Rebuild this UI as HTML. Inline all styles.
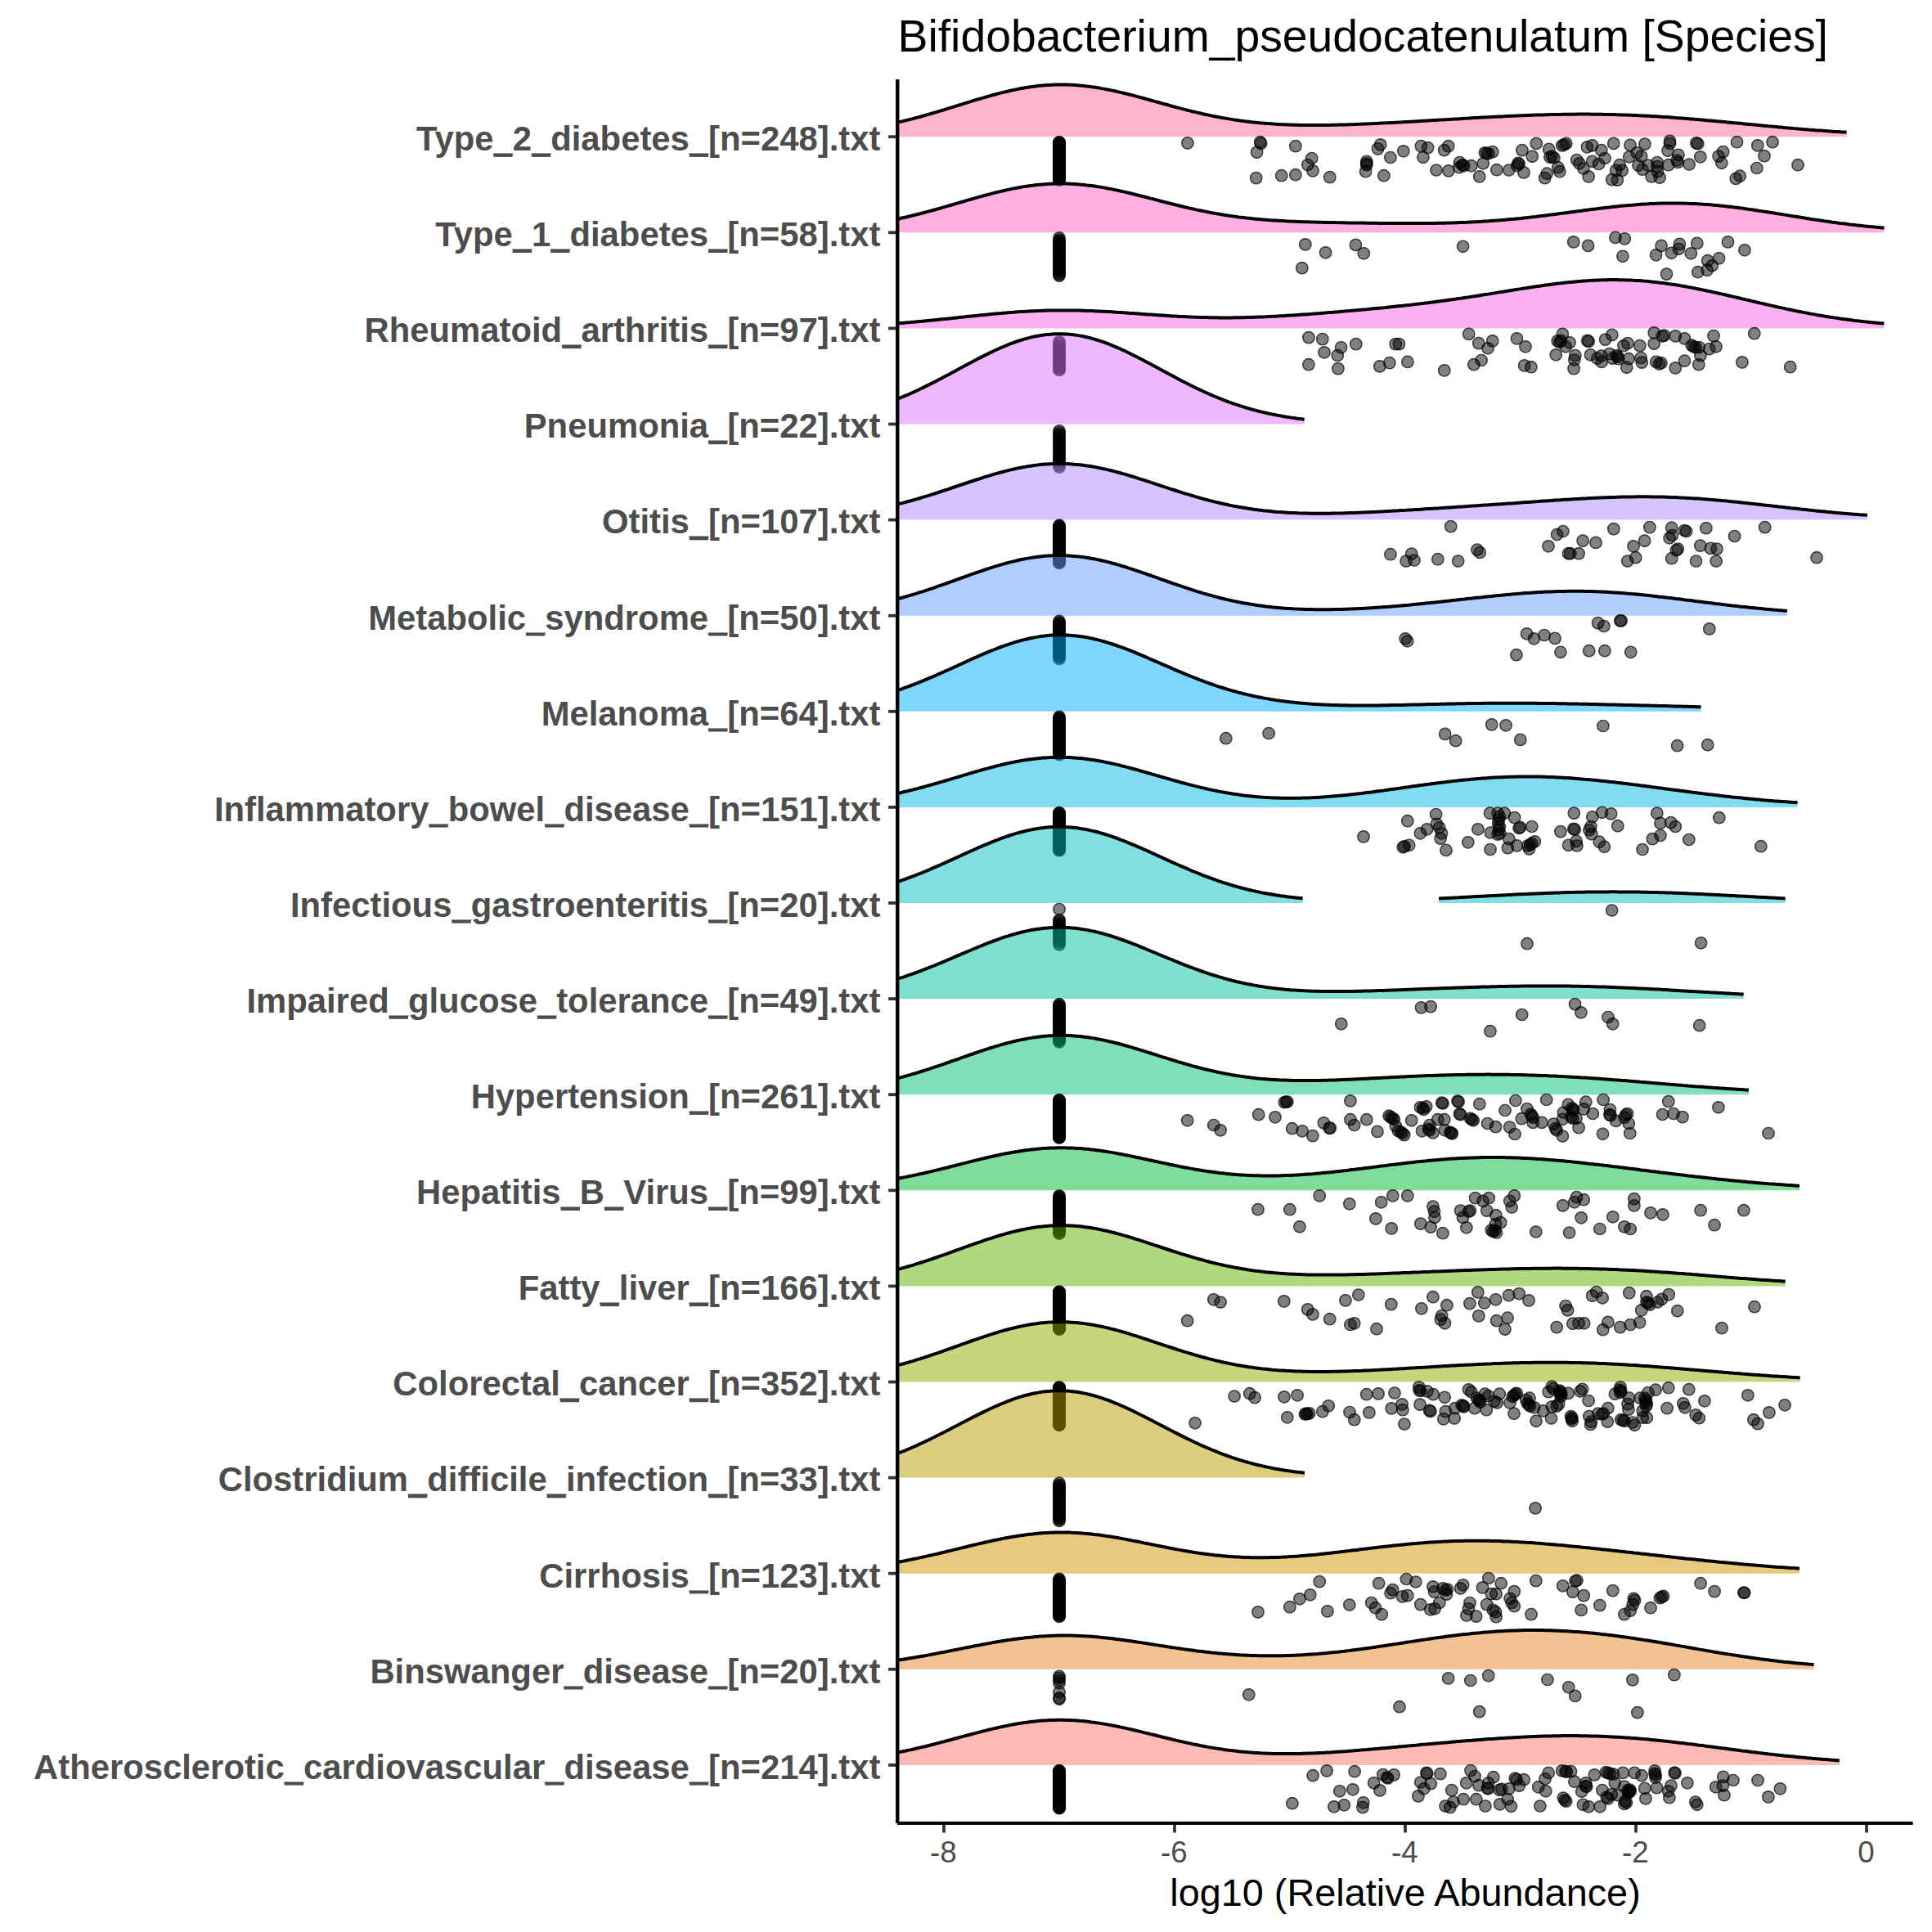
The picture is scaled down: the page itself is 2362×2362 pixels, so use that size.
<!DOCTYPE html>
<html><head><meta charset="utf-8"><title>Bifidobacterium_pseudocatenulatum [Species]</title>
<style>html,body{margin:0;padding:0;background:#fff;}body{width:2362px;height:2362px;overflow:hidden;font-family:"Liberation Sans",sans-serif;}</style>
</head><body>
<svg width="2362" height="2362" viewBox="0 0 2362 2362" style="display:block">
<rect width="2362" height="2362" fill="#fff"/>
<defs><radialGradient id="pg"><stop offset="0" stop-color="#000" stop-opacity=".5"/><stop offset=".77" stop-color="#000" stop-opacity=".5"/><stop offset=".81" stop-color="#000" stop-opacity=".76"/><stop offset="1" stop-color="#000" stop-opacity=".76"/></radialGradient></defs>
<defs><clipPath id="pc"><rect x="1097.6" y="97.2" width="1240.8" height="2131.8"/></clipPath></defs>
<g clip-path="url(#pc)">
<polygon points="1091.6,167.2 1091.6,150.9 1094.6,150.2 1097.6,149.6 1100.6,148.9 1103.6,148.2 1106.6,147.4 1109.6,146.7 1112.6,145.9 1115.6,145.2 1118.6,144.4 1121.6,143.6 1124.6,142.8 1127.6,142.0 1130.6,141.1 1133.6,140.3 1136.6,139.4 1139.6,138.5 1142.6,137.7 1145.6,136.8 1148.6,135.9 1151.6,135.0 1154.6,134.1 1157.6,133.1 1160.6,132.2 1163.6,131.3 1166.6,130.4 1169.6,129.4 1172.6,128.5 1175.6,127.6 1178.6,126.6 1181.6,125.7 1184.6,124.8 1187.6,123.9 1190.6,122.9 1193.6,122.0 1196.6,121.1 1199.6,120.3 1202.6,119.4 1205.6,118.5 1208.6,117.7 1211.6,116.8 1214.6,116.0 1217.6,115.2 1220.6,114.4 1223.6,113.6 1226.6,112.9 1229.6,112.2 1232.6,111.5 1235.6,110.8 1238.6,110.1 1241.6,109.5 1244.6,108.9 1247.6,108.3 1250.6,107.8 1253.6,107.3 1256.6,106.8 1259.6,106.3 1262.6,105.9 1265.6,105.5 1268.6,105.1 1271.6,104.8 1274.6,104.5 1277.6,104.3 1280.6,104.1 1283.6,103.9 1286.6,103.7 1289.6,103.6 1292.6,103.5 1295.6,103.5 1298.6,103.5 1301.6,103.5 1304.6,103.6 1307.6,103.7 1310.6,103.8 1313.6,104.0 1316.6,104.2 1319.6,104.5 1322.6,104.7 1325.6,105.0 1328.6,105.4 1331.6,105.7 1334.6,106.2 1337.6,106.6 1340.6,107.0 1343.6,107.5 1346.6,108.1 1349.6,108.6 1352.6,109.2 1355.6,109.8 1358.6,110.4 1361.6,111.0 1364.6,111.7 1367.6,112.4 1370.6,113.1 1373.6,113.8 1376.6,114.5 1379.6,115.3 1382.6,116.0 1385.6,116.8 1388.6,117.6 1391.6,118.4 1394.6,119.2 1397.6,120.0 1400.6,120.8 1403.6,121.7 1406.6,122.5 1409.6,123.3 1412.6,124.2 1415.6,125.0 1418.6,125.8 1421.6,126.7 1424.6,127.5 1427.6,128.3 1430.6,129.1 1433.6,130.0 1436.6,130.8 1439.6,131.6 1442.6,132.4 1445.6,133.1 1448.6,133.9 1451.6,134.7 1454.6,135.4 1457.6,136.2 1460.6,136.9 1463.6,137.6 1466.6,138.3 1469.6,139.0 1472.6,139.7 1475.6,140.3 1478.6,140.9 1481.6,141.6 1484.6,142.2 1487.6,142.8 1490.6,143.3 1493.6,143.9 1496.6,144.4 1499.6,144.9 1502.6,145.4 1505.6,145.9 1508.6,146.4 1511.6,146.8 1514.6,147.3 1517.6,147.7 1520.6,148.1 1523.6,148.5 1526.6,148.8 1529.6,149.2 1532.6,149.5 1535.6,149.8 1538.6,150.1 1541.6,150.4 1544.6,150.6 1547.6,150.9 1550.6,151.1 1553.6,151.3 1556.6,151.5 1559.6,151.7 1562.6,151.9 1565.6,152.1 1568.6,152.2 1571.6,152.3 1574.6,152.5 1577.6,152.6 1580.6,152.7 1583.6,152.7 1586.6,152.8 1589.6,152.9 1592.6,152.9 1595.6,153.0 1598.6,153.0 1601.6,153.0 1604.6,153.0 1607.6,153.0 1610.6,153.0 1613.6,153.0 1616.6,153.0 1619.6,152.9 1622.6,152.9 1625.6,152.9 1628.6,152.8 1631.6,152.7 1634.6,152.7 1637.6,152.6 1640.6,152.5 1643.6,152.4 1646.6,152.4 1649.6,152.3 1652.6,152.2 1655.6,152.1 1658.6,151.9 1661.6,151.8 1664.6,151.7 1667.6,151.6 1670.6,151.5 1673.6,151.3 1676.6,151.2 1679.6,151.1 1682.6,150.9 1685.6,150.8 1688.6,150.6 1691.6,150.5 1694.6,150.3 1697.6,150.2 1700.6,150.0 1703.6,149.9 1706.6,149.7 1709.6,149.5 1712.6,149.4 1715.6,149.2 1718.6,149.0 1721.6,148.9 1724.6,148.7 1727.6,148.5 1730.6,148.4 1733.6,148.2 1736.6,148.0 1739.6,147.8 1742.6,147.7 1745.6,147.5 1748.6,147.3 1751.6,147.1 1754.6,147.0 1757.6,146.8 1760.6,146.6 1763.6,146.4 1766.6,146.2 1769.6,146.1 1772.6,145.9 1775.6,145.7 1778.6,145.5 1781.6,145.4 1784.6,145.2 1787.6,145.0 1790.6,144.8 1793.6,144.7 1796.6,144.5 1799.6,144.3 1802.6,144.1 1805.6,144.0 1808.6,143.8 1811.6,143.6 1814.6,143.5 1817.6,143.3 1820.6,143.2 1823.6,143.0 1826.6,142.8 1829.6,142.7 1832.6,142.5 1835.6,142.4 1838.6,142.3 1841.6,142.1 1844.6,142.0 1847.6,141.8 1850.6,141.7 1853.6,141.6 1856.6,141.4 1859.6,141.3 1862.6,141.2 1865.6,141.1 1868.6,141.0 1871.6,140.8 1874.6,140.7 1877.6,140.6 1880.6,140.5 1883.6,140.5 1886.6,140.4 1889.6,140.3 1892.6,140.2 1895.6,140.1 1898.6,140.1 1901.6,140.0 1904.6,139.9 1907.6,139.9 1910.6,139.8 1913.6,139.8 1916.6,139.7 1919.6,139.7 1922.6,139.7 1925.6,139.7 1928.6,139.6 1931.6,139.6 1934.6,139.6 1937.6,139.6 1940.6,139.6 1943.6,139.6 1946.6,139.7 1949.6,139.7 1952.6,139.7 1955.6,139.8 1958.6,139.8 1961.6,139.9 1964.6,139.9 1967.6,140.0 1970.6,140.0 1973.6,140.1 1976.6,140.2 1979.6,140.3 1982.6,140.4 1985.6,140.5 1988.6,140.6 1991.6,140.7 1994.6,140.8 1997.6,140.9 2000.6,141.1 2003.6,141.2 2006.6,141.4 2009.6,141.5 2012.6,141.7 2015.6,141.8 2018.6,142.0 2021.6,142.2 2024.6,142.3 2027.6,142.5 2030.6,142.7 2033.6,142.9 2036.6,143.1 2039.6,143.3 2042.6,143.5 2045.6,143.7 2048.6,144.0 2051.6,144.2 2054.6,144.4 2057.6,144.6 2060.6,144.9 2063.6,145.1 2066.6,145.4 2069.6,145.6 2072.6,145.9 2075.6,146.1 2078.6,146.4 2081.6,146.6 2084.6,146.9 2087.6,147.2 2090.6,147.4 2093.6,147.7 2096.6,148.0 2099.6,148.3 2102.6,148.5 2105.6,148.8 2108.6,149.1 2111.6,149.4 2114.6,149.7 2117.6,150.0 2120.6,150.3 2123.6,150.5 2126.6,150.8 2129.6,151.1 2132.6,151.4 2135.6,151.7 2138.6,152.0 2141.6,152.3 2144.6,152.6 2147.6,152.8 2150.6,153.1 2153.6,153.4 2156.6,153.7 2159.6,154.0 2162.6,154.3 2165.6,154.5 2168.6,154.8 2171.6,155.1 2174.6,155.4 2177.6,155.6 2180.6,155.9 2183.6,156.2 2186.6,156.4 2189.6,156.7 2192.6,157.0 2195.6,157.2 2198.6,157.5 2201.6,157.7 2204.6,158.0 2207.6,158.2 2210.6,158.5 2213.6,158.7 2216.6,158.9 2219.6,159.2 2222.6,159.4 2225.6,159.6 2228.6,159.8 2231.6,160.0 2234.6,160.3 2237.6,160.5 2240.6,160.7 2243.6,160.9 2246.6,161.1 2249.6,161.3 2252.6,161.5 2255.6,161.6 2257.6,161.8 2257.6,167.2" fill="#FF699C" fill-opacity="0.5"/>
<polyline points="1091.6,150.9 1094.6,150.2 1097.6,149.6 1100.6,148.9 1103.6,148.2 1106.6,147.4 1109.6,146.7 1112.6,145.9 1115.6,145.2 1118.6,144.4 1121.6,143.6 1124.6,142.8 1127.6,142.0 1130.6,141.1 1133.6,140.3 1136.6,139.4 1139.6,138.5 1142.6,137.7 1145.6,136.8 1148.6,135.9 1151.6,135.0 1154.6,134.1 1157.6,133.1 1160.6,132.2 1163.6,131.3 1166.6,130.4 1169.6,129.4 1172.6,128.5 1175.6,127.6 1178.6,126.6 1181.6,125.7 1184.6,124.8 1187.6,123.9 1190.6,122.9 1193.6,122.0 1196.6,121.1 1199.6,120.3 1202.6,119.4 1205.6,118.5 1208.6,117.7 1211.6,116.8 1214.6,116.0 1217.6,115.2 1220.6,114.4 1223.6,113.6 1226.6,112.9 1229.6,112.2 1232.6,111.5 1235.6,110.8 1238.6,110.1 1241.6,109.5 1244.6,108.9 1247.6,108.3 1250.6,107.8 1253.6,107.3 1256.6,106.8 1259.6,106.3 1262.6,105.9 1265.6,105.5 1268.6,105.1 1271.6,104.8 1274.6,104.5 1277.6,104.3 1280.6,104.1 1283.6,103.9 1286.6,103.7 1289.6,103.6 1292.6,103.5 1295.6,103.5 1298.6,103.5 1301.6,103.5 1304.6,103.6 1307.6,103.7 1310.6,103.8 1313.6,104.0 1316.6,104.2 1319.6,104.5 1322.6,104.7 1325.6,105.0 1328.6,105.4 1331.6,105.7 1334.6,106.2 1337.6,106.6 1340.6,107.0 1343.6,107.5 1346.6,108.1 1349.6,108.6 1352.6,109.2 1355.6,109.8 1358.6,110.4 1361.6,111.0 1364.6,111.7 1367.6,112.4 1370.6,113.1 1373.6,113.8 1376.6,114.5 1379.6,115.3 1382.6,116.0 1385.6,116.8 1388.6,117.6 1391.6,118.4 1394.6,119.2 1397.6,120.0 1400.6,120.8 1403.6,121.7 1406.6,122.5 1409.6,123.3 1412.6,124.2 1415.6,125.0 1418.6,125.8 1421.6,126.7 1424.6,127.5 1427.6,128.3 1430.6,129.1 1433.6,130.0 1436.6,130.8 1439.6,131.6 1442.6,132.4 1445.6,133.1 1448.6,133.9 1451.6,134.7 1454.6,135.4 1457.6,136.2 1460.6,136.9 1463.6,137.6 1466.6,138.3 1469.6,139.0 1472.6,139.7 1475.6,140.3 1478.6,140.9 1481.6,141.6 1484.6,142.2 1487.6,142.8 1490.6,143.3 1493.6,143.9 1496.6,144.4 1499.6,144.9 1502.6,145.4 1505.6,145.9 1508.6,146.4 1511.6,146.8 1514.6,147.3 1517.6,147.7 1520.6,148.1 1523.6,148.5 1526.6,148.8 1529.6,149.2 1532.6,149.5 1535.6,149.8 1538.6,150.1 1541.6,150.4 1544.6,150.6 1547.6,150.9 1550.6,151.1 1553.6,151.3 1556.6,151.5 1559.6,151.7 1562.6,151.9 1565.6,152.1 1568.6,152.2 1571.6,152.3 1574.6,152.5 1577.6,152.6 1580.6,152.7 1583.6,152.7 1586.6,152.8 1589.6,152.9 1592.6,152.9 1595.6,153.0 1598.6,153.0 1601.6,153.0 1604.6,153.0 1607.6,153.0 1610.6,153.0 1613.6,153.0 1616.6,153.0 1619.6,152.9 1622.6,152.9 1625.6,152.9 1628.6,152.8 1631.6,152.7 1634.6,152.7 1637.6,152.6 1640.6,152.5 1643.6,152.4 1646.6,152.4 1649.6,152.3 1652.6,152.2 1655.6,152.1 1658.6,151.9 1661.6,151.8 1664.6,151.7 1667.6,151.6 1670.6,151.5 1673.6,151.3 1676.6,151.2 1679.6,151.1 1682.6,150.9 1685.6,150.8 1688.6,150.6 1691.6,150.5 1694.6,150.3 1697.6,150.2 1700.6,150.0 1703.6,149.9 1706.6,149.7 1709.6,149.5 1712.6,149.4 1715.6,149.2 1718.6,149.0 1721.6,148.9 1724.6,148.7 1727.6,148.5 1730.6,148.4 1733.6,148.2 1736.6,148.0 1739.6,147.8 1742.6,147.7 1745.6,147.5 1748.6,147.3 1751.6,147.1 1754.6,147.0 1757.6,146.8 1760.6,146.6 1763.6,146.4 1766.6,146.2 1769.6,146.1 1772.6,145.9 1775.6,145.7 1778.6,145.5 1781.6,145.4 1784.6,145.2 1787.6,145.0 1790.6,144.8 1793.6,144.7 1796.6,144.5 1799.6,144.3 1802.6,144.1 1805.6,144.0 1808.6,143.8 1811.6,143.6 1814.6,143.5 1817.6,143.3 1820.6,143.2 1823.6,143.0 1826.6,142.8 1829.6,142.7 1832.6,142.5 1835.6,142.4 1838.6,142.3 1841.6,142.1 1844.6,142.0 1847.6,141.8 1850.6,141.7 1853.6,141.6 1856.6,141.4 1859.6,141.3 1862.6,141.2 1865.6,141.1 1868.6,141.0 1871.6,140.8 1874.6,140.7 1877.6,140.6 1880.6,140.5 1883.6,140.5 1886.6,140.4 1889.6,140.3 1892.6,140.2 1895.6,140.1 1898.6,140.1 1901.6,140.0 1904.6,139.9 1907.6,139.9 1910.6,139.8 1913.6,139.8 1916.6,139.7 1919.6,139.7 1922.6,139.7 1925.6,139.7 1928.6,139.6 1931.6,139.6 1934.6,139.6 1937.6,139.6 1940.6,139.6 1943.6,139.6 1946.6,139.7 1949.6,139.7 1952.6,139.7 1955.6,139.8 1958.6,139.8 1961.6,139.9 1964.6,139.9 1967.6,140.0 1970.6,140.0 1973.6,140.1 1976.6,140.2 1979.6,140.3 1982.6,140.4 1985.6,140.5 1988.6,140.6 1991.6,140.7 1994.6,140.8 1997.6,140.9 2000.6,141.1 2003.6,141.2 2006.6,141.4 2009.6,141.5 2012.6,141.7 2015.6,141.8 2018.6,142.0 2021.6,142.2 2024.6,142.3 2027.6,142.5 2030.6,142.7 2033.6,142.9 2036.6,143.1 2039.6,143.3 2042.6,143.5 2045.6,143.7 2048.6,144.0 2051.6,144.2 2054.6,144.4 2057.6,144.6 2060.6,144.9 2063.6,145.1 2066.6,145.4 2069.6,145.6 2072.6,145.9 2075.6,146.1 2078.6,146.4 2081.6,146.6 2084.6,146.9 2087.6,147.2 2090.6,147.4 2093.6,147.7 2096.6,148.0 2099.6,148.3 2102.6,148.5 2105.6,148.8 2108.6,149.1 2111.6,149.4 2114.6,149.7 2117.6,150.0 2120.6,150.3 2123.6,150.5 2126.6,150.8 2129.6,151.1 2132.6,151.4 2135.6,151.7 2138.6,152.0 2141.6,152.3 2144.6,152.6 2147.6,152.8 2150.6,153.1 2153.6,153.4 2156.6,153.7 2159.6,154.0 2162.6,154.3 2165.6,154.5 2168.6,154.8 2171.6,155.1 2174.6,155.4 2177.6,155.6 2180.6,155.9 2183.6,156.2 2186.6,156.4 2189.6,156.7 2192.6,157.0 2195.6,157.2 2198.6,157.5 2201.6,157.7 2204.6,158.0 2207.6,158.2 2210.6,158.5 2213.6,158.7 2216.6,158.9 2219.6,159.2 2222.6,159.4 2225.6,159.6 2228.6,159.8 2231.6,160.0 2234.6,160.3 2237.6,160.5 2240.6,160.7 2243.6,160.9 2246.6,161.1 2249.6,161.3 2252.6,161.5 2255.6,161.6 2257.6,161.8" fill="none" stroke="#000" stroke-width="4.0" stroke-linejoin="round"/>
<g fill="url(#pg)"><circle cx="1295.0" cy="173.8" r="7.85"/><circle cx="1295.0" cy="174.2" r="7.85"/><circle cx="1295.0" cy="174.6" r="7.85"/><circle cx="1295.0" cy="174.8" r="7.85"/><circle cx="1295.0" cy="175.2" r="7.85"/><circle cx="1295.0" cy="175.5" r="7.85"/><circle cx="1295.0" cy="175.8" r="7.85"/><circle cx="1295.0" cy="176.2" r="7.85"/><circle cx="1295.0" cy="176.4" r="7.85"/><circle cx="1295.0" cy="176.8" r="7.85"/><circle cx="1295.0" cy="177.1" r="7.85"/><circle cx="1295.0" cy="177.4" r="7.85"/><circle cx="1295.0" cy="177.8" r="7.85"/><circle cx="1295.0" cy="178.2" r="7.85"/><circle cx="1295.0" cy="178.4" r="7.85"/><circle cx="1295.0" cy="178.7" r="7.85"/><circle cx="1295.0" cy="179.1" r="7.85"/><circle cx="1295.0" cy="179.5" r="7.85"/><circle cx="1295.0" cy="179.8" r="7.85"/><circle cx="1295.0" cy="180.1" r="7.85"/><circle cx="1295.0" cy="180.5" r="7.85"/><circle cx="1295.0" cy="180.7" r="7.85"/><circle cx="1295.0" cy="181.1" r="7.85"/><circle cx="1295.0" cy="181.4" r="7.85"/><circle cx="1295.0" cy="181.7" r="7.85"/><circle cx="1295.0" cy="182.0" r="7.85"/><circle cx="1295.0" cy="182.3" r="7.85"/><circle cx="1295.0" cy="182.7" r="7.85"/><circle cx="1295.0" cy="183.0" r="7.85"/><circle cx="1295.0" cy="183.4" r="7.85"/><circle cx="1295.0" cy="183.7" r="7.85"/><circle cx="1295.0" cy="184.0" r="7.85"/><circle cx="1295.0" cy="184.3" r="7.85"/><circle cx="1295.0" cy="184.6" r="7.85"/><circle cx="1295.0" cy="184.9" r="7.85"/><circle cx="1295.0" cy="185.3" r="7.85"/><circle cx="1295.0" cy="185.7" r="7.85"/><circle cx="1295.0" cy="186.0" r="7.85"/><circle cx="1295.0" cy="186.3" r="7.85"/><circle cx="1295.0" cy="186.6" r="7.85"/><circle cx="1295.0" cy="186.9" r="7.85"/><circle cx="1295.0" cy="187.2" r="7.85"/><circle cx="1295.0" cy="187.6" r="7.85"/><circle cx="1295.0" cy="188.0" r="7.85"/><circle cx="1295.0" cy="188.2" r="7.85"/><circle cx="1295.0" cy="188.6" r="7.85"/><circle cx="1295.0" cy="188.9" r="7.85"/><circle cx="1295.0" cy="189.3" r="7.85"/><circle cx="1295.0" cy="189.6" r="7.85"/><circle cx="1295.0" cy="189.8" r="7.85"/><circle cx="1295.0" cy="190.3" r="7.85"/><circle cx="1295.0" cy="190.5" r="7.85"/><circle cx="1295.0" cy="190.8" r="7.85"/><circle cx="1295.0" cy="191.2" r="7.85"/><circle cx="1295.0" cy="191.5" r="7.85"/><circle cx="1295.0" cy="191.8" r="7.85"/><circle cx="1295.0" cy="192.1" r="7.85"/><circle cx="1295.0" cy="192.5" r="7.85"/><circle cx="1295.0" cy="192.9" r="7.85"/><circle cx="1295.0" cy="193.2" r="7.85"/><circle cx="1295.0" cy="193.5" r="7.85"/><circle cx="1295.0" cy="193.8" r="7.85"/><circle cx="1295.0" cy="194.2" r="7.85"/><circle cx="1295.0" cy="194.5" r="7.85"/><circle cx="1295.0" cy="194.8" r="7.85"/><circle cx="1295.0" cy="195.1" r="7.85"/><circle cx="1295.0" cy="195.5" r="7.85"/><circle cx="1295.0" cy="195.8" r="7.85"/><circle cx="1295.0" cy="196.1" r="7.85"/><circle cx="1295.0" cy="196.4" r="7.85"/><circle cx="1295.0" cy="196.7" r="7.85"/><circle cx="1295.0" cy="197.1" r="7.85"/><circle cx="1295.0" cy="197.4" r="7.85"/><circle cx="1295.0" cy="197.8" r="7.85"/><circle cx="1295.0" cy="198.1" r="7.85"/><circle cx="1295.0" cy="198.3" r="7.85"/><circle cx="1295.0" cy="198.7" r="7.85"/><circle cx="1295.0" cy="199.0" r="7.85"/><circle cx="1295.0" cy="199.3" r="7.85"/><circle cx="1295.0" cy="199.7" r="7.85"/><circle cx="1295.0" cy="199.9" r="7.85"/><circle cx="1295.0" cy="200.3" r="7.85"/><circle cx="1295.0" cy="200.6" r="7.85"/><circle cx="1295.0" cy="201.0" r="7.85"/><circle cx="1295.0" cy="201.2" r="7.85"/><circle cx="1295.0" cy="201.6" r="7.85"/><circle cx="1295.0" cy="201.9" r="7.85"/><circle cx="1295.0" cy="202.3" r="7.85"/><circle cx="1295.0" cy="202.5" r="7.85"/><circle cx="1295.0" cy="202.9" r="7.85"/><circle cx="1295.0" cy="203.3" r="7.85"/><circle cx="1295.0" cy="203.7" r="7.85"/><circle cx="1295.0" cy="204.0" r="7.85"/><circle cx="1295.0" cy="204.3" r="7.85"/><circle cx="1295.0" cy="204.5" r="7.85"/><circle cx="1295.0" cy="204.9" r="7.85"/><circle cx="1295.0" cy="205.2" r="7.85"/><circle cx="1295.0" cy="205.6" r="7.85"/><circle cx="1295.0" cy="206.0" r="7.85"/><circle cx="1295.0" cy="206.1" r="7.85"/><circle cx="1295.0" cy="206.5" r="7.85"/><circle cx="1295.0" cy="206.8" r="7.85"/><circle cx="1295.0" cy="207.1" r="7.85"/><circle cx="1295.0" cy="207.5" r="7.85"/><circle cx="1295.0" cy="207.9" r="7.85"/><circle cx="1295.0" cy="208.1" r="7.85"/><circle cx="1295.0" cy="208.4" r="7.85"/><circle cx="1295.0" cy="208.8" r="7.85"/><circle cx="1295.0" cy="209.1" r="7.85"/><circle cx="1295.0" cy="209.5" r="7.85"/><circle cx="1295.0" cy="209.9" r="7.85"/><circle cx="1295.0" cy="210.2" r="7.85"/><circle cx="1295.0" cy="210.5" r="7.85"/><circle cx="1295.0" cy="210.8" r="7.85"/><circle cx="1295.0" cy="211.1" r="7.85"/><circle cx="1295.0" cy="211.4" r="7.85"/><circle cx="1295.0" cy="211.8" r="7.85"/><circle cx="1295.0" cy="212.1" r="7.85"/><circle cx="1295.0" cy="212.5" r="7.85"/><circle cx="1295.0" cy="212.8" r="7.85"/><circle cx="1295.0" cy="213.0" r="7.85"/><circle cx="1295.0" cy="213.4" r="7.85"/><circle cx="1295.0" cy="213.7" r="7.85"/><circle cx="1295.0" cy="214.1" r="7.85"/><circle cx="1295.0" cy="214.3" r="7.85"/><circle cx="1295.0" cy="214.6" r="7.85"/><circle cx="1295.0" cy="215.0" r="7.85"/><circle cx="1295.0" cy="215.3" r="7.85"/><circle cx="1295.0" cy="215.6" r="7.85"/><circle cx="1295.0" cy="215.9" r="7.85"/><circle cx="1295.0" cy="216.2" r="7.85"/><circle cx="1295.0" cy="216.6" r="7.85"/><circle cx="1295.0" cy="216.9" r="7.85"/><circle cx="1295.0" cy="217.3" r="7.85"/><circle cx="1295.0" cy="217.6" r="7.85"/><circle cx="1295.0" cy="218.0" r="7.85"/><circle cx="1295.0" cy="218.3" r="7.85"/><circle cx="1295.0" cy="218.6" r="7.85"/><circle cx="1295.0" cy="218.9" r="7.85"/><circle cx="1295.0" cy="219.2" r="7.85"/><circle cx="1295.0" cy="219.6" r="7.85"/><circle cx="1295.0" cy="220.0" r="7.85"/><circle cx="1451.9" cy="174.9" r="7.85"/><circle cx="1540.6" cy="173.7" r="7.85"/><circle cx="1541.6" cy="175.4" r="7.85"/><circle cx="1536.6" cy="186.1" r="7.85"/><circle cx="1535.7" cy="217.6" r="7.85"/><circle cx="1583.9" cy="178.6" r="7.85"/><circle cx="1566.7" cy="214.7" r="7.85"/><circle cx="1583.9" cy="213.7" r="7.85"/><circle cx="1603.7" cy="193.5" r="7.85"/><circle cx="1598.8" cy="201.5" r="7.85"/><circle cx="1605.0" cy="208.9" r="7.85"/><circle cx="1625.8" cy="216.6" r="7.85"/><circle cx="1687.7" cy="176.9" r="7.85"/><circle cx="1684.5" cy="181.9" r="7.85"/><circle cx="1670.8" cy="197.3" r="7.85"/><circle cx="1670.8" cy="199.8" r="7.85"/><circle cx="1670.8" cy="201.7" r="7.85"/><circle cx="1669.6" cy="209.7" r="7.85"/><circle cx="1699.9" cy="192.5" r="7.85"/><circle cx="1691.9" cy="214.7" r="7.85"/><circle cx="1715.8" cy="184.8" r="7.85"/><circle cx="1737.4" cy="178.6" r="7.85"/><circle cx="1745.6" cy="180.6" r="7.85"/><circle cx="1739.9" cy="192.3" r="7.85"/><circle cx="1770.7" cy="178.6" r="7.85"/><circle cx="1765.7" cy="183.6" r="7.85"/><circle cx="1756.0" cy="208.0" r="7.85"/><circle cx="1770.9" cy="208.9" r="7.85"/><circle cx="1784.6" cy="198.5" r="7.85"/><circle cx="1783.9" cy="204.7" r="7.85"/><circle cx="1788.1" cy="201.7" r="7.85"/><circle cx="1789.6" cy="202.7" r="7.85"/><circle cx="1798.8" cy="202.7" r="7.85"/><circle cx="1813.2" cy="199.8" r="7.85"/><circle cx="1808.7" cy="215.9" r="7.85"/><circle cx="1815.4" cy="186.8" r="7.85"/><circle cx="1817.4" cy="187.3" r="7.85"/><circle cx="1819.9" cy="187.8" r="7.85"/><circle cx="1824.8" cy="185.6" r="7.85"/><circle cx="1829.8" cy="207.7" r="7.85"/><circle cx="1844.7" cy="208.0" r="7.85"/><circle cx="1860.9" cy="183.6" r="7.85"/><circle cx="1856.1" cy="199.3" r="7.85"/><circle cx="1857.1" cy="200.5" r="7.85"/><circle cx="1854.7" cy="202.7" r="7.85"/><circle cx="1862.9" cy="210.9" r="7.85"/><circle cx="1878.3" cy="175.4" r="7.85"/><circle cx="1873.3" cy="191.1" r="7.85"/><circle cx="1893.7" cy="182.4" r="7.85"/><circle cx="1909.8" cy="177.9" r="7.85"/><circle cx="1912.3" cy="176.9" r="7.85"/><circle cx="1914.8" cy="175.4" r="7.85"/><circle cx="1894.9" cy="192.3" r="7.85"/><circle cx="1899.9" cy="193.0" r="7.85"/><circle cx="1897.4" cy="191.1" r="7.85"/><circle cx="1904.8" cy="204.7" r="7.85"/><circle cx="1906.8" cy="209.7" r="7.85"/><circle cx="1891.2" cy="212.2" r="7.85"/><circle cx="1888.7" cy="217.6" r="7.85"/><circle cx="1940.4" cy="179.9" r="7.85"/><circle cx="1946.6" cy="177.9" r="7.85"/><circle cx="1957.8" cy="183.6" r="7.85"/><circle cx="1927.7" cy="195.5" r="7.85"/><circle cx="1930.9" cy="199.8" r="7.85"/><circle cx="1935.9" cy="206.0" r="7.85"/><circle cx="1942.1" cy="215.9" r="7.85"/><circle cx="1946.6" cy="197.3" r="7.85"/><circle cx="1954.5" cy="200.5" r="7.85"/><circle cx="1962.0" cy="193.5" r="7.85"/><circle cx="1972.7" cy="175.4" r="7.85"/><circle cx="1993.0" cy="177.4" r="7.85"/><circle cx="2010.9" cy="176.1" r="7.85"/><circle cx="1991.8" cy="191.8" r="7.85"/><circle cx="2001.2" cy="186.8" r="7.85"/><circle cx="2006.7" cy="191.1" r="7.85"/><circle cx="1980.1" cy="201.7" r="7.85"/><circle cx="1975.7" cy="208.4" r="7.85"/><circle cx="1983.1" cy="208.4" r="7.85"/><circle cx="1970.7" cy="219.6" r="7.85"/><circle cx="1977.4" cy="220.1" r="7.85"/><circle cx="2003.0" cy="202.2" r="7.85"/><circle cx="2008.0" cy="207.2" r="7.85"/><circle cx="2015.4" cy="202.2" r="7.85"/><circle cx="2026.1" cy="198.5" r="7.85"/><circle cx="2026.1" cy="203.5" r="7.85"/><circle cx="2026.6" cy="209.7" r="7.85"/><circle cx="2019.1" cy="215.9" r="7.85"/><circle cx="2029.1" cy="217.1" r="7.85"/><circle cx="2041.5" cy="172.4" r="7.85"/><circle cx="2041.5" cy="175.4" r="7.85"/><circle cx="2039.0" cy="184.1" r="7.85"/><circle cx="2051.9" cy="189.3" r="7.85"/><circle cx="2050.2" cy="196.0" r="7.85"/><circle cx="2051.4" cy="198.5" r="7.85"/><circle cx="2039.8" cy="201.7" r="7.85"/><circle cx="2065.1" cy="201.0" r="7.85"/><circle cx="2073.8" cy="174.9" r="7.85"/><circle cx="2075.8" cy="175.7" r="7.85"/><circle cx="2078.8" cy="191.8" r="7.85"/><circle cx="2101.1" cy="191.1" r="7.85"/><circle cx="2106.6" cy="185.6" r="7.85"/><circle cx="2104.8" cy="199.3" r="7.85"/><circle cx="2123.5" cy="173.7" r="7.85"/><circle cx="2148.8" cy="177.9" r="7.85"/><circle cx="2167.0" cy="173.7" r="7.85"/><circle cx="2157.0" cy="190.6" r="7.85"/><circle cx="2147.8" cy="205.5" r="7.85"/><circle cx="2122.2" cy="218.4" r="7.85"/><circle cx="2127.2" cy="215.2" r="7.85"/><circle cx="2198.0" cy="201.7" r="7.85"/></g>
<polygon points="1091.6,284.3 1091.6,268.9 1094.6,268.3 1097.6,267.7 1100.6,267.0 1103.6,266.3 1106.6,265.7 1109.6,265.0 1112.6,264.3 1115.6,263.5 1118.6,262.8 1121.6,262.0 1124.6,261.3 1127.6,260.5 1130.6,259.7 1133.6,258.9 1136.6,258.1 1139.6,257.3 1142.6,256.5 1145.6,255.6 1148.6,254.8 1151.6,253.9 1154.6,253.1 1157.6,252.2 1160.6,251.3 1163.6,250.5 1166.6,249.6 1169.6,248.7 1172.6,247.8 1175.6,247.0 1178.6,246.1 1181.6,245.2 1184.6,244.3 1187.6,243.5 1190.6,242.6 1193.6,241.8 1196.6,240.9 1199.6,240.1 1202.6,239.3 1205.6,238.5 1208.6,237.7 1211.6,236.9 1214.6,236.1 1217.6,235.3 1220.6,234.6 1223.6,233.9 1226.6,233.2 1229.6,232.5 1232.6,231.9 1235.6,231.2 1238.6,230.6 1241.6,230.0 1244.6,229.5 1247.6,228.9 1250.6,228.4 1253.6,227.9 1256.6,227.5 1259.6,227.1 1262.6,226.7 1265.6,226.3 1268.6,226.0 1271.6,225.7 1274.6,225.4 1277.6,225.2 1280.6,225.0 1283.6,224.8 1286.6,224.7 1289.6,224.6 1292.6,224.5 1295.6,224.5 1298.6,224.5 1301.6,224.5 1304.6,224.6 1307.6,224.7 1310.6,224.9 1313.6,225.0 1316.6,225.2 1319.6,225.5 1322.6,225.7 1325.6,226.0 1328.6,226.4 1331.6,226.7 1334.6,227.1 1337.6,227.5 1340.6,228.0 1343.6,228.4 1346.6,228.9 1349.6,229.4 1352.6,230.0 1355.6,230.6 1358.6,231.1 1361.6,231.8 1364.6,232.4 1367.6,233.0 1370.6,233.7 1373.6,234.4 1376.6,235.1 1379.6,235.8 1382.6,236.5 1385.6,237.2 1388.6,238.0 1391.6,238.7 1394.6,239.5 1397.6,240.2 1400.6,241.0 1403.6,241.8 1406.6,242.6 1409.6,243.3 1412.6,244.1 1415.6,244.9 1418.6,245.7 1421.6,246.5 1424.6,247.2 1427.6,248.0 1430.6,248.8 1433.6,249.5 1436.6,250.3 1439.6,251.0 1442.6,251.7 1445.6,252.5 1448.6,253.2 1451.6,253.9 1454.6,254.6 1457.6,255.2 1460.6,255.9 1463.6,256.6 1466.6,257.2 1469.6,257.8 1472.6,258.4 1475.6,259.0 1478.6,259.6 1481.6,260.2 1484.6,260.7 1487.6,261.3 1490.6,261.8 1493.6,262.3 1496.6,262.8 1499.6,263.2 1502.6,263.7 1505.6,264.1 1508.6,264.6 1511.6,265.0 1514.6,265.4 1517.6,265.7 1520.6,266.1 1523.6,266.5 1526.6,266.8 1529.6,267.1 1532.6,267.4 1535.6,267.7 1538.6,268.0 1541.6,268.3 1544.6,268.5 1547.6,268.7 1550.6,269.0 1553.6,269.2 1556.6,269.4 1559.6,269.6 1562.6,269.8 1565.6,270.0 1568.6,270.1 1571.6,270.3 1574.6,270.4 1577.6,270.6 1580.6,270.7 1583.6,270.8 1586.6,270.9 1589.6,271.1 1592.6,271.2 1595.6,271.3 1598.6,271.3 1601.6,271.4 1604.6,271.5 1607.6,271.6 1610.6,271.7 1613.6,271.7 1616.6,271.8 1619.6,271.9 1622.6,271.9 1625.6,272.0 1628.6,272.1 1631.6,272.1 1634.6,272.2 1637.6,272.2 1640.6,272.3 1643.6,272.3 1646.6,272.4 1649.6,272.4 1652.6,272.4 1655.6,272.5 1658.6,272.5 1661.6,272.6 1664.6,272.6 1667.6,272.6 1670.6,272.7 1673.6,272.7 1676.6,272.8 1679.6,272.8 1682.6,272.8 1685.6,272.9 1688.6,272.9 1691.6,272.9 1694.6,272.9 1697.6,273.0 1700.6,273.0 1703.6,273.0 1706.6,273.0 1709.6,273.0 1712.6,273.1 1715.6,273.1 1718.6,273.1 1721.6,273.1 1724.6,273.1 1727.6,273.1 1730.6,273.1 1733.6,273.1 1736.6,273.1 1739.6,273.0 1742.6,273.0 1745.6,273.0 1748.6,273.0 1751.6,272.9 1754.6,272.9 1757.6,272.8 1760.6,272.8 1763.6,272.7 1766.6,272.7 1769.6,272.6 1772.6,272.5 1775.6,272.4 1778.6,272.3 1781.6,272.2 1784.6,272.1 1787.6,272.0 1790.6,271.9 1793.6,271.8 1796.6,271.6 1799.6,271.5 1802.6,271.3 1805.6,271.2 1808.6,271.0 1811.6,270.8 1814.6,270.6 1817.6,270.4 1820.6,270.2 1823.6,270.0 1826.6,269.8 1829.6,269.6 1832.6,269.4 1835.6,269.1 1838.6,268.9 1841.6,268.6 1844.6,268.3 1847.6,268.0 1850.6,267.8 1853.6,267.5 1856.6,267.2 1859.6,266.9 1862.6,266.5 1865.6,266.2 1868.6,265.9 1871.6,265.6 1874.6,265.2 1877.6,264.9 1880.6,264.5 1883.6,264.1 1886.6,263.8 1889.6,263.4 1892.6,263.0 1895.6,262.6 1898.6,262.3 1901.6,261.9 1904.6,261.5 1907.6,261.1 1910.6,260.7 1913.6,260.3 1916.6,259.9 1919.6,259.5 1922.6,259.1 1925.6,258.7 1928.6,258.3 1931.6,257.9 1934.6,257.5 1937.6,257.1 1940.6,256.7 1943.6,256.3 1946.6,255.9 1949.6,255.5 1952.6,255.2 1955.6,254.8 1958.6,254.4 1961.6,254.1 1964.6,253.7 1967.6,253.4 1970.6,253.0 1973.6,252.7 1976.6,252.4 1979.6,252.1 1982.6,251.8 1985.6,251.5 1988.6,251.2 1991.6,250.9 1994.6,250.7 1997.6,250.4 2000.6,250.2 2003.6,250.0 2006.6,249.8 2009.6,249.6 2012.6,249.4 2015.6,249.2 2018.6,249.1 2021.6,249.0 2024.6,248.8 2027.6,248.7 2030.6,248.6 2033.6,248.6 2036.6,248.5 2039.6,248.5 2042.6,248.5 2045.6,248.4 2048.6,248.5 2051.6,248.5 2054.6,248.5 2057.6,248.6 2060.6,248.7 2063.6,248.8 2066.6,248.9 2069.6,249.0 2072.6,249.1 2075.6,249.3 2078.6,249.5 2081.6,249.7 2084.6,249.9 2087.6,250.1 2090.6,250.3 2093.6,250.6 2096.6,250.9 2099.6,251.1 2102.6,251.4 2105.6,251.7 2108.6,252.1 2111.6,252.4 2114.6,252.7 2117.6,253.1 2120.6,253.5 2123.6,253.8 2126.6,254.2 2129.6,254.6 2132.6,255.0 2135.6,255.5 2138.6,255.9 2141.6,256.3 2144.6,256.8 2147.6,257.2 2150.6,257.7 2153.6,258.1 2156.6,258.6 2159.6,259.0 2162.6,259.5 2165.6,260.0 2168.6,260.5 2171.6,261.0 2174.6,261.4 2177.6,261.9 2180.6,262.4 2183.6,262.9 2186.6,263.4 2189.6,263.9 2192.6,264.4 2195.6,264.8 2198.6,265.3 2201.6,265.8 2204.6,266.3 2207.6,266.8 2210.6,267.2 2213.6,267.7 2216.6,268.2 2219.6,268.6 2222.6,269.1 2225.6,269.5 2228.6,269.9 2231.6,270.4 2234.6,270.8 2237.6,271.2 2240.6,271.7 2243.6,272.1 2246.6,272.5 2249.6,272.9 2252.6,273.2 2255.6,273.6 2258.6,274.0 2261.6,274.4 2264.6,274.7 2267.6,275.1 2270.6,275.4 2273.6,275.7 2276.6,276.1 2279.6,276.4 2282.6,276.7 2285.6,277.0 2288.6,277.3 2291.6,277.6 2294.6,277.8 2297.6,278.1 2300.6,278.4 2303.6,278.6 2303.6,284.3" fill="#FF61C3" fill-opacity="0.5"/>
<polyline points="1091.6,268.9 1094.6,268.3 1097.6,267.7 1100.6,267.0 1103.6,266.3 1106.6,265.7 1109.6,265.0 1112.6,264.3 1115.6,263.5 1118.6,262.8 1121.6,262.0 1124.6,261.3 1127.6,260.5 1130.6,259.7 1133.6,258.9 1136.6,258.1 1139.6,257.3 1142.6,256.5 1145.6,255.6 1148.6,254.8 1151.6,253.9 1154.6,253.1 1157.6,252.2 1160.6,251.3 1163.6,250.5 1166.6,249.6 1169.6,248.7 1172.6,247.8 1175.6,247.0 1178.6,246.1 1181.6,245.2 1184.6,244.3 1187.6,243.5 1190.6,242.6 1193.6,241.8 1196.6,240.9 1199.6,240.1 1202.6,239.3 1205.6,238.5 1208.6,237.7 1211.6,236.9 1214.6,236.1 1217.6,235.3 1220.6,234.6 1223.6,233.9 1226.6,233.2 1229.6,232.5 1232.6,231.9 1235.6,231.2 1238.6,230.6 1241.6,230.0 1244.6,229.5 1247.6,228.9 1250.6,228.4 1253.6,227.9 1256.6,227.5 1259.6,227.1 1262.6,226.7 1265.6,226.3 1268.6,226.0 1271.6,225.7 1274.6,225.4 1277.6,225.2 1280.6,225.0 1283.6,224.8 1286.6,224.7 1289.6,224.6 1292.6,224.5 1295.6,224.5 1298.6,224.5 1301.6,224.5 1304.6,224.6 1307.6,224.7 1310.6,224.9 1313.6,225.0 1316.6,225.2 1319.6,225.5 1322.6,225.7 1325.6,226.0 1328.6,226.4 1331.6,226.7 1334.6,227.1 1337.6,227.5 1340.6,228.0 1343.6,228.4 1346.6,228.9 1349.6,229.4 1352.6,230.0 1355.6,230.6 1358.6,231.1 1361.6,231.8 1364.6,232.4 1367.6,233.0 1370.6,233.7 1373.6,234.4 1376.6,235.1 1379.6,235.8 1382.6,236.5 1385.6,237.2 1388.6,238.0 1391.6,238.7 1394.6,239.5 1397.6,240.2 1400.6,241.0 1403.6,241.8 1406.6,242.6 1409.6,243.3 1412.6,244.1 1415.6,244.9 1418.6,245.7 1421.6,246.5 1424.6,247.2 1427.6,248.0 1430.6,248.8 1433.6,249.5 1436.6,250.3 1439.6,251.0 1442.6,251.7 1445.6,252.5 1448.6,253.2 1451.6,253.9 1454.6,254.6 1457.6,255.2 1460.6,255.9 1463.6,256.6 1466.6,257.2 1469.6,257.8 1472.6,258.4 1475.6,259.0 1478.6,259.6 1481.6,260.2 1484.6,260.7 1487.6,261.3 1490.6,261.8 1493.6,262.3 1496.6,262.8 1499.6,263.2 1502.6,263.7 1505.6,264.1 1508.6,264.6 1511.6,265.0 1514.6,265.4 1517.6,265.7 1520.6,266.1 1523.6,266.5 1526.6,266.8 1529.6,267.1 1532.6,267.4 1535.6,267.7 1538.6,268.0 1541.6,268.3 1544.6,268.5 1547.6,268.7 1550.6,269.0 1553.6,269.2 1556.6,269.4 1559.6,269.6 1562.6,269.8 1565.6,270.0 1568.6,270.1 1571.6,270.3 1574.6,270.4 1577.6,270.6 1580.6,270.7 1583.6,270.8 1586.6,270.9 1589.6,271.1 1592.6,271.2 1595.6,271.3 1598.6,271.3 1601.6,271.4 1604.6,271.5 1607.6,271.6 1610.6,271.7 1613.6,271.7 1616.6,271.8 1619.6,271.9 1622.6,271.9 1625.6,272.0 1628.6,272.1 1631.6,272.1 1634.6,272.2 1637.6,272.2 1640.6,272.3 1643.6,272.3 1646.6,272.4 1649.6,272.4 1652.6,272.4 1655.6,272.5 1658.6,272.5 1661.6,272.6 1664.6,272.6 1667.6,272.6 1670.6,272.7 1673.6,272.7 1676.6,272.8 1679.6,272.8 1682.6,272.8 1685.6,272.9 1688.6,272.9 1691.6,272.9 1694.6,272.9 1697.6,273.0 1700.6,273.0 1703.6,273.0 1706.6,273.0 1709.6,273.0 1712.6,273.1 1715.6,273.1 1718.6,273.1 1721.6,273.1 1724.6,273.1 1727.6,273.1 1730.6,273.1 1733.6,273.1 1736.6,273.1 1739.6,273.0 1742.6,273.0 1745.6,273.0 1748.6,273.0 1751.6,272.9 1754.6,272.9 1757.6,272.8 1760.6,272.8 1763.6,272.7 1766.6,272.7 1769.6,272.6 1772.6,272.5 1775.6,272.4 1778.6,272.3 1781.6,272.2 1784.6,272.1 1787.6,272.0 1790.6,271.9 1793.6,271.8 1796.6,271.6 1799.6,271.5 1802.6,271.3 1805.6,271.2 1808.6,271.0 1811.6,270.8 1814.6,270.6 1817.6,270.4 1820.6,270.2 1823.6,270.0 1826.6,269.8 1829.6,269.6 1832.6,269.4 1835.6,269.1 1838.6,268.9 1841.6,268.6 1844.6,268.3 1847.6,268.0 1850.6,267.8 1853.6,267.5 1856.6,267.2 1859.6,266.9 1862.6,266.5 1865.6,266.2 1868.6,265.9 1871.6,265.6 1874.6,265.2 1877.6,264.9 1880.6,264.5 1883.6,264.1 1886.6,263.8 1889.6,263.4 1892.6,263.0 1895.6,262.6 1898.6,262.3 1901.6,261.9 1904.6,261.5 1907.6,261.1 1910.6,260.7 1913.6,260.3 1916.6,259.9 1919.6,259.5 1922.6,259.1 1925.6,258.7 1928.6,258.3 1931.6,257.9 1934.6,257.5 1937.6,257.1 1940.6,256.7 1943.6,256.3 1946.6,255.9 1949.6,255.5 1952.6,255.2 1955.6,254.8 1958.6,254.4 1961.6,254.1 1964.6,253.7 1967.6,253.4 1970.6,253.0 1973.6,252.7 1976.6,252.4 1979.6,252.1 1982.6,251.8 1985.6,251.5 1988.6,251.2 1991.6,250.9 1994.6,250.7 1997.6,250.4 2000.6,250.2 2003.6,250.0 2006.6,249.8 2009.6,249.6 2012.6,249.4 2015.6,249.2 2018.6,249.1 2021.6,249.0 2024.6,248.8 2027.6,248.7 2030.6,248.6 2033.6,248.6 2036.6,248.5 2039.6,248.5 2042.6,248.5 2045.6,248.4 2048.6,248.5 2051.6,248.5 2054.6,248.5 2057.6,248.6 2060.6,248.7 2063.6,248.8 2066.6,248.9 2069.6,249.0 2072.6,249.1 2075.6,249.3 2078.6,249.5 2081.6,249.7 2084.6,249.9 2087.6,250.1 2090.6,250.3 2093.6,250.6 2096.6,250.9 2099.6,251.1 2102.6,251.4 2105.6,251.7 2108.6,252.1 2111.6,252.4 2114.6,252.7 2117.6,253.1 2120.6,253.5 2123.6,253.8 2126.6,254.2 2129.6,254.6 2132.6,255.0 2135.6,255.5 2138.6,255.9 2141.6,256.3 2144.6,256.8 2147.6,257.2 2150.6,257.7 2153.6,258.1 2156.6,258.6 2159.6,259.0 2162.6,259.5 2165.6,260.0 2168.6,260.5 2171.6,261.0 2174.6,261.4 2177.6,261.9 2180.6,262.4 2183.6,262.9 2186.6,263.4 2189.6,263.9 2192.6,264.4 2195.6,264.8 2198.6,265.3 2201.6,265.8 2204.6,266.3 2207.6,266.8 2210.6,267.2 2213.6,267.7 2216.6,268.2 2219.6,268.6 2222.6,269.1 2225.6,269.5 2228.6,269.9 2231.6,270.4 2234.6,270.8 2237.6,271.2 2240.6,271.7 2243.6,272.1 2246.6,272.5 2249.6,272.9 2252.6,273.2 2255.6,273.6 2258.6,274.0 2261.6,274.4 2264.6,274.7 2267.6,275.1 2270.6,275.4 2273.6,275.7 2276.6,276.1 2279.6,276.4 2282.6,276.7 2285.6,277.0 2288.6,277.3 2291.6,277.6 2294.6,277.8 2297.6,278.1 2300.6,278.4 2303.6,278.6" fill="none" stroke="#000" stroke-width="4.0" stroke-linejoin="round"/>
<g fill="url(#pg)"><circle cx="1295.0" cy="290.9" r="7.85"/><circle cx="1295.0" cy="293.2" r="7.85"/><circle cx="1295.0" cy="294.3" r="7.85"/><circle cx="1295.0" cy="295.8" r="7.85"/><circle cx="1295.0" cy="297.0" r="7.85"/><circle cx="1295.0" cy="298.6" r="7.85"/><circle cx="1295.0" cy="300.2" r="7.85"/><circle cx="1295.0" cy="301.7" r="7.85"/><circle cx="1295.0" cy="303.6" r="7.85"/><circle cx="1295.0" cy="304.7" r="7.85"/><circle cx="1295.0" cy="306.1" r="7.85"/><circle cx="1295.0" cy="308.3" r="7.85"/><circle cx="1295.0" cy="309.5" r="7.85"/><circle cx="1295.0" cy="310.7" r="7.85"/><circle cx="1295.0" cy="312.5" r="7.85"/><circle cx="1295.0" cy="313.6" r="7.85"/><circle cx="1295.0" cy="315.5" r="7.85"/><circle cx="1295.0" cy="317.4" r="7.85"/><circle cx="1295.0" cy="318.8" r="7.85"/><circle cx="1295.0" cy="320.2" r="7.85"/><circle cx="1295.0" cy="321.4" r="7.85"/><circle cx="1295.0" cy="323.0" r="7.85"/><circle cx="1295.0" cy="324.4" r="7.85"/><circle cx="1295.0" cy="326.3" r="7.85"/><circle cx="1295.0" cy="327.7" r="7.85"/><circle cx="1295.0" cy="329.4" r="7.85"/><circle cx="1295.0" cy="330.5" r="7.85"/><circle cx="1295.0" cy="332.0" r="7.85"/><circle cx="1295.0" cy="333.9" r="7.85"/><circle cx="1295.0" cy="335.6" r="7.85"/><circle cx="1295.0" cy="337.1" r="7.85"/><circle cx="1595.8" cy="298.9" r="7.85"/><circle cx="1620.6" cy="308.8" r="7.85"/><circle cx="1591.8" cy="327.7" r="7.85"/><circle cx="1657.4" cy="299.4" r="7.85"/><circle cx="1667.3" cy="309.8" r="7.85"/><circle cx="1788.6" cy="301.3" r="7.85"/><circle cx="1923.7" cy="295.9" r="7.85"/><circle cx="1941.6" cy="300.4" r="7.85"/><circle cx="1974.9" cy="290.4" r="7.85"/><circle cx="1986.3" cy="291.9" r="7.85"/><circle cx="1983.9" cy="313.3" r="7.85"/><circle cx="2031.1" cy="300.4" r="7.85"/><circle cx="2024.6" cy="311.8" r="7.85"/><circle cx="2053.4" cy="298.4" r="7.85"/><circle cx="2052.4" cy="304.3" r="7.85"/><circle cx="2043.5" cy="309.3" r="7.85"/><circle cx="2067.3" cy="309.8" r="7.85"/><circle cx="2074.8" cy="297.4" r="7.85"/><circle cx="2112.5" cy="295.9" r="7.85"/><circle cx="2132.9" cy="305.8" r="7.85"/><circle cx="2087.7" cy="318.7" r="7.85"/><circle cx="2101.6" cy="315.8" r="7.85"/><circle cx="2093.2" cy="324.7" r="7.85"/><circle cx="2087.2" cy="330.2" r="7.85"/><circle cx="2075.8" cy="332.7" r="7.85"/><circle cx="2037.5" cy="335.1" r="7.85"/></g>
<polygon points="1091.6,401.4 1091.6,395.8 1094.6,395.6 1097.6,395.3 1100.6,395.1 1103.6,394.9 1106.6,394.6 1109.6,394.3 1112.6,394.1 1115.6,393.8 1118.6,393.6 1121.6,393.3 1124.6,393.0 1127.6,392.7 1130.6,392.4 1133.6,392.1 1136.6,391.8 1139.6,391.5 1142.6,391.2 1145.6,390.9 1148.6,390.6 1151.6,390.3 1154.6,390.0 1157.6,389.7 1160.6,389.4 1163.6,389.1 1166.6,388.7 1169.6,388.4 1172.6,388.1 1175.6,387.8 1178.6,387.5 1181.6,387.1 1184.6,386.8 1187.6,386.5 1190.6,386.2 1193.6,385.9 1196.6,385.6 1199.6,385.3 1202.6,385.0 1205.6,384.7 1208.6,384.4 1211.6,384.1 1214.6,383.8 1217.6,383.5 1220.6,383.2 1223.6,383.0 1226.6,382.7 1229.6,382.5 1232.6,382.2 1235.6,382.0 1238.6,381.8 1241.6,381.5 1244.6,381.3 1247.6,381.1 1250.6,380.9 1253.6,380.8 1256.6,380.6 1259.6,380.4 1262.6,380.3 1265.6,380.2 1268.6,380.0 1271.6,379.9 1274.6,379.8 1277.6,379.7 1280.6,379.6 1283.6,379.6 1286.6,379.5 1289.6,379.5 1292.6,379.4 1295.6,379.4 1298.6,379.4 1301.6,379.4 1304.6,379.4 1307.6,379.4 1310.6,379.5 1313.6,379.5 1316.6,379.6 1319.6,379.6 1322.6,379.7 1325.6,379.8 1328.6,379.9 1331.6,380.0 1334.6,380.1 1337.6,380.2 1340.6,380.4 1343.6,380.5 1346.6,380.7 1349.6,380.8 1352.6,381.0 1355.6,381.1 1358.6,381.3 1361.6,381.5 1364.6,381.7 1367.6,381.9 1370.6,382.1 1373.6,382.3 1376.6,382.5 1379.6,382.7 1382.6,382.9 1385.6,383.1 1388.6,383.3 1391.6,383.5 1394.6,383.8 1397.6,384.0 1400.6,384.2 1403.6,384.4 1406.6,384.6 1409.6,384.8 1412.6,385.0 1415.6,385.2 1418.6,385.4 1421.6,385.6 1424.6,385.8 1427.6,386.0 1430.6,386.2 1433.6,386.4 1436.6,386.5 1439.6,386.7 1442.6,386.9 1445.6,387.0 1448.6,387.2 1451.6,387.3 1454.6,387.4 1457.6,387.6 1460.6,387.7 1463.6,387.8 1466.6,387.9 1469.6,388.0 1472.6,388.1 1475.6,388.1 1478.6,388.2 1481.6,388.2 1484.6,388.3 1487.6,388.3 1490.6,388.4 1493.6,388.4 1496.6,388.4 1499.6,388.4 1502.6,388.4 1505.6,388.4 1508.6,388.3 1511.6,388.3 1514.6,388.3 1517.6,388.2 1520.6,388.2 1523.6,388.1 1526.6,388.0 1529.6,387.9 1532.6,387.8 1535.6,387.7 1538.6,387.6 1541.6,387.5 1544.6,387.4 1547.6,387.3 1550.6,387.1 1553.6,387.0 1556.6,386.8 1559.6,386.7 1562.6,386.5 1565.6,386.3 1568.6,386.2 1571.6,386.0 1574.6,385.8 1577.6,385.6 1580.6,385.4 1583.6,385.2 1586.6,385.0 1589.6,384.8 1592.6,384.6 1595.6,384.4 1598.6,384.2 1601.6,384.0 1604.6,383.7 1607.6,383.5 1610.6,383.3 1613.6,383.1 1616.6,382.8 1619.6,382.6 1622.6,382.3 1625.6,382.1 1628.6,381.9 1631.6,381.6 1634.6,381.4 1637.6,381.1 1640.6,380.8 1643.6,380.6 1646.6,380.3 1649.6,380.1 1652.6,379.8 1655.6,379.5 1658.6,379.3 1661.6,379.0 1664.6,378.7 1667.6,378.4 1670.6,378.2 1673.6,377.9 1676.6,377.6 1679.6,377.3 1682.6,377.0 1685.6,376.7 1688.6,376.4 1691.6,376.2 1694.6,375.9 1697.6,375.5 1700.6,375.2 1703.6,374.9 1706.6,374.6 1709.6,374.3 1712.6,374.0 1715.6,373.7 1718.6,373.3 1721.6,373.0 1724.6,372.7 1727.6,372.3 1730.6,372.0 1733.6,371.6 1736.6,371.3 1739.6,370.9 1742.6,370.5 1745.6,370.2 1748.6,369.8 1751.6,369.4 1754.6,369.0 1757.6,368.6 1760.6,368.2 1763.6,367.8 1766.6,367.4 1769.6,367.0 1772.6,366.6 1775.6,366.2 1778.6,365.8 1781.6,365.3 1784.6,364.9 1787.6,364.5 1790.6,364.0 1793.6,363.6 1796.6,363.1 1799.6,362.6 1802.6,362.2 1805.6,361.7 1808.6,361.3 1811.6,360.8 1814.6,360.3 1817.6,359.8 1820.6,359.4 1823.6,358.9 1826.6,358.4 1829.6,357.9 1832.6,357.4 1835.6,356.9 1838.6,356.5 1841.6,356.0 1844.6,355.5 1847.6,355.0 1850.6,354.5 1853.6,354.0 1856.6,353.6 1859.6,353.1 1862.6,352.6 1865.6,352.2 1868.6,351.7 1871.6,351.2 1874.6,350.8 1877.6,350.3 1880.6,349.9 1883.6,349.5 1886.6,349.0 1889.6,348.6 1892.6,348.2 1895.6,347.8 1898.6,347.4 1901.6,347.0 1904.6,346.6 1907.6,346.3 1910.6,345.9 1913.6,345.6 1916.6,345.3 1919.6,345.0 1922.6,344.7 1925.6,344.4 1928.6,344.1 1931.6,343.9 1934.6,343.6 1937.6,343.4 1940.6,343.2 1943.6,343.0 1946.6,342.8 1949.6,342.7 1952.6,342.5 1955.6,342.4 1958.6,342.3 1961.6,342.2 1964.6,342.2 1967.6,342.1 1970.6,342.1 1973.6,342.1 1976.6,342.1 1979.6,342.2 1982.6,342.2 1985.6,342.3 1988.6,342.4 1991.6,342.5 1994.6,342.6 1997.6,342.8 2000.6,342.9 2003.6,343.1 2006.6,343.3 2009.6,343.6 2012.6,343.8 2015.6,344.1 2018.6,344.4 2021.6,344.7 2024.6,345.0 2027.6,345.4 2030.6,345.8 2033.6,346.1 2036.6,346.5 2039.6,347.0 2042.6,347.4 2045.6,347.8 2048.6,348.3 2051.6,348.8 2054.6,349.3 2057.6,349.8 2060.6,350.3 2063.6,350.9 2066.6,351.4 2069.6,352.0 2072.6,352.6 2075.6,353.2 2078.6,353.8 2081.6,354.4 2084.6,355.0 2087.6,355.7 2090.6,356.3 2093.6,357.0 2096.6,357.6 2099.6,358.3 2102.6,359.0 2105.6,359.6 2108.6,360.3 2111.6,361.0 2114.6,361.7 2117.6,362.4 2120.6,363.1 2123.6,363.8 2126.6,364.5 2129.6,365.2 2132.6,365.9 2135.6,366.6 2138.6,367.3 2141.6,368.1 2144.6,368.8 2147.6,369.5 2150.6,370.2 2153.6,370.9 2156.6,371.5 2159.6,372.2 2162.6,372.9 2165.6,373.6 2168.6,374.3 2171.6,375.0 2174.6,375.6 2177.6,376.3 2180.6,376.9 2183.6,377.6 2186.6,378.2 2189.6,378.8 2192.6,379.5 2195.6,380.1 2198.6,380.7 2201.6,381.3 2204.6,381.9 2207.6,382.4 2210.6,383.0 2213.6,383.6 2216.6,384.1 2219.6,384.6 2222.6,385.2 2225.6,385.7 2228.6,386.2 2231.6,386.7 2234.6,387.2 2237.6,387.7 2240.6,388.1 2243.6,388.6 2246.6,389.0 2249.6,389.5 2252.6,389.9 2255.6,390.3 2258.6,390.7 2261.6,391.1 2264.6,391.5 2267.6,391.9 2270.6,392.2 2273.6,392.6 2276.6,392.9 2279.6,393.3 2282.6,393.6 2285.6,393.9 2288.6,394.2 2291.6,394.5 2294.6,394.8 2297.6,395.1 2300.6,395.3 2303.4,395.6 2303.4,401.4" fill="#F564E3" fill-opacity="0.5"/>
<polyline points="1091.6,395.8 1094.6,395.6 1097.6,395.3 1100.6,395.1 1103.6,394.9 1106.6,394.6 1109.6,394.3 1112.6,394.1 1115.6,393.8 1118.6,393.6 1121.6,393.3 1124.6,393.0 1127.6,392.7 1130.6,392.4 1133.6,392.1 1136.6,391.8 1139.6,391.5 1142.6,391.2 1145.6,390.9 1148.6,390.6 1151.6,390.3 1154.6,390.0 1157.6,389.7 1160.6,389.4 1163.6,389.1 1166.6,388.7 1169.6,388.4 1172.6,388.1 1175.6,387.8 1178.6,387.5 1181.6,387.1 1184.6,386.8 1187.6,386.5 1190.6,386.2 1193.6,385.9 1196.6,385.6 1199.6,385.3 1202.6,385.0 1205.6,384.7 1208.6,384.4 1211.6,384.1 1214.6,383.8 1217.6,383.5 1220.6,383.2 1223.6,383.0 1226.6,382.7 1229.6,382.5 1232.6,382.2 1235.6,382.0 1238.6,381.8 1241.6,381.5 1244.6,381.3 1247.6,381.1 1250.6,380.9 1253.6,380.8 1256.6,380.6 1259.6,380.4 1262.6,380.3 1265.6,380.2 1268.6,380.0 1271.6,379.9 1274.6,379.8 1277.6,379.7 1280.6,379.6 1283.6,379.6 1286.6,379.5 1289.6,379.5 1292.6,379.4 1295.6,379.4 1298.6,379.4 1301.6,379.4 1304.6,379.4 1307.6,379.4 1310.6,379.5 1313.6,379.5 1316.6,379.6 1319.6,379.6 1322.6,379.7 1325.6,379.8 1328.6,379.9 1331.6,380.0 1334.6,380.1 1337.6,380.2 1340.6,380.4 1343.6,380.5 1346.6,380.7 1349.6,380.8 1352.6,381.0 1355.6,381.1 1358.6,381.3 1361.6,381.5 1364.6,381.7 1367.6,381.9 1370.6,382.1 1373.6,382.3 1376.6,382.5 1379.6,382.7 1382.6,382.9 1385.6,383.1 1388.6,383.3 1391.6,383.5 1394.6,383.8 1397.6,384.0 1400.6,384.2 1403.6,384.4 1406.6,384.6 1409.6,384.8 1412.6,385.0 1415.6,385.2 1418.6,385.4 1421.6,385.6 1424.6,385.8 1427.6,386.0 1430.6,386.2 1433.6,386.4 1436.6,386.5 1439.6,386.7 1442.6,386.9 1445.6,387.0 1448.6,387.2 1451.6,387.3 1454.6,387.4 1457.6,387.6 1460.6,387.7 1463.6,387.8 1466.6,387.9 1469.6,388.0 1472.6,388.1 1475.6,388.1 1478.6,388.2 1481.6,388.2 1484.6,388.3 1487.6,388.3 1490.6,388.4 1493.6,388.4 1496.6,388.4 1499.6,388.4 1502.6,388.4 1505.6,388.4 1508.6,388.3 1511.6,388.3 1514.6,388.3 1517.6,388.2 1520.6,388.2 1523.6,388.1 1526.6,388.0 1529.6,387.9 1532.6,387.8 1535.6,387.7 1538.6,387.6 1541.6,387.5 1544.6,387.4 1547.6,387.3 1550.6,387.1 1553.6,387.0 1556.6,386.8 1559.6,386.7 1562.6,386.5 1565.6,386.3 1568.6,386.2 1571.6,386.0 1574.6,385.8 1577.6,385.6 1580.6,385.4 1583.6,385.2 1586.6,385.0 1589.6,384.8 1592.6,384.6 1595.6,384.4 1598.6,384.2 1601.6,384.0 1604.6,383.7 1607.6,383.5 1610.6,383.3 1613.6,383.1 1616.6,382.8 1619.6,382.6 1622.6,382.3 1625.6,382.1 1628.6,381.9 1631.6,381.6 1634.6,381.4 1637.6,381.1 1640.6,380.8 1643.6,380.6 1646.6,380.3 1649.6,380.1 1652.6,379.8 1655.6,379.5 1658.6,379.3 1661.6,379.0 1664.6,378.7 1667.6,378.4 1670.6,378.2 1673.6,377.9 1676.6,377.6 1679.6,377.3 1682.6,377.0 1685.6,376.7 1688.6,376.4 1691.6,376.2 1694.6,375.9 1697.6,375.5 1700.6,375.2 1703.6,374.9 1706.6,374.6 1709.6,374.3 1712.6,374.0 1715.6,373.7 1718.6,373.3 1721.6,373.0 1724.6,372.7 1727.6,372.3 1730.6,372.0 1733.6,371.6 1736.6,371.3 1739.6,370.9 1742.6,370.5 1745.6,370.2 1748.6,369.8 1751.6,369.4 1754.6,369.0 1757.6,368.6 1760.6,368.2 1763.6,367.8 1766.6,367.4 1769.6,367.0 1772.6,366.6 1775.6,366.2 1778.6,365.8 1781.6,365.3 1784.6,364.9 1787.6,364.5 1790.6,364.0 1793.6,363.6 1796.6,363.1 1799.6,362.6 1802.6,362.2 1805.6,361.7 1808.6,361.3 1811.6,360.8 1814.6,360.3 1817.6,359.8 1820.6,359.4 1823.6,358.9 1826.6,358.4 1829.6,357.9 1832.6,357.4 1835.6,356.9 1838.6,356.5 1841.6,356.0 1844.6,355.5 1847.6,355.0 1850.6,354.5 1853.6,354.0 1856.6,353.6 1859.6,353.1 1862.6,352.6 1865.6,352.2 1868.6,351.7 1871.6,351.2 1874.6,350.8 1877.6,350.3 1880.6,349.9 1883.6,349.5 1886.6,349.0 1889.6,348.6 1892.6,348.2 1895.6,347.8 1898.6,347.4 1901.6,347.0 1904.6,346.6 1907.6,346.3 1910.6,345.9 1913.6,345.6 1916.6,345.3 1919.6,345.0 1922.6,344.7 1925.6,344.4 1928.6,344.1 1931.6,343.9 1934.6,343.6 1937.6,343.4 1940.6,343.2 1943.6,343.0 1946.6,342.8 1949.6,342.7 1952.6,342.5 1955.6,342.4 1958.6,342.3 1961.6,342.2 1964.6,342.2 1967.6,342.1 1970.6,342.1 1973.6,342.1 1976.6,342.1 1979.6,342.2 1982.6,342.2 1985.6,342.3 1988.6,342.4 1991.6,342.5 1994.6,342.6 1997.6,342.8 2000.6,342.9 2003.6,343.1 2006.6,343.3 2009.6,343.6 2012.6,343.8 2015.6,344.1 2018.6,344.4 2021.6,344.7 2024.6,345.0 2027.6,345.4 2030.6,345.8 2033.6,346.1 2036.6,346.5 2039.6,347.0 2042.6,347.4 2045.6,347.8 2048.6,348.3 2051.6,348.8 2054.6,349.3 2057.6,349.8 2060.6,350.3 2063.6,350.9 2066.6,351.4 2069.6,352.0 2072.6,352.6 2075.6,353.2 2078.6,353.8 2081.6,354.4 2084.6,355.0 2087.6,355.7 2090.6,356.3 2093.6,357.0 2096.6,357.6 2099.6,358.3 2102.6,359.0 2105.6,359.6 2108.6,360.3 2111.6,361.0 2114.6,361.7 2117.6,362.4 2120.6,363.1 2123.6,363.8 2126.6,364.5 2129.6,365.2 2132.6,365.9 2135.6,366.6 2138.6,367.3 2141.6,368.1 2144.6,368.8 2147.6,369.5 2150.6,370.2 2153.6,370.9 2156.6,371.5 2159.6,372.2 2162.6,372.9 2165.6,373.6 2168.6,374.3 2171.6,375.0 2174.6,375.6 2177.6,376.3 2180.6,376.9 2183.6,377.6 2186.6,378.2 2189.6,378.8 2192.6,379.5 2195.6,380.1 2198.6,380.7 2201.6,381.3 2204.6,381.9 2207.6,382.4 2210.6,383.0 2213.6,383.6 2216.6,384.1 2219.6,384.6 2222.6,385.2 2225.6,385.7 2228.6,386.2 2231.6,386.7 2234.6,387.2 2237.6,387.7 2240.6,388.1 2243.6,388.6 2246.6,389.0 2249.6,389.5 2252.6,389.9 2255.6,390.3 2258.6,390.7 2261.6,391.1 2264.6,391.5 2267.6,391.9 2270.6,392.2 2273.6,392.6 2276.6,392.9 2279.6,393.3 2282.6,393.6 2285.6,393.9 2288.6,394.2 2291.6,394.5 2294.6,394.8 2297.6,395.1 2300.6,395.3 2303.4,395.6" fill="none" stroke="#000" stroke-width="4.0" stroke-linejoin="round"/>
<g fill="url(#pg)"><circle cx="1295.0" cy="417.9" r="7.85"/><circle cx="1295.0" cy="419.4" r="7.85"/><circle cx="1295.0" cy="421.4" r="7.85"/><circle cx="1295.0" cy="423.9" r="7.85"/><circle cx="1295.0" cy="425.4" r="7.85"/><circle cx="1295.0" cy="427.4" r="7.85"/><circle cx="1295.0" cy="429.4" r="7.85"/><circle cx="1295.0" cy="431.4" r="7.85"/><circle cx="1295.0" cy="432.9" r="7.85"/><circle cx="1295.0" cy="434.4" r="7.85"/><circle cx="1295.0" cy="436.4" r="7.85"/><circle cx="1295.0" cy="438.4" r="7.85"/><circle cx="1295.0" cy="440.4" r="7.85"/><circle cx="1295.0" cy="442.4" r="7.85"/><circle cx="1295.0" cy="444.4" r="7.85"/><circle cx="1295.0" cy="446.4" r="7.85"/><circle cx="1295.0" cy="448.4" r="7.85"/><circle cx="1295.0" cy="449.9" r="7.85"/><circle cx="1295.0" cy="451.4" r="7.85"/><circle cx="1295.0" cy="452.4" r="7.85"/><circle cx="1599.9" cy="412.6" r="7.85"/><circle cx="1616.8" cy="414.6" r="7.85"/><circle cx="1657.8" cy="420.6" r="7.85"/><circle cx="1639.6" cy="424.8" r="7.85"/><circle cx="1619.0" cy="430.8" r="7.85"/><circle cx="1635.2" cy="434.5" r="7.85"/><circle cx="1599.9" cy="445.7" r="7.85"/><circle cx="1635.9" cy="450.6" r="7.85"/><circle cx="1706.2" cy="420.6" r="7.85"/><circle cx="1710.4" cy="420.6" r="7.85"/><circle cx="1698.8" cy="443.7" r="7.85"/><circle cx="1686.8" cy="447.9" r="7.85"/><circle cx="1720.9" cy="442.4" r="7.85"/><circle cx="1765.8" cy="452.9" r="7.85"/><circle cx="1795.7" cy="408.4" r="7.85"/><circle cx="1807.8" cy="419.6" r="7.85"/><circle cx="1824.7" cy="416.9" r="7.85"/><circle cx="1819.0" cy="425.8" r="7.85"/><circle cx="1811.1" cy="440.5" r="7.85"/><circle cx="1801.9" cy="445.7" r="7.85"/><circle cx="1854.5" cy="413.9" r="7.85"/><circle cx="1865.0" cy="423.8" r="7.85"/><circle cx="1863.7" cy="446.9" r="7.85"/><circle cx="1871.9" cy="448.7" r="7.85"/><circle cx="1910.4" cy="408.4" r="7.85"/><circle cx="1904.2" cy="416.9" r="7.85"/><circle cx="1906.7" cy="418.3" r="7.85"/><circle cx="1908.4" cy="416.4" r="7.85"/><circle cx="1919.1" cy="418.8" r="7.85"/><circle cx="1914.2" cy="423.8" r="7.85"/><circle cx="1902.2" cy="433.8" r="7.85"/><circle cx="1925.8" cy="434.5" r="7.85"/><circle cx="1924.8" cy="440.0" r="7.85"/><circle cx="1924.1" cy="450.6" r="7.85"/><circle cx="1940.7" cy="416.4" r="7.85"/><circle cx="1942.2" cy="417.4" r="7.85"/><circle cx="1944.5" cy="433.8" r="7.85"/><circle cx="1952.7" cy="438.2" r="7.85"/><circle cx="1957.6" cy="435.0" r="7.85"/><circle cx="1958.1" cy="442.4" r="7.85"/><circle cx="1962.6" cy="415.1" r="7.85"/><circle cx="1970.8" cy="409.4" r="7.85"/><circle cx="1967.6" cy="432.5" r="7.85"/><circle cx="1971.3" cy="438.2" r="7.85"/><circle cx="1976.3" cy="434.5" r="7.85"/><circle cx="1978.0" cy="436.2" r="7.85"/><circle cx="1978.8" cy="438.7" r="7.85"/><circle cx="1985.0" cy="422.6" r="7.85"/><circle cx="1989.9" cy="419.6" r="7.85"/><circle cx="1991.2" cy="438.7" r="7.85"/><circle cx="1988.7" cy="449.2" r="7.85"/><circle cx="2004.8" cy="422.6" r="7.85"/><circle cx="2006.1" cy="437.5" r="7.85"/><circle cx="2007.3" cy="443.2" r="7.85"/><circle cx="2022.2" cy="406.9" r="7.85"/><circle cx="2022.2" cy="420.1" r="7.85"/><circle cx="2032.2" cy="410.9" r="7.85"/><circle cx="2034.7" cy="410.1" r="7.85"/><circle cx="2024.7" cy="442.4" r="7.85"/><circle cx="2028.4" cy="444.9" r="7.85"/><circle cx="2030.9" cy="443.7" r="7.85"/><circle cx="2048.3" cy="410.9" r="7.85"/><circle cx="2048.3" cy="449.9" r="7.85"/><circle cx="2059.5" cy="413.9" r="7.85"/><circle cx="2059.5" cy="441.2" r="7.85"/><circle cx="2095.0" cy="410.6" r="7.85"/><circle cx="2098.0" cy="423.8" r="7.85"/><circle cx="2089.7" cy="426.6" r="7.85"/><circle cx="2068.2" cy="422.2" r="7.85"/><circle cx="2070.6" cy="423.8" r="7.85"/><circle cx="2073.1" cy="424.6" r="7.85"/><circle cx="2077.3" cy="424.6" r="7.85"/><circle cx="2078.9" cy="434.6" r="7.85"/><circle cx="2076.8" cy="445.7" r="7.85"/><circle cx="2144.8" cy="407.7" r="7.85"/><circle cx="2129.9" cy="442.9" r="7.85"/><circle cx="2188.7" cy="448.7" r="7.85"/></g>
<polygon points="1091.6,518.5 1091.6,490.0 1094.6,488.8 1097.6,487.7 1100.6,486.4 1103.6,485.2 1106.6,483.9 1109.6,482.7 1112.6,481.3 1115.6,480.0 1118.6,478.6 1121.6,477.2 1124.6,475.8 1127.6,474.4 1130.6,472.9 1133.6,471.4 1136.6,469.9 1139.6,468.4 1142.6,466.9 1145.6,465.3 1148.6,463.8 1151.6,462.2 1154.6,460.6 1157.6,459.0 1160.6,457.4 1163.6,455.8 1166.6,454.2 1169.6,452.5 1172.6,450.9 1175.6,449.3 1178.6,447.7 1181.6,446.1 1184.6,444.5 1187.6,442.9 1190.6,441.3 1193.6,439.7 1196.6,438.1 1199.6,436.6 1202.6,435.1 1205.6,433.6 1208.6,432.1 1211.6,430.6 1214.6,429.2 1217.6,427.8 1220.6,426.5 1223.6,425.1 1226.6,423.8 1229.6,422.6 1232.6,421.4 1235.6,420.2 1238.6,419.1 1241.6,418.0 1244.6,417.0 1247.6,416.0 1250.6,415.1 1253.6,414.2 1256.6,413.4 1259.6,412.6 1262.6,411.9 1265.6,411.3 1268.6,410.7 1271.6,410.2 1274.6,409.7 1277.6,409.3 1280.6,408.9 1283.6,408.7 1286.6,408.5 1289.6,408.3 1292.6,408.2 1295.6,408.2 1298.6,408.2 1301.6,408.4 1304.6,408.5 1307.6,408.8 1310.6,409.1 1313.6,409.4 1316.6,409.9 1319.6,410.4 1322.6,410.9 1325.6,411.5 1328.6,412.2 1331.6,412.9 1334.6,413.7 1337.6,414.6 1340.6,415.5 1343.6,416.4 1346.6,417.4 1349.6,418.4 1352.6,419.5 1355.6,420.7 1358.6,421.9 1361.6,423.1 1364.6,424.4 1367.6,425.7 1370.6,427.0 1373.6,428.4 1376.6,429.8 1379.6,431.2 1382.6,432.7 1385.6,434.2 1388.6,435.7 1391.6,437.2 1394.6,438.8 1397.6,440.3 1400.6,441.9 1403.6,443.5 1406.6,445.1 1409.6,446.7 1412.6,448.3 1415.6,449.9 1418.6,451.6 1421.6,453.2 1424.6,454.8 1427.6,456.4 1430.6,458.0 1433.6,459.6 1436.6,461.2 1439.6,462.8 1442.6,464.4 1445.6,466.0 1448.6,467.5 1451.6,469.0 1454.6,470.5 1457.6,472.0 1460.6,473.5 1463.6,475.0 1466.6,476.4 1469.6,477.8 1472.6,479.2 1475.6,480.5 1478.6,481.9 1481.6,483.2 1484.6,484.5 1487.6,485.7 1490.6,486.9 1493.6,488.1 1496.6,489.3 1499.6,490.4 1502.6,491.6 1505.6,492.6 1508.6,493.7 1511.6,494.7 1514.6,495.7 1517.6,496.7 1520.6,497.6 1523.6,498.5 1526.6,499.4 1529.6,500.3 1532.6,501.1 1535.6,501.9 1538.6,502.7 1541.6,503.4 1544.6,504.1 1547.6,504.8 1550.6,505.5 1553.6,506.1 1556.6,506.7 1559.6,507.3 1562.6,507.9 1565.6,508.4 1568.6,509.0 1571.6,509.5 1574.6,509.9 1577.6,510.4 1580.6,510.8 1583.6,511.3 1586.6,511.7 1589.6,512.0 1592.6,512.4 1594.7,512.7 1594.7,518.5" fill="#DB72FB" fill-opacity="0.5"/>
<polyline points="1091.6,490.0 1094.6,488.8 1097.6,487.7 1100.6,486.4 1103.6,485.2 1106.6,483.9 1109.6,482.7 1112.6,481.3 1115.6,480.0 1118.6,478.6 1121.6,477.2 1124.6,475.8 1127.6,474.4 1130.6,472.9 1133.6,471.4 1136.6,469.9 1139.6,468.4 1142.6,466.9 1145.6,465.3 1148.6,463.8 1151.6,462.2 1154.6,460.6 1157.6,459.0 1160.6,457.4 1163.6,455.8 1166.6,454.2 1169.6,452.5 1172.6,450.9 1175.6,449.3 1178.6,447.7 1181.6,446.1 1184.6,444.5 1187.6,442.9 1190.6,441.3 1193.6,439.7 1196.6,438.1 1199.6,436.6 1202.6,435.1 1205.6,433.6 1208.6,432.1 1211.6,430.6 1214.6,429.2 1217.6,427.8 1220.6,426.5 1223.6,425.1 1226.6,423.8 1229.6,422.6 1232.6,421.4 1235.6,420.2 1238.6,419.1 1241.6,418.0 1244.6,417.0 1247.6,416.0 1250.6,415.1 1253.6,414.2 1256.6,413.4 1259.6,412.6 1262.6,411.9 1265.6,411.3 1268.6,410.7 1271.6,410.2 1274.6,409.7 1277.6,409.3 1280.6,408.9 1283.6,408.7 1286.6,408.5 1289.6,408.3 1292.6,408.2 1295.6,408.2 1298.6,408.2 1301.6,408.4 1304.6,408.5 1307.6,408.8 1310.6,409.1 1313.6,409.4 1316.6,409.9 1319.6,410.4 1322.6,410.9 1325.6,411.5 1328.6,412.2 1331.6,412.9 1334.6,413.7 1337.6,414.6 1340.6,415.5 1343.6,416.4 1346.6,417.4 1349.6,418.4 1352.6,419.5 1355.6,420.7 1358.6,421.9 1361.6,423.1 1364.6,424.4 1367.6,425.7 1370.6,427.0 1373.6,428.4 1376.6,429.8 1379.6,431.2 1382.6,432.7 1385.6,434.2 1388.6,435.7 1391.6,437.2 1394.6,438.8 1397.6,440.3 1400.6,441.9 1403.6,443.5 1406.6,445.1 1409.6,446.7 1412.6,448.3 1415.6,449.9 1418.6,451.6 1421.6,453.2 1424.6,454.8 1427.6,456.4 1430.6,458.0 1433.6,459.6 1436.6,461.2 1439.6,462.8 1442.6,464.4 1445.6,466.0 1448.6,467.5 1451.6,469.0 1454.6,470.5 1457.6,472.0 1460.6,473.5 1463.6,475.0 1466.6,476.4 1469.6,477.8 1472.6,479.2 1475.6,480.5 1478.6,481.9 1481.6,483.2 1484.6,484.5 1487.6,485.7 1490.6,486.9 1493.6,488.1 1496.6,489.3 1499.6,490.4 1502.6,491.6 1505.6,492.6 1508.6,493.7 1511.6,494.7 1514.6,495.7 1517.6,496.7 1520.6,497.6 1523.6,498.5 1526.6,499.4 1529.6,500.3 1532.6,501.1 1535.6,501.9 1538.6,502.7 1541.6,503.4 1544.6,504.1 1547.6,504.8 1550.6,505.5 1553.6,506.1 1556.6,506.7 1559.6,507.3 1562.6,507.9 1565.6,508.4 1568.6,509.0 1571.6,509.5 1574.6,509.9 1577.6,510.4 1580.6,510.8 1583.6,511.3 1586.6,511.7 1589.6,512.0 1592.6,512.4 1594.7,512.7" fill="none" stroke="#000" stroke-width="4.0" stroke-linejoin="round"/>
<g fill="url(#pg)"><circle cx="1295.0" cy="526.9" r="7.85"/><circle cx="1295.0" cy="529.0" r="7.85"/><circle cx="1295.0" cy="531.1" r="7.85"/><circle cx="1295.0" cy="533.2" r="7.85"/><circle cx="1295.0" cy="535.3" r="7.85"/><circle cx="1295.0" cy="537.4" r="7.85"/><circle cx="1295.0" cy="539.6" r="7.85"/><circle cx="1295.0" cy="541.7" r="7.85"/><circle cx="1295.0" cy="543.8" r="7.85"/><circle cx="1295.0" cy="545.9" r="7.85"/><circle cx="1295.0" cy="548.0" r="7.85"/><circle cx="1295.0" cy="550.1" r="7.85"/><circle cx="1295.0" cy="552.2" r="7.85"/><circle cx="1295.0" cy="554.3" r="7.85"/><circle cx="1295.0" cy="556.4" r="7.85"/><circle cx="1295.0" cy="558.5" r="7.85"/><circle cx="1295.0" cy="560.7" r="7.85"/><circle cx="1295.0" cy="562.8" r="7.85"/><circle cx="1295.0" cy="564.9" r="7.85"/><circle cx="1295.0" cy="567.0" r="7.85"/><circle cx="1295.0" cy="569.1" r="7.85"/><circle cx="1295.0" cy="571.2" r="7.85"/></g>
<polygon points="1091.6,635.6 1091.6,617.8 1094.6,617.1 1097.6,616.4 1100.6,615.6 1103.6,614.9 1106.6,614.1 1109.6,613.3 1112.6,612.5 1115.6,611.6 1118.6,610.8 1121.6,609.9 1124.6,609.0 1127.6,608.1 1130.6,607.2 1133.6,606.3 1136.6,605.4 1139.6,604.4 1142.6,603.5 1145.6,602.5 1148.6,601.5 1151.6,600.5 1154.6,599.5 1157.6,598.6 1160.6,597.6 1163.6,596.5 1166.6,595.5 1169.6,594.5 1172.6,593.5 1175.6,592.5 1178.6,591.5 1181.6,590.5 1184.6,589.5 1187.6,588.5 1190.6,587.5 1193.6,586.5 1196.6,585.6 1199.6,584.6 1202.6,583.6 1205.6,582.7 1208.6,581.8 1211.6,580.9 1214.6,580.0 1217.6,579.1 1220.6,578.3 1223.6,577.5 1226.6,576.7 1229.6,575.9 1232.6,575.1 1235.6,574.4 1238.6,573.7 1241.6,573.0 1244.6,572.4 1247.6,571.8 1250.6,571.2 1253.6,570.7 1256.6,570.1 1259.6,569.7 1262.6,569.2 1265.6,568.8 1268.6,568.5 1271.6,568.1 1274.6,567.8 1277.6,567.6 1280.6,567.4 1283.6,567.2 1286.6,567.1 1289.6,567.0 1292.6,566.9 1295.6,566.9 1298.6,566.9 1301.6,567.0 1304.6,567.1 1307.6,567.2 1310.6,567.4 1313.6,567.7 1316.6,567.9 1319.6,568.2 1322.6,568.6 1325.6,569.0 1328.6,569.4 1331.6,569.8 1334.6,570.3 1337.6,570.8 1340.6,571.4 1343.6,572.0 1346.6,572.6 1349.6,573.2 1352.6,573.9 1355.6,574.6 1358.6,575.3 1361.6,576.1 1364.6,576.9 1367.6,577.7 1370.6,578.5 1373.6,579.4 1376.6,580.2 1379.6,581.1 1382.6,582.0 1385.6,582.9 1388.6,583.9 1391.6,584.8 1394.6,585.8 1397.6,586.7 1400.6,587.7 1403.6,588.7 1406.6,589.7 1409.6,590.6 1412.6,591.6 1415.6,592.6 1418.6,593.6 1421.6,594.6 1424.6,595.6 1427.6,596.6 1430.6,597.6 1433.6,598.5 1436.6,599.5 1439.6,600.5 1442.6,601.4 1445.6,602.4 1448.6,603.3 1451.6,604.2 1454.6,605.1 1457.6,606.0 1460.6,606.9 1463.6,607.8 1466.6,608.6 1469.6,609.5 1472.6,610.3 1475.6,611.1 1478.6,611.9 1481.6,612.6 1484.6,613.4 1487.6,614.1 1490.6,614.8 1493.6,615.5 1496.6,616.2 1499.6,616.8 1502.6,617.5 1505.6,618.1 1508.6,618.7 1511.6,619.2 1514.6,619.8 1517.6,620.3 1520.6,620.8 1523.6,621.3 1526.6,621.8 1529.6,622.2 1532.6,622.7 1535.6,623.1 1538.6,623.5 1541.6,623.8 1544.6,624.2 1547.6,624.5 1550.6,624.8 1553.6,625.1 1556.6,625.4 1559.6,625.7 1562.6,625.9 1565.6,626.1 1568.6,626.3 1571.6,626.5 1574.6,626.7 1577.6,626.9 1580.6,627.0 1583.6,627.1 1586.6,627.3 1589.6,627.4 1592.6,627.5 1595.6,627.5 1598.6,627.6 1601.6,627.7 1604.6,627.7 1607.6,627.7 1610.6,627.7 1613.6,627.7 1616.6,627.7 1619.6,627.7 1622.6,627.7 1625.6,627.7 1628.6,627.6 1631.6,627.6 1634.6,627.5 1637.6,627.4 1640.6,627.4 1643.6,627.3 1646.6,627.2 1649.6,627.1 1652.6,627.0 1655.6,626.9 1658.6,626.8 1661.6,626.7 1664.6,626.6 1667.6,626.4 1670.6,626.3 1673.6,626.2 1676.6,626.0 1679.6,625.9 1682.6,625.7 1685.6,625.6 1688.6,625.4 1691.6,625.3 1694.6,625.1 1697.6,624.9 1700.6,624.8 1703.6,624.6 1706.6,624.4 1709.6,624.3 1712.6,624.1 1715.6,623.9 1718.6,623.8 1721.6,623.6 1724.6,623.4 1727.6,623.2 1730.6,623.0 1733.6,622.9 1736.6,622.7 1739.6,622.5 1742.6,622.3 1745.6,622.1 1748.6,621.9 1751.6,621.7 1754.6,621.6 1757.6,621.4 1760.6,621.2 1763.6,621.0 1766.6,620.8 1769.6,620.6 1772.6,620.4 1775.6,620.2 1778.6,620.0 1781.6,619.8 1784.6,619.6 1787.6,619.4 1790.6,619.2 1793.6,619.0 1796.6,618.8 1799.6,618.6 1802.6,618.4 1805.6,618.2 1808.6,618.0 1811.6,617.8 1814.6,617.6 1817.6,617.4 1820.6,617.2 1823.6,617.0 1826.6,616.8 1829.6,616.6 1832.6,616.4 1835.6,616.2 1838.6,616.0 1841.6,615.8 1844.6,615.6 1847.6,615.4 1850.6,615.2 1853.6,614.9 1856.6,614.7 1859.6,614.5 1862.6,614.3 1865.6,614.1 1868.6,613.9 1871.6,613.7 1874.6,613.5 1877.6,613.3 1880.6,613.1 1883.6,612.8 1886.6,612.6 1889.6,612.4 1892.6,612.2 1895.6,612.0 1898.6,611.8 1901.6,611.6 1904.6,611.4 1907.6,611.2 1910.6,611.0 1913.6,610.8 1916.6,610.7 1919.6,610.5 1922.6,610.3 1925.6,610.1 1928.6,609.9 1931.6,609.8 1934.6,609.6 1937.6,609.4 1940.6,609.3 1943.6,609.1 1946.6,609.0 1949.6,608.8 1952.6,608.7 1955.6,608.5 1958.6,608.4 1961.6,608.3 1964.6,608.2 1967.6,608.1 1970.6,608.0 1973.6,607.9 1976.6,607.8 1979.6,607.7 1982.6,607.6 1985.6,607.5 1988.6,607.5 1991.6,607.4 1994.6,607.4 1997.6,607.4 2000.6,607.3 2003.6,607.3 2006.6,607.3 2009.6,607.3 2012.6,607.3 2015.6,607.3 2018.6,607.4 2021.6,607.4 2024.6,607.4 2027.6,607.5 2030.6,607.6 2033.6,607.6 2036.6,607.7 2039.6,607.8 2042.6,607.9 2045.6,608.0 2048.6,608.1 2051.6,608.3 2054.6,608.4 2057.6,608.6 2060.6,608.7 2063.6,608.9 2066.6,609.1 2069.6,609.2 2072.6,609.4 2075.6,609.6 2078.6,609.8 2081.6,610.1 2084.6,610.3 2087.6,610.5 2090.6,610.8 2093.6,611.0 2096.6,611.3 2099.6,611.5 2102.6,611.8 2105.6,612.1 2108.6,612.3 2111.6,612.6 2114.6,612.9 2117.6,613.2 2120.6,613.5 2123.6,613.8 2126.6,614.1 2129.6,614.4 2132.6,614.8 2135.6,615.1 2138.6,615.4 2141.6,615.7 2144.6,616.1 2147.6,616.4 2150.6,616.7 2153.6,617.1 2156.6,617.4 2159.6,617.8 2162.6,618.1 2165.6,618.4 2168.6,618.8 2171.6,619.1 2174.6,619.5 2177.6,619.8 2180.6,620.1 2183.6,620.5 2186.6,620.8 2189.6,621.2 2192.6,621.5 2195.6,621.8 2198.6,622.1 2201.6,622.5 2204.6,622.8 2207.6,623.1 2210.6,623.4 2213.6,623.8 2216.6,624.1 2219.6,624.4 2222.6,624.7 2225.6,625.0 2228.6,625.3 2231.6,625.6 2234.6,625.9 2237.6,626.1 2240.6,626.4 2243.6,626.7 2246.6,627.0 2249.6,627.2 2252.6,627.5 2255.6,627.7 2258.6,628.0 2261.6,628.2 2264.6,628.5 2267.6,628.7 2270.6,628.9 2273.6,629.2 2276.6,629.4 2279.6,629.6 2282.6,629.8 2283.0,629.8 2283.0,635.6" fill="#AE87FF" fill-opacity="0.5"/>
<polyline points="1091.6,617.8 1094.6,617.1 1097.6,616.4 1100.6,615.6 1103.6,614.9 1106.6,614.1 1109.6,613.3 1112.6,612.5 1115.6,611.6 1118.6,610.8 1121.6,609.9 1124.6,609.0 1127.6,608.1 1130.6,607.2 1133.6,606.3 1136.6,605.4 1139.6,604.4 1142.6,603.5 1145.6,602.5 1148.6,601.5 1151.6,600.5 1154.6,599.5 1157.6,598.6 1160.6,597.6 1163.6,596.5 1166.6,595.5 1169.6,594.5 1172.6,593.5 1175.6,592.5 1178.6,591.5 1181.6,590.5 1184.6,589.5 1187.6,588.5 1190.6,587.5 1193.6,586.5 1196.6,585.6 1199.6,584.6 1202.6,583.6 1205.6,582.7 1208.6,581.8 1211.6,580.9 1214.6,580.0 1217.6,579.1 1220.6,578.3 1223.6,577.5 1226.6,576.7 1229.6,575.9 1232.6,575.1 1235.6,574.4 1238.6,573.7 1241.6,573.0 1244.6,572.4 1247.6,571.8 1250.6,571.2 1253.6,570.7 1256.6,570.1 1259.6,569.7 1262.6,569.2 1265.6,568.8 1268.6,568.5 1271.6,568.1 1274.6,567.8 1277.6,567.6 1280.6,567.4 1283.6,567.2 1286.6,567.1 1289.6,567.0 1292.6,566.9 1295.6,566.9 1298.6,566.9 1301.6,567.0 1304.6,567.1 1307.6,567.2 1310.6,567.4 1313.6,567.7 1316.6,567.9 1319.6,568.2 1322.6,568.6 1325.6,569.0 1328.6,569.4 1331.6,569.8 1334.6,570.3 1337.6,570.8 1340.6,571.4 1343.6,572.0 1346.6,572.6 1349.6,573.2 1352.6,573.9 1355.6,574.6 1358.6,575.3 1361.6,576.1 1364.6,576.9 1367.6,577.7 1370.6,578.5 1373.6,579.4 1376.6,580.2 1379.6,581.1 1382.6,582.0 1385.6,582.9 1388.6,583.9 1391.6,584.8 1394.6,585.8 1397.6,586.7 1400.6,587.7 1403.6,588.7 1406.6,589.7 1409.6,590.6 1412.6,591.6 1415.6,592.6 1418.6,593.6 1421.6,594.6 1424.6,595.6 1427.6,596.6 1430.6,597.6 1433.6,598.5 1436.6,599.5 1439.6,600.5 1442.6,601.4 1445.6,602.4 1448.6,603.3 1451.6,604.2 1454.6,605.1 1457.6,606.0 1460.6,606.9 1463.6,607.8 1466.6,608.6 1469.6,609.5 1472.6,610.3 1475.6,611.1 1478.6,611.9 1481.6,612.6 1484.6,613.4 1487.6,614.1 1490.6,614.8 1493.6,615.5 1496.6,616.2 1499.6,616.8 1502.6,617.5 1505.6,618.1 1508.6,618.7 1511.6,619.2 1514.6,619.8 1517.6,620.3 1520.6,620.8 1523.6,621.3 1526.6,621.8 1529.6,622.2 1532.6,622.7 1535.6,623.1 1538.6,623.5 1541.6,623.8 1544.6,624.2 1547.6,624.5 1550.6,624.8 1553.6,625.1 1556.6,625.4 1559.6,625.7 1562.6,625.9 1565.6,626.1 1568.6,626.3 1571.6,626.5 1574.6,626.7 1577.6,626.9 1580.6,627.0 1583.6,627.1 1586.6,627.3 1589.6,627.4 1592.6,627.5 1595.6,627.5 1598.6,627.6 1601.6,627.7 1604.6,627.7 1607.6,627.7 1610.6,627.7 1613.6,627.7 1616.6,627.7 1619.6,627.7 1622.6,627.7 1625.6,627.7 1628.6,627.6 1631.6,627.6 1634.6,627.5 1637.6,627.4 1640.6,627.4 1643.6,627.3 1646.6,627.2 1649.6,627.1 1652.6,627.0 1655.6,626.9 1658.6,626.8 1661.6,626.7 1664.6,626.6 1667.6,626.4 1670.6,626.3 1673.6,626.2 1676.6,626.0 1679.6,625.9 1682.6,625.7 1685.6,625.6 1688.6,625.4 1691.6,625.3 1694.6,625.1 1697.6,624.9 1700.6,624.8 1703.6,624.6 1706.6,624.4 1709.6,624.3 1712.6,624.1 1715.6,623.9 1718.6,623.8 1721.6,623.6 1724.6,623.4 1727.6,623.2 1730.6,623.0 1733.6,622.9 1736.6,622.7 1739.6,622.5 1742.6,622.3 1745.6,622.1 1748.6,621.9 1751.6,621.7 1754.6,621.6 1757.6,621.4 1760.6,621.2 1763.6,621.0 1766.6,620.8 1769.6,620.6 1772.6,620.4 1775.6,620.2 1778.6,620.0 1781.6,619.8 1784.6,619.6 1787.6,619.4 1790.6,619.2 1793.6,619.0 1796.6,618.8 1799.6,618.6 1802.6,618.4 1805.6,618.2 1808.6,618.0 1811.6,617.8 1814.6,617.6 1817.6,617.4 1820.6,617.2 1823.6,617.0 1826.6,616.8 1829.6,616.6 1832.6,616.4 1835.6,616.2 1838.6,616.0 1841.6,615.8 1844.6,615.6 1847.6,615.4 1850.6,615.2 1853.6,614.9 1856.6,614.7 1859.6,614.5 1862.6,614.3 1865.6,614.1 1868.6,613.9 1871.6,613.7 1874.6,613.5 1877.6,613.3 1880.6,613.1 1883.6,612.8 1886.6,612.6 1889.6,612.4 1892.6,612.2 1895.6,612.0 1898.6,611.8 1901.6,611.6 1904.6,611.4 1907.6,611.2 1910.6,611.0 1913.6,610.8 1916.6,610.7 1919.6,610.5 1922.6,610.3 1925.6,610.1 1928.6,609.9 1931.6,609.8 1934.6,609.6 1937.6,609.4 1940.6,609.3 1943.6,609.1 1946.6,609.0 1949.6,608.8 1952.6,608.7 1955.6,608.5 1958.6,608.4 1961.6,608.3 1964.6,608.2 1967.6,608.1 1970.6,608.0 1973.6,607.9 1976.6,607.8 1979.6,607.7 1982.6,607.6 1985.6,607.5 1988.6,607.5 1991.6,607.4 1994.6,607.4 1997.6,607.4 2000.6,607.3 2003.6,607.3 2006.6,607.3 2009.6,607.3 2012.6,607.3 2015.6,607.3 2018.6,607.4 2021.6,607.4 2024.6,607.4 2027.6,607.5 2030.6,607.6 2033.6,607.6 2036.6,607.7 2039.6,607.8 2042.6,607.9 2045.6,608.0 2048.6,608.1 2051.6,608.3 2054.6,608.4 2057.6,608.6 2060.6,608.7 2063.6,608.9 2066.6,609.1 2069.6,609.2 2072.6,609.4 2075.6,609.6 2078.6,609.8 2081.6,610.1 2084.6,610.3 2087.6,610.5 2090.6,610.8 2093.6,611.0 2096.6,611.3 2099.6,611.5 2102.6,611.8 2105.6,612.1 2108.6,612.3 2111.6,612.6 2114.6,612.9 2117.6,613.2 2120.6,613.5 2123.6,613.8 2126.6,614.1 2129.6,614.4 2132.6,614.8 2135.6,615.1 2138.6,615.4 2141.6,615.7 2144.6,616.1 2147.6,616.4 2150.6,616.7 2153.6,617.1 2156.6,617.4 2159.6,617.8 2162.6,618.1 2165.6,618.4 2168.6,618.8 2171.6,619.1 2174.6,619.5 2177.6,619.8 2180.6,620.1 2183.6,620.5 2186.6,620.8 2189.6,621.2 2192.6,621.5 2195.6,621.8 2198.6,622.1 2201.6,622.5 2204.6,622.8 2207.6,623.1 2210.6,623.4 2213.6,623.8 2216.6,624.1 2219.6,624.4 2222.6,624.7 2225.6,625.0 2228.6,625.3 2231.6,625.6 2234.6,625.9 2237.6,626.1 2240.6,626.4 2243.6,626.7 2246.6,627.0 2249.6,627.2 2252.6,627.5 2255.6,627.7 2258.6,628.0 2261.6,628.2 2264.6,628.5 2267.6,628.7 2270.6,628.9 2273.6,629.2 2276.6,629.4 2279.6,629.6 2282.6,629.8 2283.0,629.8" fill="none" stroke="#000" stroke-width="4.0" stroke-linejoin="round"/>
<g fill="url(#pg)"><circle cx="1295.0" cy="642.2" r="7.85"/><circle cx="1295.0" cy="643.2" r="7.85"/><circle cx="1295.0" cy="643.8" r="7.85"/><circle cx="1295.0" cy="644.4" r="7.85"/><circle cx="1295.0" cy="645.2" r="7.85"/><circle cx="1295.0" cy="645.8" r="7.85"/><circle cx="1295.0" cy="646.4" r="7.85"/><circle cx="1295.0" cy="647.1" r="7.85"/><circle cx="1295.0" cy="647.9" r="7.85"/><circle cx="1295.0" cy="648.5" r="7.85"/><circle cx="1295.0" cy="649.4" r="7.85"/><circle cx="1295.0" cy="650.2" r="7.85"/><circle cx="1295.0" cy="650.7" r="7.85"/><circle cx="1295.0" cy="651.6" r="7.85"/><circle cx="1295.0" cy="652.3" r="7.85"/><circle cx="1295.0" cy="653.0" r="7.85"/><circle cx="1295.0" cy="653.4" r="7.85"/><circle cx="1295.0" cy="654.1" r="7.85"/><circle cx="1295.0" cy="654.8" r="7.85"/><circle cx="1295.0" cy="655.5" r="7.85"/><circle cx="1295.0" cy="656.2" r="7.85"/><circle cx="1295.0" cy="657.0" r="7.85"/><circle cx="1295.0" cy="657.8" r="7.85"/><circle cx="1295.0" cy="658.5" r="7.85"/><circle cx="1295.0" cy="659.0" r="7.85"/><circle cx="1295.0" cy="659.8" r="7.85"/><circle cx="1295.0" cy="660.5" r="7.85"/><circle cx="1295.0" cy="661.0" r="7.85"/><circle cx="1295.0" cy="661.9" r="7.85"/><circle cx="1295.0" cy="662.7" r="7.85"/><circle cx="1295.0" cy="663.3" r="7.85"/><circle cx="1295.0" cy="664.0" r="7.85"/><circle cx="1295.0" cy="664.6" r="7.85"/><circle cx="1295.0" cy="665.2" r="7.85"/><circle cx="1295.0" cy="666.1" r="7.85"/><circle cx="1295.0" cy="666.6" r="7.85"/><circle cx="1295.0" cy="667.5" r="7.85"/><circle cx="1295.0" cy="668.2" r="7.85"/><circle cx="1295.0" cy="668.7" r="7.85"/><circle cx="1295.0" cy="669.4" r="7.85"/><circle cx="1295.0" cy="670.3" r="7.85"/><circle cx="1295.0" cy="670.9" r="7.85"/><circle cx="1295.0" cy="671.4" r="7.85"/><circle cx="1295.0" cy="672.1" r="7.85"/><circle cx="1295.0" cy="672.8" r="7.85"/><circle cx="1295.0" cy="673.8" r="7.85"/><circle cx="1295.0" cy="674.4" r="7.85"/><circle cx="1295.0" cy="674.9" r="7.85"/><circle cx="1295.0" cy="675.8" r="7.85"/><circle cx="1295.0" cy="676.6" r="7.85"/><circle cx="1295.0" cy="677.2" r="7.85"/><circle cx="1295.0" cy="677.8" r="7.85"/><circle cx="1295.0" cy="678.5" r="7.85"/><circle cx="1295.0" cy="679.1" r="7.85"/><circle cx="1295.0" cy="679.7" r="7.85"/><circle cx="1295.0" cy="680.7" r="7.85"/><circle cx="1295.0" cy="681.3" r="7.85"/><circle cx="1295.0" cy="682.0" r="7.85"/><circle cx="1295.0" cy="682.8" r="7.85"/><circle cx="1295.0" cy="683.3" r="7.85"/><circle cx="1295.0" cy="684.2" r="7.85"/><circle cx="1295.0" cy="684.9" r="7.85"/><circle cx="1295.0" cy="685.3" r="7.85"/><circle cx="1295.0" cy="686.1" r="7.85"/><circle cx="1295.0" cy="686.8" r="7.85"/><circle cx="1295.0" cy="687.4" r="7.85"/><circle cx="1295.0" cy="688.4" r="7.85"/><circle cx="1773.7" cy="643.6" r="7.85"/><circle cx="1699.9" cy="677.7" r="7.85"/><circle cx="1725.7" cy="677.0" r="7.85"/><circle cx="1719.1" cy="686.0" r="7.85"/><circle cx="1729.0" cy="685.0" r="7.85"/><circle cx="1757.8" cy="683.7" r="7.85"/><circle cx="1782.7" cy="686.0" r="7.85"/><circle cx="1805.9" cy="672.1" r="7.85"/><circle cx="1809.2" cy="675.4" r="7.85"/><circle cx="1910.9" cy="649.5" r="7.85"/><circle cx="1903.6" cy="653.5" r="7.85"/><circle cx="1893.0" cy="667.8" r="7.85"/><circle cx="1935.1" cy="661.1" r="7.85"/><circle cx="1951.0" cy="663.4" r="7.85"/><circle cx="1917.5" cy="676.7" r="7.85"/><circle cx="1919.8" cy="676.7" r="7.85"/><circle cx="1930.1" cy="676.7" r="7.85"/><circle cx="1972.8" cy="646.6" r="7.85"/><circle cx="2016.9" cy="644.6" r="7.85"/><circle cx="2010.6" cy="661.1" r="7.85"/><circle cx="1997.0" cy="667.8" r="7.85"/><circle cx="1999.7" cy="681.7" r="7.85"/><circle cx="1989.7" cy="686.0" r="7.85"/><circle cx="2043.7" cy="645.2" r="7.85"/><circle cx="2059.3" cy="648.5" r="7.85"/><circle cx="2061.6" cy="649.5" r="7.85"/><circle cx="2044.4" cy="654.5" r="7.85"/><circle cx="2041.1" cy="657.8" r="7.85"/><circle cx="2049.4" cy="672.7" r="7.85"/><circle cx="2051.3" cy="671.1" r="7.85"/><circle cx="2043.7" cy="682.7" r="7.85"/><circle cx="2085.8" cy="645.6" r="7.85"/><circle cx="2078.8" cy="667.1" r="7.85"/><circle cx="2091.4" cy="670.4" r="7.85"/><circle cx="2099.0" cy="671.1" r="7.85"/><circle cx="2073.5" cy="686.0" r="7.85"/><circle cx="2098.1" cy="686.0" r="7.85"/><circle cx="2120.6" cy="655.5" r="7.85"/><circle cx="2157.7" cy="644.6" r="7.85"/><circle cx="2221.0" cy="681.7" r="7.85"/></g>
<polygon points="1091.6,752.7 1091.6,733.7 1094.6,732.9 1097.6,732.1 1100.6,731.3 1103.6,730.5 1106.6,729.6 1109.6,728.8 1112.6,727.9 1115.6,727.0 1118.6,726.1 1121.6,725.2 1124.6,724.2 1127.6,723.3 1130.6,722.3 1133.6,721.3 1136.6,720.3 1139.6,719.3 1142.6,718.3 1145.6,717.2 1148.6,716.2 1151.6,715.1 1154.6,714.1 1157.6,713.0 1160.6,711.9 1163.6,710.9 1166.6,709.8 1169.6,708.7 1172.6,707.6 1175.6,706.5 1178.6,705.5 1181.6,704.4 1184.6,703.3 1187.6,702.2 1190.6,701.2 1193.6,700.1 1196.6,699.1 1199.6,698.1 1202.6,697.0 1205.6,696.0 1208.6,695.1 1211.6,694.1 1214.6,693.1 1217.6,692.2 1220.6,691.3 1223.6,690.4 1226.6,689.6 1229.6,688.7 1232.6,687.9 1235.6,687.1 1238.6,686.4 1241.6,685.7 1244.6,685.0 1247.6,684.3 1250.6,683.7 1253.6,683.1 1256.6,682.6 1259.6,682.1 1262.6,681.6 1265.6,681.2 1268.6,680.8 1271.6,680.4 1274.6,680.1 1277.6,679.8 1280.6,679.6 1283.6,679.4 1286.6,679.3 1289.6,679.2 1292.6,679.1 1295.6,679.1 1298.6,679.1 1301.6,679.2 1304.6,679.3 1307.6,679.5 1310.6,679.7 1313.6,679.9 1316.6,680.2 1319.6,680.5 1322.6,680.9 1325.6,681.3 1328.6,681.7 1331.6,682.2 1334.6,682.8 1337.6,683.3 1340.6,683.9 1343.6,684.5 1346.6,685.2 1349.6,685.9 1352.6,686.6 1355.6,687.4 1358.6,688.2 1361.6,689.0 1364.6,689.8 1367.6,690.7 1370.6,691.6 1373.6,692.5 1376.6,693.4 1379.6,694.4 1382.6,695.3 1385.6,696.3 1388.6,697.3 1391.6,698.3 1394.6,699.3 1397.6,700.4 1400.6,701.4 1403.6,702.5 1406.6,703.5 1409.6,704.6 1412.6,705.7 1415.6,706.7 1418.6,707.8 1421.6,708.9 1424.6,709.9 1427.6,711.0 1430.6,712.0 1433.6,713.1 1436.6,714.1 1439.6,715.2 1442.6,716.2 1445.6,717.2 1448.6,718.2 1451.6,719.2 1454.6,720.2 1457.6,721.2 1460.6,722.1 1463.6,723.1 1466.6,724.0 1469.6,724.9 1472.6,725.8 1475.6,726.6 1478.6,727.5 1481.6,728.3 1484.6,729.1 1487.6,729.9 1490.6,730.7 1493.6,731.5 1496.6,732.2 1499.6,732.9 1502.6,733.6 1505.6,734.3 1508.6,734.9 1511.6,735.5 1514.6,736.1 1517.6,736.7 1520.6,737.3 1523.6,737.8 1526.6,738.3 1529.6,738.8 1532.6,739.3 1535.6,739.8 1538.6,740.2 1541.6,740.6 1544.6,741.0 1547.6,741.4 1550.6,741.7 1553.6,742.1 1556.6,742.4 1559.6,742.7 1562.6,743.0 1565.6,743.2 1568.6,743.5 1571.6,743.7 1574.6,743.9 1577.6,744.1 1580.6,744.3 1583.6,744.4 1586.6,744.6 1589.6,744.7 1592.6,744.8 1595.6,744.9 1598.6,745.0 1601.6,745.1 1604.6,745.1 1607.6,745.2 1610.6,745.2 1613.6,745.2 1616.6,745.2 1619.6,745.2 1622.6,745.2 1625.6,745.2 1628.6,745.1 1631.6,745.1 1634.6,745.0 1637.6,744.9 1640.6,744.9 1643.6,744.8 1646.6,744.7 1649.6,744.5 1652.6,744.4 1655.6,744.3 1658.6,744.2 1661.6,744.0 1664.6,743.9 1667.6,743.7 1670.6,743.5 1673.6,743.4 1676.6,743.2 1679.6,743.0 1682.6,742.8 1685.6,742.6 1688.6,742.4 1691.6,742.1 1694.6,741.9 1697.6,741.7 1700.6,741.5 1703.6,741.2 1706.6,741.0 1709.6,740.7 1712.6,740.5 1715.6,740.2 1718.6,739.9 1721.6,739.7 1724.6,739.4 1727.6,739.1 1730.6,738.8 1733.6,738.5 1736.6,738.2 1739.6,737.9 1742.6,737.6 1745.6,737.3 1748.6,737.0 1751.6,736.7 1754.6,736.4 1757.6,736.1 1760.6,735.7 1763.6,735.4 1766.6,735.1 1769.6,734.8 1772.6,734.4 1775.6,734.1 1778.6,733.8 1781.6,733.4 1784.6,733.1 1787.6,732.8 1790.6,732.5 1793.6,732.1 1796.6,731.8 1799.6,731.5 1802.6,731.1 1805.6,730.8 1808.6,730.5 1811.6,730.2 1814.6,729.8 1817.6,729.5 1820.6,729.2 1823.6,728.9 1826.6,728.6 1829.6,728.3 1832.6,728.0 1835.6,727.7 1838.6,727.4 1841.6,727.1 1844.6,726.9 1847.6,726.6 1850.6,726.3 1853.6,726.1 1856.6,725.8 1859.6,725.6 1862.6,725.3 1865.6,725.1 1868.6,724.9 1871.6,724.7 1874.6,724.5 1877.6,724.3 1880.6,724.1 1883.6,724.0 1886.6,723.8 1889.6,723.6 1892.6,723.5 1895.6,723.4 1898.6,723.3 1901.6,723.2 1904.6,723.1 1907.6,723.0 1910.6,722.9 1913.6,722.9 1916.6,722.8 1919.6,722.8 1922.6,722.8 1925.6,722.8 1928.6,722.8 1931.6,722.8 1934.6,722.8 1937.6,722.9 1940.6,722.9 1943.6,723.0 1946.6,723.1 1949.6,723.2 1952.6,723.3 1955.6,723.4 1958.6,723.5 1961.6,723.7 1964.6,723.8 1967.6,724.0 1970.6,724.2 1973.6,724.4 1976.6,724.6 1979.6,724.8 1982.6,725.0 1985.6,725.2 1988.6,725.5 1991.6,725.7 1994.6,726.0 1997.6,726.2 2000.6,726.5 2003.6,726.8 2006.6,727.1 2009.6,727.4 2012.6,727.7 2015.6,728.0 2018.6,728.3 2021.6,728.7 2024.6,729.0 2027.6,729.4 2030.6,729.7 2033.6,730.0 2036.6,730.4 2039.6,730.8 2042.6,731.1 2045.6,731.5 2048.6,731.9 2051.6,732.2 2054.6,732.6 2057.6,733.0 2060.6,733.4 2063.6,733.7 2066.6,734.1 2069.6,734.5 2072.6,734.9 2075.6,735.3 2078.6,735.6 2081.6,736.0 2084.6,736.4 2087.6,736.8 2090.6,737.1 2093.6,737.5 2096.6,737.9 2099.6,738.2 2102.6,738.6 2105.6,739.0 2108.6,739.3 2111.6,739.7 2114.6,740.0 2117.6,740.4 2120.6,740.7 2123.6,741.0 2126.6,741.4 2129.6,741.7 2132.6,742.0 2135.6,742.3 2138.6,742.7 2141.6,743.0 2144.6,743.3 2147.6,743.6 2150.6,743.8 2153.6,744.1 2156.6,744.4 2159.6,744.7 2162.6,744.9 2165.6,745.2 2168.6,745.5 2171.6,745.7 2174.6,746.0 2177.6,746.2 2180.6,746.4 2183.6,746.7 2185.0,746.8 2185.0,752.7" fill="#619CFF" fill-opacity="0.5"/>
<polyline points="1091.6,733.7 1094.6,732.9 1097.6,732.1 1100.6,731.3 1103.6,730.5 1106.6,729.6 1109.6,728.8 1112.6,727.9 1115.6,727.0 1118.6,726.1 1121.6,725.2 1124.6,724.2 1127.6,723.3 1130.6,722.3 1133.6,721.3 1136.6,720.3 1139.6,719.3 1142.6,718.3 1145.6,717.2 1148.6,716.2 1151.6,715.1 1154.6,714.1 1157.6,713.0 1160.6,711.9 1163.6,710.9 1166.6,709.8 1169.6,708.7 1172.6,707.6 1175.6,706.5 1178.6,705.5 1181.6,704.4 1184.6,703.3 1187.6,702.2 1190.6,701.2 1193.6,700.1 1196.6,699.1 1199.6,698.1 1202.6,697.0 1205.6,696.0 1208.6,695.1 1211.6,694.1 1214.6,693.1 1217.6,692.2 1220.6,691.3 1223.6,690.4 1226.6,689.6 1229.6,688.7 1232.6,687.9 1235.6,687.1 1238.6,686.4 1241.6,685.7 1244.6,685.0 1247.6,684.3 1250.6,683.7 1253.6,683.1 1256.6,682.6 1259.6,682.1 1262.6,681.6 1265.6,681.2 1268.6,680.8 1271.6,680.4 1274.6,680.1 1277.6,679.8 1280.6,679.6 1283.6,679.4 1286.6,679.3 1289.6,679.2 1292.6,679.1 1295.6,679.1 1298.6,679.1 1301.6,679.2 1304.6,679.3 1307.6,679.5 1310.6,679.7 1313.6,679.9 1316.6,680.2 1319.6,680.5 1322.6,680.9 1325.6,681.3 1328.6,681.7 1331.6,682.2 1334.6,682.8 1337.6,683.3 1340.6,683.9 1343.6,684.5 1346.6,685.2 1349.6,685.9 1352.6,686.6 1355.6,687.4 1358.6,688.2 1361.6,689.0 1364.6,689.8 1367.6,690.7 1370.6,691.6 1373.6,692.5 1376.6,693.4 1379.6,694.4 1382.6,695.3 1385.6,696.3 1388.6,697.3 1391.6,698.3 1394.6,699.3 1397.6,700.4 1400.6,701.4 1403.6,702.5 1406.6,703.5 1409.6,704.6 1412.6,705.7 1415.6,706.7 1418.6,707.8 1421.6,708.9 1424.6,709.9 1427.6,711.0 1430.6,712.0 1433.6,713.1 1436.6,714.1 1439.6,715.2 1442.6,716.2 1445.6,717.2 1448.6,718.2 1451.6,719.2 1454.6,720.2 1457.6,721.2 1460.6,722.1 1463.6,723.1 1466.6,724.0 1469.6,724.9 1472.6,725.8 1475.6,726.6 1478.6,727.5 1481.6,728.3 1484.6,729.1 1487.6,729.9 1490.6,730.7 1493.6,731.5 1496.6,732.2 1499.6,732.9 1502.6,733.6 1505.6,734.3 1508.6,734.9 1511.6,735.5 1514.6,736.1 1517.6,736.7 1520.6,737.3 1523.6,737.8 1526.6,738.3 1529.6,738.8 1532.6,739.3 1535.6,739.8 1538.6,740.2 1541.6,740.6 1544.6,741.0 1547.6,741.4 1550.6,741.7 1553.6,742.1 1556.6,742.4 1559.6,742.7 1562.6,743.0 1565.6,743.2 1568.6,743.5 1571.6,743.7 1574.6,743.9 1577.6,744.1 1580.6,744.3 1583.6,744.4 1586.6,744.6 1589.6,744.7 1592.6,744.8 1595.6,744.9 1598.6,745.0 1601.6,745.1 1604.6,745.1 1607.6,745.2 1610.6,745.2 1613.6,745.2 1616.6,745.2 1619.6,745.2 1622.6,745.2 1625.6,745.2 1628.6,745.1 1631.6,745.1 1634.6,745.0 1637.6,744.9 1640.6,744.9 1643.6,744.8 1646.6,744.7 1649.6,744.5 1652.6,744.4 1655.6,744.3 1658.6,744.2 1661.6,744.0 1664.6,743.9 1667.6,743.7 1670.6,743.5 1673.6,743.4 1676.6,743.2 1679.6,743.0 1682.6,742.8 1685.6,742.6 1688.6,742.4 1691.6,742.1 1694.6,741.9 1697.6,741.7 1700.6,741.5 1703.6,741.2 1706.6,741.0 1709.6,740.7 1712.6,740.5 1715.6,740.2 1718.6,739.9 1721.6,739.7 1724.6,739.4 1727.6,739.1 1730.6,738.8 1733.6,738.5 1736.6,738.2 1739.6,737.9 1742.6,737.6 1745.6,737.3 1748.6,737.0 1751.6,736.7 1754.6,736.4 1757.6,736.1 1760.6,735.7 1763.6,735.4 1766.6,735.1 1769.6,734.8 1772.6,734.4 1775.6,734.1 1778.6,733.8 1781.6,733.4 1784.6,733.1 1787.6,732.8 1790.6,732.5 1793.6,732.1 1796.6,731.8 1799.6,731.5 1802.6,731.1 1805.6,730.8 1808.6,730.5 1811.6,730.2 1814.6,729.8 1817.6,729.5 1820.6,729.2 1823.6,728.9 1826.6,728.6 1829.6,728.3 1832.6,728.0 1835.6,727.7 1838.6,727.4 1841.6,727.1 1844.6,726.9 1847.6,726.6 1850.6,726.3 1853.6,726.1 1856.6,725.8 1859.6,725.6 1862.6,725.3 1865.6,725.1 1868.6,724.9 1871.6,724.7 1874.6,724.5 1877.6,724.3 1880.6,724.1 1883.6,724.0 1886.6,723.8 1889.6,723.6 1892.6,723.5 1895.6,723.4 1898.6,723.3 1901.6,723.2 1904.6,723.1 1907.6,723.0 1910.6,722.9 1913.6,722.9 1916.6,722.8 1919.6,722.8 1922.6,722.8 1925.6,722.8 1928.6,722.8 1931.6,722.8 1934.6,722.8 1937.6,722.9 1940.6,722.9 1943.6,723.0 1946.6,723.1 1949.6,723.2 1952.6,723.3 1955.6,723.4 1958.6,723.5 1961.6,723.7 1964.6,723.8 1967.6,724.0 1970.6,724.2 1973.6,724.4 1976.6,724.6 1979.6,724.8 1982.6,725.0 1985.6,725.2 1988.6,725.5 1991.6,725.7 1994.6,726.0 1997.6,726.2 2000.6,726.5 2003.6,726.8 2006.6,727.1 2009.6,727.4 2012.6,727.7 2015.6,728.0 2018.6,728.3 2021.6,728.7 2024.6,729.0 2027.6,729.4 2030.6,729.7 2033.6,730.0 2036.6,730.4 2039.6,730.8 2042.6,731.1 2045.6,731.5 2048.6,731.9 2051.6,732.2 2054.6,732.6 2057.6,733.0 2060.6,733.4 2063.6,733.7 2066.6,734.1 2069.6,734.5 2072.6,734.9 2075.6,735.3 2078.6,735.6 2081.6,736.0 2084.6,736.4 2087.6,736.8 2090.6,737.1 2093.6,737.5 2096.6,737.9 2099.6,738.2 2102.6,738.6 2105.6,739.0 2108.6,739.3 2111.6,739.7 2114.6,740.0 2117.6,740.4 2120.6,740.7 2123.6,741.0 2126.6,741.4 2129.6,741.7 2132.6,742.0 2135.6,742.3 2138.6,742.7 2141.6,743.0 2144.6,743.3 2147.6,743.6 2150.6,743.8 2153.6,744.1 2156.6,744.4 2159.6,744.7 2162.6,744.9 2165.6,745.2 2168.6,745.5 2171.6,745.7 2174.6,746.0 2177.6,746.2 2180.6,746.4 2183.6,746.7 2185.0,746.8" fill="none" stroke="#000" stroke-width="4.0" stroke-linejoin="round"/>
<g fill="url(#pg)"><circle cx="1295.0" cy="759.3" r="7.85"/><circle cx="1295.0" cy="761.0" r="7.85"/><circle cx="1295.0" cy="762.2" r="7.85"/><circle cx="1295.0" cy="764.2" r="7.85"/><circle cx="1295.0" cy="765.2" r="7.85"/><circle cx="1295.0" cy="766.7" r="7.85"/><circle cx="1295.0" cy="768.2" r="7.85"/><circle cx="1295.0" cy="769.9" r="7.85"/><circle cx="1295.0" cy="771.0" r="7.85"/><circle cx="1295.0" cy="772.7" r="7.85"/><circle cx="1295.0" cy="773.9" r="7.85"/><circle cx="1295.0" cy="775.3" r="7.85"/><circle cx="1295.0" cy="776.7" r="7.85"/><circle cx="1295.0" cy="777.8" r="7.85"/><circle cx="1295.0" cy="779.5" r="7.85"/><circle cx="1295.0" cy="780.8" r="7.85"/><circle cx="1295.0" cy="782.0" r="7.85"/><circle cx="1295.0" cy="784.0" r="7.85"/><circle cx="1295.0" cy="785.0" r="7.85"/><circle cx="1295.0" cy="786.6" r="7.85"/><circle cx="1295.0" cy="788.2" r="7.85"/><circle cx="1295.0" cy="789.5" r="7.85"/><circle cx="1295.0" cy="790.8" r="7.85"/><circle cx="1295.0" cy="792.4" r="7.85"/><circle cx="1295.0" cy="793.8" r="7.85"/><circle cx="1295.0" cy="795.4" r="7.85"/><circle cx="1295.0" cy="796.3" r="7.85"/><circle cx="1295.0" cy="798.1" r="7.85"/><circle cx="1295.0" cy="799.3" r="7.85"/><circle cx="1295.0" cy="800.7" r="7.85"/><circle cx="1295.0" cy="802.5" r="7.85"/><circle cx="1295.0" cy="803.7" r="7.85"/><circle cx="1295.0" cy="805.5" r="7.85"/><circle cx="1718.1" cy="780.8" r="7.85"/><circle cx="1720.7" cy="783.8" r="7.85"/><circle cx="1866.5" cy="774.8" r="7.85"/><circle cx="1875.4" cy="780.8" r="7.85"/><circle cx="1888.0" cy="776.5" r="7.85"/><circle cx="1901.0" cy="780.4" r="7.85"/><circle cx="1853.9" cy="800.7" r="7.85"/><circle cx="1907.9" cy="797.3" r="7.85"/><circle cx="1942.7" cy="795.7" r="7.85"/><circle cx="1961.9" cy="795.7" r="7.85"/><circle cx="1993.7" cy="797.3" r="7.85"/><circle cx="1953.6" cy="761.6" r="7.85"/><circle cx="1960.9" cy="765.5" r="7.85"/><circle cx="1980.8" cy="758.9" r="7.85"/><circle cx="1982.1" cy="758.9" r="7.85"/><circle cx="2089.8" cy="768.9" r="7.85"/></g>
<polygon points="1091.6,869.8 1091.6,845.8 1094.6,844.8 1097.6,843.8 1100.6,842.8 1103.6,841.8 1106.6,840.7 1109.6,839.6 1112.6,838.5 1115.6,837.4 1118.6,836.2 1121.6,835.0 1124.6,833.9 1127.6,832.6 1130.6,831.4 1133.6,830.2 1136.6,828.9 1139.6,827.6 1142.6,826.3 1145.6,825.0 1148.6,823.7 1151.6,822.4 1154.6,821.0 1157.6,819.7 1160.6,818.3 1163.6,817.0 1166.6,815.6 1169.6,814.2 1172.6,812.8 1175.6,811.5 1178.6,810.1 1181.6,808.7 1184.6,807.4 1187.6,806.0 1190.6,804.7 1193.6,803.4 1196.6,802.0 1199.6,800.7 1202.6,799.4 1205.6,798.2 1208.6,796.9 1211.6,795.7 1214.6,794.5 1217.6,793.3 1220.6,792.1 1223.6,791.0 1226.6,789.9 1229.6,788.9 1232.6,787.8 1235.6,786.8 1238.6,785.9 1241.6,784.9 1244.6,784.1 1247.6,783.2 1250.6,782.4 1253.6,781.7 1256.6,781.0 1259.6,780.3 1262.6,779.7 1265.6,779.1 1268.6,778.6 1271.6,778.1 1274.6,777.7 1277.6,777.4 1280.6,777.1 1283.6,776.8 1286.6,776.6 1289.6,776.4 1292.6,776.3 1295.6,776.3 1298.6,776.3 1301.6,776.4 1304.6,776.5 1307.6,776.7 1310.6,776.9 1313.6,777.2 1316.6,777.5 1319.6,777.9 1322.6,778.3 1325.6,778.8 1328.6,779.3 1331.6,779.9 1334.6,780.5 1337.6,781.2 1340.6,781.9 1343.6,782.6 1346.6,783.4 1349.6,784.3 1352.6,785.1 1355.6,786.1 1358.6,787.0 1361.6,788.0 1364.6,789.0 1367.6,790.1 1370.6,791.1 1373.6,792.2 1376.6,793.4 1379.6,794.5 1382.6,795.7 1385.6,796.9 1388.6,798.1 1391.6,799.4 1394.6,800.6 1397.6,801.9 1400.6,803.2 1403.6,804.5 1406.6,805.8 1409.6,807.1 1412.6,808.4 1415.6,809.7 1418.6,811.0 1421.6,812.3 1424.6,813.6 1427.6,814.9 1430.6,816.2 1433.6,817.5 1436.6,818.8 1439.6,820.1 1442.6,821.4 1445.6,822.6 1448.6,823.9 1451.6,825.1 1454.6,826.3 1457.6,827.5 1460.6,828.7 1463.6,829.9 1466.6,831.1 1469.6,832.2 1472.6,833.3 1475.6,834.4 1478.6,835.5 1481.6,836.5 1484.6,837.6 1487.6,838.6 1490.6,839.6 1493.6,840.5 1496.6,841.5 1499.6,842.4 1502.6,843.3 1505.6,844.2 1508.6,845.0 1511.6,845.8 1514.6,846.7 1517.6,847.4 1520.6,848.2 1523.6,848.9 1526.6,849.6 1529.6,850.3 1532.6,851.0 1535.6,851.6 1538.6,852.2 1541.6,852.8 1544.6,853.4 1547.6,853.9 1550.6,854.4 1553.6,855.0 1556.6,855.4 1559.6,855.9 1562.6,856.3 1565.6,856.8 1568.6,857.2 1571.6,857.6 1574.6,857.9 1577.6,858.3 1580.6,858.6 1583.6,858.9 1586.6,859.2 1589.6,859.5 1592.6,859.8 1595.6,860.0 1598.6,860.3 1601.6,860.5 1604.6,860.7 1607.6,860.9 1610.6,861.1 1613.6,861.2 1616.6,861.4 1619.6,861.5 1622.6,861.7 1625.6,861.8 1628.6,861.9 1631.6,862.0 1634.6,862.1 1637.6,862.2 1640.6,862.2 1643.6,862.3 1646.6,862.3 1649.6,862.4 1652.6,862.4 1655.6,862.4 1658.6,862.5 1661.6,862.5 1664.6,862.5 1667.6,862.5 1670.6,862.5 1673.6,862.5 1676.6,862.4 1679.6,862.4 1682.6,862.4 1685.6,862.4 1688.6,862.3 1691.6,862.3 1694.6,862.2 1697.6,862.2 1700.6,862.1 1703.6,862.1 1706.6,862.0 1709.6,862.0 1712.6,861.9 1715.6,861.9 1718.6,861.8 1721.6,861.7 1724.6,861.6 1727.6,861.6 1730.6,861.5 1733.6,861.4 1736.6,861.4 1739.6,861.3 1742.6,861.2 1745.6,861.1 1748.6,861.1 1751.6,861.0 1754.6,860.9 1757.6,860.9 1760.6,860.8 1763.6,860.7 1766.6,860.7 1769.6,860.6 1772.6,860.5 1775.6,860.5 1778.6,860.4 1781.6,860.3 1784.6,860.3 1787.6,860.2 1790.6,860.2 1793.6,860.1 1796.6,860.1 1799.6,860.0 1802.6,860.0 1805.6,860.0 1808.6,859.9 1811.6,859.9 1814.6,859.8 1817.6,859.8 1820.6,859.8 1823.6,859.8 1826.6,859.7 1829.6,859.7 1832.6,859.7 1835.6,859.7 1838.6,859.7 1841.6,859.7 1844.6,859.7 1847.6,859.7 1850.6,859.7 1853.6,859.7 1856.6,859.7 1859.6,859.7 1862.6,859.7 1865.6,859.7 1868.6,859.8 1871.6,859.8 1874.6,859.8 1877.6,859.8 1880.6,859.9 1883.6,859.9 1886.6,859.9 1889.6,860.0 1892.6,860.0 1895.6,860.0 1898.6,860.1 1901.6,860.1 1904.6,860.2 1907.6,860.2 1910.6,860.3 1913.6,860.3 1916.6,860.4 1919.6,860.4 1922.6,860.5 1925.6,860.5 1928.6,860.6 1931.6,860.7 1934.6,860.7 1937.6,860.8 1940.6,860.8 1943.6,860.9 1946.6,861.0 1949.6,861.0 1952.6,861.1 1955.6,861.2 1958.6,861.2 1961.6,861.3 1964.6,861.4 1967.6,861.4 1970.6,861.5 1973.6,861.6 1976.6,861.7 1979.6,861.7 1982.6,861.8 1985.6,861.9 1988.6,861.9 1991.6,862.0 1994.6,862.1 1997.6,862.2 2000.6,862.2 2003.6,862.3 2006.6,862.4 2009.6,862.5 2012.6,862.5 2015.6,862.6 2018.6,862.7 2021.6,862.8 2024.6,862.8 2027.6,862.9 2030.6,863.0 2033.6,863.1 2036.6,863.1 2039.6,863.2 2042.6,863.3 2045.6,863.4 2048.6,863.5 2051.6,863.5 2054.6,863.6 2057.6,863.7 2060.6,863.8 2063.6,863.8 2066.6,863.9 2069.6,864.0 2072.6,864.1 2075.6,864.2 2078.6,864.2 2079.5,864.3 2079.5,869.8" fill="#00ADFA" fill-opacity="0.5"/>
<polyline points="1091.6,845.8 1094.6,844.8 1097.6,843.8 1100.6,842.8 1103.6,841.8 1106.6,840.7 1109.6,839.6 1112.6,838.5 1115.6,837.4 1118.6,836.2 1121.6,835.0 1124.6,833.9 1127.6,832.6 1130.6,831.4 1133.6,830.2 1136.6,828.9 1139.6,827.6 1142.6,826.3 1145.6,825.0 1148.6,823.7 1151.6,822.4 1154.6,821.0 1157.6,819.7 1160.6,818.3 1163.6,817.0 1166.6,815.6 1169.6,814.2 1172.6,812.8 1175.6,811.5 1178.6,810.1 1181.6,808.7 1184.6,807.4 1187.6,806.0 1190.6,804.7 1193.6,803.4 1196.6,802.0 1199.6,800.7 1202.6,799.4 1205.6,798.2 1208.6,796.9 1211.6,795.7 1214.6,794.5 1217.6,793.3 1220.6,792.1 1223.6,791.0 1226.6,789.9 1229.6,788.9 1232.6,787.8 1235.6,786.8 1238.6,785.9 1241.6,784.9 1244.6,784.1 1247.6,783.2 1250.6,782.4 1253.6,781.7 1256.6,781.0 1259.6,780.3 1262.6,779.7 1265.6,779.1 1268.6,778.6 1271.6,778.1 1274.6,777.7 1277.6,777.4 1280.6,777.1 1283.6,776.8 1286.6,776.6 1289.6,776.4 1292.6,776.3 1295.6,776.3 1298.6,776.3 1301.6,776.4 1304.6,776.5 1307.6,776.7 1310.6,776.9 1313.6,777.2 1316.6,777.5 1319.6,777.9 1322.6,778.3 1325.6,778.8 1328.6,779.3 1331.6,779.9 1334.6,780.5 1337.6,781.2 1340.6,781.9 1343.6,782.6 1346.6,783.4 1349.6,784.3 1352.6,785.1 1355.6,786.1 1358.6,787.0 1361.6,788.0 1364.6,789.0 1367.6,790.1 1370.6,791.1 1373.6,792.2 1376.6,793.4 1379.6,794.5 1382.6,795.7 1385.6,796.9 1388.6,798.1 1391.6,799.4 1394.6,800.6 1397.6,801.9 1400.6,803.2 1403.6,804.5 1406.6,805.8 1409.6,807.1 1412.6,808.4 1415.6,809.7 1418.6,811.0 1421.6,812.3 1424.6,813.6 1427.6,814.9 1430.6,816.2 1433.6,817.5 1436.6,818.8 1439.6,820.1 1442.6,821.4 1445.6,822.6 1448.6,823.9 1451.6,825.1 1454.6,826.3 1457.6,827.5 1460.6,828.7 1463.6,829.9 1466.6,831.1 1469.6,832.2 1472.6,833.3 1475.6,834.4 1478.6,835.5 1481.6,836.5 1484.6,837.6 1487.6,838.6 1490.6,839.6 1493.6,840.5 1496.6,841.5 1499.6,842.4 1502.6,843.3 1505.6,844.2 1508.6,845.0 1511.6,845.8 1514.6,846.7 1517.6,847.4 1520.6,848.2 1523.6,848.9 1526.6,849.6 1529.6,850.3 1532.6,851.0 1535.6,851.6 1538.6,852.2 1541.6,852.8 1544.6,853.4 1547.6,853.9 1550.6,854.4 1553.6,855.0 1556.6,855.4 1559.6,855.9 1562.6,856.3 1565.6,856.8 1568.6,857.2 1571.6,857.6 1574.6,857.9 1577.6,858.3 1580.6,858.6 1583.6,858.9 1586.6,859.2 1589.6,859.5 1592.6,859.8 1595.6,860.0 1598.6,860.3 1601.6,860.5 1604.6,860.7 1607.6,860.9 1610.6,861.1 1613.6,861.2 1616.6,861.4 1619.6,861.5 1622.6,861.7 1625.6,861.8 1628.6,861.9 1631.6,862.0 1634.6,862.1 1637.6,862.2 1640.6,862.2 1643.6,862.3 1646.6,862.3 1649.6,862.4 1652.6,862.4 1655.6,862.4 1658.6,862.5 1661.6,862.5 1664.6,862.5 1667.6,862.5 1670.6,862.5 1673.6,862.5 1676.6,862.4 1679.6,862.4 1682.6,862.4 1685.6,862.4 1688.6,862.3 1691.6,862.3 1694.6,862.2 1697.6,862.2 1700.6,862.1 1703.6,862.1 1706.6,862.0 1709.6,862.0 1712.6,861.9 1715.6,861.9 1718.6,861.8 1721.6,861.7 1724.6,861.6 1727.6,861.6 1730.6,861.5 1733.6,861.4 1736.6,861.4 1739.6,861.3 1742.6,861.2 1745.6,861.1 1748.6,861.1 1751.6,861.0 1754.6,860.9 1757.6,860.9 1760.6,860.8 1763.6,860.7 1766.6,860.7 1769.6,860.6 1772.6,860.5 1775.6,860.5 1778.6,860.4 1781.6,860.3 1784.6,860.3 1787.6,860.2 1790.6,860.2 1793.6,860.1 1796.6,860.1 1799.6,860.0 1802.6,860.0 1805.6,860.0 1808.6,859.9 1811.6,859.9 1814.6,859.8 1817.6,859.8 1820.6,859.8 1823.6,859.8 1826.6,859.7 1829.6,859.7 1832.6,859.7 1835.6,859.7 1838.6,859.7 1841.6,859.7 1844.6,859.7 1847.6,859.7 1850.6,859.7 1853.6,859.7 1856.6,859.7 1859.6,859.7 1862.6,859.7 1865.6,859.7 1868.6,859.8 1871.6,859.8 1874.6,859.8 1877.6,859.8 1880.6,859.9 1883.6,859.9 1886.6,859.9 1889.6,860.0 1892.6,860.0 1895.6,860.0 1898.6,860.1 1901.6,860.1 1904.6,860.2 1907.6,860.2 1910.6,860.3 1913.6,860.3 1916.6,860.4 1919.6,860.4 1922.6,860.5 1925.6,860.5 1928.6,860.6 1931.6,860.7 1934.6,860.7 1937.6,860.8 1940.6,860.8 1943.6,860.9 1946.6,861.0 1949.6,861.0 1952.6,861.1 1955.6,861.2 1958.6,861.2 1961.6,861.3 1964.6,861.4 1967.6,861.4 1970.6,861.5 1973.6,861.6 1976.6,861.7 1979.6,861.7 1982.6,861.8 1985.6,861.9 1988.6,861.9 1991.6,862.0 1994.6,862.1 1997.6,862.2 2000.6,862.2 2003.6,862.3 2006.6,862.4 2009.6,862.5 2012.6,862.5 2015.6,862.6 2018.6,862.7 2021.6,862.8 2024.6,862.8 2027.6,862.9 2030.6,863.0 2033.6,863.1 2036.6,863.1 2039.6,863.2 2042.6,863.3 2045.6,863.4 2048.6,863.5 2051.6,863.5 2054.6,863.6 2057.6,863.7 2060.6,863.8 2063.6,863.8 2066.6,863.9 2069.6,864.0 2072.6,864.1 2075.6,864.2 2078.6,864.2 2079.5,864.3" fill="none" stroke="#000" stroke-width="4.0" stroke-linejoin="round"/>
<g fill="url(#pg)"><circle cx="1295.0" cy="876.4" r="7.85"/><circle cx="1295.0" cy="877.7" r="7.85"/><circle cx="1295.0" cy="878.3" r="7.85"/><circle cx="1295.0" cy="879.3" r="7.85"/><circle cx="1295.0" cy="880.1" r="7.85"/><circle cx="1295.0" cy="880.9" r="7.85"/><circle cx="1295.0" cy="881.9" r="7.85"/><circle cx="1295.0" cy="882.6" r="7.85"/><circle cx="1295.0" cy="883.5" r="7.85"/><circle cx="1295.0" cy="884.4" r="7.85"/><circle cx="1295.0" cy="885.4" r="7.85"/><circle cx="1295.0" cy="886.2" r="7.85"/><circle cx="1295.0" cy="887.1" r="7.85"/><circle cx="1295.0" cy="888.0" r="7.85"/><circle cx="1295.0" cy="888.6" r="7.85"/><circle cx="1295.0" cy="889.6" r="7.85"/><circle cx="1295.0" cy="890.6" r="7.85"/><circle cx="1295.0" cy="891.4" r="7.85"/><circle cx="1295.0" cy="892.0" r="7.85"/><circle cx="1295.0" cy="892.9" r="7.85"/><circle cx="1295.0" cy="893.9" r="7.85"/><circle cx="1295.0" cy="894.6" r="7.85"/><circle cx="1295.0" cy="895.5" r="7.85"/><circle cx="1295.0" cy="896.3" r="7.85"/><circle cx="1295.0" cy="897.4" r="7.85"/><circle cx="1295.0" cy="898.3" r="7.85"/><circle cx="1295.0" cy="899.2" r="7.85"/><circle cx="1295.0" cy="899.8" r="7.85"/><circle cx="1295.0" cy="900.9" r="7.85"/><circle cx="1295.0" cy="901.7" r="7.85"/><circle cx="1295.0" cy="902.4" r="7.85"/><circle cx="1295.0" cy="903.6" r="7.85"/><circle cx="1295.0" cy="904.5" r="7.85"/><circle cx="1295.0" cy="905.0" r="7.85"/><circle cx="1295.0" cy="906.2" r="7.85"/><circle cx="1295.0" cy="906.8" r="7.85"/><circle cx="1295.0" cy="907.7" r="7.85"/><circle cx="1295.0" cy="908.8" r="7.85"/><circle cx="1295.0" cy="909.6" r="7.85"/><circle cx="1295.0" cy="910.1" r="7.85"/><circle cx="1295.0" cy="911.1" r="7.85"/><circle cx="1295.0" cy="912.0" r="7.85"/><circle cx="1295.0" cy="912.8" r="7.85"/><circle cx="1295.0" cy="913.6" r="7.85"/><circle cx="1295.0" cy="914.5" r="7.85"/><circle cx="1295.0" cy="915.6" r="7.85"/><circle cx="1295.0" cy="916.1" r="7.85"/><circle cx="1295.0" cy="917.2" r="7.85"/><circle cx="1295.0" cy="918.0" r="7.85"/><circle cx="1295.0" cy="918.7" r="7.85"/><circle cx="1295.0" cy="919.7" r="7.85"/><circle cx="1295.0" cy="920.7" r="7.85"/><circle cx="1295.0" cy="921.5" r="7.85"/><circle cx="1295.0" cy="922.6" r="7.85"/><circle cx="1498.8" cy="902.7" r="7.85"/><circle cx="1551.1" cy="896.5" r="7.85"/><circle cx="1766.7" cy="897.4" r="7.85"/><circle cx="1779.7" cy="905.7" r="7.85"/><circle cx="1823.7" cy="885.9" r="7.85"/><circle cx="1841.0" cy="886.8" r="7.85"/><circle cx="1858.8" cy="904.4" r="7.85"/><circle cx="1959.9" cy="887.5" r="7.85"/><circle cx="2050.6" cy="911.7" r="7.85"/><circle cx="2087.7" cy="910.7" r="7.85"/></g>
<polygon points="1091.6,986.9 1091.6,971.1 1094.6,970.5 1097.6,969.8 1100.6,969.2 1103.6,968.5 1106.6,967.8 1109.6,967.1 1112.6,966.3 1115.6,965.6 1118.6,964.8 1121.6,964.1 1124.6,963.3 1127.6,962.5 1130.6,961.7 1133.6,960.8 1136.6,960.0 1139.6,959.2 1142.6,958.3 1145.6,957.5 1148.6,956.6 1151.6,955.7 1154.6,954.8 1157.6,954.0 1160.6,953.1 1163.6,952.2 1166.6,951.3 1169.6,950.4 1172.6,949.5 1175.6,948.6 1178.6,947.7 1181.6,946.8 1184.6,945.9 1187.6,945.0 1190.6,944.1 1193.6,943.3 1196.6,942.4 1199.6,941.5 1202.6,940.7 1205.6,939.9 1208.6,939.1 1211.6,938.2 1214.6,937.5 1217.6,936.7 1220.6,935.9 1223.6,935.2 1226.6,934.5 1229.6,933.8 1232.6,933.1 1235.6,932.5 1238.6,931.9 1241.6,931.3 1244.6,930.7 1247.6,930.1 1250.6,929.6 1253.6,929.1 1256.6,928.7 1259.6,928.3 1262.6,927.9 1265.6,927.5 1268.6,927.2 1271.6,926.9 1274.6,926.6 1277.6,926.4 1280.6,926.2 1283.6,926.1 1286.6,925.9 1289.6,925.9 1292.6,925.8 1295.6,925.8 1298.6,925.8 1301.6,925.9 1304.6,926.0 1307.6,926.1 1310.6,926.3 1313.6,926.5 1316.6,926.7 1319.6,927.0 1322.6,927.3 1325.6,927.6 1328.6,928.0 1331.6,928.4 1334.6,928.8 1337.6,929.3 1340.6,929.8 1343.6,930.3 1346.6,930.8 1349.6,931.4 1352.6,932.0 1355.6,932.6 1358.6,933.3 1361.6,933.9 1364.6,934.6 1367.6,935.3 1370.6,936.1 1373.6,936.8 1376.6,937.6 1379.6,938.4 1382.6,939.2 1385.6,940.0 1388.6,940.8 1391.6,941.6 1394.6,942.5 1397.6,943.3 1400.6,944.2 1403.6,945.0 1406.6,945.9 1409.6,946.8 1412.6,947.6 1415.6,948.5 1418.6,949.4 1421.6,950.2 1424.6,951.1 1427.6,952.0 1430.6,952.8 1433.6,953.7 1436.6,954.5 1439.6,955.3 1442.6,956.2 1445.6,957.0 1448.6,957.8 1451.6,958.6 1454.6,959.4 1457.6,960.1 1460.6,960.9 1463.6,961.6 1466.6,962.4 1469.6,963.1 1472.6,963.8 1475.6,964.5 1478.6,965.1 1481.6,965.8 1484.6,966.4 1487.6,967.0 1490.6,967.6 1493.6,968.1 1496.6,968.7 1499.6,969.2 1502.6,969.7 1505.6,970.2 1508.6,970.7 1511.6,971.1 1514.6,971.6 1517.6,972.0 1520.6,972.4 1523.6,972.7 1526.6,973.1 1529.6,973.4 1532.6,973.7 1535.6,974.0 1538.6,974.2 1541.6,974.5 1544.6,974.7 1547.6,974.9 1550.6,975.1 1553.6,975.2 1556.6,975.4 1559.6,975.5 1562.6,975.6 1565.6,975.7 1568.6,975.7 1571.6,975.8 1574.6,975.8 1577.6,975.8 1580.6,975.8 1583.6,975.8 1586.6,975.8 1589.6,975.7 1592.6,975.6 1595.6,975.5 1598.6,975.4 1601.6,975.3 1604.6,975.2 1607.6,975.0 1610.6,974.9 1613.6,974.7 1616.6,974.5 1619.6,974.3 1622.6,974.1 1625.6,973.8 1628.6,973.6 1631.6,973.3 1634.6,973.1 1637.6,972.8 1640.6,972.5 1643.6,972.2 1646.6,971.9 1649.6,971.6 1652.6,971.2 1655.6,970.9 1658.6,970.6 1661.6,970.2 1664.6,969.9 1667.6,969.5 1670.6,969.1 1673.6,968.7 1676.6,968.4 1679.6,968.0 1682.6,967.6 1685.6,967.2 1688.6,966.8 1691.6,966.4 1694.6,965.9 1697.6,965.5 1700.6,965.1 1703.6,964.7 1706.6,964.3 1709.6,963.9 1712.6,963.4 1715.6,963.0 1718.6,962.6 1721.6,962.2 1724.6,961.7 1727.6,961.3 1730.6,960.9 1733.6,960.5 1736.6,960.1 1739.6,959.7 1742.6,959.3 1745.6,958.9 1748.6,958.5 1751.6,958.1 1754.6,957.7 1757.6,957.3 1760.6,956.9 1763.6,956.5 1766.6,956.2 1769.6,955.8 1772.6,955.4 1775.6,955.1 1778.6,954.8 1781.6,954.4 1784.6,954.1 1787.6,953.8 1790.6,953.5 1793.6,953.2 1796.6,952.9 1799.6,952.6 1802.6,952.4 1805.6,952.1 1808.6,951.9 1811.6,951.6 1814.6,951.4 1817.6,951.2 1820.6,951.0 1823.6,950.8 1826.6,950.6 1829.6,950.5 1832.6,950.3 1835.6,950.2 1838.6,950.0 1841.6,949.9 1844.6,949.8 1847.6,949.7 1850.6,949.7 1853.6,949.6 1856.6,949.5 1859.6,949.5 1862.6,949.5 1865.6,949.5 1868.6,949.4 1871.6,949.5 1874.6,949.5 1877.6,949.5 1880.6,949.6 1883.6,949.6 1886.6,949.7 1889.6,949.8 1892.6,949.9 1895.6,950.0 1898.6,950.1 1901.6,950.2 1904.6,950.4 1907.6,950.5 1910.6,950.7 1913.6,950.9 1916.6,951.1 1919.6,951.3 1922.6,951.5 1925.6,951.7 1928.6,951.9 1931.6,952.2 1934.6,952.4 1937.6,952.7 1940.6,952.9 1943.6,953.2 1946.6,953.5 1949.6,953.8 1952.6,954.1 1955.6,954.4 1958.6,954.7 1961.6,955.0 1964.6,955.3 1967.6,955.7 1970.6,956.0 1973.6,956.3 1976.6,956.7 1979.6,957.0 1982.6,957.4 1985.6,957.8 1988.6,958.1 1991.6,958.5 1994.6,958.9 1997.6,959.3 2000.6,959.6 2003.6,960.0 2006.6,960.4 2009.6,960.8 2012.6,961.2 2015.6,961.6 2018.6,962.0 2021.6,962.4 2024.6,962.8 2027.6,963.2 2030.6,963.6 2033.6,964.0 2036.6,964.4 2039.6,964.8 2042.6,965.2 2045.6,965.5 2048.6,965.9 2051.6,966.3 2054.6,966.7 2057.6,967.1 2060.6,967.5 2063.6,967.9 2066.6,968.3 2069.6,968.7 2072.6,969.0 2075.6,969.4 2078.6,969.8 2081.6,970.2 2084.6,970.5 2087.6,970.9 2090.6,971.3 2093.6,971.6 2096.6,972.0 2099.6,972.3 2102.6,972.7 2105.6,973.0 2108.6,973.4 2111.6,973.7 2114.6,974.0 2117.6,974.4 2120.6,974.7 2123.6,975.0 2126.6,975.3 2129.6,975.6 2132.6,975.9 2135.6,976.2 2138.6,976.5 2141.6,976.8 2144.6,977.1 2147.6,977.4 2150.6,977.6 2153.6,977.9 2156.6,978.2 2159.6,978.4 2162.6,978.7 2165.6,978.9 2168.6,979.2 2171.6,979.4 2174.6,979.6 2177.6,979.9 2180.6,980.1 2183.6,980.3 2186.6,980.5 2189.6,980.7 2192.6,980.9 2195.6,981.1 2197.6,981.3 2197.6,986.9" fill="#00B9E3" fill-opacity="0.5"/>
<polyline points="1091.6,971.1 1094.6,970.5 1097.6,969.8 1100.6,969.2 1103.6,968.5 1106.6,967.8 1109.6,967.1 1112.6,966.3 1115.6,965.6 1118.6,964.8 1121.6,964.1 1124.6,963.3 1127.6,962.5 1130.6,961.7 1133.6,960.8 1136.6,960.0 1139.6,959.2 1142.6,958.3 1145.6,957.5 1148.6,956.6 1151.6,955.7 1154.6,954.8 1157.6,954.0 1160.6,953.1 1163.6,952.2 1166.6,951.3 1169.6,950.4 1172.6,949.5 1175.6,948.6 1178.6,947.7 1181.6,946.8 1184.6,945.9 1187.6,945.0 1190.6,944.1 1193.6,943.3 1196.6,942.4 1199.6,941.5 1202.6,940.7 1205.6,939.9 1208.6,939.1 1211.6,938.2 1214.6,937.5 1217.6,936.7 1220.6,935.9 1223.6,935.2 1226.6,934.5 1229.6,933.8 1232.6,933.1 1235.6,932.5 1238.6,931.9 1241.6,931.3 1244.6,930.7 1247.6,930.1 1250.6,929.6 1253.6,929.1 1256.6,928.7 1259.6,928.3 1262.6,927.9 1265.6,927.5 1268.6,927.2 1271.6,926.9 1274.6,926.6 1277.6,926.4 1280.6,926.2 1283.6,926.1 1286.6,925.9 1289.6,925.9 1292.6,925.8 1295.6,925.8 1298.6,925.8 1301.6,925.9 1304.6,926.0 1307.6,926.1 1310.6,926.3 1313.6,926.5 1316.6,926.7 1319.6,927.0 1322.6,927.3 1325.6,927.6 1328.6,928.0 1331.6,928.4 1334.6,928.8 1337.6,929.3 1340.6,929.8 1343.6,930.3 1346.6,930.8 1349.6,931.4 1352.6,932.0 1355.6,932.6 1358.6,933.3 1361.6,933.9 1364.6,934.6 1367.6,935.3 1370.6,936.1 1373.6,936.8 1376.6,937.6 1379.6,938.4 1382.6,939.2 1385.6,940.0 1388.6,940.8 1391.6,941.6 1394.6,942.5 1397.6,943.3 1400.6,944.2 1403.6,945.0 1406.6,945.9 1409.6,946.8 1412.6,947.6 1415.6,948.5 1418.6,949.4 1421.6,950.2 1424.6,951.1 1427.6,952.0 1430.6,952.8 1433.6,953.7 1436.6,954.5 1439.6,955.3 1442.6,956.2 1445.6,957.0 1448.6,957.8 1451.6,958.6 1454.6,959.4 1457.6,960.1 1460.6,960.9 1463.6,961.6 1466.6,962.4 1469.6,963.1 1472.6,963.8 1475.6,964.5 1478.6,965.1 1481.6,965.8 1484.6,966.4 1487.6,967.0 1490.6,967.6 1493.6,968.1 1496.6,968.7 1499.6,969.2 1502.6,969.7 1505.6,970.2 1508.6,970.7 1511.6,971.1 1514.6,971.6 1517.6,972.0 1520.6,972.4 1523.6,972.7 1526.6,973.1 1529.6,973.4 1532.6,973.7 1535.6,974.0 1538.6,974.2 1541.6,974.5 1544.6,974.7 1547.6,974.9 1550.6,975.1 1553.6,975.2 1556.6,975.4 1559.6,975.5 1562.6,975.6 1565.6,975.7 1568.6,975.7 1571.6,975.8 1574.6,975.8 1577.6,975.8 1580.6,975.8 1583.6,975.8 1586.6,975.8 1589.6,975.7 1592.6,975.6 1595.6,975.5 1598.6,975.4 1601.6,975.3 1604.6,975.2 1607.6,975.0 1610.6,974.9 1613.6,974.7 1616.6,974.5 1619.6,974.3 1622.6,974.1 1625.6,973.8 1628.6,973.6 1631.6,973.3 1634.6,973.1 1637.6,972.8 1640.6,972.5 1643.6,972.2 1646.6,971.9 1649.6,971.6 1652.6,971.2 1655.6,970.9 1658.6,970.6 1661.6,970.2 1664.6,969.9 1667.6,969.5 1670.6,969.1 1673.6,968.7 1676.6,968.4 1679.6,968.0 1682.6,967.6 1685.6,967.2 1688.6,966.8 1691.6,966.4 1694.6,965.9 1697.6,965.5 1700.6,965.1 1703.6,964.7 1706.6,964.3 1709.6,963.9 1712.6,963.4 1715.6,963.0 1718.6,962.6 1721.6,962.2 1724.6,961.7 1727.6,961.3 1730.6,960.9 1733.6,960.5 1736.6,960.1 1739.6,959.7 1742.6,959.3 1745.6,958.9 1748.6,958.5 1751.6,958.1 1754.6,957.7 1757.6,957.3 1760.6,956.9 1763.6,956.5 1766.6,956.2 1769.6,955.8 1772.6,955.4 1775.6,955.1 1778.6,954.8 1781.6,954.4 1784.6,954.1 1787.6,953.8 1790.6,953.5 1793.6,953.2 1796.6,952.9 1799.6,952.6 1802.6,952.4 1805.6,952.1 1808.6,951.9 1811.6,951.6 1814.6,951.4 1817.6,951.2 1820.6,951.0 1823.6,950.8 1826.6,950.6 1829.6,950.5 1832.6,950.3 1835.6,950.2 1838.6,950.0 1841.6,949.9 1844.6,949.8 1847.6,949.7 1850.6,949.7 1853.6,949.6 1856.6,949.5 1859.6,949.5 1862.6,949.5 1865.6,949.5 1868.6,949.4 1871.6,949.5 1874.6,949.5 1877.6,949.5 1880.6,949.6 1883.6,949.6 1886.6,949.7 1889.6,949.8 1892.6,949.9 1895.6,950.0 1898.6,950.1 1901.6,950.2 1904.6,950.4 1907.6,950.5 1910.6,950.7 1913.6,950.9 1916.6,951.1 1919.6,951.3 1922.6,951.5 1925.6,951.7 1928.6,951.9 1931.6,952.2 1934.6,952.4 1937.6,952.7 1940.6,952.9 1943.6,953.2 1946.6,953.5 1949.6,953.8 1952.6,954.1 1955.6,954.4 1958.6,954.7 1961.6,955.0 1964.6,955.3 1967.6,955.7 1970.6,956.0 1973.6,956.3 1976.6,956.7 1979.6,957.0 1982.6,957.4 1985.6,957.8 1988.6,958.1 1991.6,958.5 1994.6,958.9 1997.6,959.3 2000.6,959.6 2003.6,960.0 2006.6,960.4 2009.6,960.8 2012.6,961.2 2015.6,961.6 2018.6,962.0 2021.6,962.4 2024.6,962.8 2027.6,963.2 2030.6,963.6 2033.6,964.0 2036.6,964.4 2039.6,964.8 2042.6,965.2 2045.6,965.5 2048.6,965.9 2051.6,966.3 2054.6,966.7 2057.6,967.1 2060.6,967.5 2063.6,967.9 2066.6,968.3 2069.6,968.7 2072.6,969.0 2075.6,969.4 2078.6,969.8 2081.6,970.2 2084.6,970.5 2087.6,970.9 2090.6,971.3 2093.6,971.6 2096.6,972.0 2099.6,972.3 2102.6,972.7 2105.6,973.0 2108.6,973.4 2111.6,973.7 2114.6,974.0 2117.6,974.4 2120.6,974.7 2123.6,975.0 2126.6,975.3 2129.6,975.6 2132.6,975.9 2135.6,976.2 2138.6,976.5 2141.6,976.8 2144.6,977.1 2147.6,977.4 2150.6,977.6 2153.6,977.9 2156.6,978.2 2159.6,978.4 2162.6,978.7 2165.6,978.9 2168.6,979.2 2171.6,979.4 2174.6,979.6 2177.6,979.9 2180.6,980.1 2183.6,980.3 2186.6,980.5 2189.6,980.7 2192.6,980.9 2195.6,981.1 2197.6,981.3" fill="none" stroke="#000" stroke-width="4.0" stroke-linejoin="round"/>
<g fill="url(#pg)"><circle cx="1295.0" cy="993.5" r="7.85"/><circle cx="1295.0" cy="994.3" r="7.85"/><circle cx="1295.0" cy="994.9" r="7.85"/><circle cx="1295.0" cy="995.2" r="7.85"/><circle cx="1295.0" cy="995.8" r="7.85"/><circle cx="1295.0" cy="996.3" r="7.85"/><circle cx="1295.0" cy="997.0" r="7.85"/><circle cx="1295.0" cy="997.4" r="7.85"/><circle cx="1295.0" cy="998.0" r="7.85"/><circle cx="1295.0" cy="998.6" r="7.85"/><circle cx="1295.0" cy="999.3" r="7.85"/><circle cx="1295.0" cy="999.8" r="7.85"/><circle cx="1295.0" cy="1000.2" r="7.85"/><circle cx="1295.0" cy="1000.7" r="7.85"/><circle cx="1295.0" cy="1001.5" r="7.85"/><circle cx="1295.0" cy="1002.0" r="7.85"/><circle cx="1295.0" cy="1002.5" r="7.85"/><circle cx="1295.0" cy="1002.9" r="7.85"/><circle cx="1295.0" cy="1003.5" r="7.85"/><circle cx="1295.0" cy="1004.2" r="7.85"/><circle cx="1295.0" cy="1004.7" r="7.85"/><circle cx="1295.0" cy="1005.1" r="7.85"/><circle cx="1295.0" cy="1005.9" r="7.85"/><circle cx="1295.0" cy="1006.4" r="7.85"/><circle cx="1295.0" cy="1007.0" r="7.85"/><circle cx="1295.0" cy="1007.4" r="7.85"/><circle cx="1295.0" cy="1008.1" r="7.85"/><circle cx="1295.0" cy="1008.5" r="7.85"/><circle cx="1295.0" cy="1009.2" r="7.85"/><circle cx="1295.0" cy="1009.7" r="7.85"/><circle cx="1295.0" cy="1010.2" r="7.85"/><circle cx="1295.0" cy="1010.8" r="7.85"/><circle cx="1295.0" cy="1011.5" r="7.85"/><circle cx="1295.0" cy="1011.8" r="7.85"/><circle cx="1295.0" cy="1012.3" r="7.85"/><circle cx="1295.0" cy="1013.0" r="7.85"/><circle cx="1295.0" cy="1013.5" r="7.85"/><circle cx="1295.0" cy="1014.0" r="7.85"/><circle cx="1295.0" cy="1014.6" r="7.85"/><circle cx="1295.0" cy="1015.1" r="7.85"/><circle cx="1295.0" cy="1015.7" r="7.85"/><circle cx="1295.0" cy="1016.3" r="7.85"/><circle cx="1295.0" cy="1016.8" r="7.85"/><circle cx="1295.0" cy="1017.5" r="7.85"/><circle cx="1295.0" cy="1017.9" r="7.85"/><circle cx="1295.0" cy="1018.5" r="7.85"/><circle cx="1295.0" cy="1019.0" r="7.85"/><circle cx="1295.0" cy="1019.6" r="7.85"/><circle cx="1295.0" cy="1020.1" r="7.85"/><circle cx="1295.0" cy="1020.7" r="7.85"/><circle cx="1295.0" cy="1021.2" r="7.85"/><circle cx="1295.0" cy="1021.9" r="7.85"/><circle cx="1295.0" cy="1022.4" r="7.85"/><circle cx="1295.0" cy="1022.9" r="7.85"/><circle cx="1295.0" cy="1023.5" r="7.85"/><circle cx="1295.0" cy="1024.2" r="7.85"/><circle cx="1295.0" cy="1024.5" r="7.85"/><circle cx="1295.0" cy="1025.3" r="7.85"/><circle cx="1295.0" cy="1025.7" r="7.85"/><circle cx="1295.0" cy="1026.3" r="7.85"/><circle cx="1295.0" cy="1026.9" r="7.85"/><circle cx="1295.0" cy="1027.4" r="7.85"/><circle cx="1295.0" cy="1027.9" r="7.85"/><circle cx="1295.0" cy="1028.5" r="7.85"/><circle cx="1295.0" cy="1029.2" r="7.85"/><circle cx="1295.0" cy="1029.6" r="7.85"/><circle cx="1295.0" cy="1030.2" r="7.85"/><circle cx="1295.0" cy="1030.8" r="7.85"/><circle cx="1295.0" cy="1031.3" r="7.85"/><circle cx="1295.0" cy="1031.8" r="7.85"/><circle cx="1295.0" cy="1032.3" r="7.85"/><circle cx="1295.0" cy="1032.8" r="7.85"/><circle cx="1295.0" cy="1033.4" r="7.85"/><circle cx="1295.0" cy="1033.9" r="7.85"/><circle cx="1295.0" cy="1034.6" r="7.85"/><circle cx="1295.0" cy="1035.1" r="7.85"/><circle cx="1295.0" cy="1035.6" r="7.85"/><circle cx="1295.0" cy="1036.1" r="7.85"/><circle cx="1295.0" cy="1036.9" r="7.85"/><circle cx="1295.0" cy="1037.5" r="7.85"/><circle cx="1295.0" cy="1037.9" r="7.85"/><circle cx="1295.0" cy="1038.4" r="7.85"/><circle cx="1295.0" cy="1038.9" r="7.85"/><circle cx="1295.0" cy="1039.7" r="7.85"/><circle cx="1667.0" cy="1022.9" r="7.85"/><circle cx="1720.8" cy="1003.7" r="7.85"/><circle cx="1755.6" cy="995.5" r="7.85"/><circle cx="1744.6" cy="1013.8" r="7.85"/><circle cx="1736.4" cy="1018.8" r="7.85"/><circle cx="1756.4" cy="1007.3" r="7.85"/><circle cx="1759.7" cy="1011.9" r="7.85"/><circle cx="1762.5" cy="1018.8" r="7.85"/><circle cx="1761.1" cy="1025.1" r="7.85"/><circle cx="1768.0" cy="1039.4" r="7.85"/><circle cx="1715.3" cy="1035.8" r="7.85"/><circle cx="1717.2" cy="1034.7" r="7.85"/><circle cx="1722.7" cy="1033.3" r="7.85"/><circle cx="1794.8" cy="1029.8" r="7.85"/><circle cx="1806.9" cy="1013.8" r="7.85"/><circle cx="1821.5" cy="994.1" r="7.85"/><circle cx="1822.3" cy="1018.0" r="7.85"/><circle cx="1822.0" cy="1038.5" r="7.85"/><circle cx="1831.1" cy="994.1" r="7.85"/><circle cx="1833.3" cy="998.2" r="7.85"/><circle cx="1832.4" cy="1002.3" r="7.85"/><circle cx="1831.6" cy="1006.4" r="7.85"/><circle cx="1833.3" cy="1010.5" r="7.85"/><circle cx="1832.4" cy="1014.7" r="7.85"/><circle cx="1833.8" cy="1018.8" r="7.85"/><circle cx="1831.1" cy="1020.1" r="7.85"/><circle cx="1839.3" cy="994.1" r="7.85"/><circle cx="1851.6" cy="999.6" r="7.85"/><circle cx="1844.8" cy="1025.6" r="7.85"/><circle cx="1843.4" cy="1036.6" r="7.85"/><circle cx="1854.4" cy="1033.9" r="7.85"/><circle cx="1857.1" cy="1012.5" r="7.85"/><circle cx="1858.5" cy="1011.4" r="7.85"/><circle cx="1872.8" cy="1010.5" r="7.85"/><circle cx="1868.1" cy="1033.9" r="7.85"/><circle cx="1870.8" cy="1032.5" r="7.85"/><circle cx="1872.8" cy="1031.1" r="7.85"/><circle cx="1876.3" cy="1028.9" r="7.85"/><circle cx="1869.5" cy="1038.0" r="7.85"/><circle cx="1907.9" cy="1016.6" r="7.85"/><circle cx="1924.3" cy="994.1" r="7.85"/><circle cx="1923.8" cy="1013.3" r="7.85"/><circle cx="1925.2" cy="1014.1" r="7.85"/><circle cx="1927.1" cy="1028.4" r="7.85"/><circle cx="1917.5" cy="1033.3" r="7.85"/><circle cx="1927.9" cy="1033.9" r="7.85"/><circle cx="1946.8" cy="998.8" r="7.85"/><circle cx="1944.9" cy="1010.5" r="7.85"/><circle cx="1943.0" cy="1014.7" r="7.85"/><circle cx="1945.7" cy="1019.6" r="7.85"/><circle cx="1958.6" cy="993.3" r="7.85"/><circle cx="1969.6" cy="994.9" r="7.85"/><circle cx="1977.8" cy="1009.7" r="7.85"/><circle cx="1955.3" cy="1029.2" r="7.85"/><circle cx="1961.4" cy="1035.2" r="7.85"/><circle cx="2025.8" cy="994.1" r="7.85"/><circle cx="2029.9" cy="1006.4" r="7.85"/><circle cx="2042.8" cy="1005.6" r="7.85"/><circle cx="2048.3" cy="1010.5" r="7.85"/><circle cx="2029.9" cy="1021.5" r="7.85"/><circle cx="2020.3" cy="1025.6" r="7.85"/><circle cx="2008.0" cy="1038.5" r="7.85"/><circle cx="2064.8" cy="1026.5" r="7.85"/><circle cx="2101.8" cy="999.6" r="7.85"/><circle cx="2152.8" cy="1034.7" r="7.85"/></g>
<polygon points="1091.6,1104.0 1091.6,1079.9 1094.6,1079.0 1097.6,1078.0 1100.6,1076.9 1103.6,1075.9 1106.6,1074.8 1109.6,1073.7 1112.6,1072.6 1115.6,1071.5 1118.6,1070.3 1121.6,1069.2 1124.6,1068.0 1127.6,1066.8 1130.6,1065.5 1133.6,1064.3 1136.6,1063.0 1139.6,1061.7 1142.6,1060.4 1145.6,1059.1 1148.6,1057.8 1151.6,1056.5 1154.6,1055.1 1157.6,1053.8 1160.6,1052.4 1163.6,1051.1 1166.6,1049.7 1169.6,1048.3 1172.6,1047.0 1175.6,1045.6 1178.6,1044.2 1181.6,1042.9 1184.6,1041.5 1187.6,1040.2 1190.6,1038.8 1193.6,1037.5 1196.6,1036.2 1199.6,1034.9 1202.6,1033.6 1205.6,1032.3 1208.6,1031.1 1211.6,1029.8 1214.6,1028.6 1217.6,1027.5 1220.6,1026.3 1223.6,1025.2 1226.6,1024.1 1229.6,1023.1 1232.6,1022.0 1235.6,1021.0 1238.6,1020.1 1241.6,1019.2 1244.6,1018.3 1247.6,1017.5 1250.6,1016.7 1253.6,1016.0 1256.6,1015.3 1259.6,1014.6 1262.6,1014.0 1265.6,1013.5 1268.6,1013.0 1271.6,1012.6 1274.6,1012.2 1277.6,1011.8 1280.6,1011.5 1283.6,1011.3 1286.6,1011.1 1289.6,1011.0 1292.6,1010.9 1295.6,1010.9 1298.6,1010.9 1301.6,1011.0 1304.6,1011.2 1307.6,1011.4 1310.6,1011.6 1313.6,1011.9 1316.6,1012.3 1319.6,1012.7 1322.6,1013.2 1325.6,1013.7 1328.6,1014.3 1331.6,1014.9 1334.6,1015.6 1337.6,1016.3 1340.6,1017.0 1343.6,1017.8 1346.6,1018.7 1349.6,1019.5 1352.6,1020.5 1355.6,1021.4 1358.6,1022.4 1361.6,1023.5 1364.6,1024.5 1367.6,1025.6 1370.6,1026.8 1373.6,1027.9 1376.6,1029.1 1379.6,1030.3 1382.6,1031.6 1385.6,1032.8 1388.6,1034.1 1391.6,1035.4 1394.6,1036.7 1397.6,1038.0 1400.6,1039.3 1403.6,1040.7 1406.6,1042.0 1409.6,1043.4 1412.6,1044.8 1415.6,1046.1 1418.6,1047.5 1421.6,1048.9 1424.6,1050.2 1427.6,1051.6 1430.6,1053.0 1433.6,1054.3 1436.6,1055.7 1439.6,1057.0 1442.6,1058.3 1445.6,1059.6 1448.6,1060.9 1451.6,1062.2 1454.6,1063.5 1457.6,1064.8 1460.6,1066.0 1463.6,1067.2 1466.6,1068.4 1469.6,1069.6 1472.6,1070.8 1475.6,1071.9 1478.6,1073.0 1481.6,1074.1 1484.6,1075.2 1487.6,1076.3 1490.6,1077.3 1493.6,1078.3 1496.6,1079.3 1499.6,1080.2 1502.6,1081.2 1505.6,1082.1 1508.6,1083.0 1511.6,1083.8 1514.6,1084.7 1517.6,1085.5 1520.6,1086.3 1523.6,1087.0 1526.6,1087.7 1529.6,1088.5 1532.6,1089.1 1535.6,1089.8 1538.6,1090.4 1541.6,1091.1 1544.6,1091.7 1547.6,1092.2 1550.6,1092.8 1553.6,1093.3 1556.6,1093.8 1559.6,1094.3 1562.6,1094.7 1565.6,1095.2 1568.6,1095.6 1571.6,1096.0 1574.6,1096.4 1577.6,1096.8 1580.6,1097.1 1583.6,1097.4 1586.6,1097.7 1589.6,1098.0 1592.6,1098.3 1592.6,1104.0" fill="#00BFC4" fill-opacity="0.5"/>
<polyline points="1091.6,1079.9 1094.6,1079.0 1097.6,1078.0 1100.6,1076.9 1103.6,1075.9 1106.6,1074.8 1109.6,1073.7 1112.6,1072.6 1115.6,1071.5 1118.6,1070.3 1121.6,1069.2 1124.6,1068.0 1127.6,1066.8 1130.6,1065.5 1133.6,1064.3 1136.6,1063.0 1139.6,1061.7 1142.6,1060.4 1145.6,1059.1 1148.6,1057.8 1151.6,1056.5 1154.6,1055.1 1157.6,1053.8 1160.6,1052.4 1163.6,1051.1 1166.6,1049.7 1169.6,1048.3 1172.6,1047.0 1175.6,1045.6 1178.6,1044.2 1181.6,1042.9 1184.6,1041.5 1187.6,1040.2 1190.6,1038.8 1193.6,1037.5 1196.6,1036.2 1199.6,1034.9 1202.6,1033.6 1205.6,1032.3 1208.6,1031.1 1211.6,1029.8 1214.6,1028.6 1217.6,1027.5 1220.6,1026.3 1223.6,1025.2 1226.6,1024.1 1229.6,1023.1 1232.6,1022.0 1235.6,1021.0 1238.6,1020.1 1241.6,1019.2 1244.6,1018.3 1247.6,1017.5 1250.6,1016.7 1253.6,1016.0 1256.6,1015.3 1259.6,1014.6 1262.6,1014.0 1265.6,1013.5 1268.6,1013.0 1271.6,1012.6 1274.6,1012.2 1277.6,1011.8 1280.6,1011.5 1283.6,1011.3 1286.6,1011.1 1289.6,1011.0 1292.6,1010.9 1295.6,1010.9 1298.6,1010.9 1301.6,1011.0 1304.6,1011.2 1307.6,1011.4 1310.6,1011.6 1313.6,1011.9 1316.6,1012.3 1319.6,1012.7 1322.6,1013.2 1325.6,1013.7 1328.6,1014.3 1331.6,1014.9 1334.6,1015.6 1337.6,1016.3 1340.6,1017.0 1343.6,1017.8 1346.6,1018.7 1349.6,1019.5 1352.6,1020.5 1355.6,1021.4 1358.6,1022.4 1361.6,1023.5 1364.6,1024.5 1367.6,1025.6 1370.6,1026.8 1373.6,1027.9 1376.6,1029.1 1379.6,1030.3 1382.6,1031.6 1385.6,1032.8 1388.6,1034.1 1391.6,1035.4 1394.6,1036.7 1397.6,1038.0 1400.6,1039.3 1403.6,1040.7 1406.6,1042.0 1409.6,1043.4 1412.6,1044.8 1415.6,1046.1 1418.6,1047.5 1421.6,1048.9 1424.6,1050.2 1427.6,1051.6 1430.6,1053.0 1433.6,1054.3 1436.6,1055.7 1439.6,1057.0 1442.6,1058.3 1445.6,1059.6 1448.6,1060.9 1451.6,1062.2 1454.6,1063.5 1457.6,1064.8 1460.6,1066.0 1463.6,1067.2 1466.6,1068.4 1469.6,1069.6 1472.6,1070.8 1475.6,1071.9 1478.6,1073.0 1481.6,1074.1 1484.6,1075.2 1487.6,1076.3 1490.6,1077.3 1493.6,1078.3 1496.6,1079.3 1499.6,1080.2 1502.6,1081.2 1505.6,1082.1 1508.6,1083.0 1511.6,1083.8 1514.6,1084.7 1517.6,1085.5 1520.6,1086.3 1523.6,1087.0 1526.6,1087.7 1529.6,1088.5 1532.6,1089.1 1535.6,1089.8 1538.6,1090.4 1541.6,1091.1 1544.6,1091.7 1547.6,1092.2 1550.6,1092.8 1553.6,1093.3 1556.6,1093.8 1559.6,1094.3 1562.6,1094.7 1565.6,1095.2 1568.6,1095.6 1571.6,1096.0 1574.6,1096.4 1577.6,1096.8 1580.6,1097.1 1583.6,1097.4 1586.6,1097.7 1589.6,1098.0 1592.6,1098.3" fill="none" stroke="#000" stroke-width="4.0" stroke-linejoin="round"/>
<polygon points="1759.1,1104.0 1759.1,1098.5 1762.1,1098.3 1765.1,1098.2 1768.1,1098.0 1771.1,1097.9 1774.1,1097.7 1777.1,1097.6 1780.1,1097.4 1783.1,1097.3 1786.1,1097.1 1789.1,1097.0 1792.1,1096.8 1795.1,1096.6 1798.1,1096.5 1801.1,1096.3 1804.1,1096.1 1807.1,1096.0 1810.1,1095.8 1813.1,1095.7 1816.1,1095.5 1819.1,1095.3 1822.1,1095.2 1825.1,1095.0 1828.1,1094.9 1831.1,1094.7 1834.1,1094.5 1837.1,1094.4 1840.1,1094.2 1843.1,1094.1 1846.1,1093.9 1849.1,1093.8 1852.1,1093.6 1855.1,1093.5 1858.1,1093.3 1861.1,1093.2 1864.1,1093.1 1867.1,1092.9 1870.1,1092.8 1873.1,1092.7 1876.1,1092.5 1879.1,1092.4 1882.1,1092.3 1885.1,1092.2 1888.1,1092.0 1891.1,1091.9 1894.1,1091.8 1897.1,1091.7 1900.1,1091.6 1903.1,1091.5 1906.1,1091.4 1909.1,1091.3 1912.1,1091.2 1915.1,1091.1 1918.1,1091.1 1921.1,1091.0 1924.1,1090.9 1927.1,1090.8 1930.1,1090.8 1933.1,1090.7 1936.1,1090.7 1939.1,1090.6 1942.1,1090.6 1945.1,1090.5 1948.1,1090.5 1951.1,1090.4 1954.1,1090.4 1957.1,1090.4 1960.1,1090.4 1963.1,1090.4 1966.1,1090.4 1969.1,1090.3 1972.1,1090.3 1975.1,1090.3 1978.1,1090.4 1981.1,1090.4 1984.1,1090.4 1987.1,1090.4 1990.1,1090.4 1993.1,1090.5 1996.1,1090.5 1999.1,1090.5 2002.1,1090.6 2005.1,1090.6 2008.1,1090.7 2011.1,1090.7 2014.1,1090.8 2017.1,1090.9 2020.1,1090.9 2023.1,1091.0 2026.1,1091.1 2029.1,1091.2 2032.1,1091.3 2035.1,1091.3 2038.1,1091.4 2041.1,1091.5 2044.1,1091.6 2047.1,1091.7 2050.1,1091.8 2053.1,1092.0 2056.1,1092.1 2059.1,1092.2 2062.1,1092.3 2065.1,1092.4 2068.1,1092.6 2071.1,1092.7 2074.1,1092.8 2077.1,1093.0 2080.1,1093.1 2083.1,1093.2 2086.1,1093.4 2089.1,1093.5 2092.1,1093.7 2095.1,1093.8 2098.1,1094.0 2101.1,1094.1 2104.1,1094.3 2107.1,1094.4 2110.1,1094.6 2113.1,1094.7 2116.1,1094.9 2119.1,1095.0 2122.1,1095.2 2125.1,1095.4 2128.1,1095.5 2131.1,1095.7 2134.1,1095.8 2137.1,1096.0 2140.1,1096.2 2143.1,1096.3 2146.1,1096.5 2149.1,1096.7 2152.1,1096.8 2155.1,1097.0 2158.1,1097.1 2161.1,1097.3 2164.1,1097.5 2167.1,1097.6 2170.1,1097.8 2173.1,1097.9 2176.1,1098.1 2179.1,1098.2 2182.1,1098.4 2182.6,1098.4 2182.6,1104.0" fill="#00BFC4" fill-opacity="0.5"/>
<polyline points="1759.1,1098.5 1762.1,1098.3 1765.1,1098.2 1768.1,1098.0 1771.1,1097.9 1774.1,1097.7 1777.1,1097.6 1780.1,1097.4 1783.1,1097.3 1786.1,1097.1 1789.1,1097.0 1792.1,1096.8 1795.1,1096.6 1798.1,1096.5 1801.1,1096.3 1804.1,1096.1 1807.1,1096.0 1810.1,1095.8 1813.1,1095.7 1816.1,1095.5 1819.1,1095.3 1822.1,1095.2 1825.1,1095.0 1828.1,1094.9 1831.1,1094.7 1834.1,1094.5 1837.1,1094.4 1840.1,1094.2 1843.1,1094.1 1846.1,1093.9 1849.1,1093.8 1852.1,1093.6 1855.1,1093.5 1858.1,1093.3 1861.1,1093.2 1864.1,1093.1 1867.1,1092.9 1870.1,1092.8 1873.1,1092.7 1876.1,1092.5 1879.1,1092.4 1882.1,1092.3 1885.1,1092.2 1888.1,1092.0 1891.1,1091.9 1894.1,1091.8 1897.1,1091.7 1900.1,1091.6 1903.1,1091.5 1906.1,1091.4 1909.1,1091.3 1912.1,1091.2 1915.1,1091.1 1918.1,1091.1 1921.1,1091.0 1924.1,1090.9 1927.1,1090.8 1930.1,1090.8 1933.1,1090.7 1936.1,1090.7 1939.1,1090.6 1942.1,1090.6 1945.1,1090.5 1948.1,1090.5 1951.1,1090.4 1954.1,1090.4 1957.1,1090.4 1960.1,1090.4 1963.1,1090.4 1966.1,1090.4 1969.1,1090.3 1972.1,1090.3 1975.1,1090.3 1978.1,1090.4 1981.1,1090.4 1984.1,1090.4 1987.1,1090.4 1990.1,1090.4 1993.1,1090.5 1996.1,1090.5 1999.1,1090.5 2002.1,1090.6 2005.1,1090.6 2008.1,1090.7 2011.1,1090.7 2014.1,1090.8 2017.1,1090.9 2020.1,1090.9 2023.1,1091.0 2026.1,1091.1 2029.1,1091.2 2032.1,1091.3 2035.1,1091.3 2038.1,1091.4 2041.1,1091.5 2044.1,1091.6 2047.1,1091.7 2050.1,1091.8 2053.1,1092.0 2056.1,1092.1 2059.1,1092.2 2062.1,1092.3 2065.1,1092.4 2068.1,1092.6 2071.1,1092.7 2074.1,1092.8 2077.1,1093.0 2080.1,1093.1 2083.1,1093.2 2086.1,1093.4 2089.1,1093.5 2092.1,1093.7 2095.1,1093.8 2098.1,1094.0 2101.1,1094.1 2104.1,1094.3 2107.1,1094.4 2110.1,1094.6 2113.1,1094.7 2116.1,1094.9 2119.1,1095.0 2122.1,1095.2 2125.1,1095.4 2128.1,1095.5 2131.1,1095.7 2134.1,1095.8 2137.1,1096.0 2140.1,1096.2 2143.1,1096.3 2146.1,1096.5 2149.1,1096.7 2152.1,1096.8 2155.1,1097.0 2158.1,1097.1 2161.1,1097.3 2164.1,1097.5 2167.1,1097.6 2170.1,1097.8 2173.1,1097.9 2176.1,1098.1 2179.1,1098.2 2182.1,1098.4 2182.6,1098.4" fill="none" stroke="#000" stroke-width="4.0" stroke-linejoin="round"/>
<g fill="url(#pg)"><circle cx="1295.0" cy="1111.5" r="7.85"/><circle cx="1295.0" cy="1124.5" r="7.85"/><circle cx="1295.0" cy="1126.0" r="7.85"/><circle cx="1295.0" cy="1128.0" r="7.85"/><circle cx="1295.0" cy="1130.5" r="7.85"/><circle cx="1295.0" cy="1132.0" r="7.85"/><circle cx="1295.0" cy="1134.0" r="7.85"/><circle cx="1295.0" cy="1136.0" r="7.85"/><circle cx="1295.0" cy="1138.5" r="7.85"/><circle cx="1295.0" cy="1140.0" r="7.85"/><circle cx="1295.0" cy="1142.0" r="7.85"/><circle cx="1295.0" cy="1144.5" r="7.85"/><circle cx="1295.0" cy="1147.0" r="7.85"/><circle cx="1295.0" cy="1149.0" r="7.85"/><circle cx="1295.0" cy="1151.0" r="7.85"/><circle cx="1295.0" cy="1153.0" r="7.85"/><circle cx="1295.0" cy="1154.9" r="7.85"/><circle cx="1970.6" cy="1113.0" r="7.85"/><circle cx="1867.0" cy="1153.7" r="7.85"/><circle cx="2079.6" cy="1152.8" r="7.85"/></g>
<polygon points="1091.6,1221.1 1091.6,1198.5 1094.6,1197.6 1097.6,1196.7 1100.6,1195.7 1103.6,1194.8 1106.6,1193.8 1109.6,1192.7 1112.6,1191.7 1115.6,1190.6 1118.6,1189.6 1121.6,1188.5 1124.6,1187.3 1127.6,1186.2 1130.6,1185.0 1133.6,1183.9 1136.6,1182.7 1139.6,1181.5 1142.6,1180.3 1145.6,1179.0 1148.6,1177.8 1151.6,1176.6 1154.6,1175.3 1157.6,1174.0 1160.6,1172.8 1163.6,1171.5 1166.6,1170.2 1169.6,1168.9 1172.6,1167.6 1175.6,1166.4 1178.6,1165.1 1181.6,1163.8 1184.6,1162.5 1187.6,1161.3 1190.6,1160.0 1193.6,1158.8 1196.6,1157.5 1199.6,1156.3 1202.6,1155.1 1205.6,1153.9 1208.6,1152.7 1211.6,1151.6 1214.6,1150.5 1217.6,1149.4 1220.6,1148.3 1223.6,1147.2 1226.6,1146.2 1229.6,1145.2 1232.6,1144.3 1235.6,1143.3 1238.6,1142.5 1241.6,1141.6 1244.6,1140.8 1247.6,1140.0 1250.6,1139.3 1253.6,1138.6 1256.6,1137.9 1259.6,1137.3 1262.6,1136.8 1265.6,1136.3 1268.6,1135.8 1271.6,1135.4 1274.6,1135.0 1277.6,1134.7 1280.6,1134.4 1283.6,1134.2 1286.6,1134.0 1289.6,1133.9 1292.6,1133.8 1295.6,1133.8 1298.6,1133.8 1301.6,1133.9 1304.6,1134.0 1307.6,1134.2 1310.6,1134.5 1313.6,1134.8 1316.6,1135.1 1319.6,1135.5 1322.6,1135.9 1325.6,1136.4 1328.6,1136.9 1331.6,1137.5 1334.6,1138.1 1337.6,1138.7 1340.6,1139.4 1343.6,1140.2 1346.6,1141.0 1349.6,1141.8 1352.6,1142.6 1355.6,1143.5 1358.6,1144.4 1361.6,1145.4 1364.6,1146.4 1367.6,1147.4 1370.6,1148.5 1373.6,1149.5 1376.6,1150.6 1379.6,1151.7 1382.6,1152.9 1385.6,1154.0 1388.6,1155.2 1391.6,1156.4 1394.6,1157.6 1397.6,1158.8 1400.6,1160.0 1403.6,1161.3 1406.6,1162.5 1409.6,1163.8 1412.6,1165.0 1415.6,1166.3 1418.6,1167.5 1421.6,1168.8 1424.6,1170.0 1427.6,1171.3 1430.6,1172.5 1433.6,1173.7 1436.6,1175.0 1439.6,1176.2 1442.6,1177.4 1445.6,1178.6 1448.6,1179.8 1451.6,1180.9 1454.6,1182.1 1457.6,1183.2 1460.6,1184.3 1463.6,1185.4 1466.6,1186.5 1469.6,1187.5 1472.6,1188.6 1475.6,1189.6 1478.6,1190.6 1481.6,1191.6 1484.6,1192.5 1487.6,1193.4 1490.6,1194.3 1493.6,1195.2 1496.6,1196.1 1499.6,1196.9 1502.6,1197.7 1505.6,1198.5 1508.6,1199.2 1511.6,1200.0 1514.6,1200.7 1517.6,1201.4 1520.6,1202.0 1523.6,1202.7 1526.6,1203.3 1529.6,1203.8 1532.6,1204.4 1535.6,1204.9 1538.6,1205.5 1541.6,1205.9 1544.6,1206.4 1547.6,1206.9 1550.6,1207.3 1553.6,1207.7 1556.6,1208.1 1559.6,1208.4 1562.6,1208.8 1565.6,1209.1 1568.6,1209.4 1571.6,1209.7 1574.6,1209.9 1577.6,1210.2 1580.6,1210.4 1583.6,1210.6 1586.6,1210.8 1589.6,1211.0 1592.6,1211.1 1595.6,1211.3 1598.6,1211.4 1601.6,1211.6 1604.6,1211.7 1607.6,1211.8 1610.6,1211.8 1613.6,1211.9 1616.6,1212.0 1619.6,1212.0 1622.6,1212.0 1625.6,1212.1 1628.6,1212.1 1631.6,1212.1 1634.6,1212.1 1637.6,1212.1 1640.6,1212.1 1643.6,1212.0 1646.6,1212.0 1649.6,1212.0 1652.6,1211.9 1655.6,1211.9 1658.6,1211.8 1661.6,1211.8 1664.6,1211.7 1667.6,1211.6 1670.6,1211.5 1673.6,1211.5 1676.6,1211.4 1679.6,1211.3 1682.6,1211.2 1685.6,1211.1 1688.6,1211.0 1691.6,1210.9 1694.6,1210.8 1697.6,1210.7 1700.6,1210.6 1703.6,1210.5 1706.6,1210.4 1709.6,1210.3 1712.6,1210.2 1715.6,1210.0 1718.6,1209.9 1721.6,1209.8 1724.6,1209.7 1727.6,1209.6 1730.6,1209.5 1733.6,1209.3 1736.6,1209.2 1739.6,1209.1 1742.6,1209.0 1745.6,1208.9 1748.6,1208.8 1751.6,1208.7 1754.6,1208.5 1757.6,1208.4 1760.6,1208.3 1763.6,1208.2 1766.6,1208.1 1769.6,1208.0 1772.6,1207.9 1775.6,1207.8 1778.6,1207.7 1781.6,1207.6 1784.6,1207.5 1787.6,1207.4 1790.6,1207.3 1793.6,1207.2 1796.6,1207.1 1799.6,1207.0 1802.6,1206.9 1805.6,1206.8 1808.6,1206.7 1811.6,1206.6 1814.6,1206.5 1817.6,1206.4 1820.6,1206.4 1823.6,1206.3 1826.6,1206.2 1829.6,1206.2 1832.6,1206.1 1835.6,1206.0 1838.6,1206.0 1841.6,1205.9 1844.6,1205.8 1847.6,1205.8 1850.6,1205.7 1853.6,1205.7 1856.6,1205.7 1859.6,1205.6 1862.6,1205.6 1865.6,1205.5 1868.6,1205.5 1871.6,1205.5 1874.6,1205.5 1877.6,1205.5 1880.6,1205.4 1883.6,1205.4 1886.6,1205.4 1889.6,1205.4 1892.6,1205.4 1895.6,1205.4 1898.6,1205.4 1901.6,1205.5 1904.6,1205.5 1907.6,1205.5 1910.6,1205.5 1913.6,1205.6 1916.6,1205.6 1919.6,1205.6 1922.6,1205.7 1925.6,1205.7 1928.6,1205.8 1931.6,1205.8 1934.6,1205.9 1937.6,1206.0 1940.6,1206.0 1943.6,1206.1 1946.6,1206.2 1949.6,1206.3 1952.6,1206.4 1955.6,1206.4 1958.6,1206.5 1961.6,1206.6 1964.6,1206.7 1967.6,1206.8 1970.6,1207.0 1973.6,1207.1 1976.6,1207.2 1979.6,1207.3 1982.6,1207.4 1985.6,1207.6 1988.6,1207.7 1991.6,1207.8 1994.6,1208.0 1997.6,1208.1 2000.6,1208.2 2003.6,1208.4 2006.6,1208.5 2009.6,1208.7 2012.6,1208.8 2015.6,1209.0 2018.6,1209.2 2021.6,1209.3 2024.6,1209.5 2027.6,1209.6 2030.6,1209.8 2033.6,1210.0 2036.6,1210.1 2039.6,1210.3 2042.6,1210.5 2045.6,1210.7 2048.6,1210.8 2051.6,1211.0 2054.6,1211.2 2057.6,1211.4 2060.6,1211.5 2063.6,1211.7 2066.6,1211.9 2069.6,1212.1 2072.6,1212.2 2075.6,1212.4 2078.6,1212.6 2081.6,1212.8 2084.6,1212.9 2087.6,1213.1 2090.6,1213.3 2093.6,1213.4 2096.6,1213.6 2099.6,1213.8 2102.6,1214.0 2105.6,1214.1 2108.6,1214.3 2111.6,1214.5 2114.6,1214.6 2117.6,1214.8 2120.6,1214.9 2123.6,1215.1 2126.6,1215.3 2129.6,1215.4 2131.7,1215.5 2131.7,1221.1" fill="#00C19F" fill-opacity="0.5"/>
<polyline points="1091.6,1198.5 1094.6,1197.6 1097.6,1196.7 1100.6,1195.7 1103.6,1194.8 1106.6,1193.8 1109.6,1192.7 1112.6,1191.7 1115.6,1190.6 1118.6,1189.6 1121.6,1188.5 1124.6,1187.3 1127.6,1186.2 1130.6,1185.0 1133.6,1183.9 1136.6,1182.7 1139.6,1181.5 1142.6,1180.3 1145.6,1179.0 1148.6,1177.8 1151.6,1176.6 1154.6,1175.3 1157.6,1174.0 1160.6,1172.8 1163.6,1171.5 1166.6,1170.2 1169.6,1168.9 1172.6,1167.6 1175.6,1166.4 1178.6,1165.1 1181.6,1163.8 1184.6,1162.5 1187.6,1161.3 1190.6,1160.0 1193.6,1158.8 1196.6,1157.5 1199.6,1156.3 1202.6,1155.1 1205.6,1153.9 1208.6,1152.7 1211.6,1151.6 1214.6,1150.5 1217.6,1149.4 1220.6,1148.3 1223.6,1147.2 1226.6,1146.2 1229.6,1145.2 1232.6,1144.3 1235.6,1143.3 1238.6,1142.5 1241.6,1141.6 1244.6,1140.8 1247.6,1140.0 1250.6,1139.3 1253.6,1138.6 1256.6,1137.9 1259.6,1137.3 1262.6,1136.8 1265.6,1136.3 1268.6,1135.8 1271.6,1135.4 1274.6,1135.0 1277.6,1134.7 1280.6,1134.4 1283.6,1134.2 1286.6,1134.0 1289.6,1133.9 1292.6,1133.8 1295.6,1133.8 1298.6,1133.8 1301.6,1133.9 1304.6,1134.0 1307.6,1134.2 1310.6,1134.5 1313.6,1134.8 1316.6,1135.1 1319.6,1135.5 1322.6,1135.9 1325.6,1136.4 1328.6,1136.9 1331.6,1137.5 1334.6,1138.1 1337.6,1138.7 1340.6,1139.4 1343.6,1140.2 1346.6,1141.0 1349.6,1141.8 1352.6,1142.6 1355.6,1143.5 1358.6,1144.4 1361.6,1145.4 1364.6,1146.4 1367.6,1147.4 1370.6,1148.5 1373.6,1149.5 1376.6,1150.6 1379.6,1151.7 1382.6,1152.9 1385.6,1154.0 1388.6,1155.2 1391.6,1156.4 1394.6,1157.6 1397.6,1158.8 1400.6,1160.0 1403.6,1161.3 1406.6,1162.5 1409.6,1163.8 1412.6,1165.0 1415.6,1166.3 1418.6,1167.5 1421.6,1168.8 1424.6,1170.0 1427.6,1171.3 1430.6,1172.5 1433.6,1173.7 1436.6,1175.0 1439.6,1176.2 1442.6,1177.4 1445.6,1178.6 1448.6,1179.8 1451.6,1180.9 1454.6,1182.1 1457.6,1183.2 1460.6,1184.3 1463.6,1185.4 1466.6,1186.5 1469.6,1187.5 1472.6,1188.6 1475.6,1189.6 1478.6,1190.6 1481.6,1191.6 1484.6,1192.5 1487.6,1193.4 1490.6,1194.3 1493.6,1195.2 1496.6,1196.1 1499.6,1196.9 1502.6,1197.7 1505.6,1198.5 1508.6,1199.2 1511.6,1200.0 1514.6,1200.7 1517.6,1201.4 1520.6,1202.0 1523.6,1202.7 1526.6,1203.3 1529.6,1203.8 1532.6,1204.4 1535.6,1204.9 1538.6,1205.5 1541.6,1205.9 1544.6,1206.4 1547.6,1206.9 1550.6,1207.3 1553.6,1207.7 1556.6,1208.1 1559.6,1208.4 1562.6,1208.8 1565.6,1209.1 1568.6,1209.4 1571.6,1209.7 1574.6,1209.9 1577.6,1210.2 1580.6,1210.4 1583.6,1210.6 1586.6,1210.8 1589.6,1211.0 1592.6,1211.1 1595.6,1211.3 1598.6,1211.4 1601.6,1211.6 1604.6,1211.7 1607.6,1211.8 1610.6,1211.8 1613.6,1211.9 1616.6,1212.0 1619.6,1212.0 1622.6,1212.0 1625.6,1212.1 1628.6,1212.1 1631.6,1212.1 1634.6,1212.1 1637.6,1212.1 1640.6,1212.1 1643.6,1212.0 1646.6,1212.0 1649.6,1212.0 1652.6,1211.9 1655.6,1211.9 1658.6,1211.8 1661.6,1211.8 1664.6,1211.7 1667.6,1211.6 1670.6,1211.5 1673.6,1211.5 1676.6,1211.4 1679.6,1211.3 1682.6,1211.2 1685.6,1211.1 1688.6,1211.0 1691.6,1210.9 1694.6,1210.8 1697.6,1210.7 1700.6,1210.6 1703.6,1210.5 1706.6,1210.4 1709.6,1210.3 1712.6,1210.2 1715.6,1210.0 1718.6,1209.9 1721.6,1209.8 1724.6,1209.7 1727.6,1209.6 1730.6,1209.5 1733.6,1209.3 1736.6,1209.2 1739.6,1209.1 1742.6,1209.0 1745.6,1208.9 1748.6,1208.8 1751.6,1208.7 1754.6,1208.5 1757.6,1208.4 1760.6,1208.3 1763.6,1208.2 1766.6,1208.1 1769.6,1208.0 1772.6,1207.9 1775.6,1207.8 1778.6,1207.7 1781.6,1207.6 1784.6,1207.5 1787.6,1207.4 1790.6,1207.3 1793.6,1207.2 1796.6,1207.1 1799.6,1207.0 1802.6,1206.9 1805.6,1206.8 1808.6,1206.7 1811.6,1206.6 1814.6,1206.5 1817.6,1206.4 1820.6,1206.4 1823.6,1206.3 1826.6,1206.2 1829.6,1206.2 1832.6,1206.1 1835.6,1206.0 1838.6,1206.0 1841.6,1205.9 1844.6,1205.8 1847.6,1205.8 1850.6,1205.7 1853.6,1205.7 1856.6,1205.7 1859.6,1205.6 1862.6,1205.6 1865.6,1205.5 1868.6,1205.5 1871.6,1205.5 1874.6,1205.5 1877.6,1205.5 1880.6,1205.4 1883.6,1205.4 1886.6,1205.4 1889.6,1205.4 1892.6,1205.4 1895.6,1205.4 1898.6,1205.4 1901.6,1205.5 1904.6,1205.5 1907.6,1205.5 1910.6,1205.5 1913.6,1205.6 1916.6,1205.6 1919.6,1205.6 1922.6,1205.7 1925.6,1205.7 1928.6,1205.8 1931.6,1205.8 1934.6,1205.9 1937.6,1206.0 1940.6,1206.0 1943.6,1206.1 1946.6,1206.2 1949.6,1206.3 1952.6,1206.4 1955.6,1206.4 1958.6,1206.5 1961.6,1206.6 1964.6,1206.7 1967.6,1206.8 1970.6,1207.0 1973.6,1207.1 1976.6,1207.2 1979.6,1207.3 1982.6,1207.4 1985.6,1207.6 1988.6,1207.7 1991.6,1207.8 1994.6,1208.0 1997.6,1208.1 2000.6,1208.2 2003.6,1208.4 2006.6,1208.5 2009.6,1208.7 2012.6,1208.8 2015.6,1209.0 2018.6,1209.2 2021.6,1209.3 2024.6,1209.5 2027.6,1209.6 2030.6,1209.8 2033.6,1210.0 2036.6,1210.1 2039.6,1210.3 2042.6,1210.5 2045.6,1210.7 2048.6,1210.8 2051.6,1211.0 2054.6,1211.2 2057.6,1211.4 2060.6,1211.5 2063.6,1211.7 2066.6,1211.9 2069.6,1212.1 2072.6,1212.2 2075.6,1212.4 2078.6,1212.6 2081.6,1212.8 2084.6,1212.9 2087.6,1213.1 2090.6,1213.3 2093.6,1213.4 2096.6,1213.6 2099.6,1213.8 2102.6,1214.0 2105.6,1214.1 2108.6,1214.3 2111.6,1214.5 2114.6,1214.6 2117.6,1214.8 2120.6,1214.9 2123.6,1215.1 2126.6,1215.3 2129.6,1215.4 2131.7,1215.5" fill="none" stroke="#000" stroke-width="4.0" stroke-linejoin="round"/>
<g fill="url(#pg)"><circle cx="1295.0" cy="1227.7" r="7.85"/><circle cx="1295.0" cy="1229.0" r="7.85"/><circle cx="1295.0" cy="1230.4" r="7.85"/><circle cx="1295.0" cy="1231.5" r="7.85"/><circle cx="1295.0" cy="1233.1" r="7.85"/><circle cx="1295.0" cy="1234.3" r="7.85"/><circle cx="1295.0" cy="1235.2" r="7.85"/><circle cx="1295.0" cy="1236.2" r="7.85"/><circle cx="1295.0" cy="1237.9" r="7.85"/><circle cx="1295.0" cy="1238.7" r="7.85"/><circle cx="1295.0" cy="1239.9" r="7.85"/><circle cx="1295.0" cy="1240.9" r="7.85"/><circle cx="1295.0" cy="1242.3" r="7.85"/><circle cx="1295.0" cy="1243.6" r="7.85"/><circle cx="1295.0" cy="1244.8" r="7.85"/><circle cx="1295.0" cy="1245.8" r="7.85"/><circle cx="1295.0" cy="1247.2" r="7.85"/><circle cx="1295.0" cy="1248.1" r="7.85"/><circle cx="1295.0" cy="1249.5" r="7.85"/><circle cx="1295.0" cy="1250.6" r="7.85"/><circle cx="1295.0" cy="1251.9" r="7.85"/><circle cx="1295.0" cy="1252.9" r="7.85"/><circle cx="1295.0" cy="1254.1" r="7.85"/><circle cx="1295.0" cy="1255.5" r="7.85"/><circle cx="1295.0" cy="1256.6" r="7.85"/><circle cx="1295.0" cy="1258.1" r="7.85"/><circle cx="1295.0" cy="1259.2" r="7.85"/><circle cx="1295.0" cy="1260.6" r="7.85"/><circle cx="1295.0" cy="1261.7" r="7.85"/><circle cx="1295.0" cy="1262.9" r="7.85"/><circle cx="1295.0" cy="1264.2" r="7.85"/><circle cx="1295.0" cy="1265.1" r="7.85"/><circle cx="1295.0" cy="1266.3" r="7.85"/><circle cx="1295.0" cy="1267.9" r="7.85"/><circle cx="1295.0" cy="1268.6" r="7.85"/><circle cx="1295.0" cy="1270.1" r="7.85"/><circle cx="1295.0" cy="1271.3" r="7.85"/><circle cx="1295.0" cy="1272.1" r="7.85"/><circle cx="1295.0" cy="1273.9" r="7.85"/><circle cx="1639.8" cy="1251.8" r="7.85"/><circle cx="1737.5" cy="1231.9" r="7.85"/><circle cx="1749.1" cy="1230.6" r="7.85"/><circle cx="1821.9" cy="1260.7" r="7.85"/><circle cx="1860.7" cy="1240.5" r="7.85"/><circle cx="1925.6" cy="1227.6" r="7.85"/><circle cx="1932.9" cy="1237.8" r="7.85"/><circle cx="1966.0" cy="1243.5" r="7.85"/><circle cx="1971.7" cy="1251.8" r="7.85"/><circle cx="2077.7" cy="1253.7" r="7.85"/></g>
<polygon points="1091.6,1338.2 1091.6,1319.7 1094.6,1318.9 1097.6,1318.2 1100.6,1317.4 1103.6,1316.6 1106.6,1315.8 1109.6,1314.9 1112.6,1314.1 1115.6,1313.2 1118.6,1312.3 1121.6,1311.4 1124.6,1310.5 1127.6,1309.5 1130.6,1308.6 1133.6,1307.6 1136.6,1306.7 1139.6,1305.7 1142.6,1304.7 1145.6,1303.7 1148.6,1302.6 1151.6,1301.6 1154.6,1300.6 1157.6,1299.5 1160.6,1298.5 1163.6,1297.4 1166.6,1296.4 1169.6,1295.3 1172.6,1294.3 1175.6,1293.2 1178.6,1292.2 1181.6,1291.1 1184.6,1290.0 1187.6,1289.0 1190.6,1288.0 1193.6,1286.9 1196.6,1285.9 1199.6,1284.9 1202.6,1283.9 1205.6,1282.9 1208.6,1282.0 1211.6,1281.0 1214.6,1280.1 1217.6,1279.2 1220.6,1278.3 1223.6,1277.4 1226.6,1276.5 1229.6,1275.7 1232.6,1274.9 1235.6,1274.2 1238.6,1273.4 1241.6,1272.7 1244.6,1272.0 1247.6,1271.4 1250.6,1270.7 1253.6,1270.2 1256.6,1269.6 1259.6,1269.1 1262.6,1268.6 1265.6,1268.2 1268.6,1267.8 1271.6,1267.4 1274.6,1267.1 1277.6,1266.8 1280.6,1266.5 1283.6,1266.3 1286.6,1266.2 1289.6,1266.0 1292.6,1265.9 1295.6,1265.9 1298.6,1265.9 1301.6,1265.9 1304.6,1266.0 1307.6,1266.1 1310.6,1266.3 1313.6,1266.5 1316.6,1266.7 1319.6,1267.0 1322.6,1267.3 1325.6,1267.7 1328.6,1268.0 1331.6,1268.5 1334.6,1268.9 1337.6,1269.4 1340.6,1270.0 1343.6,1270.5 1346.6,1271.1 1349.6,1271.7 1352.6,1272.4 1355.6,1273.1 1358.6,1273.8 1361.6,1274.5 1364.6,1275.2 1367.6,1276.0 1370.6,1276.8 1373.6,1277.6 1376.6,1278.5 1379.6,1279.3 1382.6,1280.2 1385.6,1281.1 1388.6,1282.0 1391.6,1282.9 1394.6,1283.8 1397.6,1284.7 1400.6,1285.7 1403.6,1286.6 1406.6,1287.5 1409.6,1288.5 1412.6,1289.4 1415.6,1290.4 1418.6,1291.3 1421.6,1292.3 1424.6,1293.2 1427.6,1294.2 1430.6,1295.1 1433.6,1296.0 1436.6,1296.9 1439.6,1297.9 1442.6,1298.8 1445.6,1299.6 1448.6,1300.5 1451.6,1301.4 1454.6,1302.2 1457.6,1303.1 1460.6,1303.9 1463.6,1304.7 1466.6,1305.5 1469.6,1306.2 1472.6,1307.0 1475.6,1307.7 1478.6,1308.4 1481.6,1309.1 1484.6,1309.8 1487.6,1310.5 1490.6,1311.1 1493.6,1311.7 1496.6,1312.3 1499.6,1312.9 1502.6,1313.4 1505.6,1314.0 1508.6,1314.5 1511.6,1315.0 1514.6,1315.4 1517.6,1315.9 1520.6,1316.3 1523.6,1316.7 1526.6,1317.1 1529.6,1317.5 1532.6,1317.8 1535.6,1318.2 1538.6,1318.5 1541.6,1318.8 1544.6,1319.0 1547.6,1319.3 1550.6,1319.5 1553.6,1319.7 1556.6,1319.9 1559.6,1320.1 1562.6,1320.3 1565.6,1320.4 1568.6,1320.5 1571.6,1320.6 1574.6,1320.7 1577.6,1320.8 1580.6,1320.9 1583.6,1321.0 1586.6,1321.0 1589.6,1321.0 1592.6,1321.1 1595.6,1321.1 1598.6,1321.1 1601.6,1321.0 1604.6,1321.0 1607.6,1321.0 1610.6,1320.9 1613.6,1320.9 1616.6,1320.8 1619.6,1320.7 1622.6,1320.7 1625.6,1320.6 1628.6,1320.5 1631.6,1320.4 1634.6,1320.3 1637.6,1320.2 1640.6,1320.0 1643.6,1319.9 1646.6,1319.8 1649.6,1319.7 1652.6,1319.5 1655.6,1319.4 1658.6,1319.2 1661.6,1319.1 1664.6,1319.0 1667.6,1318.8 1670.6,1318.7 1673.6,1318.5 1676.6,1318.3 1679.6,1318.2 1682.6,1318.0 1685.6,1317.9 1688.6,1317.7 1691.6,1317.6 1694.6,1317.4 1697.6,1317.3 1700.6,1317.1 1703.6,1317.0 1706.6,1316.8 1709.6,1316.7 1712.6,1316.5 1715.6,1316.4 1718.6,1316.2 1721.6,1316.1 1724.6,1316.0 1727.6,1315.8 1730.6,1315.7 1733.6,1315.6 1736.6,1315.4 1739.6,1315.3 1742.6,1315.2 1745.6,1315.1 1748.6,1315.0 1751.6,1314.9 1754.6,1314.8 1757.6,1314.7 1760.6,1314.6 1763.6,1314.5 1766.6,1314.4 1769.6,1314.3 1772.6,1314.2 1775.6,1314.2 1778.6,1314.1 1781.6,1314.0 1784.6,1314.0 1787.6,1313.9 1790.6,1313.9 1793.6,1313.8 1796.6,1313.8 1799.6,1313.7 1802.6,1313.7 1805.6,1313.7 1808.6,1313.7 1811.6,1313.7 1814.6,1313.7 1817.6,1313.6 1820.6,1313.6 1823.6,1313.7 1826.6,1313.7 1829.6,1313.7 1832.6,1313.7 1835.6,1313.7 1838.6,1313.8 1841.6,1313.8 1844.6,1313.8 1847.6,1313.9 1850.6,1313.9 1853.6,1314.0 1856.6,1314.1 1859.6,1314.1 1862.6,1314.2 1865.6,1314.3 1868.6,1314.4 1871.6,1314.5 1874.6,1314.6 1877.6,1314.7 1880.6,1314.8 1883.6,1314.9 1886.6,1315.0 1889.6,1315.1 1892.6,1315.2 1895.6,1315.4 1898.6,1315.5 1901.6,1315.6 1904.6,1315.8 1907.6,1315.9 1910.6,1316.1 1913.6,1316.2 1916.6,1316.4 1919.6,1316.6 1922.6,1316.7 1925.6,1316.9 1928.6,1317.1 1931.6,1317.3 1934.6,1317.4 1937.6,1317.6 1940.6,1317.8 1943.6,1318.0 1946.6,1318.2 1949.6,1318.4 1952.6,1318.6 1955.6,1318.8 1958.6,1319.1 1961.6,1319.3 1964.6,1319.5 1967.6,1319.7 1970.6,1319.9 1973.6,1320.2 1976.6,1320.4 1979.6,1320.6 1982.6,1320.9 1985.6,1321.1 1988.6,1321.3 1991.6,1321.6 1994.6,1321.8 1997.6,1322.1 2000.6,1322.3 2003.6,1322.5 2006.6,1322.8 2009.6,1323.0 2012.6,1323.3 2015.6,1323.5 2018.6,1323.8 2021.6,1324.0 2024.6,1324.3 2027.6,1324.5 2030.6,1324.8 2033.6,1325.0 2036.6,1325.3 2039.6,1325.5 2042.6,1325.8 2045.6,1326.0 2048.6,1326.3 2051.6,1326.5 2054.6,1326.7 2057.6,1327.0 2060.6,1327.2 2063.6,1327.5 2066.6,1327.7 2069.6,1327.9 2072.6,1328.2 2075.6,1328.4 2078.6,1328.6 2081.6,1328.8 2084.6,1329.1 2087.6,1329.3 2090.6,1329.5 2093.6,1329.7 2096.6,1329.9 2099.6,1330.1 2102.6,1330.4 2105.6,1330.6 2108.6,1330.8 2111.6,1331.0 2114.6,1331.2 2117.6,1331.3 2120.6,1331.5 2123.6,1331.7 2126.6,1331.9 2129.6,1332.1 2132.6,1332.3 2135.6,1332.4 2138.0,1332.6 2138.0,1338.2" fill="#00BF74" fill-opacity="0.5"/>
<polyline points="1091.6,1319.7 1094.6,1318.9 1097.6,1318.2 1100.6,1317.4 1103.6,1316.6 1106.6,1315.8 1109.6,1314.9 1112.6,1314.1 1115.6,1313.2 1118.6,1312.3 1121.6,1311.4 1124.6,1310.5 1127.6,1309.5 1130.6,1308.6 1133.6,1307.6 1136.6,1306.7 1139.6,1305.7 1142.6,1304.7 1145.6,1303.7 1148.6,1302.6 1151.6,1301.6 1154.6,1300.6 1157.6,1299.5 1160.6,1298.5 1163.6,1297.4 1166.6,1296.4 1169.6,1295.3 1172.6,1294.3 1175.6,1293.2 1178.6,1292.2 1181.6,1291.1 1184.6,1290.0 1187.6,1289.0 1190.6,1288.0 1193.6,1286.9 1196.6,1285.9 1199.6,1284.9 1202.6,1283.9 1205.6,1282.9 1208.6,1282.0 1211.6,1281.0 1214.6,1280.1 1217.6,1279.2 1220.6,1278.3 1223.6,1277.4 1226.6,1276.5 1229.6,1275.7 1232.6,1274.9 1235.6,1274.2 1238.6,1273.4 1241.6,1272.7 1244.6,1272.0 1247.6,1271.4 1250.6,1270.7 1253.6,1270.2 1256.6,1269.6 1259.6,1269.1 1262.6,1268.6 1265.6,1268.2 1268.6,1267.8 1271.6,1267.4 1274.6,1267.1 1277.6,1266.8 1280.6,1266.5 1283.6,1266.3 1286.6,1266.2 1289.6,1266.0 1292.6,1265.9 1295.6,1265.9 1298.6,1265.9 1301.6,1265.9 1304.6,1266.0 1307.6,1266.1 1310.6,1266.3 1313.6,1266.5 1316.6,1266.7 1319.6,1267.0 1322.6,1267.3 1325.6,1267.7 1328.6,1268.0 1331.6,1268.5 1334.6,1268.9 1337.6,1269.4 1340.6,1270.0 1343.6,1270.5 1346.6,1271.1 1349.6,1271.7 1352.6,1272.4 1355.6,1273.1 1358.6,1273.8 1361.6,1274.5 1364.6,1275.2 1367.6,1276.0 1370.6,1276.8 1373.6,1277.6 1376.6,1278.5 1379.6,1279.3 1382.6,1280.2 1385.6,1281.1 1388.6,1282.0 1391.6,1282.9 1394.6,1283.8 1397.6,1284.7 1400.6,1285.7 1403.6,1286.6 1406.6,1287.5 1409.6,1288.5 1412.6,1289.4 1415.6,1290.4 1418.6,1291.3 1421.6,1292.3 1424.6,1293.2 1427.6,1294.2 1430.6,1295.1 1433.6,1296.0 1436.6,1296.9 1439.6,1297.9 1442.6,1298.8 1445.6,1299.6 1448.6,1300.5 1451.6,1301.4 1454.6,1302.2 1457.6,1303.1 1460.6,1303.9 1463.6,1304.7 1466.6,1305.5 1469.6,1306.2 1472.6,1307.0 1475.6,1307.7 1478.6,1308.4 1481.6,1309.1 1484.6,1309.8 1487.6,1310.5 1490.6,1311.1 1493.6,1311.7 1496.6,1312.3 1499.6,1312.9 1502.6,1313.4 1505.6,1314.0 1508.6,1314.5 1511.6,1315.0 1514.6,1315.4 1517.6,1315.9 1520.6,1316.3 1523.6,1316.7 1526.6,1317.1 1529.6,1317.5 1532.6,1317.8 1535.6,1318.2 1538.6,1318.5 1541.6,1318.8 1544.6,1319.0 1547.6,1319.3 1550.6,1319.5 1553.6,1319.7 1556.6,1319.9 1559.6,1320.1 1562.6,1320.3 1565.6,1320.4 1568.6,1320.5 1571.6,1320.6 1574.6,1320.7 1577.6,1320.8 1580.6,1320.9 1583.6,1321.0 1586.6,1321.0 1589.6,1321.0 1592.6,1321.1 1595.6,1321.1 1598.6,1321.1 1601.6,1321.0 1604.6,1321.0 1607.6,1321.0 1610.6,1320.9 1613.6,1320.9 1616.6,1320.8 1619.6,1320.7 1622.6,1320.7 1625.6,1320.6 1628.6,1320.5 1631.6,1320.4 1634.6,1320.3 1637.6,1320.2 1640.6,1320.0 1643.6,1319.9 1646.6,1319.8 1649.6,1319.7 1652.6,1319.5 1655.6,1319.4 1658.6,1319.2 1661.6,1319.1 1664.6,1319.0 1667.6,1318.8 1670.6,1318.7 1673.6,1318.5 1676.6,1318.3 1679.6,1318.2 1682.6,1318.0 1685.6,1317.9 1688.6,1317.7 1691.6,1317.6 1694.6,1317.4 1697.6,1317.3 1700.6,1317.1 1703.6,1317.0 1706.6,1316.8 1709.6,1316.7 1712.6,1316.5 1715.6,1316.4 1718.6,1316.2 1721.6,1316.1 1724.6,1316.0 1727.6,1315.8 1730.6,1315.7 1733.6,1315.6 1736.6,1315.4 1739.6,1315.3 1742.6,1315.2 1745.6,1315.1 1748.6,1315.0 1751.6,1314.9 1754.6,1314.8 1757.6,1314.7 1760.6,1314.6 1763.6,1314.5 1766.6,1314.4 1769.6,1314.3 1772.6,1314.2 1775.6,1314.2 1778.6,1314.1 1781.6,1314.0 1784.6,1314.0 1787.6,1313.9 1790.6,1313.9 1793.6,1313.8 1796.6,1313.8 1799.6,1313.7 1802.6,1313.7 1805.6,1313.7 1808.6,1313.7 1811.6,1313.7 1814.6,1313.7 1817.6,1313.6 1820.6,1313.6 1823.6,1313.7 1826.6,1313.7 1829.6,1313.7 1832.6,1313.7 1835.6,1313.7 1838.6,1313.8 1841.6,1313.8 1844.6,1313.8 1847.6,1313.9 1850.6,1313.9 1853.6,1314.0 1856.6,1314.1 1859.6,1314.1 1862.6,1314.2 1865.6,1314.3 1868.6,1314.4 1871.6,1314.5 1874.6,1314.6 1877.6,1314.7 1880.6,1314.8 1883.6,1314.9 1886.6,1315.0 1889.6,1315.1 1892.6,1315.2 1895.6,1315.4 1898.6,1315.5 1901.6,1315.6 1904.6,1315.8 1907.6,1315.9 1910.6,1316.1 1913.6,1316.2 1916.6,1316.4 1919.6,1316.6 1922.6,1316.7 1925.6,1316.9 1928.6,1317.1 1931.6,1317.3 1934.6,1317.4 1937.6,1317.6 1940.6,1317.8 1943.6,1318.0 1946.6,1318.2 1949.6,1318.4 1952.6,1318.6 1955.6,1318.8 1958.6,1319.1 1961.6,1319.3 1964.6,1319.5 1967.6,1319.7 1970.6,1319.9 1973.6,1320.2 1976.6,1320.4 1979.6,1320.6 1982.6,1320.9 1985.6,1321.1 1988.6,1321.3 1991.6,1321.6 1994.6,1321.8 1997.6,1322.1 2000.6,1322.3 2003.6,1322.5 2006.6,1322.8 2009.6,1323.0 2012.6,1323.3 2015.6,1323.5 2018.6,1323.8 2021.6,1324.0 2024.6,1324.3 2027.6,1324.5 2030.6,1324.8 2033.6,1325.0 2036.6,1325.3 2039.6,1325.5 2042.6,1325.8 2045.6,1326.0 2048.6,1326.3 2051.6,1326.5 2054.6,1326.7 2057.6,1327.0 2060.6,1327.2 2063.6,1327.5 2066.6,1327.7 2069.6,1327.9 2072.6,1328.2 2075.6,1328.4 2078.6,1328.6 2081.6,1328.8 2084.6,1329.1 2087.6,1329.3 2090.6,1329.5 2093.6,1329.7 2096.6,1329.9 2099.6,1330.1 2102.6,1330.4 2105.6,1330.6 2108.6,1330.8 2111.6,1331.0 2114.6,1331.2 2117.6,1331.3 2120.6,1331.5 2123.6,1331.7 2126.6,1331.9 2129.6,1332.1 2132.6,1332.3 2135.6,1332.4 2138.0,1332.6" fill="none" stroke="#000" stroke-width="4.0" stroke-linejoin="round"/>
<g fill="url(#pg)"><circle cx="1295.0" cy="1344.8" r="7.85"/><circle cx="1295.0" cy="1345.2" r="7.85"/><circle cx="1295.0" cy="1345.4" r="7.85"/><circle cx="1295.0" cy="1345.7" r="7.85"/><circle cx="1295.0" cy="1345.9" r="7.85"/><circle cx="1295.0" cy="1346.2" r="7.85"/><circle cx="1295.0" cy="1346.5" r="7.85"/><circle cx="1295.0" cy="1346.8" r="7.85"/><circle cx="1295.0" cy="1347.1" r="7.85"/><circle cx="1295.0" cy="1347.4" r="7.85"/><circle cx="1295.0" cy="1347.6" r="7.85"/><circle cx="1295.0" cy="1347.9" r="7.85"/><circle cx="1295.0" cy="1348.2" r="7.85"/><circle cx="1295.0" cy="1348.5" r="7.85"/><circle cx="1295.0" cy="1348.7" r="7.85"/><circle cx="1295.0" cy="1348.9" r="7.85"/><circle cx="1295.0" cy="1349.2" r="7.85"/><circle cx="1295.0" cy="1349.5" r="7.85"/><circle cx="1295.0" cy="1349.7" r="7.85"/><circle cx="1295.0" cy="1350.1" r="7.85"/><circle cx="1295.0" cy="1350.4" r="7.85"/><circle cx="1295.0" cy="1350.6" r="7.85"/><circle cx="1295.0" cy="1350.9" r="7.85"/><circle cx="1295.0" cy="1351.2" r="7.85"/><circle cx="1295.0" cy="1351.4" r="7.85"/><circle cx="1295.0" cy="1351.7" r="7.85"/><circle cx="1295.0" cy="1352.0" r="7.85"/><circle cx="1295.0" cy="1352.3" r="7.85"/><circle cx="1295.0" cy="1352.5" r="7.85"/><circle cx="1295.0" cy="1352.8" r="7.85"/><circle cx="1295.0" cy="1353.1" r="7.85"/><circle cx="1295.0" cy="1353.3" r="7.85"/><circle cx="1295.0" cy="1353.7" r="7.85"/><circle cx="1295.0" cy="1353.9" r="7.85"/><circle cx="1295.0" cy="1354.1" r="7.85"/><circle cx="1295.0" cy="1354.4" r="7.85"/><circle cx="1295.0" cy="1354.8" r="7.85"/><circle cx="1295.0" cy="1355.0" r="7.85"/><circle cx="1295.0" cy="1355.3" r="7.85"/><circle cx="1295.0" cy="1355.6" r="7.85"/><circle cx="1295.0" cy="1355.8" r="7.85"/><circle cx="1295.0" cy="1356.1" r="7.85"/><circle cx="1295.0" cy="1356.4" r="7.85"/><circle cx="1295.0" cy="1356.7" r="7.85"/><circle cx="1295.0" cy="1357.0" r="7.85"/><circle cx="1295.0" cy="1357.2" r="7.85"/><circle cx="1295.0" cy="1357.5" r="7.85"/><circle cx="1295.0" cy="1357.7" r="7.85"/><circle cx="1295.0" cy="1358.0" r="7.85"/><circle cx="1295.0" cy="1358.3" r="7.85"/><circle cx="1295.0" cy="1358.6" r="7.85"/><circle cx="1295.0" cy="1358.8" r="7.85"/><circle cx="1295.0" cy="1359.1" r="7.85"/><circle cx="1295.0" cy="1359.3" r="7.85"/><circle cx="1295.0" cy="1359.6" r="7.85"/><circle cx="1295.0" cy="1359.9" r="7.85"/><circle cx="1295.0" cy="1360.2" r="7.85"/><circle cx="1295.0" cy="1360.5" r="7.85"/><circle cx="1295.0" cy="1360.8" r="7.85"/><circle cx="1295.0" cy="1361.0" r="7.85"/><circle cx="1295.0" cy="1361.3" r="7.85"/><circle cx="1295.0" cy="1361.6" r="7.85"/><circle cx="1295.0" cy="1361.9" r="7.85"/><circle cx="1295.0" cy="1362.1" r="7.85"/><circle cx="1295.0" cy="1362.5" r="7.85"/><circle cx="1295.0" cy="1362.6" r="7.85"/><circle cx="1295.0" cy="1363.0" r="7.85"/><circle cx="1295.0" cy="1363.3" r="7.85"/><circle cx="1295.0" cy="1363.4" r="7.85"/><circle cx="1295.0" cy="1363.8" r="7.85"/><circle cx="1295.0" cy="1364.1" r="7.85"/><circle cx="1295.0" cy="1364.4" r="7.85"/><circle cx="1295.0" cy="1364.6" r="7.85"/><circle cx="1295.0" cy="1364.9" r="7.85"/><circle cx="1295.0" cy="1365.1" r="7.85"/><circle cx="1295.0" cy="1365.5" r="7.85"/><circle cx="1295.0" cy="1365.7" r="7.85"/><circle cx="1295.0" cy="1366.0" r="7.85"/><circle cx="1295.0" cy="1366.2" r="7.85"/><circle cx="1295.0" cy="1366.5" r="7.85"/><circle cx="1295.0" cy="1366.9" r="7.85"/><circle cx="1295.0" cy="1367.0" r="7.85"/><circle cx="1295.0" cy="1367.4" r="7.85"/><circle cx="1295.0" cy="1367.6" r="7.85"/><circle cx="1295.0" cy="1368.0" r="7.85"/><circle cx="1295.0" cy="1368.2" r="7.85"/><circle cx="1295.0" cy="1368.4" r="7.85"/><circle cx="1295.0" cy="1368.8" r="7.85"/><circle cx="1295.0" cy="1369.0" r="7.85"/><circle cx="1295.0" cy="1369.2" r="7.85"/><circle cx="1295.0" cy="1369.5" r="7.85"/><circle cx="1295.0" cy="1369.8" r="7.85"/><circle cx="1295.0" cy="1370.1" r="7.85"/><circle cx="1295.0" cy="1370.3" r="7.85"/><circle cx="1295.0" cy="1370.6" r="7.85"/><circle cx="1295.0" cy="1370.9" r="7.85"/><circle cx="1295.0" cy="1371.2" r="7.85"/><circle cx="1295.0" cy="1371.5" r="7.85"/><circle cx="1295.0" cy="1371.7" r="7.85"/><circle cx="1295.0" cy="1372.0" r="7.85"/><circle cx="1295.0" cy="1372.3" r="7.85"/><circle cx="1295.0" cy="1372.5" r="7.85"/><circle cx="1295.0" cy="1372.9" r="7.85"/><circle cx="1295.0" cy="1373.1" r="7.85"/><circle cx="1295.0" cy="1373.4" r="7.85"/><circle cx="1295.0" cy="1373.6" r="7.85"/><circle cx="1295.0" cy="1373.9" r="7.85"/><circle cx="1295.0" cy="1374.2" r="7.85"/><circle cx="1295.0" cy="1374.5" r="7.85"/><circle cx="1295.0" cy="1374.8" r="7.85"/><circle cx="1295.0" cy="1375.0" r="7.85"/><circle cx="1295.0" cy="1375.3" r="7.85"/><circle cx="1295.0" cy="1375.5" r="7.85"/><circle cx="1295.0" cy="1375.8" r="7.85"/><circle cx="1295.0" cy="1376.1" r="7.85"/><circle cx="1295.0" cy="1376.4" r="7.85"/><circle cx="1295.0" cy="1376.6" r="7.85"/><circle cx="1295.0" cy="1377.0" r="7.85"/><circle cx="1295.0" cy="1377.2" r="7.85"/><circle cx="1295.0" cy="1377.5" r="7.85"/><circle cx="1295.0" cy="1377.8" r="7.85"/><circle cx="1295.0" cy="1378.0" r="7.85"/><circle cx="1295.0" cy="1378.3" r="7.85"/><circle cx="1295.0" cy="1378.7" r="7.85"/><circle cx="1295.0" cy="1378.9" r="7.85"/><circle cx="1295.0" cy="1379.2" r="7.85"/><circle cx="1295.0" cy="1379.4" r="7.85"/><circle cx="1295.0" cy="1379.7" r="7.85"/><circle cx="1295.0" cy="1380.0" r="7.85"/><circle cx="1295.0" cy="1380.2" r="7.85"/><circle cx="1295.0" cy="1380.5" r="7.85"/><circle cx="1295.0" cy="1380.7" r="7.85"/><circle cx="1295.0" cy="1381.1" r="7.85"/><circle cx="1295.0" cy="1381.3" r="7.85"/><circle cx="1295.0" cy="1381.6" r="7.85"/><circle cx="1295.0" cy="1381.9" r="7.85"/><circle cx="1295.0" cy="1382.1" r="7.85"/><circle cx="1295.0" cy="1382.4" r="7.85"/><circle cx="1295.0" cy="1382.8" r="7.85"/><circle cx="1295.0" cy="1382.9" r="7.85"/><circle cx="1295.0" cy="1383.3" r="7.85"/><circle cx="1295.0" cy="1383.5" r="7.85"/><circle cx="1295.0" cy="1383.8" r="7.85"/><circle cx="1295.0" cy="1384.1" r="7.85"/><circle cx="1295.0" cy="1384.4" r="7.85"/><circle cx="1295.0" cy="1384.6" r="7.85"/><circle cx="1295.0" cy="1384.9" r="7.85"/><circle cx="1295.0" cy="1385.1" r="7.85"/><circle cx="1295.0" cy="1385.5" r="7.85"/><circle cx="1295.0" cy="1385.7" r="7.85"/><circle cx="1295.0" cy="1386.0" r="7.85"/><circle cx="1295.0" cy="1386.2" r="7.85"/><circle cx="1295.0" cy="1386.5" r="7.85"/><circle cx="1295.0" cy="1386.9" r="7.85"/><circle cx="1295.0" cy="1387.1" r="7.85"/><circle cx="1295.0" cy="1387.3" r="7.85"/><circle cx="1295.0" cy="1387.7" r="7.85"/><circle cx="1295.0" cy="1388.0" r="7.85"/><circle cx="1295.0" cy="1388.2" r="7.85"/><circle cx="1295.0" cy="1388.4" r="7.85"/><circle cx="1295.0" cy="1388.7" r="7.85"/><circle cx="1295.0" cy="1389.0" r="7.85"/><circle cx="1295.0" cy="1389.3" r="7.85"/><circle cx="1295.0" cy="1389.5" r="7.85"/><circle cx="1295.0" cy="1389.8" r="7.85"/><circle cx="1295.0" cy="1390.1" r="7.85"/><circle cx="1295.0" cy="1390.4" r="7.85"/><circle cx="1295.0" cy="1390.7" r="7.85"/><circle cx="1295.0" cy="1391.0" r="7.85"/><circle cx="1451.7" cy="1369.8" r="7.85"/><circle cx="1483.8" cy="1375.5" r="7.85"/><circle cx="1492.1" cy="1381.8" r="7.85"/><circle cx="1538.7" cy="1362.7" r="7.85"/><circle cx="1559.0" cy="1365.8" r="7.85"/><circle cx="1570.4" cy="1347.6" r="7.85"/><circle cx="1572.4" cy="1347.0" r="7.85"/><circle cx="1573.9" cy="1347.0" r="7.85"/><circle cx="1579.7" cy="1379.7" r="7.85"/><circle cx="1592.1" cy="1382.8" r="7.85"/><circle cx="1604.9" cy="1388.6" r="7.85"/><circle cx="1618.4" cy="1372.9" r="7.85"/><circle cx="1625.0" cy="1379.1" r="7.85"/><circle cx="1626.3" cy="1379.1" r="7.85"/><circle cx="1650.9" cy="1345.9" r="7.85"/><circle cx="1650.9" cy="1368.7" r="7.85"/><circle cx="1655.7" cy="1375.5" r="7.85"/><circle cx="1670.8" cy="1368.7" r="7.85"/><circle cx="1684.0" cy="1383.4" r="7.85"/><circle cx="1698.1" cy="1364.2" r="7.85"/><circle cx="1700.2" cy="1365.6" r="7.85"/><circle cx="1702.3" cy="1367.3" r="7.85"/><circle cx="1704.3" cy="1368.3" r="7.85"/><circle cx="1706.4" cy="1376.6" r="7.85"/><circle cx="1709.5" cy="1382.8" r="7.85"/><circle cx="1712.6" cy="1384.2" r="7.85"/><circle cx="1714.7" cy="1385.5" r="7.85"/><circle cx="1716.7" cy="1387.6" r="7.85"/><circle cx="1725.7" cy="1369.8" r="7.85"/><circle cx="1736.4" cy="1353.8" r="7.85"/><circle cx="1739.5" cy="1354.8" r="7.85"/><circle cx="1740.6" cy="1356.5" r="7.85"/><circle cx="1743.7" cy="1352.8" r="7.85"/><circle cx="1738.5" cy="1382.8" r="7.85"/><circle cx="1747.8" cy="1375.5" r="7.85"/><circle cx="1746.4" cy="1380.3" r="7.85"/><circle cx="1747.8" cy="1381.8" r="7.85"/><circle cx="1751.9" cy="1384.9" r="7.85"/><circle cx="1757.7" cy="1368.7" r="7.85"/><circle cx="1765.8" cy="1368.7" r="7.85"/><circle cx="1762.7" cy="1348.2" r="7.85"/><circle cx="1764.0" cy="1349.0" r="7.85"/><circle cx="1766.4" cy="1381.8" r="7.85"/><circle cx="1772.7" cy="1384.2" r="7.85"/><circle cx="1774.3" cy="1385.3" r="7.85"/><circle cx="1775.3" cy="1385.9" r="7.85"/><circle cx="1782.0" cy="1346.1" r="7.85"/><circle cx="1783.2" cy="1347.0" r="7.85"/><circle cx="1784.5" cy="1361.7" r="7.85"/><circle cx="1785.7" cy="1362.7" r="7.85"/><circle cx="1797.5" cy="1367.3" r="7.85"/><circle cx="1799.6" cy="1368.7" r="7.85"/><circle cx="1801.2" cy="1369.8" r="7.85"/><circle cx="1808.9" cy="1349.7" r="7.85"/><circle cx="1818.6" cy="1373.5" r="7.85"/><circle cx="1828.6" cy="1377.6" r="7.85"/><circle cx="1852.9" cy="1345.5" r="7.85"/><circle cx="1840.0" cy="1357.5" r="7.85"/><circle cx="1866.9" cy="1355.5" r="7.85"/><circle cx="1860.3" cy="1367.7" r="7.85"/><circle cx="1871.5" cy="1362.1" r="7.85"/><circle cx="1872.7" cy="1364.2" r="7.85"/><circle cx="1874.2" cy="1366.2" r="7.85"/><circle cx="1874.2" cy="1372.4" r="7.85"/><circle cx="1884.9" cy="1372.4" r="7.85"/><circle cx="1845.6" cy="1378.0" r="7.85"/><circle cx="1852.0" cy="1386.5" r="7.85"/><circle cx="1890.7" cy="1344.5" r="7.85"/><circle cx="1917.2" cy="1350.3" r="7.85"/><circle cx="1921.8" cy="1354.8" r="7.85"/><circle cx="1923.5" cy="1356.5" r="7.85"/><circle cx="1922.4" cy="1358.0" r="7.85"/><circle cx="1911.4" cy="1360.0" r="7.85"/><circle cx="1910.4" cy="1368.3" r="7.85"/><circle cx="1920.8" cy="1365.6" r="7.85"/><circle cx="1922.8" cy="1367.3" r="7.85"/><circle cx="1927.0" cy="1367.3" r="7.85"/><circle cx="1899.4" cy="1374.1" r="7.85"/><circle cx="1901.7" cy="1379.7" r="7.85"/><circle cx="1903.2" cy="1381.8" r="7.85"/><circle cx="1910.4" cy="1389.0" r="7.85"/><circle cx="1930.1" cy="1378.7" r="7.85"/><circle cx="1938.8" cy="1347.2" r="7.85"/><circle cx="1936.3" cy="1355.9" r="7.85"/><circle cx="1947.3" cy="1361.5" r="7.85"/><circle cx="1960.1" cy="1344.5" r="7.85"/><circle cx="1968.4" cy="1356.5" r="7.85"/><circle cx="1967.8" cy="1362.7" r="7.85"/><circle cx="1969.0" cy="1363.7" r="7.85"/><circle cx="1975.6" cy="1370.4" r="7.85"/><circle cx="1959.5" cy="1386.3" r="7.85"/><circle cx="1987.6" cy="1363.1" r="7.85"/><circle cx="1989.5" cy="1361.5" r="7.85"/><circle cx="1986.0" cy="1366.2" r="7.85"/><circle cx="1991.2" cy="1373.5" r="7.85"/><circle cx="1992.8" cy="1385.5" r="7.85"/><circle cx="2039.8" cy="1346.6" r="7.85"/><circle cx="2032.6" cy="1362.5" r="7.85"/><circle cx="2046.0" cy="1361.5" r="7.85"/><circle cx="2057.0" cy="1365.6" r="7.85"/><circle cx="2100.9" cy="1353.8" r="7.85"/><circle cx="2162.0" cy="1385.5" r="7.85"/></g>
<polygon points="1091.6,1455.3 1091.6,1442.0 1094.6,1441.4 1097.6,1440.9 1100.6,1440.3 1103.6,1439.7 1106.6,1439.1 1109.6,1438.5 1112.6,1437.9 1115.6,1437.3 1118.6,1436.6 1121.6,1436.0 1124.6,1435.3 1127.6,1434.7 1130.6,1434.0 1133.6,1433.3 1136.6,1432.6 1139.6,1431.9 1142.6,1431.1 1145.6,1430.4 1148.6,1429.7 1151.6,1428.9 1154.6,1428.2 1157.6,1427.5 1160.6,1426.7 1163.6,1425.9 1166.6,1425.2 1169.6,1424.4 1172.6,1423.7 1175.6,1422.9 1178.6,1422.1 1181.6,1421.4 1184.6,1420.6 1187.6,1419.9 1190.6,1419.1 1193.6,1418.4 1196.6,1417.7 1199.6,1416.9 1202.6,1416.2 1205.6,1415.5 1208.6,1414.8 1211.6,1414.1 1214.6,1413.5 1217.6,1412.8 1220.6,1412.2 1223.6,1411.5 1226.6,1410.9 1229.6,1410.3 1232.6,1409.8 1235.6,1409.2 1238.6,1408.7 1241.6,1408.2 1244.6,1407.7 1247.6,1407.2 1250.6,1406.8 1253.6,1406.3 1256.6,1405.9 1259.6,1405.6 1262.6,1405.2 1265.6,1404.9 1268.6,1404.6 1271.6,1404.4 1274.6,1404.1 1277.6,1403.9 1280.6,1403.7 1283.6,1403.6 1286.6,1403.5 1289.6,1403.4 1292.6,1403.3 1295.6,1403.3 1298.6,1403.3 1301.6,1403.3 1304.6,1403.4 1307.6,1403.5 1310.6,1403.6 1313.6,1403.7 1316.6,1403.9 1319.6,1404.1 1322.6,1404.3 1325.6,1404.6 1328.6,1404.8 1331.6,1405.1 1334.6,1405.5 1337.6,1405.8 1340.6,1406.2 1343.6,1406.6 1346.6,1407.0 1349.6,1407.4 1352.6,1407.9 1355.6,1408.4 1358.6,1408.9 1361.6,1409.4 1364.6,1409.9 1367.6,1410.5 1370.6,1411.0 1373.6,1411.6 1376.6,1412.2 1379.6,1412.8 1382.6,1413.4 1385.6,1414.0 1388.6,1414.7 1391.6,1415.3 1394.6,1415.9 1397.6,1416.6 1400.6,1417.2 1403.6,1417.9 1406.6,1418.5 1409.6,1419.2 1412.6,1419.8 1415.6,1420.5 1418.6,1421.1 1421.6,1421.8 1424.6,1422.4 1427.6,1423.0 1430.6,1423.7 1433.6,1424.3 1436.6,1424.9 1439.6,1425.5 1442.6,1426.1 1445.6,1426.7 1448.6,1427.3 1451.6,1427.8 1454.6,1428.4 1457.6,1428.9 1460.6,1429.5 1463.6,1430.0 1466.6,1430.5 1469.6,1431.0 1472.6,1431.4 1475.6,1431.9 1478.6,1432.3 1481.6,1432.7 1484.6,1433.1 1487.6,1433.5 1490.6,1433.9 1493.6,1434.2 1496.6,1434.6 1499.6,1434.9 1502.6,1435.2 1505.6,1435.5 1508.6,1435.7 1511.6,1436.0 1514.6,1436.2 1517.6,1436.4 1520.6,1436.6 1523.6,1436.8 1526.6,1436.9 1529.6,1437.1 1532.6,1437.2 1535.6,1437.3 1538.6,1437.3 1541.6,1437.4 1544.6,1437.5 1547.6,1437.5 1550.6,1437.5 1553.6,1437.5 1556.6,1437.5 1559.6,1437.4 1562.6,1437.4 1565.6,1437.3 1568.6,1437.2 1571.6,1437.1 1574.6,1437.0 1577.6,1436.9 1580.6,1436.7 1583.6,1436.6 1586.6,1436.4 1589.6,1436.2 1592.6,1436.0 1595.6,1435.8 1598.6,1435.6 1601.6,1435.4 1604.6,1435.2 1607.6,1434.9 1610.6,1434.6 1613.6,1434.4 1616.6,1434.1 1619.6,1433.8 1622.6,1433.5 1625.6,1433.2 1628.6,1432.9 1631.6,1432.6 1634.6,1432.2 1637.6,1431.9 1640.6,1431.6 1643.6,1431.2 1646.6,1430.9 1649.6,1430.5 1652.6,1430.1 1655.6,1429.8 1658.6,1429.4 1661.6,1429.0 1664.6,1428.7 1667.6,1428.3 1670.6,1427.9 1673.6,1427.5 1676.6,1427.2 1679.6,1426.8 1682.6,1426.4 1685.6,1426.0 1688.6,1425.6 1691.6,1425.3 1694.6,1424.9 1697.6,1424.5 1700.6,1424.1 1703.6,1423.8 1706.6,1423.4 1709.6,1423.0 1712.6,1422.7 1715.6,1422.3 1718.6,1422.0 1721.6,1421.6 1724.6,1421.3 1727.6,1420.9 1730.6,1420.6 1733.6,1420.3 1736.6,1420.0 1739.6,1419.7 1742.6,1419.4 1745.6,1419.1 1748.6,1418.8 1751.6,1418.5 1754.6,1418.2 1757.6,1418.0 1760.6,1417.7 1763.6,1417.5 1766.6,1417.3 1769.6,1417.0 1772.6,1416.8 1775.6,1416.6 1778.6,1416.5 1781.6,1416.3 1784.6,1416.1 1787.6,1416.0 1790.6,1415.8 1793.6,1415.7 1796.6,1415.6 1799.6,1415.5 1802.6,1415.4 1805.6,1415.3 1808.6,1415.2 1811.6,1415.1 1814.6,1415.1 1817.6,1415.0 1820.6,1415.0 1823.6,1415.0 1826.6,1415.0 1829.6,1415.0 1832.6,1415.0 1835.6,1415.1 1838.6,1415.1 1841.6,1415.2 1844.6,1415.2 1847.6,1415.3 1850.6,1415.4 1853.6,1415.5 1856.6,1415.6 1859.6,1415.7 1862.6,1415.9 1865.6,1416.0 1868.6,1416.2 1871.6,1416.3 1874.6,1416.5 1877.6,1416.7 1880.6,1416.9 1883.6,1417.1 1886.6,1417.3 1889.6,1417.5 1892.6,1417.7 1895.6,1418.0 1898.6,1418.2 1901.6,1418.5 1904.6,1418.7 1907.6,1419.0 1910.6,1419.3 1913.6,1419.6 1916.6,1419.9 1919.6,1420.1 1922.6,1420.4 1925.6,1420.8 1928.6,1421.1 1931.6,1421.4 1934.6,1421.7 1937.6,1422.0 1940.6,1422.4 1943.6,1422.7 1946.6,1423.0 1949.6,1423.4 1952.6,1423.7 1955.6,1424.1 1958.6,1424.4 1961.6,1424.8 1964.6,1425.1 1967.6,1425.5 1970.6,1425.9 1973.6,1426.2 1976.6,1426.6 1979.6,1427.0 1982.6,1427.3 1985.6,1427.7 1988.6,1428.1 1991.6,1428.5 1994.6,1428.8 1997.6,1429.2 2000.6,1429.6 2003.6,1430.0 2006.6,1430.4 2009.6,1430.7 2012.6,1431.1 2015.6,1431.5 2018.6,1431.9 2021.6,1432.2 2024.6,1432.6 2027.6,1433.0 2030.6,1433.4 2033.6,1433.7 2036.6,1434.1 2039.6,1434.5 2042.6,1434.8 2045.6,1435.2 2048.6,1435.6 2051.6,1435.9 2054.6,1436.3 2057.6,1436.6 2060.6,1437.0 2063.6,1437.4 2066.6,1437.7 2069.6,1438.0 2072.6,1438.4 2075.6,1438.7 2078.6,1439.1 2081.6,1439.4 2084.6,1439.7 2087.6,1440.1 2090.6,1440.4 2093.6,1440.7 2096.6,1441.1 2099.6,1441.4 2102.6,1441.7 2105.6,1442.0 2108.6,1442.3 2111.6,1442.6 2114.6,1442.9 2117.6,1443.2 2120.6,1443.5 2123.6,1443.8 2126.6,1444.1 2129.6,1444.4 2132.6,1444.6 2135.6,1444.9 2138.6,1445.2 2141.6,1445.4 2144.6,1445.7 2147.6,1446.0 2150.6,1446.2 2153.6,1446.5 2156.6,1446.7 2159.6,1446.9 2162.6,1447.2 2165.6,1447.4 2168.6,1447.6 2171.6,1447.9 2174.6,1448.1 2177.6,1448.3 2180.6,1448.5 2183.6,1448.7 2186.6,1448.9 2189.6,1449.1 2192.6,1449.3 2195.6,1449.5 2198.6,1449.7 2200.0,1449.8 2200.0,1455.3" fill="#00BA38" fill-opacity="0.5"/>
<polyline points="1091.6,1442.0 1094.6,1441.4 1097.6,1440.9 1100.6,1440.3 1103.6,1439.7 1106.6,1439.1 1109.6,1438.5 1112.6,1437.9 1115.6,1437.3 1118.6,1436.6 1121.6,1436.0 1124.6,1435.3 1127.6,1434.7 1130.6,1434.0 1133.6,1433.3 1136.6,1432.6 1139.6,1431.9 1142.6,1431.1 1145.6,1430.4 1148.6,1429.7 1151.6,1428.9 1154.6,1428.2 1157.6,1427.5 1160.6,1426.7 1163.6,1425.9 1166.6,1425.2 1169.6,1424.4 1172.6,1423.7 1175.6,1422.9 1178.6,1422.1 1181.6,1421.4 1184.6,1420.6 1187.6,1419.9 1190.6,1419.1 1193.6,1418.4 1196.6,1417.7 1199.6,1416.9 1202.6,1416.2 1205.6,1415.5 1208.6,1414.8 1211.6,1414.1 1214.6,1413.5 1217.6,1412.8 1220.6,1412.2 1223.6,1411.5 1226.6,1410.9 1229.6,1410.3 1232.6,1409.8 1235.6,1409.2 1238.6,1408.7 1241.6,1408.2 1244.6,1407.7 1247.6,1407.2 1250.6,1406.8 1253.6,1406.3 1256.6,1405.9 1259.6,1405.6 1262.6,1405.2 1265.6,1404.9 1268.6,1404.6 1271.6,1404.4 1274.6,1404.1 1277.6,1403.9 1280.6,1403.7 1283.6,1403.6 1286.6,1403.5 1289.6,1403.4 1292.6,1403.3 1295.6,1403.3 1298.6,1403.3 1301.6,1403.3 1304.6,1403.4 1307.6,1403.5 1310.6,1403.6 1313.6,1403.7 1316.6,1403.9 1319.6,1404.1 1322.6,1404.3 1325.6,1404.6 1328.6,1404.8 1331.6,1405.1 1334.6,1405.5 1337.6,1405.8 1340.6,1406.2 1343.6,1406.6 1346.6,1407.0 1349.6,1407.4 1352.6,1407.9 1355.6,1408.4 1358.6,1408.9 1361.6,1409.4 1364.6,1409.9 1367.6,1410.5 1370.6,1411.0 1373.6,1411.6 1376.6,1412.2 1379.6,1412.8 1382.6,1413.4 1385.6,1414.0 1388.6,1414.7 1391.6,1415.3 1394.6,1415.9 1397.6,1416.6 1400.6,1417.2 1403.6,1417.9 1406.6,1418.5 1409.6,1419.2 1412.6,1419.8 1415.6,1420.5 1418.6,1421.1 1421.6,1421.8 1424.6,1422.4 1427.6,1423.0 1430.6,1423.7 1433.6,1424.3 1436.6,1424.9 1439.6,1425.5 1442.6,1426.1 1445.6,1426.7 1448.6,1427.3 1451.6,1427.8 1454.6,1428.4 1457.6,1428.9 1460.6,1429.5 1463.6,1430.0 1466.6,1430.5 1469.6,1431.0 1472.6,1431.4 1475.6,1431.9 1478.6,1432.3 1481.6,1432.7 1484.6,1433.1 1487.6,1433.5 1490.6,1433.9 1493.6,1434.2 1496.6,1434.6 1499.6,1434.9 1502.6,1435.2 1505.6,1435.5 1508.6,1435.7 1511.6,1436.0 1514.6,1436.2 1517.6,1436.4 1520.6,1436.6 1523.6,1436.8 1526.6,1436.9 1529.6,1437.1 1532.6,1437.2 1535.6,1437.3 1538.6,1437.3 1541.6,1437.4 1544.6,1437.5 1547.6,1437.5 1550.6,1437.5 1553.6,1437.5 1556.6,1437.5 1559.6,1437.4 1562.6,1437.4 1565.6,1437.3 1568.6,1437.2 1571.6,1437.1 1574.6,1437.0 1577.6,1436.9 1580.6,1436.7 1583.6,1436.6 1586.6,1436.4 1589.6,1436.2 1592.6,1436.0 1595.6,1435.8 1598.6,1435.6 1601.6,1435.4 1604.6,1435.2 1607.6,1434.9 1610.6,1434.6 1613.6,1434.4 1616.6,1434.1 1619.6,1433.8 1622.6,1433.5 1625.6,1433.2 1628.6,1432.9 1631.6,1432.6 1634.6,1432.2 1637.6,1431.9 1640.6,1431.6 1643.6,1431.2 1646.6,1430.9 1649.6,1430.5 1652.6,1430.1 1655.6,1429.8 1658.6,1429.4 1661.6,1429.0 1664.6,1428.7 1667.6,1428.3 1670.6,1427.9 1673.6,1427.5 1676.6,1427.2 1679.6,1426.8 1682.6,1426.4 1685.6,1426.0 1688.6,1425.6 1691.6,1425.3 1694.6,1424.9 1697.6,1424.5 1700.6,1424.1 1703.6,1423.8 1706.6,1423.4 1709.6,1423.0 1712.6,1422.7 1715.6,1422.3 1718.6,1422.0 1721.6,1421.6 1724.6,1421.3 1727.6,1420.9 1730.6,1420.6 1733.6,1420.3 1736.6,1420.0 1739.6,1419.7 1742.6,1419.4 1745.6,1419.1 1748.6,1418.8 1751.6,1418.5 1754.6,1418.2 1757.6,1418.0 1760.6,1417.7 1763.6,1417.5 1766.6,1417.3 1769.6,1417.0 1772.6,1416.8 1775.6,1416.6 1778.6,1416.5 1781.6,1416.3 1784.6,1416.1 1787.6,1416.0 1790.6,1415.8 1793.6,1415.7 1796.6,1415.6 1799.6,1415.5 1802.6,1415.4 1805.6,1415.3 1808.6,1415.2 1811.6,1415.1 1814.6,1415.1 1817.6,1415.0 1820.6,1415.0 1823.6,1415.0 1826.6,1415.0 1829.6,1415.0 1832.6,1415.0 1835.6,1415.1 1838.6,1415.1 1841.6,1415.2 1844.6,1415.2 1847.6,1415.3 1850.6,1415.4 1853.6,1415.5 1856.6,1415.6 1859.6,1415.7 1862.6,1415.9 1865.6,1416.0 1868.6,1416.2 1871.6,1416.3 1874.6,1416.5 1877.6,1416.7 1880.6,1416.9 1883.6,1417.1 1886.6,1417.3 1889.6,1417.5 1892.6,1417.7 1895.6,1418.0 1898.6,1418.2 1901.6,1418.5 1904.6,1418.7 1907.6,1419.0 1910.6,1419.3 1913.6,1419.6 1916.6,1419.9 1919.6,1420.1 1922.6,1420.4 1925.6,1420.8 1928.6,1421.1 1931.6,1421.4 1934.6,1421.7 1937.6,1422.0 1940.6,1422.4 1943.6,1422.7 1946.6,1423.0 1949.6,1423.4 1952.6,1423.7 1955.6,1424.1 1958.6,1424.4 1961.6,1424.8 1964.6,1425.1 1967.6,1425.5 1970.6,1425.9 1973.6,1426.2 1976.6,1426.6 1979.6,1427.0 1982.6,1427.3 1985.6,1427.7 1988.6,1428.1 1991.6,1428.5 1994.6,1428.8 1997.6,1429.2 2000.6,1429.6 2003.6,1430.0 2006.6,1430.4 2009.6,1430.7 2012.6,1431.1 2015.6,1431.5 2018.6,1431.9 2021.6,1432.2 2024.6,1432.6 2027.6,1433.0 2030.6,1433.4 2033.6,1433.7 2036.6,1434.1 2039.6,1434.5 2042.6,1434.8 2045.6,1435.2 2048.6,1435.6 2051.6,1435.9 2054.6,1436.3 2057.6,1436.6 2060.6,1437.0 2063.6,1437.4 2066.6,1437.7 2069.6,1438.0 2072.6,1438.4 2075.6,1438.7 2078.6,1439.1 2081.6,1439.4 2084.6,1439.7 2087.6,1440.1 2090.6,1440.4 2093.6,1440.7 2096.6,1441.1 2099.6,1441.4 2102.6,1441.7 2105.6,1442.0 2108.6,1442.3 2111.6,1442.6 2114.6,1442.9 2117.6,1443.2 2120.6,1443.5 2123.6,1443.8 2126.6,1444.1 2129.6,1444.4 2132.6,1444.6 2135.6,1444.9 2138.6,1445.2 2141.6,1445.4 2144.6,1445.7 2147.6,1446.0 2150.6,1446.2 2153.6,1446.5 2156.6,1446.7 2159.6,1446.9 2162.6,1447.2 2165.6,1447.4 2168.6,1447.6 2171.6,1447.9 2174.6,1448.1 2177.6,1448.3 2180.6,1448.5 2183.6,1448.7 2186.6,1448.9 2189.6,1449.1 2192.6,1449.3 2195.6,1449.5 2198.6,1449.7 2200.0,1449.8" fill="none" stroke="#000" stroke-width="4.0" stroke-linejoin="round"/>
<g fill="url(#pg)"><circle cx="1295.0" cy="1461.9" r="7.85"/><circle cx="1295.0" cy="1463.1" r="7.85"/><circle cx="1295.0" cy="1464.2" r="7.85"/><circle cx="1295.0" cy="1465.1" r="7.85"/><circle cx="1295.0" cy="1466.1" r="7.85"/><circle cx="1295.0" cy="1467.0" r="7.85"/><circle cx="1295.0" cy="1468.1" r="7.85"/><circle cx="1295.0" cy="1469.5" r="7.85"/><circle cx="1295.0" cy="1470.1" r="7.85"/><circle cx="1295.0" cy="1471.3" r="7.85"/><circle cx="1295.0" cy="1472.4" r="7.85"/><circle cx="1295.0" cy="1473.5" r="7.85"/><circle cx="1295.0" cy="1474.2" r="7.85"/><circle cx="1295.0" cy="1475.2" r="7.85"/><circle cx="1295.0" cy="1476.2" r="7.85"/><circle cx="1295.0" cy="1477.3" r="7.85"/><circle cx="1295.0" cy="1478.4" r="7.85"/><circle cx="1295.0" cy="1479.6" r="7.85"/><circle cx="1295.0" cy="1480.6" r="7.85"/><circle cx="1295.0" cy="1481.6" r="7.85"/><circle cx="1295.0" cy="1482.2" r="7.85"/><circle cx="1295.0" cy="1483.2" r="7.85"/><circle cx="1295.0" cy="1484.6" r="7.85"/><circle cx="1295.0" cy="1485.7" r="7.85"/><circle cx="1295.0" cy="1486.5" r="7.85"/><circle cx="1295.0" cy="1487.6" r="7.85"/><circle cx="1295.0" cy="1488.3" r="7.85"/><circle cx="1295.0" cy="1489.5" r="7.85"/><circle cx="1295.0" cy="1490.8" r="7.85"/><circle cx="1295.0" cy="1491.8" r="7.85"/><circle cx="1295.0" cy="1492.8" r="7.85"/><circle cx="1295.0" cy="1493.9" r="7.85"/><circle cx="1295.0" cy="1494.5" r="7.85"/><circle cx="1295.0" cy="1495.5" r="7.85"/><circle cx="1295.0" cy="1496.5" r="7.85"/><circle cx="1295.0" cy="1497.7" r="7.85"/><circle cx="1295.0" cy="1498.8" r="7.85"/><circle cx="1295.0" cy="1499.9" r="7.85"/><circle cx="1295.0" cy="1500.9" r="7.85"/><circle cx="1295.0" cy="1501.8" r="7.85"/><circle cx="1295.0" cy="1502.9" r="7.85"/><circle cx="1295.0" cy="1503.8" r="7.85"/><circle cx="1295.0" cy="1504.8" r="7.85"/><circle cx="1295.0" cy="1505.6" r="7.85"/><circle cx="1295.0" cy="1507.0" r="7.85"/><circle cx="1295.0" cy="1508.1" r="7.85"/><circle cx="1538.0" cy="1478.7" r="7.85"/><circle cx="1576.9" cy="1478.7" r="7.85"/><circle cx="1588.9" cy="1499.8" r="7.85"/><circle cx="1613.2" cy="1461.9" r="7.85"/><circle cx="1649.8" cy="1471.8" r="7.85"/><circle cx="1688.7" cy="1469.8" r="7.85"/><circle cx="1702.8" cy="1461.9" r="7.85"/><circle cx="1720.8" cy="1461.9" r="7.85"/><circle cx="1681.9" cy="1489.9" r="7.85"/><circle cx="1701.2" cy="1501.9" r="7.85"/><circle cx="1751.9" cy="1475.0" r="7.85"/><circle cx="1753.5" cy="1481.2" r="7.85"/><circle cx="1754.0" cy="1488.4" r="7.85"/><circle cx="1736.8" cy="1496.1" r="7.85"/><circle cx="1749.2" cy="1500.2" r="7.85"/><circle cx="1763.9" cy="1507.7" r="7.85"/><circle cx="1785.6" cy="1480.1" r="7.85"/><circle cx="1795.4" cy="1481.2" r="7.85"/><circle cx="1797.4" cy="1480.1" r="7.85"/><circle cx="1788.5" cy="1488.4" r="7.85"/><circle cx="1792.9" cy="1500.8" r="7.85"/><circle cx="1803.6" cy="1464.6" r="7.85"/><circle cx="1813.0" cy="1468.3" r="7.85"/><circle cx="1820.2" cy="1464.6" r="7.85"/><circle cx="1817.7" cy="1480.1" r="7.85"/><circle cx="1828.9" cy="1485.7" r="7.85"/><circle cx="1834.7" cy="1494.6" r="7.85"/><circle cx="1828.5" cy="1496.7" r="7.85"/><circle cx="1823.3" cy="1503.9" r="7.85"/><circle cx="1825.4" cy="1505.4" r="7.85"/><circle cx="1827.5" cy="1504.6" r="7.85"/><circle cx="1829.5" cy="1507.0" r="7.85"/><circle cx="1851.3" cy="1461.9" r="7.85"/><circle cx="1845.7" cy="1468.3" r="7.85"/><circle cx="1848.2" cy="1476.0" r="7.85"/><circle cx="1877.8" cy="1506.0" r="7.85"/><circle cx="1910.7" cy="1473.9" r="7.85"/><circle cx="1918.6" cy="1507.0" r="7.85"/><circle cx="1927.5" cy="1463.6" r="7.85"/><circle cx="1924.8" cy="1469.8" r="7.85"/><circle cx="1936.2" cy="1466.7" r="7.85"/><circle cx="1933.1" cy="1488.8" r="7.85"/><circle cx="1955.9" cy="1502.5" r="7.85"/><circle cx="1971.8" cy="1487.8" r="7.85"/><circle cx="1985.9" cy="1499.8" r="7.85"/><circle cx="1993.2" cy="1502.5" r="7.85"/><circle cx="1997.9" cy="1465.6" r="7.85"/><circle cx="1997.9" cy="1473.9" r="7.85"/><circle cx="2018.0" cy="1482.8" r="7.85"/><circle cx="2032.9" cy="1484.9" r="7.85"/><circle cx="2079.1" cy="1479.7" r="7.85"/><circle cx="2096.1" cy="1497.7" r="7.85"/><circle cx="2131.9" cy="1479.7" r="7.85"/></g>
<polygon points="1091.6,1572.4 1091.6,1553.4 1094.6,1552.7 1097.6,1551.9 1100.6,1551.1 1103.6,1550.2 1106.6,1549.4 1109.6,1548.5 1112.6,1547.7 1115.6,1546.8 1118.6,1545.9 1121.6,1544.9 1124.6,1544.0 1127.6,1543.0 1130.6,1542.1 1133.6,1541.1 1136.6,1540.1 1139.6,1539.1 1142.6,1538.0 1145.6,1537.0 1148.6,1535.9 1151.6,1534.9 1154.6,1533.8 1157.6,1532.8 1160.6,1531.7 1163.6,1530.6 1166.6,1529.5 1169.6,1528.4 1172.6,1527.4 1175.6,1526.3 1178.6,1525.2 1181.6,1524.1 1184.6,1523.0 1187.6,1522.0 1190.6,1520.9 1193.6,1519.8 1196.6,1518.8 1199.6,1517.8 1202.6,1516.7 1205.6,1515.7 1208.6,1514.7 1211.6,1513.8 1214.6,1512.8 1217.6,1511.9 1220.6,1510.9 1223.6,1510.0 1226.6,1509.2 1229.6,1508.3 1232.6,1507.5 1235.6,1506.7 1238.6,1505.9 1241.6,1505.2 1244.6,1504.5 1247.6,1503.8 1250.6,1503.2 1253.6,1502.6 1256.6,1502.0 1259.6,1501.5 1262.6,1501.0 1265.6,1500.5 1268.6,1500.1 1271.6,1499.7 1274.6,1499.4 1277.6,1499.1 1280.6,1498.9 1283.6,1498.6 1286.6,1498.5 1289.6,1498.3 1292.6,1498.2 1295.6,1498.2 1298.6,1498.2 1301.6,1498.2 1304.6,1498.3 1307.6,1498.4 1310.6,1498.6 1313.6,1498.8 1316.6,1499.0 1319.6,1499.3 1322.6,1499.6 1325.6,1500.0 1328.6,1500.4 1331.6,1500.8 1334.6,1501.3 1337.6,1501.8 1340.6,1502.3 1343.6,1502.9 1346.6,1503.5 1349.6,1504.2 1352.6,1504.8 1355.6,1505.5 1358.6,1506.3 1361.6,1507.0 1364.6,1507.8 1367.6,1508.6 1370.6,1509.4 1373.6,1510.3 1376.6,1511.1 1379.6,1512.0 1382.6,1512.9 1385.6,1513.8 1388.6,1514.8 1391.6,1515.7 1394.6,1516.7 1397.6,1517.6 1400.6,1518.6 1403.6,1519.6 1406.6,1520.6 1409.6,1521.6 1412.6,1522.6 1415.6,1523.5 1418.6,1524.5 1421.6,1525.5 1424.6,1526.5 1427.6,1527.5 1430.6,1528.5 1433.6,1529.5 1436.6,1530.4 1439.6,1531.4 1442.6,1532.3 1445.6,1533.3 1448.6,1534.2 1451.6,1535.1 1454.6,1536.0 1457.6,1536.9 1460.6,1537.8 1463.6,1538.7 1466.6,1539.5 1469.6,1540.3 1472.6,1541.1 1475.6,1541.9 1478.6,1542.7 1481.6,1543.5 1484.6,1544.2 1487.6,1544.9 1490.6,1545.6 1493.6,1546.3 1496.6,1547.0 1499.6,1547.6 1502.6,1548.2 1505.6,1548.8 1508.6,1549.4 1511.6,1550.0 1514.6,1550.5 1517.6,1551.0 1520.6,1551.5 1523.6,1552.0 1526.6,1552.5 1529.6,1552.9 1532.6,1553.4 1535.6,1553.8 1538.6,1554.1 1541.6,1554.5 1544.6,1554.8 1547.6,1555.2 1550.6,1555.5 1553.6,1555.8 1556.6,1556.1 1559.6,1556.3 1562.6,1556.6 1565.6,1556.8 1568.6,1557.0 1571.6,1557.2 1574.6,1557.4 1577.6,1557.5 1580.6,1557.7 1583.6,1557.8 1586.6,1558.0 1589.6,1558.1 1592.6,1558.2 1595.6,1558.3 1598.6,1558.4 1601.6,1558.4 1604.6,1558.5 1607.6,1558.5 1610.6,1558.6 1613.6,1558.6 1616.6,1558.6 1619.6,1558.6 1622.6,1558.6 1625.6,1558.6 1628.6,1558.6 1631.6,1558.6 1634.6,1558.5 1637.6,1558.5 1640.6,1558.5 1643.6,1558.4 1646.6,1558.4 1649.6,1558.3 1652.6,1558.2 1655.6,1558.2 1658.6,1558.1 1661.6,1558.0 1664.6,1557.9 1667.6,1557.9 1670.6,1557.8 1673.6,1557.7 1676.6,1557.6 1679.6,1557.5 1682.6,1557.4 1685.6,1557.3 1688.6,1557.2 1691.6,1557.1 1694.6,1556.9 1697.6,1556.8 1700.6,1556.7 1703.6,1556.6 1706.6,1556.5 1709.6,1556.4 1712.6,1556.2 1715.6,1556.1 1718.6,1556.0 1721.6,1555.9 1724.6,1555.8 1727.6,1555.6 1730.6,1555.5 1733.6,1555.4 1736.6,1555.3 1739.6,1555.1 1742.6,1555.0 1745.6,1554.9 1748.6,1554.8 1751.6,1554.6 1754.6,1554.5 1757.6,1554.4 1760.6,1554.3 1763.6,1554.2 1766.6,1554.0 1769.6,1553.9 1772.6,1553.8 1775.6,1553.7 1778.6,1553.6 1781.6,1553.4 1784.6,1553.3 1787.6,1553.2 1790.6,1553.1 1793.6,1553.0 1796.6,1552.9 1799.6,1552.8 1802.6,1552.7 1805.6,1552.6 1808.6,1552.5 1811.6,1552.4 1814.6,1552.3 1817.6,1552.2 1820.6,1552.1 1823.6,1552.0 1826.6,1551.9 1829.6,1551.8 1832.6,1551.7 1835.6,1551.6 1838.6,1551.6 1841.6,1551.5 1844.6,1551.4 1847.6,1551.3 1850.6,1551.3 1853.6,1551.2 1856.6,1551.1 1859.6,1551.1 1862.6,1551.0 1865.6,1551.0 1868.6,1550.9 1871.6,1550.9 1874.6,1550.8 1877.6,1550.8 1880.6,1550.8 1883.6,1550.7 1886.6,1550.7 1889.6,1550.7 1892.6,1550.7 1895.6,1550.7 1898.6,1550.6 1901.6,1550.6 1904.6,1550.6 1907.6,1550.6 1910.6,1550.7 1913.6,1550.7 1916.6,1550.7 1919.6,1550.7 1922.6,1550.7 1925.6,1550.8 1928.6,1550.8 1931.6,1550.9 1934.6,1550.9 1937.6,1551.0 1940.6,1551.0 1943.6,1551.1 1946.6,1551.2 1949.6,1551.2 1952.6,1551.3 1955.6,1551.4 1958.6,1551.5 1961.6,1551.6 1964.6,1551.7 1967.6,1551.8 1970.6,1551.9 1973.6,1552.0 1976.6,1552.1 1979.6,1552.3 1982.6,1552.4 1985.6,1552.5 1988.6,1552.7 1991.6,1552.8 1994.6,1553.0 1997.6,1553.1 2000.6,1553.3 2003.6,1553.5 2006.6,1553.6 2009.6,1553.8 2012.6,1554.0 2015.6,1554.2 2018.6,1554.4 2021.6,1554.6 2024.6,1554.7 2027.6,1554.9 2030.6,1555.2 2033.6,1555.4 2036.6,1555.6 2039.6,1555.8 2042.6,1556.0 2045.6,1556.2 2048.6,1556.4 2051.6,1556.7 2054.6,1556.9 2057.6,1557.1 2060.6,1557.4 2063.6,1557.6 2066.6,1557.8 2069.6,1558.1 2072.6,1558.3 2075.6,1558.5 2078.6,1558.8 2081.6,1559.0 2084.6,1559.3 2087.6,1559.5 2090.6,1559.8 2093.6,1560.0 2096.6,1560.3 2099.6,1560.5 2102.6,1560.7 2105.6,1561.0 2108.6,1561.2 2111.6,1561.5 2114.6,1561.7 2117.6,1561.9 2120.6,1562.2 2123.6,1562.4 2126.6,1562.7 2129.6,1562.9 2132.6,1563.1 2135.6,1563.3 2138.6,1563.6 2141.6,1563.8 2144.6,1564.0 2147.6,1564.2 2150.6,1564.5 2153.6,1564.7 2156.6,1564.9 2159.6,1565.1 2162.6,1565.3 2165.6,1565.5 2168.6,1565.7 2171.6,1565.9 2174.6,1566.1 2177.6,1566.3 2180.6,1566.5 2182.7,1566.6 2182.7,1572.4" fill="#5EB300" fill-opacity="0.5"/>
<polyline points="1091.6,1553.4 1094.6,1552.7 1097.6,1551.9 1100.6,1551.1 1103.6,1550.2 1106.6,1549.4 1109.6,1548.5 1112.6,1547.7 1115.6,1546.8 1118.6,1545.9 1121.6,1544.9 1124.6,1544.0 1127.6,1543.0 1130.6,1542.1 1133.6,1541.1 1136.6,1540.1 1139.6,1539.1 1142.6,1538.0 1145.6,1537.0 1148.6,1535.9 1151.6,1534.9 1154.6,1533.8 1157.6,1532.8 1160.6,1531.7 1163.6,1530.6 1166.6,1529.5 1169.6,1528.4 1172.6,1527.4 1175.6,1526.3 1178.6,1525.2 1181.6,1524.1 1184.6,1523.0 1187.6,1522.0 1190.6,1520.9 1193.6,1519.8 1196.6,1518.8 1199.6,1517.8 1202.6,1516.7 1205.6,1515.7 1208.6,1514.7 1211.6,1513.8 1214.6,1512.8 1217.6,1511.9 1220.6,1510.9 1223.6,1510.0 1226.6,1509.2 1229.6,1508.3 1232.6,1507.5 1235.6,1506.7 1238.6,1505.9 1241.6,1505.2 1244.6,1504.5 1247.6,1503.8 1250.6,1503.2 1253.6,1502.6 1256.6,1502.0 1259.6,1501.5 1262.6,1501.0 1265.6,1500.5 1268.6,1500.1 1271.6,1499.7 1274.6,1499.4 1277.6,1499.1 1280.6,1498.9 1283.6,1498.6 1286.6,1498.5 1289.6,1498.3 1292.6,1498.2 1295.6,1498.2 1298.6,1498.2 1301.6,1498.2 1304.6,1498.3 1307.6,1498.4 1310.6,1498.6 1313.6,1498.8 1316.6,1499.0 1319.6,1499.3 1322.6,1499.6 1325.6,1500.0 1328.6,1500.4 1331.6,1500.8 1334.6,1501.3 1337.6,1501.8 1340.6,1502.3 1343.6,1502.9 1346.6,1503.5 1349.6,1504.2 1352.6,1504.8 1355.6,1505.5 1358.6,1506.3 1361.6,1507.0 1364.6,1507.8 1367.6,1508.6 1370.6,1509.4 1373.6,1510.3 1376.6,1511.1 1379.6,1512.0 1382.6,1512.9 1385.6,1513.8 1388.6,1514.8 1391.6,1515.7 1394.6,1516.7 1397.6,1517.6 1400.6,1518.6 1403.6,1519.6 1406.6,1520.6 1409.6,1521.6 1412.6,1522.6 1415.6,1523.5 1418.6,1524.5 1421.6,1525.5 1424.6,1526.5 1427.6,1527.5 1430.6,1528.5 1433.6,1529.5 1436.6,1530.4 1439.6,1531.4 1442.6,1532.3 1445.6,1533.3 1448.6,1534.2 1451.6,1535.1 1454.6,1536.0 1457.6,1536.9 1460.6,1537.8 1463.6,1538.7 1466.6,1539.5 1469.6,1540.3 1472.6,1541.1 1475.6,1541.9 1478.6,1542.7 1481.6,1543.5 1484.6,1544.2 1487.6,1544.9 1490.6,1545.6 1493.6,1546.3 1496.6,1547.0 1499.6,1547.6 1502.6,1548.2 1505.6,1548.8 1508.6,1549.4 1511.6,1550.0 1514.6,1550.5 1517.6,1551.0 1520.6,1551.5 1523.6,1552.0 1526.6,1552.5 1529.6,1552.9 1532.6,1553.4 1535.6,1553.8 1538.6,1554.1 1541.6,1554.5 1544.6,1554.8 1547.6,1555.2 1550.6,1555.5 1553.6,1555.8 1556.6,1556.1 1559.6,1556.3 1562.6,1556.6 1565.6,1556.8 1568.6,1557.0 1571.6,1557.2 1574.6,1557.4 1577.6,1557.5 1580.6,1557.7 1583.6,1557.8 1586.6,1558.0 1589.6,1558.1 1592.6,1558.2 1595.6,1558.3 1598.6,1558.4 1601.6,1558.4 1604.6,1558.5 1607.6,1558.5 1610.6,1558.6 1613.6,1558.6 1616.6,1558.6 1619.6,1558.6 1622.6,1558.6 1625.6,1558.6 1628.6,1558.6 1631.6,1558.6 1634.6,1558.5 1637.6,1558.5 1640.6,1558.5 1643.6,1558.4 1646.6,1558.4 1649.6,1558.3 1652.6,1558.2 1655.6,1558.2 1658.6,1558.1 1661.6,1558.0 1664.6,1557.9 1667.6,1557.9 1670.6,1557.8 1673.6,1557.7 1676.6,1557.6 1679.6,1557.5 1682.6,1557.4 1685.6,1557.3 1688.6,1557.2 1691.6,1557.1 1694.6,1556.9 1697.6,1556.8 1700.6,1556.7 1703.6,1556.6 1706.6,1556.5 1709.6,1556.4 1712.6,1556.2 1715.6,1556.1 1718.6,1556.0 1721.6,1555.9 1724.6,1555.8 1727.6,1555.6 1730.6,1555.5 1733.6,1555.4 1736.6,1555.3 1739.6,1555.1 1742.6,1555.0 1745.6,1554.9 1748.6,1554.8 1751.6,1554.6 1754.6,1554.5 1757.6,1554.4 1760.6,1554.3 1763.6,1554.2 1766.6,1554.0 1769.6,1553.9 1772.6,1553.8 1775.6,1553.7 1778.6,1553.6 1781.6,1553.4 1784.6,1553.3 1787.6,1553.2 1790.6,1553.1 1793.6,1553.0 1796.6,1552.9 1799.6,1552.8 1802.6,1552.7 1805.6,1552.6 1808.6,1552.5 1811.6,1552.4 1814.6,1552.3 1817.6,1552.2 1820.6,1552.1 1823.6,1552.0 1826.6,1551.9 1829.6,1551.8 1832.6,1551.7 1835.6,1551.6 1838.6,1551.6 1841.6,1551.5 1844.6,1551.4 1847.6,1551.3 1850.6,1551.3 1853.6,1551.2 1856.6,1551.1 1859.6,1551.1 1862.6,1551.0 1865.6,1551.0 1868.6,1550.9 1871.6,1550.9 1874.6,1550.8 1877.6,1550.8 1880.6,1550.8 1883.6,1550.7 1886.6,1550.7 1889.6,1550.7 1892.6,1550.7 1895.6,1550.7 1898.6,1550.6 1901.6,1550.6 1904.6,1550.6 1907.6,1550.6 1910.6,1550.7 1913.6,1550.7 1916.6,1550.7 1919.6,1550.7 1922.6,1550.7 1925.6,1550.8 1928.6,1550.8 1931.6,1550.9 1934.6,1550.9 1937.6,1551.0 1940.6,1551.0 1943.6,1551.1 1946.6,1551.2 1949.6,1551.2 1952.6,1551.3 1955.6,1551.4 1958.6,1551.5 1961.6,1551.6 1964.6,1551.7 1967.6,1551.8 1970.6,1551.9 1973.6,1552.0 1976.6,1552.1 1979.6,1552.3 1982.6,1552.4 1985.6,1552.5 1988.6,1552.7 1991.6,1552.8 1994.6,1553.0 1997.6,1553.1 2000.6,1553.3 2003.6,1553.5 2006.6,1553.6 2009.6,1553.8 2012.6,1554.0 2015.6,1554.2 2018.6,1554.4 2021.6,1554.6 2024.6,1554.7 2027.6,1554.9 2030.6,1555.2 2033.6,1555.4 2036.6,1555.6 2039.6,1555.8 2042.6,1556.0 2045.6,1556.2 2048.6,1556.4 2051.6,1556.7 2054.6,1556.9 2057.6,1557.1 2060.6,1557.4 2063.6,1557.6 2066.6,1557.8 2069.6,1558.1 2072.6,1558.3 2075.6,1558.5 2078.6,1558.8 2081.6,1559.0 2084.6,1559.3 2087.6,1559.5 2090.6,1559.8 2093.6,1560.0 2096.6,1560.3 2099.6,1560.5 2102.6,1560.7 2105.6,1561.0 2108.6,1561.2 2111.6,1561.5 2114.6,1561.7 2117.6,1561.9 2120.6,1562.2 2123.6,1562.4 2126.6,1562.7 2129.6,1562.9 2132.6,1563.1 2135.6,1563.3 2138.6,1563.6 2141.6,1563.8 2144.6,1564.0 2147.6,1564.2 2150.6,1564.5 2153.6,1564.7 2156.6,1564.9 2159.6,1565.1 2162.6,1565.3 2165.6,1565.5 2168.6,1565.7 2171.6,1565.9 2174.6,1566.1 2177.6,1566.3 2180.6,1566.5 2182.7,1566.6" fill="none" stroke="#000" stroke-width="4.0" stroke-linejoin="round"/>
<g fill="url(#pg)"><circle cx="1295.0" cy="1579.0" r="7.85"/><circle cx="1295.0" cy="1579.6" r="7.85"/><circle cx="1295.0" cy="1579.9" r="7.85"/><circle cx="1295.0" cy="1580.3" r="7.85"/><circle cx="1295.0" cy="1580.7" r="7.85"/><circle cx="1295.0" cy="1581.2" r="7.85"/><circle cx="1295.0" cy="1581.7" r="7.85"/><circle cx="1295.0" cy="1582.0" r="7.85"/><circle cx="1295.0" cy="1582.4" r="7.85"/><circle cx="1295.0" cy="1582.9" r="7.85"/><circle cx="1295.0" cy="1583.3" r="7.85"/><circle cx="1295.0" cy="1583.7" r="7.85"/><circle cx="1295.0" cy="1584.1" r="7.85"/><circle cx="1295.0" cy="1584.6" r="7.85"/><circle cx="1295.0" cy="1584.9" r="7.85"/><circle cx="1295.0" cy="1585.4" r="7.85"/><circle cx="1295.0" cy="1585.8" r="7.85"/><circle cx="1295.0" cy="1586.4" r="7.85"/><circle cx="1295.0" cy="1586.7" r="7.85"/><circle cx="1295.0" cy="1587.2" r="7.85"/><circle cx="1295.0" cy="1587.5" r="7.85"/><circle cx="1295.0" cy="1587.9" r="7.85"/><circle cx="1295.0" cy="1588.3" r="7.85"/><circle cx="1295.0" cy="1588.9" r="7.85"/><circle cx="1295.0" cy="1589.3" r="7.85"/><circle cx="1295.0" cy="1589.6" r="7.85"/><circle cx="1295.0" cy="1590.0" r="7.85"/><circle cx="1295.0" cy="1590.5" r="7.85"/><circle cx="1295.0" cy="1591.0" r="7.85"/><circle cx="1295.0" cy="1591.3" r="7.85"/><circle cx="1295.0" cy="1591.7" r="7.85"/><circle cx="1295.0" cy="1592.2" r="7.85"/><circle cx="1295.0" cy="1592.7" r="7.85"/><circle cx="1295.0" cy="1593.0" r="7.85"/><circle cx="1295.0" cy="1593.4" r="7.85"/><circle cx="1295.0" cy="1593.8" r="7.85"/><circle cx="1295.0" cy="1594.3" r="7.85"/><circle cx="1295.0" cy="1594.8" r="7.85"/><circle cx="1295.0" cy="1595.1" r="7.85"/><circle cx="1295.0" cy="1595.6" r="7.85"/><circle cx="1295.0" cy="1596.0" r="7.85"/><circle cx="1295.0" cy="1596.4" r="7.85"/><circle cx="1295.0" cy="1596.8" r="7.85"/><circle cx="1295.0" cy="1597.3" r="7.85"/><circle cx="1295.0" cy="1597.6" r="7.85"/><circle cx="1295.0" cy="1598.2" r="7.85"/><circle cx="1295.0" cy="1598.5" r="7.85"/><circle cx="1295.0" cy="1598.9" r="7.85"/><circle cx="1295.0" cy="1599.4" r="7.85"/><circle cx="1295.0" cy="1599.7" r="7.85"/><circle cx="1295.0" cy="1600.3" r="7.85"/><circle cx="1295.0" cy="1600.6" r="7.85"/><circle cx="1295.0" cy="1601.0" r="7.85"/><circle cx="1295.0" cy="1601.4" r="7.85"/><circle cx="1295.0" cy="1601.9" r="7.85"/><circle cx="1295.0" cy="1602.3" r="7.85"/><circle cx="1295.0" cy="1602.8" r="7.85"/><circle cx="1295.0" cy="1603.1" r="7.85"/><circle cx="1295.0" cy="1603.6" r="7.85"/><circle cx="1295.0" cy="1603.9" r="7.85"/><circle cx="1295.0" cy="1604.5" r="7.85"/><circle cx="1295.0" cy="1604.8" r="7.85"/><circle cx="1295.0" cy="1605.2" r="7.85"/><circle cx="1295.0" cy="1605.6" r="7.85"/><circle cx="1295.0" cy="1606.1" r="7.85"/><circle cx="1295.0" cy="1606.6" r="7.85"/><circle cx="1295.0" cy="1607.0" r="7.85"/><circle cx="1295.0" cy="1607.4" r="7.85"/><circle cx="1295.0" cy="1607.9" r="7.85"/><circle cx="1295.0" cy="1608.3" r="7.85"/><circle cx="1295.0" cy="1608.6" r="7.85"/><circle cx="1295.0" cy="1609.0" r="7.85"/><circle cx="1295.0" cy="1609.6" r="7.85"/><circle cx="1295.0" cy="1610.0" r="7.85"/><circle cx="1295.0" cy="1610.2" r="7.85"/><circle cx="1295.0" cy="1610.8" r="7.85"/><circle cx="1295.0" cy="1611.1" r="7.85"/><circle cx="1295.0" cy="1611.6" r="7.85"/><circle cx="1295.0" cy="1612.0" r="7.85"/><circle cx="1295.0" cy="1612.4" r="7.85"/><circle cx="1295.0" cy="1612.8" r="7.85"/><circle cx="1295.0" cy="1613.2" r="7.85"/><circle cx="1295.0" cy="1613.7" r="7.85"/><circle cx="1295.0" cy="1614.2" r="7.85"/><circle cx="1295.0" cy="1614.5" r="7.85"/><circle cx="1295.0" cy="1615.1" r="7.85"/><circle cx="1295.0" cy="1615.3" r="7.85"/><circle cx="1295.0" cy="1615.8" r="7.85"/><circle cx="1295.0" cy="1616.3" r="7.85"/><circle cx="1295.0" cy="1616.7" r="7.85"/><circle cx="1295.0" cy="1617.1" r="7.85"/><circle cx="1295.0" cy="1617.4" r="7.85"/><circle cx="1295.0" cy="1617.9" r="7.85"/><circle cx="1295.0" cy="1618.3" r="7.85"/><circle cx="1295.0" cy="1618.9" r="7.85"/><circle cx="1295.0" cy="1619.1" r="7.85"/><circle cx="1295.0" cy="1619.6" r="7.85"/><circle cx="1295.0" cy="1620.1" r="7.85"/><circle cx="1295.0" cy="1620.4" r="7.85"/><circle cx="1295.0" cy="1620.9" r="7.85"/><circle cx="1295.0" cy="1621.4" r="7.85"/><circle cx="1295.0" cy="1621.8" r="7.85"/><circle cx="1295.0" cy="1622.0" r="7.85"/><circle cx="1295.0" cy="1622.5" r="7.85"/><circle cx="1295.0" cy="1622.9" r="7.85"/><circle cx="1295.0" cy="1623.5" r="7.85"/><circle cx="1295.0" cy="1623.8" r="7.85"/><circle cx="1295.0" cy="1624.3" r="7.85"/><circle cx="1295.0" cy="1624.8" r="7.85"/><circle cx="1295.0" cy="1625.2" r="7.85"/><circle cx="1451.7" cy="1614.7" r="7.85"/><circle cx="1483.8" cy="1588.8" r="7.85"/><circle cx="1492.1" cy="1592.0" r="7.85"/><circle cx="1569.8" cy="1590.9" r="7.85"/><circle cx="1598.7" cy="1600.9" r="7.85"/><circle cx="1604.9" cy="1606.9" r="7.85"/><circle cx="1625.7" cy="1612.7" r="7.85"/><circle cx="1644.9" cy="1589.9" r="7.85"/><circle cx="1660.8" cy="1583.0" r="7.85"/><circle cx="1650.9" cy="1619.5" r="7.85"/><circle cx="1655.7" cy="1617.8" r="7.85"/><circle cx="1683.0" cy="1624.7" r="7.85"/><circle cx="1700.8" cy="1594.6" r="7.85"/><circle cx="1737.9" cy="1599.8" r="7.85"/><circle cx="1751.9" cy="1585.7" r="7.85"/><circle cx="1768.9" cy="1595.7" r="7.85"/><circle cx="1762.7" cy="1608.5" r="7.85"/><circle cx="1761.3" cy="1613.1" r="7.85"/><circle cx="1766.4" cy="1617.8" r="7.85"/><circle cx="1796.9" cy="1593.6" r="7.85"/><circle cx="1806.8" cy="1579.9" r="7.85"/><circle cx="1814.7" cy="1593.0" r="7.85"/><circle cx="1807.8" cy="1608.9" r="7.85"/><circle cx="1828.6" cy="1588.8" r="7.85"/><circle cx="1829.6" cy="1614.7" r="7.85"/><circle cx="1844.6" cy="1583.7" r="7.85"/><circle cx="1857.2" cy="1581.6" r="7.85"/><circle cx="1869.0" cy="1589.9" r="7.85"/><circle cx="1843.1" cy="1611.2" r="7.85"/><circle cx="1840.0" cy="1625.1" r="7.85"/><circle cx="1903.2" cy="1622.6" r="7.85"/><circle cx="1914.1" cy="1596.5" r="7.85"/><circle cx="1916.6" cy="1601.9" r="7.85"/><circle cx="1922.8" cy="1618.2" r="7.85"/><circle cx="1930.1" cy="1617.8" r="7.85"/><circle cx="1936.7" cy="1617.8" r="7.85"/><circle cx="1951.8" cy="1579.5" r="7.85"/><circle cx="1946.6" cy="1584.1" r="7.85"/><circle cx="1959.1" cy="1586.8" r="7.85"/><circle cx="1965.9" cy="1616.4" r="7.85"/><circle cx="1959.7" cy="1625.7" r="7.85"/><circle cx="1980.8" cy="1622.6" r="7.85"/><circle cx="1993.2" cy="1619.5" r="7.85"/><circle cx="2004.6" cy="1616.8" r="7.85"/><circle cx="1991.8" cy="1580.6" r="7.85"/><circle cx="2012.9" cy="1584.7" r="7.85"/><circle cx="2012.9" cy="1592.0" r="7.85"/><circle cx="2015.0" cy="1593.0" r="7.85"/><circle cx="2006.7" cy="1601.9" r="7.85"/><circle cx="2017.0" cy="1595.1" r="7.85"/><circle cx="2026.4" cy="1592.0" r="7.85"/><circle cx="2031.5" cy="1588.4" r="7.85"/><circle cx="2040.2" cy="1582.6" r="7.85"/><circle cx="2050.8" cy="1602.7" r="7.85"/><circle cx="2105.0" cy="1623.6" r="7.85"/><circle cx="2145.0" cy="1597.7" r="7.85"/></g>
<polygon points="1091.6,1689.5 1091.6,1670.7 1094.6,1669.9 1097.6,1669.1 1100.6,1668.3 1103.6,1667.5 1106.6,1666.7 1109.6,1665.8 1112.6,1664.9 1115.6,1664.1 1118.6,1663.1 1121.6,1662.2 1124.6,1661.3 1127.6,1660.3 1130.6,1659.4 1133.6,1658.4 1136.6,1657.4 1139.6,1656.4 1142.6,1655.4 1145.6,1654.4 1148.6,1653.3 1151.6,1652.3 1154.6,1651.2 1157.6,1650.2 1160.6,1649.1 1163.6,1648.0 1166.6,1647.0 1169.6,1645.9 1172.6,1644.8 1175.6,1643.7 1178.6,1642.7 1181.6,1641.6 1184.6,1640.5 1187.6,1639.5 1190.6,1638.4 1193.6,1637.4 1196.6,1636.3 1199.6,1635.3 1202.6,1634.3 1205.6,1633.3 1208.6,1632.3 1211.6,1631.4 1214.6,1630.4 1217.6,1629.5 1220.6,1628.6 1223.6,1627.7 1226.6,1626.8 1229.6,1626.0 1232.6,1625.2 1235.6,1624.4 1238.6,1623.7 1241.6,1623.0 1244.6,1622.3 1247.6,1621.6 1250.6,1621.0 1253.6,1620.4 1256.6,1619.8 1259.6,1619.3 1262.6,1618.8 1265.6,1618.4 1268.6,1618.0 1271.6,1617.6 1274.6,1617.3 1277.6,1617.0 1280.6,1616.8 1283.6,1616.6 1286.6,1616.4 1289.6,1616.3 1292.6,1616.2 1295.6,1616.2 1298.6,1616.2 1301.6,1616.3 1304.6,1616.3 1307.6,1616.5 1310.6,1616.7 1313.6,1616.9 1316.6,1617.1 1319.6,1617.4 1322.6,1617.8 1325.6,1618.1 1328.6,1618.6 1331.6,1619.0 1334.6,1619.5 1337.6,1620.0 1340.6,1620.6 1343.6,1621.2 1346.6,1621.8 1349.6,1622.4 1352.6,1623.1 1355.6,1623.8 1358.6,1624.6 1361.6,1625.3 1364.6,1626.1 1367.6,1626.9 1370.6,1627.8 1373.6,1628.6 1376.6,1629.5 1379.6,1630.4 1382.6,1631.3 1385.6,1632.3 1388.6,1633.2 1391.6,1634.2 1394.6,1635.1 1397.6,1636.1 1400.6,1637.1 1403.6,1638.1 1406.6,1639.1 1409.6,1640.1 1412.6,1641.1 1415.6,1642.1 1418.6,1643.1 1421.6,1644.1 1424.6,1645.1 1427.6,1646.1 1430.6,1647.0 1433.6,1648.0 1436.6,1649.0 1439.6,1650.0 1442.6,1650.9 1445.6,1651.9 1448.6,1652.8 1451.6,1653.7 1454.6,1654.6 1457.6,1655.5 1460.6,1656.4 1463.6,1657.3 1466.6,1658.1 1469.6,1659.0 1472.6,1659.8 1475.6,1660.6 1478.6,1661.4 1481.6,1662.1 1484.6,1662.9 1487.6,1663.6 1490.6,1664.3 1493.6,1665.0 1496.6,1665.7 1499.6,1666.3 1502.6,1666.9 1505.6,1667.5 1508.6,1668.1 1511.6,1668.7 1514.6,1669.2 1517.6,1669.7 1520.6,1670.2 1523.6,1670.7 1526.6,1671.2 1529.6,1671.6 1532.6,1672.0 1535.6,1672.4 1538.6,1672.8 1541.6,1673.2 1544.6,1673.5 1547.6,1673.8 1550.6,1674.1 1553.6,1674.4 1556.6,1674.7 1559.6,1674.9 1562.6,1675.2 1565.6,1675.4 1568.6,1675.6 1571.6,1675.8 1574.6,1676.0 1577.6,1676.1 1580.6,1676.2 1583.6,1676.4 1586.6,1676.5 1589.6,1676.6 1592.6,1676.7 1595.6,1676.7 1598.6,1676.8 1601.6,1676.9 1604.6,1676.9 1607.6,1676.9 1610.6,1676.9 1613.6,1676.9 1616.6,1676.9 1619.6,1676.9 1622.6,1676.9 1625.6,1676.9 1628.6,1676.8 1631.6,1676.8 1634.6,1676.7 1637.6,1676.7 1640.6,1676.6 1643.6,1676.5 1646.6,1676.4 1649.6,1676.3 1652.6,1676.2 1655.6,1676.1 1658.6,1676.0 1661.6,1675.9 1664.6,1675.8 1667.6,1675.6 1670.6,1675.5 1673.6,1675.4 1676.6,1675.2 1679.6,1675.1 1682.6,1674.9 1685.6,1674.8 1688.6,1674.6 1691.6,1674.5 1694.6,1674.3 1697.6,1674.2 1700.6,1674.0 1703.6,1673.8 1706.6,1673.7 1709.6,1673.5 1712.6,1673.3 1715.6,1673.2 1718.6,1673.0 1721.6,1672.8 1724.6,1672.6 1727.6,1672.5 1730.6,1672.3 1733.6,1672.1 1736.6,1671.9 1739.6,1671.7 1742.6,1671.6 1745.6,1671.4 1748.6,1671.2 1751.6,1671.0 1754.6,1670.8 1757.6,1670.7 1760.6,1670.5 1763.6,1670.3 1766.6,1670.1 1769.6,1670.0 1772.6,1669.8 1775.6,1669.6 1778.6,1669.5 1781.6,1669.3 1784.6,1669.1 1787.6,1669.0 1790.6,1668.8 1793.6,1668.7 1796.6,1668.5 1799.6,1668.4 1802.6,1668.2 1805.6,1668.1 1808.6,1667.9 1811.6,1667.8 1814.6,1667.7 1817.6,1667.5 1820.6,1667.4 1823.6,1667.3 1826.6,1667.1 1829.6,1667.0 1832.6,1666.9 1835.6,1666.8 1838.6,1666.7 1841.6,1666.6 1844.6,1666.5 1847.6,1666.4 1850.6,1666.3 1853.6,1666.2 1856.6,1666.2 1859.6,1666.1 1862.6,1666.0 1865.6,1666.0 1868.6,1665.9 1871.6,1665.9 1874.6,1665.8 1877.6,1665.8 1880.6,1665.8 1883.6,1665.7 1886.6,1665.7 1889.6,1665.7 1892.6,1665.7 1895.6,1665.7 1898.6,1665.7 1901.6,1665.7 1904.6,1665.7 1907.6,1665.7 1910.6,1665.7 1913.6,1665.8 1916.6,1665.8 1919.6,1665.9 1922.6,1665.9 1925.6,1666.0 1928.6,1666.0 1931.6,1666.1 1934.6,1666.2 1937.6,1666.2 1940.6,1666.3 1943.6,1666.4 1946.6,1666.5 1949.6,1666.6 1952.6,1666.7 1955.6,1666.9 1958.6,1667.0 1961.6,1667.1 1964.6,1667.2 1967.6,1667.4 1970.6,1667.5 1973.6,1667.7 1976.6,1667.8 1979.6,1668.0 1982.6,1668.2 1985.6,1668.3 1988.6,1668.5 1991.6,1668.7 1994.6,1668.9 1997.6,1669.1 2000.6,1669.3 2003.6,1669.5 2006.6,1669.7 2009.6,1669.9 2012.6,1670.1 2015.6,1670.3 2018.6,1670.5 2021.6,1670.8 2024.6,1671.0 2027.6,1671.2 2030.6,1671.4 2033.6,1671.7 2036.6,1671.9 2039.6,1672.1 2042.6,1672.4 2045.6,1672.6 2048.6,1672.9 2051.6,1673.1 2054.6,1673.4 2057.6,1673.6 2060.6,1673.9 2063.6,1674.1 2066.6,1674.4 2069.6,1674.6 2072.6,1674.9 2075.6,1675.1 2078.6,1675.4 2081.6,1675.6 2084.6,1675.9 2087.6,1676.1 2090.6,1676.4 2093.6,1676.6 2096.6,1676.9 2099.6,1677.1 2102.6,1677.4 2105.6,1677.6 2108.6,1677.9 2111.6,1678.1 2114.6,1678.4 2117.6,1678.6 2120.6,1678.9 2123.6,1679.1 2126.6,1679.3 2129.6,1679.6 2132.6,1679.8 2135.6,1680.0 2138.6,1680.3 2141.6,1680.5 2144.6,1680.7 2147.6,1680.9 2150.6,1681.1 2153.6,1681.4 2156.6,1681.6 2159.6,1681.8 2162.6,1682.0 2165.6,1682.2 2168.6,1682.4 2171.6,1682.6 2174.6,1682.8 2177.6,1683.0 2180.6,1683.1 2183.6,1683.3 2186.6,1683.5 2189.6,1683.7 2192.6,1683.9 2195.6,1684.0 2198.6,1684.2 2200.7,1684.3 2200.7,1689.5" fill="#93AA00" fill-opacity="0.5"/>
<polyline points="1091.6,1670.7 1094.6,1669.9 1097.6,1669.1 1100.6,1668.3 1103.6,1667.5 1106.6,1666.7 1109.6,1665.8 1112.6,1664.9 1115.6,1664.1 1118.6,1663.1 1121.6,1662.2 1124.6,1661.3 1127.6,1660.3 1130.6,1659.4 1133.6,1658.4 1136.6,1657.4 1139.6,1656.4 1142.6,1655.4 1145.6,1654.4 1148.6,1653.3 1151.6,1652.3 1154.6,1651.2 1157.6,1650.2 1160.6,1649.1 1163.6,1648.0 1166.6,1647.0 1169.6,1645.9 1172.6,1644.8 1175.6,1643.7 1178.6,1642.7 1181.6,1641.6 1184.6,1640.5 1187.6,1639.5 1190.6,1638.4 1193.6,1637.4 1196.6,1636.3 1199.6,1635.3 1202.6,1634.3 1205.6,1633.3 1208.6,1632.3 1211.6,1631.4 1214.6,1630.4 1217.6,1629.5 1220.6,1628.6 1223.6,1627.7 1226.6,1626.8 1229.6,1626.0 1232.6,1625.2 1235.6,1624.4 1238.6,1623.7 1241.6,1623.0 1244.6,1622.3 1247.6,1621.6 1250.6,1621.0 1253.6,1620.4 1256.6,1619.8 1259.6,1619.3 1262.6,1618.8 1265.6,1618.4 1268.6,1618.0 1271.6,1617.6 1274.6,1617.3 1277.6,1617.0 1280.6,1616.8 1283.6,1616.6 1286.6,1616.4 1289.6,1616.3 1292.6,1616.2 1295.6,1616.2 1298.6,1616.2 1301.6,1616.3 1304.6,1616.3 1307.6,1616.5 1310.6,1616.7 1313.6,1616.9 1316.6,1617.1 1319.6,1617.4 1322.6,1617.8 1325.6,1618.1 1328.6,1618.6 1331.6,1619.0 1334.6,1619.5 1337.6,1620.0 1340.6,1620.6 1343.6,1621.2 1346.6,1621.8 1349.6,1622.4 1352.6,1623.1 1355.6,1623.8 1358.6,1624.6 1361.6,1625.3 1364.6,1626.1 1367.6,1626.9 1370.6,1627.8 1373.6,1628.6 1376.6,1629.5 1379.6,1630.4 1382.6,1631.3 1385.6,1632.3 1388.6,1633.2 1391.6,1634.2 1394.6,1635.1 1397.6,1636.1 1400.6,1637.1 1403.6,1638.1 1406.6,1639.1 1409.6,1640.1 1412.6,1641.1 1415.6,1642.1 1418.6,1643.1 1421.6,1644.1 1424.6,1645.1 1427.6,1646.1 1430.6,1647.0 1433.6,1648.0 1436.6,1649.0 1439.6,1650.0 1442.6,1650.9 1445.6,1651.9 1448.6,1652.8 1451.6,1653.7 1454.6,1654.6 1457.6,1655.5 1460.6,1656.4 1463.6,1657.3 1466.6,1658.1 1469.6,1659.0 1472.6,1659.8 1475.6,1660.6 1478.6,1661.4 1481.6,1662.1 1484.6,1662.9 1487.6,1663.6 1490.6,1664.3 1493.6,1665.0 1496.6,1665.7 1499.6,1666.3 1502.6,1666.9 1505.6,1667.5 1508.6,1668.1 1511.6,1668.7 1514.6,1669.2 1517.6,1669.7 1520.6,1670.2 1523.6,1670.7 1526.6,1671.2 1529.6,1671.6 1532.6,1672.0 1535.6,1672.4 1538.6,1672.8 1541.6,1673.2 1544.6,1673.5 1547.6,1673.8 1550.6,1674.1 1553.6,1674.4 1556.6,1674.7 1559.6,1674.9 1562.6,1675.2 1565.6,1675.4 1568.6,1675.6 1571.6,1675.8 1574.6,1676.0 1577.6,1676.1 1580.6,1676.2 1583.6,1676.4 1586.6,1676.5 1589.6,1676.6 1592.6,1676.7 1595.6,1676.7 1598.6,1676.8 1601.6,1676.9 1604.6,1676.9 1607.6,1676.9 1610.6,1676.9 1613.6,1676.9 1616.6,1676.9 1619.6,1676.9 1622.6,1676.9 1625.6,1676.9 1628.6,1676.8 1631.6,1676.8 1634.6,1676.7 1637.6,1676.7 1640.6,1676.6 1643.6,1676.5 1646.6,1676.4 1649.6,1676.3 1652.6,1676.2 1655.6,1676.1 1658.6,1676.0 1661.6,1675.9 1664.6,1675.8 1667.6,1675.6 1670.6,1675.5 1673.6,1675.4 1676.6,1675.2 1679.6,1675.1 1682.6,1674.9 1685.6,1674.8 1688.6,1674.6 1691.6,1674.5 1694.6,1674.3 1697.6,1674.2 1700.6,1674.0 1703.6,1673.8 1706.6,1673.7 1709.6,1673.5 1712.6,1673.3 1715.6,1673.2 1718.6,1673.0 1721.6,1672.8 1724.6,1672.6 1727.6,1672.5 1730.6,1672.3 1733.6,1672.1 1736.6,1671.9 1739.6,1671.7 1742.6,1671.6 1745.6,1671.4 1748.6,1671.2 1751.6,1671.0 1754.6,1670.8 1757.6,1670.7 1760.6,1670.5 1763.6,1670.3 1766.6,1670.1 1769.6,1670.0 1772.6,1669.8 1775.6,1669.6 1778.6,1669.5 1781.6,1669.3 1784.6,1669.1 1787.6,1669.0 1790.6,1668.8 1793.6,1668.7 1796.6,1668.5 1799.6,1668.4 1802.6,1668.2 1805.6,1668.1 1808.6,1667.9 1811.6,1667.8 1814.6,1667.7 1817.6,1667.5 1820.6,1667.4 1823.6,1667.3 1826.6,1667.1 1829.6,1667.0 1832.6,1666.9 1835.6,1666.8 1838.6,1666.7 1841.6,1666.6 1844.6,1666.5 1847.6,1666.4 1850.6,1666.3 1853.6,1666.2 1856.6,1666.2 1859.6,1666.1 1862.6,1666.0 1865.6,1666.0 1868.6,1665.9 1871.6,1665.9 1874.6,1665.8 1877.6,1665.8 1880.6,1665.8 1883.6,1665.7 1886.6,1665.7 1889.6,1665.7 1892.6,1665.7 1895.6,1665.7 1898.6,1665.7 1901.6,1665.7 1904.6,1665.7 1907.6,1665.7 1910.6,1665.7 1913.6,1665.8 1916.6,1665.8 1919.6,1665.9 1922.6,1665.9 1925.6,1666.0 1928.6,1666.0 1931.6,1666.1 1934.6,1666.2 1937.6,1666.2 1940.6,1666.3 1943.6,1666.4 1946.6,1666.5 1949.6,1666.6 1952.6,1666.7 1955.6,1666.9 1958.6,1667.0 1961.6,1667.1 1964.6,1667.2 1967.6,1667.4 1970.6,1667.5 1973.6,1667.7 1976.6,1667.8 1979.6,1668.0 1982.6,1668.2 1985.6,1668.3 1988.6,1668.5 1991.6,1668.7 1994.6,1668.9 1997.6,1669.1 2000.6,1669.3 2003.6,1669.5 2006.6,1669.7 2009.6,1669.9 2012.6,1670.1 2015.6,1670.3 2018.6,1670.5 2021.6,1670.8 2024.6,1671.0 2027.6,1671.2 2030.6,1671.4 2033.6,1671.7 2036.6,1671.9 2039.6,1672.1 2042.6,1672.4 2045.6,1672.6 2048.6,1672.9 2051.6,1673.1 2054.6,1673.4 2057.6,1673.6 2060.6,1673.9 2063.6,1674.1 2066.6,1674.4 2069.6,1674.6 2072.6,1674.9 2075.6,1675.1 2078.6,1675.4 2081.6,1675.6 2084.6,1675.9 2087.6,1676.1 2090.6,1676.4 2093.6,1676.6 2096.6,1676.9 2099.6,1677.1 2102.6,1677.4 2105.6,1677.6 2108.6,1677.9 2111.6,1678.1 2114.6,1678.4 2117.6,1678.6 2120.6,1678.9 2123.6,1679.1 2126.6,1679.3 2129.6,1679.6 2132.6,1679.8 2135.6,1680.0 2138.6,1680.3 2141.6,1680.5 2144.6,1680.7 2147.6,1680.9 2150.6,1681.1 2153.6,1681.4 2156.6,1681.6 2159.6,1681.8 2162.6,1682.0 2165.6,1682.2 2168.6,1682.4 2171.6,1682.6 2174.6,1682.8 2177.6,1683.0 2180.6,1683.1 2183.6,1683.3 2186.6,1683.5 2189.6,1683.7 2192.6,1683.9 2195.6,1684.0 2198.6,1684.2 2200.7,1684.3" fill="none" stroke="#000" stroke-width="4.0" stroke-linejoin="round"/>
<g fill="url(#pg)"><circle cx="1295.0" cy="1696.1" r="7.85"/><circle cx="1295.0" cy="1696.4" r="7.85"/><circle cx="1295.0" cy="1696.6" r="7.85"/><circle cx="1295.0" cy="1696.7" r="7.85"/><circle cx="1295.0" cy="1697.0" r="7.85"/><circle cx="1295.0" cy="1697.1" r="7.85"/><circle cx="1295.0" cy="1697.3" r="7.85"/><circle cx="1295.0" cy="1697.5" r="7.85"/><circle cx="1295.0" cy="1697.8" r="7.85"/><circle cx="1295.0" cy="1698.0" r="7.85"/><circle cx="1295.0" cy="1698.2" r="7.85"/><circle cx="1295.0" cy="1698.4" r="7.85"/><circle cx="1295.0" cy="1698.5" r="7.85"/><circle cx="1295.0" cy="1698.7" r="7.85"/><circle cx="1295.0" cy="1698.9" r="7.85"/><circle cx="1295.0" cy="1699.2" r="7.85"/><circle cx="1295.0" cy="1699.4" r="7.85"/><circle cx="1295.0" cy="1699.5" r="7.85"/><circle cx="1295.0" cy="1699.7" r="7.85"/><circle cx="1295.0" cy="1699.9" r="7.85"/><circle cx="1295.0" cy="1700.1" r="7.85"/><circle cx="1295.0" cy="1700.4" r="7.85"/><circle cx="1295.0" cy="1700.5" r="7.85"/><circle cx="1295.0" cy="1700.8" r="7.85"/><circle cx="1295.0" cy="1700.9" r="7.85"/><circle cx="1295.0" cy="1701.1" r="7.85"/><circle cx="1295.0" cy="1701.3" r="7.85"/><circle cx="1295.0" cy="1701.5" r="7.85"/><circle cx="1295.0" cy="1701.7" r="7.85"/><circle cx="1295.0" cy="1701.9" r="7.85"/><circle cx="1295.0" cy="1702.1" r="7.85"/><circle cx="1295.0" cy="1702.3" r="7.85"/><circle cx="1295.0" cy="1702.5" r="7.85"/><circle cx="1295.0" cy="1702.7" r="7.85"/><circle cx="1295.0" cy="1702.9" r="7.85"/><circle cx="1295.0" cy="1703.1" r="7.85"/><circle cx="1295.0" cy="1703.3" r="7.85"/><circle cx="1295.0" cy="1703.5" r="7.85"/><circle cx="1295.0" cy="1703.7" r="7.85"/><circle cx="1295.0" cy="1703.9" r="7.85"/><circle cx="1295.0" cy="1704.1" r="7.85"/><circle cx="1295.0" cy="1704.3" r="7.85"/><circle cx="1295.0" cy="1704.5" r="7.85"/><circle cx="1295.0" cy="1704.7" r="7.85"/><circle cx="1295.0" cy="1704.9" r="7.85"/><circle cx="1295.0" cy="1705.1" r="7.85"/><circle cx="1295.0" cy="1705.3" r="7.85"/><circle cx="1295.0" cy="1705.5" r="7.85"/><circle cx="1295.0" cy="1705.7" r="7.85"/><circle cx="1295.0" cy="1705.9" r="7.85"/><circle cx="1295.0" cy="1706.1" r="7.85"/><circle cx="1295.0" cy="1706.3" r="7.85"/><circle cx="1295.0" cy="1706.5" r="7.85"/><circle cx="1295.0" cy="1706.7" r="7.85"/><circle cx="1295.0" cy="1706.9" r="7.85"/><circle cx="1295.0" cy="1707.1" r="7.85"/><circle cx="1295.0" cy="1707.2" r="7.85"/><circle cx="1295.0" cy="1707.5" r="7.85"/><circle cx="1295.0" cy="1707.7" r="7.85"/><circle cx="1295.0" cy="1707.9" r="7.85"/><circle cx="1295.0" cy="1708.1" r="7.85"/><circle cx="1295.0" cy="1708.3" r="7.85"/><circle cx="1295.0" cy="1708.4" r="7.85"/><circle cx="1295.0" cy="1708.6" r="7.85"/><circle cx="1295.0" cy="1708.8" r="7.85"/><circle cx="1295.0" cy="1709.0" r="7.85"/><circle cx="1295.0" cy="1709.3" r="7.85"/><circle cx="1295.0" cy="1709.5" r="7.85"/><circle cx="1295.0" cy="1709.6" r="7.85"/><circle cx="1295.0" cy="1709.9" r="7.85"/><circle cx="1295.0" cy="1710.1" r="7.85"/><circle cx="1295.0" cy="1710.3" r="7.85"/><circle cx="1295.0" cy="1710.4" r="7.85"/><circle cx="1295.0" cy="1710.7" r="7.85"/><circle cx="1295.0" cy="1710.9" r="7.85"/><circle cx="1295.0" cy="1711.1" r="7.85"/><circle cx="1295.0" cy="1711.2" r="7.85"/><circle cx="1295.0" cy="1711.4" r="7.85"/><circle cx="1295.0" cy="1711.7" r="7.85"/><circle cx="1295.0" cy="1711.9" r="7.85"/><circle cx="1295.0" cy="1712.1" r="7.85"/><circle cx="1295.0" cy="1712.2" r="7.85"/><circle cx="1295.0" cy="1712.4" r="7.85"/><circle cx="1295.0" cy="1712.6" r="7.85"/><circle cx="1295.0" cy="1712.8" r="7.85"/><circle cx="1295.0" cy="1713.1" r="7.85"/><circle cx="1295.0" cy="1713.2" r="7.85"/><circle cx="1295.0" cy="1713.5" r="7.85"/><circle cx="1295.0" cy="1713.6" r="7.85"/><circle cx="1295.0" cy="1713.9" r="7.85"/><circle cx="1295.0" cy="1714.0" r="7.85"/><circle cx="1295.0" cy="1714.2" r="7.85"/><circle cx="1295.0" cy="1714.5" r="7.85"/><circle cx="1295.0" cy="1714.7" r="7.85"/><circle cx="1295.0" cy="1714.8" r="7.85"/><circle cx="1295.0" cy="1715.0" r="7.85"/><circle cx="1295.0" cy="1715.2" r="7.85"/><circle cx="1295.0" cy="1715.4" r="7.85"/><circle cx="1295.0" cy="1715.6" r="7.85"/><circle cx="1295.0" cy="1715.8" r="7.85"/><circle cx="1295.0" cy="1716.0" r="7.85"/><circle cx="1295.0" cy="1716.2" r="7.85"/><circle cx="1295.0" cy="1716.4" r="7.85"/><circle cx="1295.0" cy="1716.6" r="7.85"/><circle cx="1295.0" cy="1716.8" r="7.85"/><circle cx="1295.0" cy="1717.0" r="7.85"/><circle cx="1295.0" cy="1717.2" r="7.85"/><circle cx="1295.0" cy="1717.4" r="7.85"/><circle cx="1295.0" cy="1717.6" r="7.85"/><circle cx="1295.0" cy="1717.8" r="7.85"/><circle cx="1295.0" cy="1718.0" r="7.85"/><circle cx="1295.0" cy="1718.2" r="7.85"/><circle cx="1295.0" cy="1718.4" r="7.85"/><circle cx="1295.0" cy="1718.6" r="7.85"/><circle cx="1295.0" cy="1718.8" r="7.85"/><circle cx="1295.0" cy="1719.0" r="7.85"/><circle cx="1295.0" cy="1719.2" r="7.85"/><circle cx="1295.0" cy="1719.4" r="7.85"/><circle cx="1295.0" cy="1719.6" r="7.85"/><circle cx="1295.0" cy="1719.8" r="7.85"/><circle cx="1295.0" cy="1720.0" r="7.85"/><circle cx="1295.0" cy="1720.2" r="7.85"/><circle cx="1295.0" cy="1720.4" r="7.85"/><circle cx="1295.0" cy="1720.6" r="7.85"/><circle cx="1295.0" cy="1720.8" r="7.85"/><circle cx="1295.0" cy="1721.0" r="7.85"/><circle cx="1295.0" cy="1721.2" r="7.85"/><circle cx="1295.0" cy="1721.4" r="7.85"/><circle cx="1295.0" cy="1721.6" r="7.85"/><circle cx="1295.0" cy="1721.8" r="7.85"/><circle cx="1295.0" cy="1722.0" r="7.85"/><circle cx="1295.0" cy="1722.2" r="7.85"/><circle cx="1295.0" cy="1722.3" r="7.85"/><circle cx="1295.0" cy="1722.6" r="7.85"/><circle cx="1295.0" cy="1722.7" r="7.85"/><circle cx="1295.0" cy="1722.9" r="7.85"/><circle cx="1295.0" cy="1723.2" r="7.85"/><circle cx="1295.0" cy="1723.4" r="7.85"/><circle cx="1295.0" cy="1723.6" r="7.85"/><circle cx="1295.0" cy="1723.8" r="7.85"/><circle cx="1295.0" cy="1724.0" r="7.85"/><circle cx="1295.0" cy="1724.2" r="7.85"/><circle cx="1295.0" cy="1724.3" r="7.85"/><circle cx="1295.0" cy="1724.5" r="7.85"/><circle cx="1295.0" cy="1724.8" r="7.85"/><circle cx="1295.0" cy="1725.0" r="7.85"/><circle cx="1295.0" cy="1725.2" r="7.85"/><circle cx="1295.0" cy="1725.3" r="7.85"/><circle cx="1295.0" cy="1725.6" r="7.85"/><circle cx="1295.0" cy="1725.7" r="7.85"/><circle cx="1295.0" cy="1726.0" r="7.85"/><circle cx="1295.0" cy="1726.1" r="7.85"/><circle cx="1295.0" cy="1726.3" r="7.85"/><circle cx="1295.0" cy="1726.6" r="7.85"/><circle cx="1295.0" cy="1726.8" r="7.85"/><circle cx="1295.0" cy="1726.9" r="7.85"/><circle cx="1295.0" cy="1727.1" r="7.85"/><circle cx="1295.0" cy="1727.4" r="7.85"/><circle cx="1295.0" cy="1727.6" r="7.85"/><circle cx="1295.0" cy="1727.7" r="7.85"/><circle cx="1295.0" cy="1727.9" r="7.85"/><circle cx="1295.0" cy="1728.2" r="7.85"/><circle cx="1295.0" cy="1728.4" r="7.85"/><circle cx="1295.0" cy="1728.5" r="7.85"/><circle cx="1295.0" cy="1728.7" r="7.85"/><circle cx="1295.0" cy="1729.0" r="7.85"/><circle cx="1295.0" cy="1729.1" r="7.85"/><circle cx="1295.0" cy="1729.4" r="7.85"/><circle cx="1295.0" cy="1729.5" r="7.85"/><circle cx="1295.0" cy="1729.8" r="7.85"/><circle cx="1295.0" cy="1729.9" r="7.85"/><circle cx="1295.0" cy="1730.2" r="7.85"/><circle cx="1295.0" cy="1730.3" r="7.85"/><circle cx="1295.0" cy="1730.5" r="7.85"/><circle cx="1295.0" cy="1730.8" r="7.85"/><circle cx="1295.0" cy="1731.0" r="7.85"/><circle cx="1295.0" cy="1731.1" r="7.85"/><circle cx="1295.0" cy="1731.3" r="7.85"/><circle cx="1295.0" cy="1731.5" r="7.85"/><circle cx="1295.0" cy="1731.7" r="7.85"/><circle cx="1295.0" cy="1731.9" r="7.85"/><circle cx="1295.0" cy="1732.1" r="7.85"/><circle cx="1295.0" cy="1732.3" r="7.85"/><circle cx="1295.0" cy="1732.5" r="7.85"/><circle cx="1295.0" cy="1732.8" r="7.85"/><circle cx="1295.0" cy="1732.9" r="7.85"/><circle cx="1295.0" cy="1733.1" r="7.85"/><circle cx="1295.0" cy="1733.3" r="7.85"/><circle cx="1295.0" cy="1733.5" r="7.85"/><circle cx="1295.0" cy="1733.7" r="7.85"/><circle cx="1295.0" cy="1733.9" r="7.85"/><circle cx="1295.0" cy="1734.1" r="7.85"/><circle cx="1295.0" cy="1734.3" r="7.85"/><circle cx="1295.0" cy="1734.5" r="7.85"/><circle cx="1295.0" cy="1734.7" r="7.85"/><circle cx="1295.0" cy="1734.9" r="7.85"/><circle cx="1295.0" cy="1735.1" r="7.85"/><circle cx="1295.0" cy="1735.3" r="7.85"/><circle cx="1295.0" cy="1735.5" r="7.85"/><circle cx="1295.0" cy="1735.7" r="7.85"/><circle cx="1295.0" cy="1735.9" r="7.85"/><circle cx="1295.0" cy="1736.0" r="7.85"/><circle cx="1295.0" cy="1736.3" r="7.85"/><circle cx="1295.0" cy="1736.5" r="7.85"/><circle cx="1295.0" cy="1736.7" r="7.85"/><circle cx="1295.0" cy="1736.9" r="7.85"/><circle cx="1295.0" cy="1737.1" r="7.85"/><circle cx="1295.0" cy="1737.3" r="7.85"/><circle cx="1295.0" cy="1737.4" r="7.85"/><circle cx="1295.0" cy="1737.7" r="7.85"/><circle cx="1295.0" cy="1737.8" r="7.85"/><circle cx="1295.0" cy="1738.0" r="7.85"/><circle cx="1295.0" cy="1738.3" r="7.85"/><circle cx="1295.0" cy="1738.4" r="7.85"/><circle cx="1295.0" cy="1738.7" r="7.85"/><circle cx="1295.0" cy="1738.9" r="7.85"/><circle cx="1295.0" cy="1739.0" r="7.85"/><circle cx="1295.0" cy="1739.3" r="7.85"/><circle cx="1295.0" cy="1739.4" r="7.85"/><circle cx="1295.0" cy="1739.7" r="7.85"/><circle cx="1295.0" cy="1739.9" r="7.85"/><circle cx="1295.0" cy="1740.1" r="7.85"/><circle cx="1295.0" cy="1740.2" r="7.85"/><circle cx="1295.0" cy="1740.5" r="7.85"/><circle cx="1295.0" cy="1740.6" r="7.85"/><circle cx="1295.0" cy="1740.9" r="7.85"/><circle cx="1295.0" cy="1741.0" r="7.85"/><circle cx="1295.0" cy="1741.3" r="7.85"/><circle cx="1295.0" cy="1741.5" r="7.85"/><circle cx="1295.0" cy="1741.7" r="7.85"/><circle cx="1295.0" cy="1741.9" r="7.85"/><circle cx="1295.0" cy="1742.0" r="7.85"/><circle cx="1295.0" cy="1742.3" r="7.85"/><circle cx="1461.0" cy="1739.8" r="7.85"/><circle cx="1509.1" cy="1707.0" r="7.85"/><circle cx="1527.8" cy="1703.7" r="7.85"/><circle cx="1534.1" cy="1708.7" r="7.85"/><circle cx="1570.0" cy="1707.8" r="7.85"/><circle cx="1586.1" cy="1705.8" r="7.85"/><circle cx="1573.8" cy="1732.8" r="7.85"/><circle cx="1595.4" cy="1729.0" r="7.85"/><circle cx="1596.5" cy="1728.2" r="7.85"/><circle cx="1598.2" cy="1728.7" r="7.85"/><circle cx="1600.7" cy="1727.9" r="7.85"/><circle cx="1616.9" cy="1725.7" r="7.85"/><circle cx="1624.2" cy="1718.8" r="7.85"/><circle cx="1650.0" cy="1726.5" r="7.85"/><circle cx="1655.8" cy="1735.7" r="7.85"/><circle cx="1670.7" cy="1704.7" r="7.85"/><circle cx="1685.1" cy="1703.9" r="7.85"/><circle cx="1673.9" cy="1726.9" r="7.85"/><circle cx="1705.0" cy="1703.0" r="7.85"/><circle cx="1701.2" cy="1721.9" r="7.85"/><circle cx="1714.1" cy="1716.9" r="7.85"/><circle cx="1714.9" cy="1723.7" r="7.85"/><circle cx="1716.9" cy="1741.0" r="7.85"/><circle cx="1734.8" cy="1695.9" r="7.85"/><circle cx="1735.3" cy="1699.6" r="7.85"/><circle cx="1736.8" cy="1700.5" r="7.85"/><circle cx="1736.0" cy="1717.1" r="7.85"/><circle cx="1744.8" cy="1700.9" r="7.85"/><circle cx="1747.6" cy="1724.4" r="7.85"/><circle cx="1748.9" cy="1725.4" r="7.85"/><circle cx="1752.2" cy="1704.7" r="7.85"/><circle cx="1766.2" cy="1708.3" r="7.85"/><circle cx="1767.3" cy="1725.7" r="7.85"/><circle cx="1764.8" cy="1734.8" r="7.85"/><circle cx="1778.1" cy="1734.0" r="7.85"/><circle cx="1778.9" cy="1721.6" r="7.85"/><circle cx="1787.2" cy="1717.8" r="7.85"/><circle cx="1788.9" cy="1718.8" r="7.85"/><circle cx="1789.7" cy="1719.9" r="7.85"/><circle cx="1795.5" cy="1698.9" r="7.85"/><circle cx="1798.8" cy="1701.7" r="7.85"/><circle cx="1802.9" cy="1721.6" r="7.85"/><circle cx="1805.4" cy="1709.2" r="7.85"/><circle cx="1807.9" cy="1711.3" r="7.85"/><circle cx="1808.6" cy="1712.0" r="7.85"/><circle cx="1809.6" cy="1714.1" r="7.85"/><circle cx="1815.4" cy="1704.2" r="7.85"/><circle cx="1819.5" cy="1706.7" r="7.85"/><circle cx="1817.3" cy="1723.6" r="7.85"/><circle cx="1827.0" cy="1713.3" r="7.85"/><circle cx="1830.3" cy="1715.0" r="7.85"/><circle cx="1833.3" cy="1704.2" r="7.85"/><circle cx="1846.0" cy="1715.0" r="7.85"/><circle cx="1849.3" cy="1707.5" r="7.85"/><circle cx="1851.0" cy="1705.8" r="7.85"/><circle cx="1852.6" cy="1704.2" r="7.85"/><circle cx="1854.3" cy="1703.4" r="7.85"/><circle cx="1851.0" cy="1728.2" r="7.85"/><circle cx="1865.9" cy="1711.6" r="7.85"/><circle cx="1870.0" cy="1709.2" r="7.85"/><circle cx="1867.5" cy="1715.8" r="7.85"/><circle cx="1869.2" cy="1717.4" r="7.85"/><circle cx="1870.8" cy="1719.1" r="7.85"/><circle cx="1875.8" cy="1720.8" r="7.85"/><circle cx="1878.0" cy="1737.3" r="7.85"/><circle cx="1886.6" cy="1724.9" r="7.85"/><circle cx="1896.5" cy="1734.0" r="7.85"/><circle cx="1897.3" cy="1719.9" r="7.85"/><circle cx="1893.2" cy="1701.7" r="7.85"/><circle cx="1897.3" cy="1695.1" r="7.85"/><circle cx="1899.0" cy="1697.6" r="7.85"/><circle cx="1906.5" cy="1700.0" r="7.85"/><circle cx="1908.1" cy="1701.7" r="7.85"/><circle cx="1907.3" cy="1703.4" r="7.85"/><circle cx="1908.9" cy="1705.0" r="7.85"/><circle cx="1908.1" cy="1707.5" r="7.85"/><circle cx="1905.6" cy="1716.6" r="7.85"/><circle cx="1903.1" cy="1719.1" r="7.85"/><circle cx="1917.2" cy="1703.4" r="7.85"/><circle cx="1920.5" cy="1731.5" r="7.85"/><circle cx="1921.9" cy="1733.2" r="7.85"/><circle cx="1921.4" cy="1734.8" r="7.85"/><circle cx="1922.2" cy="1737.3" r="7.85"/><circle cx="1932.1" cy="1700.9" r="7.85"/><circle cx="1934.6" cy="1698.4" r="7.85"/><circle cx="1942.1" cy="1712.5" r="7.85"/><circle cx="1942.9" cy="1731.5" r="7.85"/><circle cx="1945.4" cy="1738.1" r="7.85"/><circle cx="1944.6" cy="1741.5" r="7.85"/><circle cx="1953.7" cy="1728.2" r="7.85"/><circle cx="1958.6" cy="1729.0" r="7.85"/><circle cx="1960.3" cy="1728.2" r="7.85"/><circle cx="1965.8" cy="1721.6" r="7.85"/><circle cx="1965.3" cy="1738.1" r="7.85"/><circle cx="1974.4" cy="1704.2" r="7.85"/><circle cx="1981.0" cy="1695.9" r="7.85"/><circle cx="1980.2" cy="1699.2" r="7.85"/><circle cx="1981.8" cy="1700.9" r="7.85"/><circle cx="1981.0" cy="1702.5" r="7.85"/><circle cx="1981.8" cy="1735.7" r="7.85"/><circle cx="1984.3" cy="1736.5" r="7.85"/><circle cx="1986.0" cy="1737.3" r="7.85"/><circle cx="1990.1" cy="1716.6" r="7.85"/><circle cx="1991.8" cy="1709.2" r="7.85"/><circle cx="1990.9" cy="1723.2" r="7.85"/><circle cx="1995.9" cy="1739.0" r="7.85"/><circle cx="1998.4" cy="1742.3" r="7.85"/><circle cx="2005.0" cy="1709.2" r="7.85"/><circle cx="2010.8" cy="1709.2" r="7.85"/><circle cx="2012.5" cy="1711.6" r="7.85"/><circle cx="2011.6" cy="1714.1" r="7.85"/><circle cx="2013.3" cy="1716.6" r="7.85"/><circle cx="2012.5" cy="1719.1" r="7.85"/><circle cx="2014.9" cy="1702.5" r="7.85"/><circle cx="2008.3" cy="1724.9" r="7.85"/><circle cx="2008.3" cy="1733.2" r="7.85"/><circle cx="2013.3" cy="1733.2" r="7.85"/><circle cx="2024.1" cy="1699.2" r="7.85"/><circle cx="2039.8" cy="1696.7" r="7.85"/><circle cx="2038.1" cy="1721.6" r="7.85"/><circle cx="2064.8" cy="1698.7" r="7.85"/><circle cx="2057.9" cy="1715.8" r="7.85"/><circle cx="2059.9" cy="1720.8" r="7.85"/><circle cx="2083.9" cy="1712.8" r="7.85"/><circle cx="2073.1" cy="1729.9" r="7.85"/><circle cx="2077.3" cy="1733.7" r="7.85"/><circle cx="2136.9" cy="1705.8" r="7.85"/><circle cx="2143.9" cy="1735.7" r="7.85"/><circle cx="2149.0" cy="1740.6" r="7.85"/><circle cx="2162.9" cy="1726.9" r="7.85"/><circle cx="2182.1" cy="1717.8" r="7.85"/></g>
<polygon points="1091.6,1806.6 1091.6,1779.1 1094.6,1778.0 1097.6,1776.8 1100.6,1775.7 1103.6,1774.5 1106.6,1773.3 1109.6,1772.0 1112.6,1770.8 1115.6,1769.5 1118.6,1768.1 1121.6,1766.8 1124.6,1765.4 1127.6,1764.0 1130.6,1762.6 1133.6,1761.2 1136.6,1759.8 1139.6,1758.3 1142.6,1756.8 1145.6,1755.3 1148.6,1753.8 1151.6,1752.3 1154.6,1750.8 1157.6,1749.2 1160.6,1747.7 1163.6,1746.1 1166.6,1744.5 1169.6,1743.0 1172.6,1741.4 1175.6,1739.8 1178.6,1738.3 1181.6,1736.7 1184.6,1735.2 1187.6,1733.6 1190.6,1732.1 1193.6,1730.6 1196.6,1729.1 1199.6,1727.6 1202.6,1726.1 1205.6,1724.7 1208.6,1723.2 1211.6,1721.8 1214.6,1720.5 1217.6,1719.1 1220.6,1717.8 1223.6,1716.5 1226.6,1715.3 1229.6,1714.1 1232.6,1712.9 1235.6,1711.8 1238.6,1710.7 1241.6,1709.7 1244.6,1708.7 1247.6,1707.7 1250.6,1706.8 1253.6,1706.0 1256.6,1705.2 1259.6,1704.5 1262.6,1703.8 1265.6,1703.2 1268.6,1702.6 1271.6,1702.1 1274.6,1701.6 1277.6,1701.2 1280.6,1700.9 1283.6,1700.7 1286.6,1700.4 1289.6,1700.3 1292.6,1700.2 1295.6,1700.2 1298.6,1700.2 1301.6,1700.4 1304.6,1700.5 1307.6,1700.8 1310.6,1701.0 1313.6,1701.4 1316.6,1701.8 1319.6,1702.3 1322.6,1702.8 1325.6,1703.4 1328.6,1704.1 1331.6,1704.8 1334.6,1705.5 1337.6,1706.3 1340.6,1707.2 1343.6,1708.1 1346.6,1709.1 1349.6,1710.1 1352.6,1711.1 1355.6,1712.2 1358.6,1713.4 1361.6,1714.6 1364.6,1715.8 1367.6,1717.0 1370.6,1718.3 1373.6,1719.7 1376.6,1721.0 1379.6,1722.4 1382.6,1723.8 1385.6,1725.2 1388.6,1726.7 1391.6,1728.2 1394.6,1729.7 1397.6,1731.2 1400.6,1732.7 1403.6,1734.2 1406.6,1735.8 1409.6,1737.3 1412.6,1738.9 1415.6,1740.5 1418.6,1742.0 1421.6,1743.6 1424.6,1745.2 1427.6,1746.7 1430.6,1748.3 1433.6,1749.8 1436.6,1751.4 1439.6,1752.9 1442.6,1754.4 1445.6,1755.9 1448.6,1757.4 1451.6,1758.9 1454.6,1760.3 1457.6,1761.8 1460.6,1763.2 1463.6,1764.6 1466.6,1766.0 1469.6,1767.3 1472.6,1768.6 1475.6,1770.0 1478.6,1771.2 1481.6,1772.5 1484.6,1773.7 1487.6,1774.9 1490.6,1776.1 1493.6,1777.3 1496.6,1778.4 1499.6,1779.5 1502.6,1780.6 1505.6,1781.6 1508.6,1782.6 1511.6,1783.6 1514.6,1784.6 1517.6,1785.5 1520.6,1786.4 1523.6,1787.3 1526.6,1788.1 1529.6,1788.9 1532.6,1789.7 1535.6,1790.5 1538.6,1791.2 1541.6,1791.9 1544.6,1792.6 1547.6,1793.3 1550.6,1793.9 1553.6,1794.5 1556.6,1795.1 1559.6,1795.7 1562.6,1796.2 1565.6,1796.7 1568.6,1797.2 1571.6,1797.7 1574.6,1798.1 1577.6,1798.6 1580.6,1799.0 1583.6,1799.4 1586.6,1799.8 1589.6,1800.1 1592.6,1800.4 1595.0,1800.7 1595.0,1806.6" fill="#B79F00" fill-opacity="0.5"/>
<polyline points="1091.6,1779.1 1094.6,1778.0 1097.6,1776.8 1100.6,1775.7 1103.6,1774.5 1106.6,1773.3 1109.6,1772.0 1112.6,1770.8 1115.6,1769.5 1118.6,1768.1 1121.6,1766.8 1124.6,1765.4 1127.6,1764.0 1130.6,1762.6 1133.6,1761.2 1136.6,1759.8 1139.6,1758.3 1142.6,1756.8 1145.6,1755.3 1148.6,1753.8 1151.6,1752.3 1154.6,1750.8 1157.6,1749.2 1160.6,1747.7 1163.6,1746.1 1166.6,1744.5 1169.6,1743.0 1172.6,1741.4 1175.6,1739.8 1178.6,1738.3 1181.6,1736.7 1184.6,1735.2 1187.6,1733.6 1190.6,1732.1 1193.6,1730.6 1196.6,1729.1 1199.6,1727.6 1202.6,1726.1 1205.6,1724.7 1208.6,1723.2 1211.6,1721.8 1214.6,1720.5 1217.6,1719.1 1220.6,1717.8 1223.6,1716.5 1226.6,1715.3 1229.6,1714.1 1232.6,1712.9 1235.6,1711.8 1238.6,1710.7 1241.6,1709.7 1244.6,1708.7 1247.6,1707.7 1250.6,1706.8 1253.6,1706.0 1256.6,1705.2 1259.6,1704.5 1262.6,1703.8 1265.6,1703.2 1268.6,1702.6 1271.6,1702.1 1274.6,1701.6 1277.6,1701.2 1280.6,1700.9 1283.6,1700.7 1286.6,1700.4 1289.6,1700.3 1292.6,1700.2 1295.6,1700.2 1298.6,1700.2 1301.6,1700.4 1304.6,1700.5 1307.6,1700.8 1310.6,1701.0 1313.6,1701.4 1316.6,1701.8 1319.6,1702.3 1322.6,1702.8 1325.6,1703.4 1328.6,1704.1 1331.6,1704.8 1334.6,1705.5 1337.6,1706.3 1340.6,1707.2 1343.6,1708.1 1346.6,1709.1 1349.6,1710.1 1352.6,1711.1 1355.6,1712.2 1358.6,1713.4 1361.6,1714.6 1364.6,1715.8 1367.6,1717.0 1370.6,1718.3 1373.6,1719.7 1376.6,1721.0 1379.6,1722.4 1382.6,1723.8 1385.6,1725.2 1388.6,1726.7 1391.6,1728.2 1394.6,1729.7 1397.6,1731.2 1400.6,1732.7 1403.6,1734.2 1406.6,1735.8 1409.6,1737.3 1412.6,1738.9 1415.6,1740.5 1418.6,1742.0 1421.6,1743.6 1424.6,1745.2 1427.6,1746.7 1430.6,1748.3 1433.6,1749.8 1436.6,1751.4 1439.6,1752.9 1442.6,1754.4 1445.6,1755.9 1448.6,1757.4 1451.6,1758.9 1454.6,1760.3 1457.6,1761.8 1460.6,1763.2 1463.6,1764.6 1466.6,1766.0 1469.6,1767.3 1472.6,1768.6 1475.6,1770.0 1478.6,1771.2 1481.6,1772.5 1484.6,1773.7 1487.6,1774.9 1490.6,1776.1 1493.6,1777.3 1496.6,1778.4 1499.6,1779.5 1502.6,1780.6 1505.6,1781.6 1508.6,1782.6 1511.6,1783.6 1514.6,1784.6 1517.6,1785.5 1520.6,1786.4 1523.6,1787.3 1526.6,1788.1 1529.6,1788.9 1532.6,1789.7 1535.6,1790.5 1538.6,1791.2 1541.6,1791.9 1544.6,1792.6 1547.6,1793.3 1550.6,1793.9 1553.6,1794.5 1556.6,1795.1 1559.6,1795.7 1562.6,1796.2 1565.6,1796.7 1568.6,1797.2 1571.6,1797.7 1574.6,1798.1 1577.6,1798.6 1580.6,1799.0 1583.6,1799.4 1586.6,1799.8 1589.6,1800.1 1592.6,1800.4 1595.0,1800.7" fill="none" stroke="#000" stroke-width="4.0" stroke-linejoin="round"/>
<g fill="url(#pg)"><circle cx="1295.0" cy="1813.2" r="7.85"/><circle cx="1295.0" cy="1815.4" r="7.85"/><circle cx="1295.0" cy="1816.8" r="7.85"/><circle cx="1295.0" cy="1817.7" r="7.85"/><circle cx="1295.0" cy="1819.6" r="7.85"/><circle cx="1295.0" cy="1821.2" r="7.85"/><circle cx="1295.0" cy="1822.0" r="7.85"/><circle cx="1295.0" cy="1823.7" r="7.85"/><circle cx="1295.0" cy="1825.5" r="7.85"/><circle cx="1295.0" cy="1826.5" r="7.85"/><circle cx="1295.0" cy="1828.5" r="7.85"/><circle cx="1295.0" cy="1829.5" r="7.85"/><circle cx="1295.0" cy="1831.4" r="7.85"/><circle cx="1295.0" cy="1832.4" r="7.85"/><circle cx="1295.0" cy="1834.1" r="7.85"/><circle cx="1295.0" cy="1835.9" r="7.85"/><circle cx="1295.0" cy="1836.8" r="7.85"/><circle cx="1295.0" cy="1838.3" r="7.85"/><circle cx="1295.0" cy="1840.0" r="7.85"/><circle cx="1295.0" cy="1841.3" r="7.85"/><circle cx="1295.0" cy="1842.6" r="7.85"/><circle cx="1295.0" cy="1844.1" r="7.85"/><circle cx="1295.0" cy="1845.6" r="7.85"/><circle cx="1295.0" cy="1847.6" r="7.85"/><circle cx="1295.0" cy="1848.9" r="7.85"/><circle cx="1295.0" cy="1850.5" r="7.85"/><circle cx="1295.0" cy="1851.5" r="7.85"/><circle cx="1295.0" cy="1853.4" r="7.85"/><circle cx="1295.0" cy="1854.4" r="7.85"/><circle cx="1295.0" cy="1856.1" r="7.85"/><circle cx="1295.0" cy="1857.7" r="7.85"/><circle cx="1295.0" cy="1859.4" r="7.85"/><circle cx="1877.1" cy="1843.9" r="7.85"/></g>
<polygon points="1091.6,1923.7 1091.6,1910.8 1094.6,1910.3 1097.6,1909.8 1100.6,1909.2 1103.6,1908.7 1106.6,1908.1 1109.6,1907.5 1112.6,1906.9 1115.6,1906.3 1118.6,1905.7 1121.6,1905.1 1124.6,1904.4 1127.6,1903.8 1130.6,1903.1 1133.6,1902.4 1136.6,1901.8 1139.6,1901.1 1142.6,1900.4 1145.6,1899.7 1148.6,1899.0 1151.6,1898.3 1154.6,1897.6 1157.6,1896.8 1160.6,1896.1 1163.6,1895.4 1166.6,1894.6 1169.6,1893.9 1172.6,1893.2 1175.6,1892.4 1178.6,1891.7 1181.6,1891.0 1184.6,1890.2 1187.6,1889.5 1190.6,1888.8 1193.6,1888.1 1196.6,1887.4 1199.6,1886.7 1202.6,1886.0 1205.6,1885.3 1208.6,1884.6 1211.6,1884.0 1214.6,1883.3 1217.6,1882.7 1220.6,1882.1 1223.6,1881.5 1226.6,1880.9 1229.6,1880.3 1232.6,1879.8 1235.6,1879.2 1238.6,1878.7 1241.6,1878.2 1244.6,1877.7 1247.6,1877.3 1250.6,1876.9 1253.6,1876.5 1256.6,1876.1 1259.6,1875.7 1262.6,1875.4 1265.6,1875.1 1268.6,1874.8 1271.6,1874.5 1274.6,1874.3 1277.6,1874.1 1280.6,1873.9 1283.6,1873.8 1286.6,1873.7 1289.6,1873.6 1292.6,1873.5 1295.6,1873.5 1298.6,1873.5 1301.6,1873.5 1304.6,1873.6 1307.6,1873.6 1310.6,1873.8 1313.6,1873.9 1316.6,1874.0 1319.6,1874.2 1322.6,1874.4 1325.6,1874.7 1328.6,1874.9 1331.6,1875.2 1334.6,1875.5 1337.6,1875.9 1340.6,1876.2 1343.6,1876.6 1346.6,1877.0 1349.6,1877.4 1352.6,1877.9 1355.6,1878.3 1358.6,1878.8 1361.6,1879.3 1364.6,1879.8 1367.6,1880.3 1370.6,1880.8 1373.6,1881.4 1376.6,1881.9 1379.6,1882.5 1382.6,1883.1 1385.6,1883.7 1388.6,1884.2 1391.6,1884.8 1394.6,1885.4 1397.6,1886.1 1400.6,1886.7 1403.6,1887.3 1406.6,1887.9 1409.6,1888.5 1412.6,1889.1 1415.6,1889.7 1418.6,1890.3 1421.6,1890.9 1424.6,1891.5 1427.6,1892.1 1430.6,1892.7 1433.6,1893.3 1436.6,1893.8 1439.6,1894.4 1442.6,1894.9 1445.6,1895.5 1448.6,1896.0 1451.6,1896.5 1454.6,1897.0 1457.6,1897.5 1460.6,1898.0 1463.6,1898.4 1466.6,1898.9 1469.6,1899.3 1472.6,1899.7 1475.6,1900.1 1478.6,1900.5 1481.6,1900.8 1484.6,1901.2 1487.6,1901.5 1490.6,1901.8 1493.6,1902.1 1496.6,1902.4 1499.6,1902.6 1502.6,1902.9 1505.6,1903.1 1508.6,1903.3 1511.6,1903.5 1514.6,1903.6 1517.6,1903.8 1520.6,1903.9 1523.6,1904.0 1526.6,1904.1 1529.6,1904.2 1532.6,1904.2 1535.6,1904.3 1538.6,1904.3 1541.6,1904.3 1544.6,1904.3 1547.6,1904.3 1550.6,1904.2 1553.6,1904.1 1556.6,1904.1 1559.6,1904.0 1562.6,1903.9 1565.6,1903.7 1568.6,1903.6 1571.6,1903.4 1574.6,1903.3 1577.6,1903.1 1580.6,1902.9 1583.6,1902.7 1586.6,1902.5 1589.6,1902.2 1592.6,1902.0 1595.6,1901.8 1598.6,1901.5 1601.6,1901.2 1604.6,1900.9 1607.6,1900.7 1610.6,1900.4 1613.6,1900.1 1616.6,1899.7 1619.6,1899.4 1622.6,1899.1 1625.6,1898.8 1628.6,1898.4 1631.6,1898.1 1634.6,1897.8 1637.6,1897.4 1640.6,1897.0 1643.6,1896.7 1646.6,1896.3 1649.6,1896.0 1652.6,1895.6 1655.6,1895.2 1658.6,1894.9 1661.6,1894.5 1664.6,1894.1 1667.6,1893.8 1670.6,1893.4 1673.6,1893.1 1676.6,1892.7 1679.6,1892.3 1682.6,1892.0 1685.6,1891.6 1688.6,1891.3 1691.6,1890.9 1694.6,1890.6 1697.6,1890.3 1700.6,1889.9 1703.6,1889.6 1706.6,1889.3 1709.6,1889.0 1712.6,1888.7 1715.6,1888.4 1718.6,1888.1 1721.6,1887.8 1724.6,1887.5 1727.6,1887.2 1730.6,1887.0 1733.6,1886.7 1736.6,1886.5 1739.6,1886.3 1742.6,1886.0 1745.6,1885.8 1748.6,1885.6 1751.6,1885.4 1754.6,1885.2 1757.6,1885.1 1760.6,1884.9 1763.6,1884.7 1766.6,1884.6 1769.6,1884.5 1772.6,1884.3 1775.6,1884.2 1778.6,1884.1 1781.6,1884.0 1784.6,1883.9 1787.6,1883.9 1790.6,1883.8 1793.6,1883.8 1796.6,1883.7 1799.6,1883.7 1802.6,1883.7 1805.6,1883.7 1808.6,1883.7 1811.6,1883.7 1814.6,1883.8 1817.6,1883.8 1820.6,1883.8 1823.6,1883.9 1826.6,1884.0 1829.6,1884.1 1832.6,1884.1 1835.6,1884.2 1838.6,1884.4 1841.6,1884.5 1844.6,1884.6 1847.6,1884.7 1850.6,1884.9 1853.6,1885.0 1856.6,1885.2 1859.6,1885.4 1862.6,1885.5 1865.6,1885.7 1868.6,1885.9 1871.6,1886.1 1874.6,1886.3 1877.6,1886.6 1880.6,1886.8 1883.6,1887.0 1886.6,1887.2 1889.6,1887.5 1892.6,1887.7 1895.6,1888.0 1898.6,1888.2 1901.6,1888.5 1904.6,1888.8 1907.6,1889.0 1910.6,1889.3 1913.6,1889.6 1916.6,1889.9 1919.6,1890.2 1922.6,1890.5 1925.6,1890.7 1928.6,1891.0 1931.6,1891.3 1934.6,1891.7 1937.6,1892.0 1940.6,1892.3 1943.6,1892.6 1946.6,1892.9 1949.6,1893.2 1952.6,1893.5 1955.6,1893.8 1958.6,1894.2 1961.6,1894.5 1964.6,1894.8 1967.6,1895.1 1970.6,1895.5 1973.6,1895.8 1976.6,1896.1 1979.6,1896.5 1982.6,1896.8 1985.6,1897.1 1988.6,1897.5 1991.6,1897.8 1994.6,1898.1 1997.6,1898.5 2000.6,1898.8 2003.6,1899.1 2006.6,1899.5 2009.6,1899.8 2012.6,1900.1 2015.6,1900.4 2018.6,1900.8 2021.6,1901.1 2024.6,1901.4 2027.6,1901.8 2030.6,1902.1 2033.6,1902.4 2036.6,1902.8 2039.6,1903.1 2042.6,1903.4 2045.6,1903.7 2048.6,1904.1 2051.6,1904.4 2054.6,1904.7 2057.6,1905.0 2060.6,1905.4 2063.6,1905.7 2066.6,1906.0 2069.6,1906.3 2072.6,1906.6 2075.6,1906.9 2078.6,1907.2 2081.6,1907.5 2084.6,1907.9 2087.6,1908.2 2090.6,1908.5 2093.6,1908.8 2096.6,1909.1 2099.6,1909.4 2102.6,1909.7 2105.6,1909.9 2108.6,1910.2 2111.6,1910.5 2114.6,1910.8 2117.6,1911.1 2120.6,1911.4 2123.6,1911.6 2126.6,1911.9 2129.6,1912.2 2132.6,1912.5 2135.6,1912.7 2138.6,1913.0 2141.6,1913.2 2144.6,1913.5 2147.6,1913.8 2150.6,1914.0 2153.6,1914.2 2156.6,1914.5 2159.6,1914.7 2162.6,1915.0 2165.6,1915.2 2168.6,1915.4 2171.6,1915.7 2174.6,1915.9 2177.6,1916.1 2180.6,1916.3 2183.6,1916.5 2186.6,1916.7 2189.6,1916.9 2192.6,1917.1 2195.6,1917.3 2198.6,1917.5 2200.0,1917.6 2200.0,1923.7" fill="#D39200" fill-opacity="0.5"/>
<polyline points="1091.6,1910.8 1094.6,1910.3 1097.6,1909.8 1100.6,1909.2 1103.6,1908.7 1106.6,1908.1 1109.6,1907.5 1112.6,1906.9 1115.6,1906.3 1118.6,1905.7 1121.6,1905.1 1124.6,1904.4 1127.6,1903.8 1130.6,1903.1 1133.6,1902.4 1136.6,1901.8 1139.6,1901.1 1142.6,1900.4 1145.6,1899.7 1148.6,1899.0 1151.6,1898.3 1154.6,1897.6 1157.6,1896.8 1160.6,1896.1 1163.6,1895.4 1166.6,1894.6 1169.6,1893.9 1172.6,1893.2 1175.6,1892.4 1178.6,1891.7 1181.6,1891.0 1184.6,1890.2 1187.6,1889.5 1190.6,1888.8 1193.6,1888.1 1196.6,1887.4 1199.6,1886.7 1202.6,1886.0 1205.6,1885.3 1208.6,1884.6 1211.6,1884.0 1214.6,1883.3 1217.6,1882.7 1220.6,1882.1 1223.6,1881.5 1226.6,1880.9 1229.6,1880.3 1232.6,1879.8 1235.6,1879.2 1238.6,1878.7 1241.6,1878.2 1244.6,1877.7 1247.6,1877.3 1250.6,1876.9 1253.6,1876.5 1256.6,1876.1 1259.6,1875.7 1262.6,1875.4 1265.6,1875.1 1268.6,1874.8 1271.6,1874.5 1274.6,1874.3 1277.6,1874.1 1280.6,1873.9 1283.6,1873.8 1286.6,1873.7 1289.6,1873.6 1292.6,1873.5 1295.6,1873.5 1298.6,1873.5 1301.6,1873.5 1304.6,1873.6 1307.6,1873.6 1310.6,1873.8 1313.6,1873.9 1316.6,1874.0 1319.6,1874.2 1322.6,1874.4 1325.6,1874.7 1328.6,1874.9 1331.6,1875.2 1334.6,1875.5 1337.6,1875.9 1340.6,1876.2 1343.6,1876.6 1346.6,1877.0 1349.6,1877.4 1352.6,1877.9 1355.6,1878.3 1358.6,1878.8 1361.6,1879.3 1364.6,1879.8 1367.6,1880.3 1370.6,1880.8 1373.6,1881.4 1376.6,1881.9 1379.6,1882.5 1382.6,1883.1 1385.6,1883.7 1388.6,1884.2 1391.6,1884.8 1394.6,1885.4 1397.6,1886.1 1400.6,1886.7 1403.6,1887.3 1406.6,1887.9 1409.6,1888.5 1412.6,1889.1 1415.6,1889.7 1418.6,1890.3 1421.6,1890.9 1424.6,1891.5 1427.6,1892.1 1430.6,1892.7 1433.6,1893.3 1436.6,1893.8 1439.6,1894.4 1442.6,1894.9 1445.6,1895.5 1448.6,1896.0 1451.6,1896.5 1454.6,1897.0 1457.6,1897.5 1460.6,1898.0 1463.6,1898.4 1466.6,1898.9 1469.6,1899.3 1472.6,1899.7 1475.6,1900.1 1478.6,1900.5 1481.6,1900.8 1484.6,1901.2 1487.6,1901.5 1490.6,1901.8 1493.6,1902.1 1496.6,1902.4 1499.6,1902.6 1502.6,1902.9 1505.6,1903.1 1508.6,1903.3 1511.6,1903.5 1514.6,1903.6 1517.6,1903.8 1520.6,1903.9 1523.6,1904.0 1526.6,1904.1 1529.6,1904.2 1532.6,1904.2 1535.6,1904.3 1538.6,1904.3 1541.6,1904.3 1544.6,1904.3 1547.6,1904.3 1550.6,1904.2 1553.6,1904.1 1556.6,1904.1 1559.6,1904.0 1562.6,1903.9 1565.6,1903.7 1568.6,1903.6 1571.6,1903.4 1574.6,1903.3 1577.6,1903.1 1580.6,1902.9 1583.6,1902.7 1586.6,1902.5 1589.6,1902.2 1592.6,1902.0 1595.6,1901.8 1598.6,1901.5 1601.6,1901.2 1604.6,1900.9 1607.6,1900.7 1610.6,1900.4 1613.6,1900.1 1616.6,1899.7 1619.6,1899.4 1622.6,1899.1 1625.6,1898.8 1628.6,1898.4 1631.6,1898.1 1634.6,1897.8 1637.6,1897.4 1640.6,1897.0 1643.6,1896.7 1646.6,1896.3 1649.6,1896.0 1652.6,1895.6 1655.6,1895.2 1658.6,1894.9 1661.6,1894.5 1664.6,1894.1 1667.6,1893.8 1670.6,1893.4 1673.6,1893.1 1676.6,1892.7 1679.6,1892.3 1682.6,1892.0 1685.6,1891.6 1688.6,1891.3 1691.6,1890.9 1694.6,1890.6 1697.6,1890.3 1700.6,1889.9 1703.6,1889.6 1706.6,1889.3 1709.6,1889.0 1712.6,1888.7 1715.6,1888.4 1718.6,1888.1 1721.6,1887.8 1724.6,1887.5 1727.6,1887.2 1730.6,1887.0 1733.6,1886.7 1736.6,1886.5 1739.6,1886.3 1742.6,1886.0 1745.6,1885.8 1748.6,1885.6 1751.6,1885.4 1754.6,1885.2 1757.6,1885.1 1760.6,1884.9 1763.6,1884.7 1766.6,1884.6 1769.6,1884.5 1772.6,1884.3 1775.6,1884.2 1778.6,1884.1 1781.6,1884.0 1784.6,1883.9 1787.6,1883.9 1790.6,1883.8 1793.6,1883.8 1796.6,1883.7 1799.6,1883.7 1802.6,1883.7 1805.6,1883.7 1808.6,1883.7 1811.6,1883.7 1814.6,1883.8 1817.6,1883.8 1820.6,1883.8 1823.6,1883.9 1826.6,1884.0 1829.6,1884.1 1832.6,1884.1 1835.6,1884.2 1838.6,1884.4 1841.6,1884.5 1844.6,1884.6 1847.6,1884.7 1850.6,1884.9 1853.6,1885.0 1856.6,1885.2 1859.6,1885.4 1862.6,1885.5 1865.6,1885.7 1868.6,1885.9 1871.6,1886.1 1874.6,1886.3 1877.6,1886.6 1880.6,1886.8 1883.6,1887.0 1886.6,1887.2 1889.6,1887.5 1892.6,1887.7 1895.6,1888.0 1898.6,1888.2 1901.6,1888.5 1904.6,1888.8 1907.6,1889.0 1910.6,1889.3 1913.6,1889.6 1916.6,1889.9 1919.6,1890.2 1922.6,1890.5 1925.6,1890.7 1928.6,1891.0 1931.6,1891.3 1934.6,1891.7 1937.6,1892.0 1940.6,1892.3 1943.6,1892.6 1946.6,1892.9 1949.6,1893.2 1952.6,1893.5 1955.6,1893.8 1958.6,1894.2 1961.6,1894.5 1964.6,1894.8 1967.6,1895.1 1970.6,1895.5 1973.6,1895.8 1976.6,1896.1 1979.6,1896.5 1982.6,1896.8 1985.6,1897.1 1988.6,1897.5 1991.6,1897.8 1994.6,1898.1 1997.6,1898.5 2000.6,1898.8 2003.6,1899.1 2006.6,1899.5 2009.6,1899.8 2012.6,1900.1 2015.6,1900.4 2018.6,1900.8 2021.6,1901.1 2024.6,1901.4 2027.6,1901.8 2030.6,1902.1 2033.6,1902.4 2036.6,1902.8 2039.6,1903.1 2042.6,1903.4 2045.6,1903.7 2048.6,1904.1 2051.6,1904.4 2054.6,1904.7 2057.6,1905.0 2060.6,1905.4 2063.6,1905.7 2066.6,1906.0 2069.6,1906.3 2072.6,1906.6 2075.6,1906.9 2078.6,1907.2 2081.6,1907.5 2084.6,1907.9 2087.6,1908.2 2090.6,1908.5 2093.6,1908.8 2096.6,1909.1 2099.6,1909.4 2102.6,1909.7 2105.6,1909.9 2108.6,1910.2 2111.6,1910.5 2114.6,1910.8 2117.6,1911.1 2120.6,1911.4 2123.6,1911.6 2126.6,1911.9 2129.6,1912.2 2132.6,1912.5 2135.6,1912.7 2138.6,1913.0 2141.6,1913.2 2144.6,1913.5 2147.6,1913.8 2150.6,1914.0 2153.6,1914.2 2156.6,1914.5 2159.6,1914.7 2162.6,1915.0 2165.6,1915.2 2168.6,1915.4 2171.6,1915.7 2174.6,1915.9 2177.6,1916.1 2180.6,1916.3 2183.6,1916.5 2186.6,1916.7 2189.6,1916.9 2192.6,1917.1 2195.6,1917.3 2198.6,1917.5 2200.0,1917.6" fill="none" stroke="#000" stroke-width="4.0" stroke-linejoin="round"/>
<g fill="url(#pg)"><circle cx="1295.0" cy="1930.3" r="7.85"/><circle cx="1295.0" cy="1931.4" r="7.85"/><circle cx="1295.0" cy="1932.2" r="7.85"/><circle cx="1295.0" cy="1933.2" r="7.85"/><circle cx="1295.0" cy="1933.7" r="7.85"/><circle cx="1295.0" cy="1934.9" r="7.85"/><circle cx="1295.0" cy="1935.6" r="7.85"/><circle cx="1295.0" cy="1936.3" r="7.85"/><circle cx="1295.0" cy="1937.3" r="7.85"/><circle cx="1295.0" cy="1937.9" r="7.85"/><circle cx="1295.0" cy="1939.0" r="7.85"/><circle cx="1295.0" cy="1939.7" r="7.85"/><circle cx="1295.0" cy="1940.4" r="7.85"/><circle cx="1295.0" cy="1941.4" r="7.85"/><circle cx="1295.0" cy="1942.1" r="7.85"/><circle cx="1295.0" cy="1942.9" r="7.85"/><circle cx="1295.0" cy="1943.9" r="7.85"/><circle cx="1295.0" cy="1944.5" r="7.85"/><circle cx="1295.0" cy="1945.6" r="7.85"/><circle cx="1295.0" cy="1946.2" r="7.85"/><circle cx="1295.0" cy="1947.2" r="7.85"/><circle cx="1295.0" cy="1948.2" r="7.85"/><circle cx="1295.0" cy="1948.9" r="7.85"/><circle cx="1295.0" cy="1949.7" r="7.85"/><circle cx="1295.0" cy="1950.4" r="7.85"/><circle cx="1295.0" cy="1951.1" r="7.85"/><circle cx="1295.0" cy="1952.0" r="7.85"/><circle cx="1295.0" cy="1952.8" r="7.85"/><circle cx="1295.0" cy="1953.9" r="7.85"/><circle cx="1295.0" cy="1954.6" r="7.85"/><circle cx="1295.0" cy="1955.5" r="7.85"/><circle cx="1295.0" cy="1956.5" r="7.85"/><circle cx="1295.0" cy="1957.0" r="7.85"/><circle cx="1295.0" cy="1957.9" r="7.85"/><circle cx="1295.0" cy="1958.9" r="7.85"/><circle cx="1295.0" cy="1959.4" r="7.85"/><circle cx="1295.0" cy="1960.3" r="7.85"/><circle cx="1295.0" cy="1961.2" r="7.85"/><circle cx="1295.0" cy="1962.0" r="7.85"/><circle cx="1295.0" cy="1962.9" r="7.85"/><circle cx="1295.0" cy="1963.7" r="7.85"/><circle cx="1295.0" cy="1964.7" r="7.85"/><circle cx="1295.0" cy="1965.5" r="7.85"/><circle cx="1295.0" cy="1966.2" r="7.85"/><circle cx="1295.0" cy="1967.2" r="7.85"/><circle cx="1295.0" cy="1968.0" r="7.85"/><circle cx="1295.0" cy="1968.6" r="7.85"/><circle cx="1295.0" cy="1969.8" r="7.85"/><circle cx="1295.0" cy="1970.4" r="7.85"/><circle cx="1295.0" cy="1971.2" r="7.85"/><circle cx="1295.0" cy="1972.0" r="7.85"/><circle cx="1295.0" cy="1973.0" r="7.85"/><circle cx="1295.0" cy="1973.9" r="7.85"/><circle cx="1295.0" cy="1974.7" r="7.85"/><circle cx="1295.0" cy="1975.4" r="7.85"/><circle cx="1295.0" cy="1976.5" r="7.85"/><circle cx="1538.0" cy="1970.9" r="7.85"/><circle cx="1576.9" cy="1964.7" r="7.85"/><circle cx="1588.9" cy="1954.8" r="7.85"/><circle cx="1601.8" cy="1949.8" r="7.85"/><circle cx="1613.2" cy="1933.6" r="7.85"/><circle cx="1622.9" cy="1969.9" r="7.85"/><circle cx="1649.8" cy="1962.0" r="7.85"/><circle cx="1676.7" cy="1959.5" r="7.85"/><circle cx="1681.5" cy="1965.7" r="7.85"/><circle cx="1689.2" cy="1973.6" r="7.85"/><circle cx="1685.6" cy="1935.7" r="7.85"/><circle cx="1702.6" cy="1943.6" r="7.85"/><circle cx="1700.1" cy="1947.7" r="7.85"/><circle cx="1714.6" cy="1951.9" r="7.85"/><circle cx="1720.8" cy="1950.6" r="7.85"/><circle cx="1719.4" cy="1930.5" r="7.85"/><circle cx="1730.8" cy="1934.0" r="7.85"/><circle cx="1736.8" cy="1961.6" r="7.85"/><circle cx="1748.8" cy="1967.8" r="7.85"/><circle cx="1754.0" cy="1966.8" r="7.85"/><circle cx="1759.8" cy="1959.5" r="7.85"/><circle cx="1751.9" cy="1939.8" r="7.85"/><circle cx="1753.5" cy="1946.1" r="7.85"/><circle cx="1763.9" cy="1941.9" r="7.85"/><circle cx="1767.4" cy="1944.0" r="7.85"/><circle cx="1769.5" cy="1943.0" r="7.85"/><circle cx="1768.4" cy="1949.2" r="7.85"/><circle cx="1785.6" cy="1941.9" r="7.85"/><circle cx="1788.7" cy="1937.8" r="7.85"/><circle cx="1797.0" cy="1959.5" r="7.85"/><circle cx="1795.4" cy="1966.8" r="7.85"/><circle cx="1792.9" cy="1975.0" r="7.85"/><circle cx="1804.7" cy="1976.1" r="7.85"/><circle cx="1812.5" cy="1940.9" r="7.85"/><circle cx="1819.8" cy="1929.5" r="7.85"/><circle cx="1835.1" cy="1935.7" r="7.85"/><circle cx="1823.3" cy="1948.7" r="7.85"/><circle cx="1829.1" cy="1948.7" r="7.85"/><circle cx="1817.7" cy="1961.6" r="7.85"/><circle cx="1825.4" cy="1968.4" r="7.85"/><circle cx="1828.5" cy="1970.9" r="7.85"/><circle cx="1829.1" cy="1976.7" r="7.85"/><circle cx="1846.1" cy="1954.3" r="7.85"/><circle cx="1851.3" cy="1945.6" r="7.85"/><circle cx="1848.2" cy="1959.5" r="7.85"/><circle cx="1851.3" cy="1963.7" r="7.85"/><circle cx="1872.0" cy="1973.6" r="7.85"/><circle cx="1877.8" cy="1932.6" r="7.85"/><circle cx="1910.7" cy="1938.8" r="7.85"/><circle cx="1925.9" cy="1933.0" r="7.85"/><circle cx="1928.0" cy="1932.2" r="7.85"/><circle cx="1922.8" cy="1946.1" r="7.85"/><circle cx="1936.2" cy="1950.6" r="7.85"/><circle cx="1933.1" cy="1968.4" r="7.85"/><circle cx="1955.9" cy="1962.6" r="7.85"/><circle cx="1971.8" cy="1944.6" r="7.85"/><circle cx="1997.3" cy="1954.3" r="7.85"/><circle cx="1998.6" cy="1956.4" r="7.85"/><circle cx="1996.3" cy="1961.6" r="7.85"/><circle cx="1993.2" cy="1969.2" r="7.85"/><circle cx="1985.9" cy="1973.6" r="7.85"/><circle cx="2018.0" cy="1965.7" r="7.85"/><circle cx="2029.4" cy="1953.7" r="7.85"/><circle cx="2031.5" cy="1952.3" r="7.85"/><circle cx="2033.5" cy="1951.4" r="7.85"/><circle cx="2079.1" cy="1935.7" r="7.85"/><circle cx="2096.1" cy="1945.6" r="7.85"/><circle cx="2131.9" cy="1947.1" r="7.85"/><circle cx="2132.7" cy="1947.3" r="7.85"/></g>
<polygon points="1091.6,2040.8 1091.6,2030.4 1094.6,2030.0 1097.6,2029.6 1100.6,2029.1 1103.6,2028.7 1106.6,2028.2 1109.6,2027.7 1112.6,2027.2 1115.6,2026.8 1118.6,2026.3 1121.6,2025.7 1124.6,2025.2 1127.6,2024.7 1130.6,2024.2 1133.6,2023.6 1136.6,2023.1 1139.6,2022.5 1142.6,2022.0 1145.6,2021.4 1148.6,2020.8 1151.6,2020.2 1154.6,2019.7 1157.6,2019.1 1160.6,2018.5 1163.6,2017.9 1166.6,2017.3 1169.6,2016.7 1172.6,2016.1 1175.6,2015.5 1178.6,2014.9 1181.6,2014.3 1184.6,2013.7 1187.6,2013.1 1190.6,2012.5 1193.6,2011.9 1196.6,2011.4 1199.6,2010.8 1202.6,2010.2 1205.6,2009.7 1208.6,2009.1 1211.6,2008.6 1214.6,2008.0 1217.6,2007.5 1220.6,2007.0 1223.6,2006.5 1226.6,2006.0 1229.6,2005.5 1232.6,2005.1 1235.6,2004.6 1238.6,2004.2 1241.6,2003.8 1244.6,2003.4 1247.6,2003.0 1250.6,2002.7 1253.6,2002.3 1256.6,2002.0 1259.6,2001.7 1262.6,2001.4 1265.6,2001.1 1268.6,2000.9 1271.6,2000.6 1274.6,2000.4 1277.6,2000.2 1280.6,2000.1 1283.6,1999.9 1286.6,1999.8 1289.6,1999.7 1292.6,1999.6 1295.6,1999.6 1298.6,1999.6 1301.6,1999.5 1304.6,1999.6 1307.6,1999.6 1310.6,1999.6 1313.6,1999.7 1316.6,1999.8 1319.6,1999.9 1322.6,2000.1 1325.6,2000.2 1328.6,2000.4 1331.6,2000.6 1334.6,2000.8 1337.6,2001.1 1340.6,2001.3 1343.6,2001.6 1346.6,2001.9 1349.6,2002.2 1352.6,2002.5 1355.6,2002.8 1358.6,2003.1 1361.6,2003.5 1364.6,2003.9 1367.6,2004.3 1370.6,2004.7 1373.6,2005.1 1376.6,2005.5 1379.6,2005.9 1382.6,2006.3 1385.6,2006.8 1388.6,2007.2 1391.6,2007.7 1394.6,2008.1 1397.6,2008.6 1400.6,2009.0 1403.6,2009.5 1406.6,2010.0 1409.6,2010.4 1412.6,2010.9 1415.6,2011.4 1418.6,2011.9 1421.6,2012.3 1424.6,2012.8 1427.6,2013.3 1430.6,2013.7 1433.6,2014.2 1436.6,2014.6 1439.6,2015.1 1442.6,2015.5 1445.6,2015.9 1448.6,2016.4 1451.6,2016.8 1454.6,2017.2 1457.6,2017.6 1460.6,2018.0 1463.6,2018.4 1466.6,2018.7 1469.6,2019.1 1472.6,2019.5 1475.6,2019.8 1478.6,2020.1 1481.6,2020.5 1484.6,2020.8 1487.6,2021.1 1490.6,2021.4 1493.6,2021.6 1496.6,2021.9 1499.6,2022.1 1502.6,2022.4 1505.6,2022.6 1508.6,2022.8 1511.6,2023.0 1514.6,2023.2 1517.6,2023.4 1520.6,2023.5 1523.6,2023.7 1526.6,2023.8 1529.6,2023.9 1532.6,2024.0 1535.6,2024.1 1538.6,2024.2 1541.6,2024.2 1544.6,2024.3 1547.6,2024.3 1550.6,2024.3 1553.6,2024.3 1556.6,2024.3 1559.6,2024.3 1562.6,2024.3 1565.6,2024.2 1568.6,2024.2 1571.6,2024.1 1574.6,2024.0 1577.6,2023.9 1580.6,2023.8 1583.6,2023.7 1586.6,2023.5 1589.6,2023.4 1592.6,2023.2 1595.6,2023.0 1598.6,2022.8 1601.6,2022.6 1604.6,2022.4 1607.6,2022.2 1610.6,2022.0 1613.6,2021.7 1616.6,2021.5 1619.6,2021.2 1622.6,2020.9 1625.6,2020.6 1628.6,2020.3 1631.6,2020.0 1634.6,2019.7 1637.6,2019.4 1640.6,2019.0 1643.6,2018.7 1646.6,2018.3 1649.6,2018.0 1652.6,2017.6 1655.6,2017.2 1658.6,2016.8 1661.6,2016.4 1664.6,2016.0 1667.6,2015.6 1670.6,2015.2 1673.6,2014.8 1676.6,2014.4 1679.6,2013.9 1682.6,2013.5 1685.6,2013.0 1688.6,2012.6 1691.6,2012.2 1694.6,2011.7 1697.6,2011.2 1700.6,2010.8 1703.6,2010.3 1706.6,2009.9 1709.6,2009.4 1712.6,2009.0 1715.6,2008.5 1718.6,2008.0 1721.6,2007.6 1724.6,2007.1 1727.6,2006.6 1730.6,2006.2 1733.6,2005.7 1736.6,2005.3 1739.6,2004.8 1742.6,2004.4 1745.6,2003.9 1748.6,2003.5 1751.6,2003.1 1754.6,2002.6 1757.6,2002.2 1760.6,2001.8 1763.6,2001.4 1766.6,2001.0 1769.6,2000.6 1772.6,2000.2 1775.6,1999.8 1778.6,1999.4 1781.6,1999.1 1784.6,1998.7 1787.6,1998.3 1790.6,1998.0 1793.6,1997.7 1796.6,1997.4 1799.6,1997.0 1802.6,1996.7 1805.6,1996.4 1808.6,1996.2 1811.6,1995.9 1814.6,1995.6 1817.6,1995.4 1820.6,1995.2 1823.6,1994.9 1826.6,1994.7 1829.6,1994.5 1832.6,1994.3 1835.6,1994.2 1838.6,1994.0 1841.6,1993.8 1844.6,1993.7 1847.6,1993.6 1850.6,1993.5 1853.6,1993.4 1856.6,1993.3 1859.6,1993.2 1862.6,1993.1 1865.6,1993.1 1868.6,1993.1 1871.6,1993.0 1874.6,1993.0 1877.6,1993.0 1880.6,1993.1 1883.6,1993.1 1886.6,1993.1 1889.6,1993.2 1892.6,1993.3 1895.6,1993.3 1898.6,1993.4 1901.6,1993.5 1904.6,1993.7 1907.6,1993.8 1910.6,1993.9 1913.6,1994.1 1916.6,1994.3 1919.6,1994.5 1922.6,1994.7 1925.6,1994.9 1928.6,1995.1 1931.6,1995.3 1934.6,1995.6 1937.6,1995.8 1940.6,1996.1 1943.6,1996.4 1946.6,1996.6 1949.6,1996.9 1952.6,1997.2 1955.6,1997.6 1958.6,1997.9 1961.6,1998.2 1964.6,1998.6 1967.6,1998.9 1970.6,1999.3 1973.6,1999.7 1976.6,2000.1 1979.6,2000.5 1982.6,2000.9 1985.6,2001.3 1988.6,2001.7 1991.6,2002.1 1994.6,2002.6 1997.6,2003.0 2000.6,2003.5 2003.6,2003.9 2006.6,2004.4 2009.6,2004.9 2012.6,2005.3 2015.6,2005.8 2018.6,2006.3 2021.6,2006.8 2024.6,2007.3 2027.6,2007.8 2030.6,2008.3 2033.6,2008.8 2036.6,2009.3 2039.6,2009.8 2042.6,2010.3 2045.6,2010.8 2048.6,2011.4 2051.6,2011.9 2054.6,2012.4 2057.6,2012.9 2060.6,2013.4 2063.6,2014.0 2066.6,2014.5 2069.6,2015.0 2072.6,2015.5 2075.6,2016.1 2078.6,2016.6 2081.6,2017.1 2084.6,2017.6 2087.6,2018.1 2090.6,2018.6 2093.6,2019.2 2096.6,2019.7 2099.6,2020.2 2102.6,2020.7 2105.6,2021.2 2108.6,2021.7 2111.6,2022.1 2114.6,2022.6 2117.6,2023.1 2120.6,2023.6 2123.6,2024.0 2126.6,2024.5 2129.6,2025.0 2132.6,2025.4 2135.6,2025.8 2138.6,2026.3 2141.6,2026.7 2144.6,2027.1 2147.6,2027.6 2150.6,2028.0 2153.6,2028.4 2156.6,2028.8 2159.6,2029.1 2162.6,2029.5 2165.6,2029.9 2168.6,2030.3 2171.6,2030.6 2174.6,2031.0 2177.6,2031.3 2180.6,2031.7 2183.6,2032.0 2186.6,2032.3 2189.6,2032.6 2192.6,2032.9 2195.6,2033.2 2198.6,2033.5 2201.6,2033.8 2204.6,2034.1 2207.6,2034.3 2210.6,2034.6 2213.6,2034.8 2216.6,2035.1 2217.6,2035.2 2217.6,2040.8" fill="#E88526" fill-opacity="0.5"/>
<polyline points="1091.6,2030.4 1094.6,2030.0 1097.6,2029.6 1100.6,2029.1 1103.6,2028.7 1106.6,2028.2 1109.6,2027.7 1112.6,2027.2 1115.6,2026.8 1118.6,2026.3 1121.6,2025.7 1124.6,2025.2 1127.6,2024.7 1130.6,2024.2 1133.6,2023.6 1136.6,2023.1 1139.6,2022.5 1142.6,2022.0 1145.6,2021.4 1148.6,2020.8 1151.6,2020.2 1154.6,2019.7 1157.6,2019.1 1160.6,2018.5 1163.6,2017.9 1166.6,2017.3 1169.6,2016.7 1172.6,2016.1 1175.6,2015.5 1178.6,2014.9 1181.6,2014.3 1184.6,2013.7 1187.6,2013.1 1190.6,2012.5 1193.6,2011.9 1196.6,2011.4 1199.6,2010.8 1202.6,2010.2 1205.6,2009.7 1208.6,2009.1 1211.6,2008.6 1214.6,2008.0 1217.6,2007.5 1220.6,2007.0 1223.6,2006.5 1226.6,2006.0 1229.6,2005.5 1232.6,2005.1 1235.6,2004.6 1238.6,2004.2 1241.6,2003.8 1244.6,2003.4 1247.6,2003.0 1250.6,2002.7 1253.6,2002.3 1256.6,2002.0 1259.6,2001.7 1262.6,2001.4 1265.6,2001.1 1268.6,2000.9 1271.6,2000.6 1274.6,2000.4 1277.6,2000.2 1280.6,2000.1 1283.6,1999.9 1286.6,1999.8 1289.6,1999.7 1292.6,1999.6 1295.6,1999.6 1298.6,1999.6 1301.6,1999.5 1304.6,1999.6 1307.6,1999.6 1310.6,1999.6 1313.6,1999.7 1316.6,1999.8 1319.6,1999.9 1322.6,2000.1 1325.6,2000.2 1328.6,2000.4 1331.6,2000.6 1334.6,2000.8 1337.6,2001.1 1340.6,2001.3 1343.6,2001.6 1346.6,2001.9 1349.6,2002.2 1352.6,2002.5 1355.6,2002.8 1358.6,2003.1 1361.6,2003.5 1364.6,2003.9 1367.6,2004.3 1370.6,2004.7 1373.6,2005.1 1376.6,2005.5 1379.6,2005.9 1382.6,2006.3 1385.6,2006.8 1388.6,2007.2 1391.6,2007.7 1394.6,2008.1 1397.6,2008.6 1400.6,2009.0 1403.6,2009.5 1406.6,2010.0 1409.6,2010.4 1412.6,2010.9 1415.6,2011.4 1418.6,2011.9 1421.6,2012.3 1424.6,2012.8 1427.6,2013.3 1430.6,2013.7 1433.6,2014.2 1436.6,2014.6 1439.6,2015.1 1442.6,2015.5 1445.6,2015.9 1448.6,2016.4 1451.6,2016.8 1454.6,2017.2 1457.6,2017.6 1460.6,2018.0 1463.6,2018.4 1466.6,2018.7 1469.6,2019.1 1472.6,2019.5 1475.6,2019.8 1478.6,2020.1 1481.6,2020.5 1484.6,2020.8 1487.6,2021.1 1490.6,2021.4 1493.6,2021.6 1496.6,2021.9 1499.6,2022.1 1502.6,2022.4 1505.6,2022.6 1508.6,2022.8 1511.6,2023.0 1514.6,2023.2 1517.6,2023.4 1520.6,2023.5 1523.6,2023.7 1526.6,2023.8 1529.6,2023.9 1532.6,2024.0 1535.6,2024.1 1538.6,2024.2 1541.6,2024.2 1544.6,2024.3 1547.6,2024.3 1550.6,2024.3 1553.6,2024.3 1556.6,2024.3 1559.6,2024.3 1562.6,2024.3 1565.6,2024.2 1568.6,2024.2 1571.6,2024.1 1574.6,2024.0 1577.6,2023.9 1580.6,2023.8 1583.6,2023.7 1586.6,2023.5 1589.6,2023.4 1592.6,2023.2 1595.6,2023.0 1598.6,2022.8 1601.6,2022.6 1604.6,2022.4 1607.6,2022.2 1610.6,2022.0 1613.6,2021.7 1616.6,2021.5 1619.6,2021.2 1622.6,2020.9 1625.6,2020.6 1628.6,2020.3 1631.6,2020.0 1634.6,2019.7 1637.6,2019.4 1640.6,2019.0 1643.6,2018.7 1646.6,2018.3 1649.6,2018.0 1652.6,2017.6 1655.6,2017.2 1658.6,2016.8 1661.6,2016.4 1664.6,2016.0 1667.6,2015.6 1670.6,2015.2 1673.6,2014.8 1676.6,2014.4 1679.6,2013.9 1682.6,2013.5 1685.6,2013.0 1688.6,2012.6 1691.6,2012.2 1694.6,2011.7 1697.6,2011.2 1700.6,2010.8 1703.6,2010.3 1706.6,2009.9 1709.6,2009.4 1712.6,2009.0 1715.6,2008.5 1718.6,2008.0 1721.6,2007.6 1724.6,2007.1 1727.6,2006.6 1730.6,2006.2 1733.6,2005.7 1736.6,2005.3 1739.6,2004.8 1742.6,2004.4 1745.6,2003.9 1748.6,2003.5 1751.6,2003.1 1754.6,2002.6 1757.6,2002.2 1760.6,2001.8 1763.6,2001.4 1766.6,2001.0 1769.6,2000.6 1772.6,2000.2 1775.6,1999.8 1778.6,1999.4 1781.6,1999.1 1784.6,1998.7 1787.6,1998.3 1790.6,1998.0 1793.6,1997.7 1796.6,1997.4 1799.6,1997.0 1802.6,1996.7 1805.6,1996.4 1808.6,1996.2 1811.6,1995.9 1814.6,1995.6 1817.6,1995.4 1820.6,1995.2 1823.6,1994.9 1826.6,1994.7 1829.6,1994.5 1832.6,1994.3 1835.6,1994.2 1838.6,1994.0 1841.6,1993.8 1844.6,1993.7 1847.6,1993.6 1850.6,1993.5 1853.6,1993.4 1856.6,1993.3 1859.6,1993.2 1862.6,1993.1 1865.6,1993.1 1868.6,1993.1 1871.6,1993.0 1874.6,1993.0 1877.6,1993.0 1880.6,1993.1 1883.6,1993.1 1886.6,1993.1 1889.6,1993.2 1892.6,1993.3 1895.6,1993.3 1898.6,1993.4 1901.6,1993.5 1904.6,1993.7 1907.6,1993.8 1910.6,1993.9 1913.6,1994.1 1916.6,1994.3 1919.6,1994.5 1922.6,1994.7 1925.6,1994.9 1928.6,1995.1 1931.6,1995.3 1934.6,1995.6 1937.6,1995.8 1940.6,1996.1 1943.6,1996.4 1946.6,1996.6 1949.6,1996.9 1952.6,1997.2 1955.6,1997.6 1958.6,1997.9 1961.6,1998.2 1964.6,1998.6 1967.6,1998.9 1970.6,1999.3 1973.6,1999.7 1976.6,2000.1 1979.6,2000.5 1982.6,2000.9 1985.6,2001.3 1988.6,2001.7 1991.6,2002.1 1994.6,2002.6 1997.6,2003.0 2000.6,2003.5 2003.6,2003.9 2006.6,2004.4 2009.6,2004.9 2012.6,2005.3 2015.6,2005.8 2018.6,2006.3 2021.6,2006.8 2024.6,2007.3 2027.6,2007.8 2030.6,2008.3 2033.6,2008.8 2036.6,2009.3 2039.6,2009.8 2042.6,2010.3 2045.6,2010.8 2048.6,2011.4 2051.6,2011.9 2054.6,2012.4 2057.6,2012.9 2060.6,2013.4 2063.6,2014.0 2066.6,2014.5 2069.6,2015.0 2072.6,2015.5 2075.6,2016.1 2078.6,2016.6 2081.6,2017.1 2084.6,2017.6 2087.6,2018.1 2090.6,2018.6 2093.6,2019.2 2096.6,2019.7 2099.6,2020.2 2102.6,2020.7 2105.6,2021.2 2108.6,2021.7 2111.6,2022.1 2114.6,2022.6 2117.6,2023.1 2120.6,2023.6 2123.6,2024.0 2126.6,2024.5 2129.6,2025.0 2132.6,2025.4 2135.6,2025.8 2138.6,2026.3 2141.6,2026.7 2144.6,2027.1 2147.6,2027.6 2150.6,2028.0 2153.6,2028.4 2156.6,2028.8 2159.6,2029.1 2162.6,2029.5 2165.6,2029.9 2168.6,2030.3 2171.6,2030.6 2174.6,2031.0 2177.6,2031.3 2180.6,2031.7 2183.6,2032.0 2186.6,2032.3 2189.6,2032.6 2192.6,2032.9 2195.6,2033.2 2198.6,2033.5 2201.6,2033.8 2204.6,2034.1 2207.6,2034.3 2210.6,2034.6 2213.6,2034.8 2216.6,2035.1 2217.6,2035.2" fill="none" stroke="#000" stroke-width="4.0" stroke-linejoin="round"/>
<g fill="url(#pg)"><circle cx="1295.0" cy="2049.3" r="7.85"/><circle cx="1295.0" cy="2051.3" r="7.85"/><circle cx="1295.0" cy="2054.3" r="7.85"/><circle cx="1295.0" cy="2057.8" r="7.85"/><circle cx="1295.0" cy="2068.8" r="7.85"/><circle cx="1295.0" cy="2075.8" r="7.85"/><circle cx="1295.0" cy="2077.3" r="7.85"/><circle cx="1526.8" cy="2071.8" r="7.85"/><circle cx="1711.0" cy="2086.7" r="7.85"/><circle cx="1770.6" cy="2051.9" r="7.85"/><circle cx="1797.8" cy="2054.5" r="7.85"/><circle cx="1819.7" cy="2048.6" r="7.85"/><circle cx="1808.7" cy="2092.6" r="7.85"/><circle cx="1891.9" cy="2053.5" r="7.85"/><circle cx="1917.7" cy="2062.8" r="7.85"/><circle cx="1925.7" cy="2073.4" r="7.85"/><circle cx="1995.9" cy="2053.9" r="7.85"/><circle cx="2001.9" cy="2093.6" r="7.85"/><circle cx="2046.9" cy="2047.6" r="7.85"/></g>
<polygon points="1091.6,2157.9 1091.6,2143.7 1094.6,2143.1 1097.6,2142.5 1100.6,2141.9 1103.6,2141.3 1106.6,2140.7 1109.6,2140.0 1112.6,2139.4 1115.6,2138.7 1118.6,2138.0 1121.6,2137.3 1124.6,2136.6 1127.6,2135.9 1130.6,2135.2 1133.6,2134.5 1136.6,2133.7 1139.6,2133.0 1142.6,2132.2 1145.6,2131.4 1148.6,2130.6 1151.6,2129.8 1154.6,2129.1 1157.6,2128.3 1160.6,2127.5 1163.6,2126.7 1166.6,2125.8 1169.6,2125.0 1172.6,2124.2 1175.6,2123.4 1178.6,2122.6 1181.6,2121.8 1184.6,2121.0 1187.6,2120.2 1190.6,2119.4 1193.6,2118.6 1196.6,2117.9 1199.6,2117.1 1202.6,2116.3 1205.6,2115.6 1208.6,2114.8 1211.6,2114.1 1214.6,2113.4 1217.6,2112.7 1220.6,2112.0 1223.6,2111.4 1226.6,2110.7 1229.6,2110.1 1232.6,2109.5 1235.6,2108.9 1238.6,2108.3 1241.6,2107.8 1244.6,2107.3 1247.6,2106.8 1250.6,2106.3 1253.6,2105.9 1256.6,2105.5 1259.6,2105.1 1262.6,2104.7 1265.6,2104.4 1268.6,2104.1 1271.6,2103.8 1274.6,2103.6 1277.6,2103.4 1280.6,2103.2 1283.6,2103.1 1286.6,2103.0 1289.6,2102.9 1292.6,2102.8 1295.6,2102.8 1298.6,2102.8 1301.6,2102.9 1304.6,2102.9 1307.6,2103.0 1310.6,2103.2 1313.6,2103.3 1316.6,2103.5 1319.6,2103.8 1322.6,2104.0 1325.6,2104.3 1328.6,2104.6 1331.6,2105.0 1334.6,2105.4 1337.6,2105.7 1340.6,2106.2 1343.6,2106.6 1346.6,2107.1 1349.6,2107.6 1352.6,2108.1 1355.6,2108.6 1358.6,2109.2 1361.6,2109.8 1364.6,2110.4 1367.6,2111.0 1370.6,2111.6 1373.6,2112.3 1376.6,2112.9 1379.6,2113.6 1382.6,2114.3 1385.6,2115.0 1388.6,2115.7 1391.6,2116.4 1394.6,2117.1 1397.6,2117.9 1400.6,2118.6 1403.6,2119.3 1406.6,2120.1 1409.6,2120.8 1412.6,2121.5 1415.6,2122.3 1418.6,2123.0 1421.6,2123.8 1424.6,2124.5 1427.6,2125.2 1430.6,2125.9 1433.6,2126.7 1436.6,2127.4 1439.6,2128.1 1442.6,2128.8 1445.6,2129.4 1448.6,2130.1 1451.6,2130.8 1454.6,2131.4 1457.6,2132.1 1460.6,2132.7 1463.6,2133.3 1466.6,2133.9 1469.6,2134.5 1472.6,2135.0 1475.6,2135.6 1478.6,2136.1 1481.6,2136.6 1484.6,2137.1 1487.6,2137.6 1490.6,2138.1 1493.6,2138.5 1496.6,2139.0 1499.6,2139.4 1502.6,2139.8 1505.6,2140.1 1508.6,2140.5 1511.6,2140.8 1514.6,2141.2 1517.6,2141.5 1520.6,2141.8 1523.6,2142.0 1526.6,2142.3 1529.6,2142.5 1532.6,2142.7 1535.6,2142.9 1538.6,2143.1 1541.6,2143.3 1544.6,2143.4 1547.6,2143.6 1550.6,2143.7 1553.6,2143.8 1556.6,2143.9 1559.6,2143.9 1562.6,2144.0 1565.6,2144.0 1568.6,2144.1 1571.6,2144.1 1574.6,2144.1 1577.6,2144.1 1580.6,2144.0 1583.6,2144.0 1586.6,2143.9 1589.6,2143.9 1592.6,2143.8 1595.6,2143.7 1598.6,2143.6 1601.6,2143.5 1604.6,2143.4 1607.6,2143.3 1610.6,2143.2 1613.6,2143.0 1616.6,2142.9 1619.6,2142.7 1622.6,2142.5 1625.6,2142.4 1628.6,2142.2 1631.6,2142.0 1634.6,2141.8 1637.6,2141.6 1640.6,2141.4 1643.6,2141.2 1646.6,2141.0 1649.6,2140.7 1652.6,2140.5 1655.6,2140.3 1658.6,2140.0 1661.6,2139.8 1664.6,2139.5 1667.6,2139.3 1670.6,2139.1 1673.6,2138.8 1676.6,2138.5 1679.6,2138.3 1682.6,2138.0 1685.6,2137.8 1688.6,2137.5 1691.6,2137.2 1694.6,2137.0 1697.6,2136.7 1700.6,2136.4 1703.6,2136.1 1706.6,2135.9 1709.6,2135.6 1712.6,2135.3 1715.6,2135.0 1718.6,2134.8 1721.6,2134.5 1724.6,2134.2 1727.6,2133.9 1730.6,2133.7 1733.6,2133.4 1736.6,2133.1 1739.6,2132.8 1742.6,2132.6 1745.6,2132.3 1748.6,2132.0 1751.6,2131.8 1754.6,2131.5 1757.6,2131.2 1760.6,2131.0 1763.6,2130.7 1766.6,2130.4 1769.6,2130.2 1772.6,2129.9 1775.6,2129.6 1778.6,2129.4 1781.6,2129.1 1784.6,2128.9 1787.6,2128.6 1790.6,2128.4 1793.6,2128.1 1796.6,2127.9 1799.6,2127.7 1802.6,2127.4 1805.6,2127.2 1808.6,2127.0 1811.6,2126.7 1814.6,2126.5 1817.6,2126.3 1820.6,2126.1 1823.6,2125.9 1826.6,2125.7 1829.6,2125.5 1832.6,2125.3 1835.6,2125.1 1838.6,2124.9 1841.6,2124.7 1844.6,2124.5 1847.6,2124.4 1850.6,2124.2 1853.6,2124.0 1856.6,2123.9 1859.6,2123.7 1862.6,2123.6 1865.6,2123.4 1868.6,2123.3 1871.6,2123.2 1874.6,2123.0 1877.6,2122.9 1880.6,2122.8 1883.6,2122.7 1886.6,2122.6 1889.6,2122.5 1892.6,2122.5 1895.6,2122.4 1898.6,2122.3 1901.6,2122.3 1904.6,2122.2 1907.6,2122.2 1910.6,2122.1 1913.6,2122.1 1916.6,2122.1 1919.6,2122.1 1922.6,2122.1 1925.6,2122.1 1928.6,2122.1 1931.6,2122.2 1934.6,2122.2 1937.6,2122.2 1940.6,2122.3 1943.6,2122.4 1946.6,2122.4 1949.6,2122.5 1952.6,2122.6 1955.6,2122.7 1958.6,2122.8 1961.6,2122.9 1964.6,2123.1 1967.6,2123.2 1970.6,2123.4 1973.6,2123.5 1976.6,2123.7 1979.6,2123.8 1982.6,2124.0 1985.6,2124.2 1988.6,2124.4 1991.6,2124.6 1994.6,2124.9 1997.6,2125.1 2000.6,2125.3 2003.6,2125.6 2006.6,2125.8 2009.6,2126.1 2012.6,2126.3 2015.6,2126.6 2018.6,2126.9 2021.6,2127.2 2024.6,2127.5 2027.6,2127.8 2030.6,2128.1 2033.6,2128.4 2036.6,2128.7 2039.6,2129.1 2042.6,2129.4 2045.6,2129.7 2048.6,2130.1 2051.6,2130.4 2054.6,2130.8 2057.6,2131.1 2060.6,2131.5 2063.6,2131.9 2066.6,2132.2 2069.6,2132.6 2072.6,2133.0 2075.6,2133.4 2078.6,2133.7 2081.6,2134.1 2084.6,2134.5 2087.6,2134.9 2090.6,2135.3 2093.6,2135.7 2096.6,2136.1 2099.6,2136.5 2102.6,2136.9 2105.6,2137.3 2108.6,2137.6 2111.6,2138.0 2114.6,2138.4 2117.6,2138.8 2120.6,2139.2 2123.6,2139.6 2126.6,2140.0 2129.6,2140.4 2132.6,2140.7 2135.6,2141.1 2138.6,2141.5 2141.6,2141.9 2144.6,2142.2 2147.6,2142.6 2150.6,2143.0 2153.6,2143.3 2156.6,2143.7 2159.6,2144.0 2162.6,2144.4 2165.6,2144.7 2168.6,2145.1 2171.6,2145.4 2174.6,2145.7 2177.6,2146.1 2180.6,2146.4 2183.6,2146.7 2186.6,2147.0 2189.6,2147.3 2192.6,2147.6 2195.6,2147.9 2198.6,2148.2 2201.6,2148.5 2204.6,2148.8 2207.6,2149.1 2210.6,2149.4 2213.6,2149.6 2216.6,2149.9 2219.6,2150.1 2222.6,2150.4 2225.6,2150.6 2228.6,2150.9 2231.6,2151.1 2234.6,2151.3 2237.6,2151.6 2240.6,2151.8 2243.6,2152.0 2246.6,2152.2 2248.8,2152.4 2248.8,2157.9" fill="#F8766D" fill-opacity="0.5"/>
<polyline points="1091.6,2143.7 1094.6,2143.1 1097.6,2142.5 1100.6,2141.9 1103.6,2141.3 1106.6,2140.7 1109.6,2140.0 1112.6,2139.4 1115.6,2138.7 1118.6,2138.0 1121.6,2137.3 1124.6,2136.6 1127.6,2135.9 1130.6,2135.2 1133.6,2134.5 1136.6,2133.7 1139.6,2133.0 1142.6,2132.2 1145.6,2131.4 1148.6,2130.6 1151.6,2129.8 1154.6,2129.1 1157.6,2128.3 1160.6,2127.5 1163.6,2126.7 1166.6,2125.8 1169.6,2125.0 1172.6,2124.2 1175.6,2123.4 1178.6,2122.6 1181.6,2121.8 1184.6,2121.0 1187.6,2120.2 1190.6,2119.4 1193.6,2118.6 1196.6,2117.9 1199.6,2117.1 1202.6,2116.3 1205.6,2115.6 1208.6,2114.8 1211.6,2114.1 1214.6,2113.4 1217.6,2112.7 1220.6,2112.0 1223.6,2111.4 1226.6,2110.7 1229.6,2110.1 1232.6,2109.5 1235.6,2108.9 1238.6,2108.3 1241.6,2107.8 1244.6,2107.3 1247.6,2106.8 1250.6,2106.3 1253.6,2105.9 1256.6,2105.5 1259.6,2105.1 1262.6,2104.7 1265.6,2104.4 1268.6,2104.1 1271.6,2103.8 1274.6,2103.6 1277.6,2103.4 1280.6,2103.2 1283.6,2103.1 1286.6,2103.0 1289.6,2102.9 1292.6,2102.8 1295.6,2102.8 1298.6,2102.8 1301.6,2102.9 1304.6,2102.9 1307.6,2103.0 1310.6,2103.2 1313.6,2103.3 1316.6,2103.5 1319.6,2103.8 1322.6,2104.0 1325.6,2104.3 1328.6,2104.6 1331.6,2105.0 1334.6,2105.4 1337.6,2105.7 1340.6,2106.2 1343.6,2106.6 1346.6,2107.1 1349.6,2107.6 1352.6,2108.1 1355.6,2108.6 1358.6,2109.2 1361.6,2109.8 1364.6,2110.4 1367.6,2111.0 1370.6,2111.6 1373.6,2112.3 1376.6,2112.9 1379.6,2113.6 1382.6,2114.3 1385.6,2115.0 1388.6,2115.7 1391.6,2116.4 1394.6,2117.1 1397.6,2117.9 1400.6,2118.6 1403.6,2119.3 1406.6,2120.1 1409.6,2120.8 1412.6,2121.5 1415.6,2122.3 1418.6,2123.0 1421.6,2123.8 1424.6,2124.5 1427.6,2125.2 1430.6,2125.9 1433.6,2126.7 1436.6,2127.4 1439.6,2128.1 1442.6,2128.8 1445.6,2129.4 1448.6,2130.1 1451.6,2130.8 1454.6,2131.4 1457.6,2132.1 1460.6,2132.7 1463.6,2133.3 1466.6,2133.9 1469.6,2134.5 1472.6,2135.0 1475.6,2135.6 1478.6,2136.1 1481.6,2136.6 1484.6,2137.1 1487.6,2137.6 1490.6,2138.1 1493.6,2138.5 1496.6,2139.0 1499.6,2139.4 1502.6,2139.8 1505.6,2140.1 1508.6,2140.5 1511.6,2140.8 1514.6,2141.2 1517.6,2141.5 1520.6,2141.8 1523.6,2142.0 1526.6,2142.3 1529.6,2142.5 1532.6,2142.7 1535.6,2142.9 1538.6,2143.1 1541.6,2143.3 1544.6,2143.4 1547.6,2143.6 1550.6,2143.7 1553.6,2143.8 1556.6,2143.9 1559.6,2143.9 1562.6,2144.0 1565.6,2144.0 1568.6,2144.1 1571.6,2144.1 1574.6,2144.1 1577.6,2144.1 1580.6,2144.0 1583.6,2144.0 1586.6,2143.9 1589.6,2143.9 1592.6,2143.8 1595.6,2143.7 1598.6,2143.6 1601.6,2143.5 1604.6,2143.4 1607.6,2143.3 1610.6,2143.2 1613.6,2143.0 1616.6,2142.9 1619.6,2142.7 1622.6,2142.5 1625.6,2142.4 1628.6,2142.2 1631.6,2142.0 1634.6,2141.8 1637.6,2141.6 1640.6,2141.4 1643.6,2141.2 1646.6,2141.0 1649.6,2140.7 1652.6,2140.5 1655.6,2140.3 1658.6,2140.0 1661.6,2139.8 1664.6,2139.5 1667.6,2139.3 1670.6,2139.1 1673.6,2138.8 1676.6,2138.5 1679.6,2138.3 1682.6,2138.0 1685.6,2137.8 1688.6,2137.5 1691.6,2137.2 1694.6,2137.0 1697.6,2136.7 1700.6,2136.4 1703.6,2136.1 1706.6,2135.9 1709.6,2135.6 1712.6,2135.3 1715.6,2135.0 1718.6,2134.8 1721.6,2134.5 1724.6,2134.2 1727.6,2133.9 1730.6,2133.7 1733.6,2133.4 1736.6,2133.1 1739.6,2132.8 1742.6,2132.6 1745.6,2132.3 1748.6,2132.0 1751.6,2131.8 1754.6,2131.5 1757.6,2131.2 1760.6,2131.0 1763.6,2130.7 1766.6,2130.4 1769.6,2130.2 1772.6,2129.9 1775.6,2129.6 1778.6,2129.4 1781.6,2129.1 1784.6,2128.9 1787.6,2128.6 1790.6,2128.4 1793.6,2128.1 1796.6,2127.9 1799.6,2127.7 1802.6,2127.4 1805.6,2127.2 1808.6,2127.0 1811.6,2126.7 1814.6,2126.5 1817.6,2126.3 1820.6,2126.1 1823.6,2125.9 1826.6,2125.7 1829.6,2125.5 1832.6,2125.3 1835.6,2125.1 1838.6,2124.9 1841.6,2124.7 1844.6,2124.5 1847.6,2124.4 1850.6,2124.2 1853.6,2124.0 1856.6,2123.9 1859.6,2123.7 1862.6,2123.6 1865.6,2123.4 1868.6,2123.3 1871.6,2123.2 1874.6,2123.0 1877.6,2122.9 1880.6,2122.8 1883.6,2122.7 1886.6,2122.6 1889.6,2122.5 1892.6,2122.5 1895.6,2122.4 1898.6,2122.3 1901.6,2122.3 1904.6,2122.2 1907.6,2122.2 1910.6,2122.1 1913.6,2122.1 1916.6,2122.1 1919.6,2122.1 1922.6,2122.1 1925.6,2122.1 1928.6,2122.1 1931.6,2122.2 1934.6,2122.2 1937.6,2122.2 1940.6,2122.3 1943.6,2122.4 1946.6,2122.4 1949.6,2122.5 1952.6,2122.6 1955.6,2122.7 1958.6,2122.8 1961.6,2122.9 1964.6,2123.1 1967.6,2123.2 1970.6,2123.4 1973.6,2123.5 1976.6,2123.7 1979.6,2123.8 1982.6,2124.0 1985.6,2124.2 1988.6,2124.4 1991.6,2124.6 1994.6,2124.9 1997.6,2125.1 2000.6,2125.3 2003.6,2125.6 2006.6,2125.8 2009.6,2126.1 2012.6,2126.3 2015.6,2126.6 2018.6,2126.9 2021.6,2127.2 2024.6,2127.5 2027.6,2127.8 2030.6,2128.1 2033.6,2128.4 2036.6,2128.7 2039.6,2129.1 2042.6,2129.4 2045.6,2129.7 2048.6,2130.1 2051.6,2130.4 2054.6,2130.8 2057.6,2131.1 2060.6,2131.5 2063.6,2131.9 2066.6,2132.2 2069.6,2132.6 2072.6,2133.0 2075.6,2133.4 2078.6,2133.7 2081.6,2134.1 2084.6,2134.5 2087.6,2134.9 2090.6,2135.3 2093.6,2135.7 2096.6,2136.1 2099.6,2136.5 2102.6,2136.9 2105.6,2137.3 2108.6,2137.6 2111.6,2138.0 2114.6,2138.4 2117.6,2138.8 2120.6,2139.2 2123.6,2139.6 2126.6,2140.0 2129.6,2140.4 2132.6,2140.7 2135.6,2141.1 2138.6,2141.5 2141.6,2141.9 2144.6,2142.2 2147.6,2142.6 2150.6,2143.0 2153.6,2143.3 2156.6,2143.7 2159.6,2144.0 2162.6,2144.4 2165.6,2144.7 2168.6,2145.1 2171.6,2145.4 2174.6,2145.7 2177.6,2146.1 2180.6,2146.4 2183.6,2146.7 2186.6,2147.0 2189.6,2147.3 2192.6,2147.6 2195.6,2147.9 2198.6,2148.2 2201.6,2148.5 2204.6,2148.8 2207.6,2149.1 2210.6,2149.4 2213.6,2149.6 2216.6,2149.9 2219.6,2150.1 2222.6,2150.4 2225.6,2150.6 2228.6,2150.9 2231.6,2151.1 2234.6,2151.3 2237.6,2151.6 2240.6,2151.8 2243.6,2152.0 2246.6,2152.2 2248.8,2152.4" fill="none" stroke="#000" stroke-width="4.0" stroke-linejoin="round"/>
<g fill="url(#pg)"><circle cx="1295.0" cy="2164.5" r="7.85"/><circle cx="1295.0" cy="2165.1" r="7.85"/><circle cx="1295.0" cy="2165.5" r="7.85"/><circle cx="1295.0" cy="2165.9" r="7.85"/><circle cx="1295.0" cy="2166.4" r="7.85"/><circle cx="1295.0" cy="2166.8" r="7.85"/><circle cx="1295.0" cy="2167.3" r="7.85"/><circle cx="1295.0" cy="2167.7" r="7.85"/><circle cx="1295.0" cy="2168.0" r="7.85"/><circle cx="1295.0" cy="2168.6" r="7.85"/><circle cx="1295.0" cy="2168.8" r="7.85"/><circle cx="1295.0" cy="2169.4" r="7.85"/><circle cx="1295.0" cy="2169.8" r="7.85"/><circle cx="1295.0" cy="2170.2" r="7.85"/><circle cx="1295.0" cy="2170.6" r="7.85"/><circle cx="1295.0" cy="2171.2" r="7.85"/><circle cx="1295.0" cy="2171.4" r="7.85"/><circle cx="1295.0" cy="2172.0" r="7.85"/><circle cx="1295.0" cy="2172.5" r="7.85"/><circle cx="1295.0" cy="2172.8" r="7.85"/><circle cx="1295.0" cy="2173.2" r="7.85"/><circle cx="1295.0" cy="2173.7" r="7.85"/><circle cx="1295.0" cy="2174.2" r="7.85"/><circle cx="1295.0" cy="2174.6" r="7.85"/><circle cx="1295.0" cy="2175.1" r="7.85"/><circle cx="1295.0" cy="2175.4" r="7.85"/><circle cx="1295.0" cy="2175.8" r="7.85"/><circle cx="1295.0" cy="2176.3" r="7.85"/><circle cx="1295.0" cy="2176.7" r="7.85"/><circle cx="1295.0" cy="2177.3" r="7.85"/><circle cx="1295.0" cy="2177.7" r="7.85"/><circle cx="1295.0" cy="2178.1" r="7.85"/><circle cx="1295.0" cy="2178.4" r="7.85"/><circle cx="1295.0" cy="2179.0" r="7.85"/><circle cx="1295.0" cy="2179.4" r="7.85"/><circle cx="1295.0" cy="2179.8" r="7.85"/><circle cx="1295.0" cy="2180.3" r="7.85"/><circle cx="1295.0" cy="2180.6" r="7.85"/><circle cx="1295.0" cy="2181.0" r="7.85"/><circle cx="1295.0" cy="2181.4" r="7.85"/><circle cx="1295.0" cy="2181.9" r="7.85"/><circle cx="1295.0" cy="2182.3" r="7.85"/><circle cx="1295.0" cy="2182.8" r="7.85"/><circle cx="1295.0" cy="2183.3" r="7.85"/><circle cx="1295.0" cy="2183.7" r="7.85"/><circle cx="1295.0" cy="2184.2" r="7.85"/><circle cx="1295.0" cy="2184.6" r="7.85"/><circle cx="1295.0" cy="2184.9" r="7.85"/><circle cx="1295.0" cy="2185.4" r="7.85"/><circle cx="1295.0" cy="2185.9" r="7.85"/><circle cx="1295.0" cy="2186.4" r="7.85"/><circle cx="1295.0" cy="2186.7" r="7.85"/><circle cx="1295.0" cy="2187.1" r="7.85"/><circle cx="1295.0" cy="2187.6" r="7.85"/><circle cx="1295.0" cy="2188.1" r="7.85"/><circle cx="1295.0" cy="2188.4" r="7.85"/><circle cx="1295.0" cy="2189.0" r="7.85"/><circle cx="1295.0" cy="2189.2" r="7.85"/><circle cx="1295.0" cy="2189.7" r="7.85"/><circle cx="1295.0" cy="2190.1" r="7.85"/><circle cx="1295.0" cy="2190.7" r="7.85"/><circle cx="1295.0" cy="2191.2" r="7.85"/><circle cx="1295.0" cy="2191.6" r="7.85"/><circle cx="1295.0" cy="2191.9" r="7.85"/><circle cx="1295.0" cy="2192.5" r="7.85"/><circle cx="1295.0" cy="2192.8" r="7.85"/><circle cx="1295.0" cy="2193.2" r="7.85"/><circle cx="1295.0" cy="2193.8" r="7.85"/><circle cx="1295.0" cy="2194.1" r="7.85"/><circle cx="1295.0" cy="2194.6" r="7.85"/><circle cx="1295.0" cy="2195.0" r="7.85"/><circle cx="1295.0" cy="2195.5" r="7.85"/><circle cx="1295.0" cy="2195.8" r="7.85"/><circle cx="1295.0" cy="2196.3" r="7.85"/><circle cx="1295.0" cy="2196.8" r="7.85"/><circle cx="1295.0" cy="2197.2" r="7.85"/><circle cx="1295.0" cy="2197.6" r="7.85"/><circle cx="1295.0" cy="2198.1" r="7.85"/><circle cx="1295.0" cy="2198.5" r="7.85"/><circle cx="1295.0" cy="2198.8" r="7.85"/><circle cx="1295.0" cy="2199.3" r="7.85"/><circle cx="1295.0" cy="2199.8" r="7.85"/><circle cx="1295.0" cy="2200.1" r="7.85"/><circle cx="1295.0" cy="2200.7" r="7.85"/><circle cx="1295.0" cy="2201.0" r="7.85"/><circle cx="1295.0" cy="2201.4" r="7.85"/><circle cx="1295.0" cy="2201.8" r="7.85"/><circle cx="1295.0" cy="2202.4" r="7.85"/><circle cx="1295.0" cy="2202.7" r="7.85"/><circle cx="1295.0" cy="2203.1" r="7.85"/><circle cx="1295.0" cy="2203.5" r="7.85"/><circle cx="1295.0" cy="2204.0" r="7.85"/><circle cx="1295.0" cy="2204.6" r="7.85"/><circle cx="1295.0" cy="2205.0" r="7.85"/><circle cx="1295.0" cy="2205.4" r="7.85"/><circle cx="1295.0" cy="2205.9" r="7.85"/><circle cx="1295.0" cy="2206.2" r="7.85"/><circle cx="1295.0" cy="2206.7" r="7.85"/><circle cx="1295.0" cy="2207.1" r="7.85"/><circle cx="1295.0" cy="2207.6" r="7.85"/><circle cx="1295.0" cy="2208.1" r="7.85"/><circle cx="1295.0" cy="2208.5" r="7.85"/><circle cx="1295.0" cy="2208.8" r="7.85"/><circle cx="1295.0" cy="2209.4" r="7.85"/><circle cx="1295.0" cy="2209.8" r="7.85"/><circle cx="1295.0" cy="2210.3" r="7.85"/><circle cx="1295.0" cy="2210.7" r="7.85"/><circle cx="1579.9" cy="2204.7" r="7.85"/><circle cx="1605.1" cy="2170.7" r="7.85"/><circle cx="1622.1" cy="2164.9" r="7.85"/><circle cx="1656.1" cy="2165.7" r="7.85"/><circle cx="1637.8" cy="2189.8" r="7.85"/><circle cx="1653.9" cy="2187.8" r="7.85"/><circle cx="1630.9" cy="2208.8" r="7.85"/><circle cx="1643.3" cy="2206.8" r="7.85"/><circle cx="1666.8" cy="2203.8" r="7.85"/><circle cx="1666.0" cy="2209.6" r="7.85"/><circle cx="1679.6" cy="2179.8" r="7.85"/><circle cx="1687.0" cy="2188.9" r="7.85"/><circle cx="1690.8" cy="2169.5" r="7.85"/><circle cx="1695.5" cy="2173.2" r="7.85"/><circle cx="1696.8" cy="2174.0" r="7.85"/><circle cx="1704.1" cy="2169.9" r="7.85"/><circle cx="1743.9" cy="2167.4" r="7.85"/><circle cx="1744.8" cy="2168.2" r="7.85"/><circle cx="1760.9" cy="2168.7" r="7.85"/><circle cx="1736.7" cy="2179.0" r="7.85"/><circle cx="1749.3" cy="2180.6" r="7.85"/><circle cx="1740.9" cy="2186.8" r="7.85"/><circle cx="1733.9" cy="2195.9" r="7.85"/><circle cx="1774.8" cy="2188.6" r="7.85"/><circle cx="1767.0" cy="2208.0" r="7.85"/><circle cx="1772.8" cy="2209.6" r="7.85"/><circle cx="1777.0" cy="2203.0" r="7.85"/><circle cx="1789.1" cy="2199.7" r="7.85"/><circle cx="1798.0" cy="2164.6" r="7.85"/><circle cx="1803.0" cy="2171.5" r="7.85"/><circle cx="1792.7" cy="2179.8" r="7.85"/><circle cx="1808.0" cy="2182.6" r="7.85"/><circle cx="1804.8" cy="2199.7" r="7.85"/><circle cx="1815.9" cy="2208.0" r="7.85"/><circle cx="1819.7" cy="2179.8" r="7.85"/><circle cx="1818.4" cy="2186.1" r="7.85"/><circle cx="1819.4" cy="2186.8" r="7.85"/><circle cx="1825.8" cy="2172.7" r="7.85"/><circle cx="1833.3" cy="2188.4" r="7.85"/><circle cx="1835.8" cy="2187.3" r="7.85"/><circle cx="1844.9" cy="2186.8" r="7.85"/><circle cx="1833.6" cy="2205.8" r="7.85"/><circle cx="1843.2" cy="2199.7" r="7.85"/><circle cx="1847.4" cy="2208.3" r="7.85"/><circle cx="1852.3" cy="2174.0" r="7.85"/><circle cx="1854.0" cy="2175.7" r="7.85"/><circle cx="1857.3" cy="2183.1" r="7.85"/><circle cx="1863.1" cy="2175.7" r="7.85"/><circle cx="1880.7" cy="2184.8" r="7.85"/><circle cx="1889.8" cy="2189.8" r="7.85"/><circle cx="1882.9" cy="2208.0" r="7.85"/><circle cx="1893.1" cy="2167.4" r="7.85"/><circle cx="1889.0" cy="2174.8" r="7.85"/><circle cx="1909.7" cy="2164.9" r="7.85"/><circle cx="1913.8" cy="2165.7" r="7.85"/><circle cx="1915.5" cy="2166.2" r="7.85"/><circle cx="1920.5" cy="2165.7" r="7.85"/><circle cx="1924.9" cy="2178.2" r="7.85"/><circle cx="1938.7" cy="2179.8" r="7.85"/><circle cx="1938.5" cy="2183.6" r="7.85"/><circle cx="1939.8" cy="2184.3" r="7.85"/><circle cx="1933.7" cy="2190.2" r="7.85"/><circle cx="1911.3" cy="2198.0" r="7.85"/><circle cx="1913.0" cy="2200.5" r="7.85"/><circle cx="1914.7" cy="2202.2" r="7.85"/><circle cx="1935.4" cy="2206.3" r="7.85"/><circle cx="1942.3" cy="2208.8" r="7.85"/><circle cx="1956.1" cy="2208.8" r="7.85"/><circle cx="1949.4" cy="2169.9" r="7.85"/><circle cx="1958.9" cy="2188.6" r="7.85"/><circle cx="1963.5" cy="2166.6" r="7.85"/><circle cx="1966.0" cy="2167.4" r="7.85"/><circle cx="1968.5" cy="2168.6" r="7.85"/><circle cx="1972.6" cy="2169.0" r="7.85"/><circle cx="1974.3" cy="2179.8" r="7.85"/><circle cx="1984.2" cy="2167.4" r="7.85"/><circle cx="1985.9" cy="2184.0" r="7.85"/><circle cx="1964.3" cy="2197.2" r="7.85"/><circle cx="1966.0" cy="2198.9" r="7.85"/><circle cx="1970.1" cy="2193.9" r="7.85"/><circle cx="1977.6" cy="2194.7" r="7.85"/><circle cx="1990.0" cy="2188.9" r="7.85"/><circle cx="1991.7" cy="2190.6" r="7.85"/><circle cx="1993.3" cy="2189.8" r="7.85"/><circle cx="1990.8" cy="2192.2" r="7.85"/><circle cx="1992.5" cy="2188.1" r="7.85"/><circle cx="1986.7" cy="2202.2" r="7.85"/><circle cx="1988.4" cy="2203.8" r="7.85"/><circle cx="1985.9" cy="2205.5" r="7.85"/><circle cx="1998.3" cy="2167.4" r="7.85"/><circle cx="2007.1" cy="2170.7" r="7.85"/><circle cx="2010.7" cy="2186.4" r="7.85"/><circle cx="2011.9" cy="2198.9" r="7.85"/><circle cx="2023.1" cy="2164.9" r="7.85"/><circle cx="2023.1" cy="2168.2" r="7.85"/><circle cx="2024.0" cy="2169.9" r="7.85"/><circle cx="2024.0" cy="2173.2" r="7.85"/><circle cx="2025.6" cy="2185.6" r="7.85"/><circle cx="2039.7" cy="2189.8" r="7.85"/><circle cx="2043.0" cy="2183.1" r="7.85"/><circle cx="2040.9" cy="2197.7" r="7.85"/><circle cx="2047.2" cy="2167.1" r="7.85"/><circle cx="2048.0" cy="2167.9" r="7.85"/><circle cx="2062.9" cy="2179.8" r="7.85"/><circle cx="2072.8" cy="2203.0" r="7.85"/><circle cx="2074.8" cy="2206.3" r="7.85"/><circle cx="2106.8" cy="2172.4" r="7.85"/><circle cx="2118.9" cy="2176.5" r="7.85"/><circle cx="2097.7" cy="2184.8" r="7.85"/><circle cx="2106.3" cy="2183.1" r="7.85"/><circle cx="2108.0" cy="2194.7" r="7.85"/><circle cx="2149.0" cy="2176.5" r="7.85"/><circle cx="2161.9" cy="2196.9" r="7.85"/><circle cx="2176.4" cy="2186.8" r="7.85"/></g>
</g>
<g stroke="#000" stroke-width="4.1" fill="none"><line x1="1097.2" y1="97.2" x2="1097.2" y2="2229.0"/><line x1="1097.2" y1="2229.0" x2="2338.4" y2="2229.0"/></g>
<g stroke="#333" stroke-width="3.8" fill="none"><line x1="1154.0" y1="2229.0" x2="1154.0" y2="2240.5"/><line x1="1436.0" y1="2229.0" x2="1436.0" y2="2240.5"/><line x1="1718.0" y1="2229.0" x2="1718.0" y2="2240.5"/><line x1="2000.0" y1="2229.0" x2="2000.0" y2="2240.5"/><line x1="2282.0" y1="2229.0" x2="2282.0" y2="2240.5"/><line x1="1086.1" y1="167.2" x2="1097.6" y2="167.2"/><line x1="1086.1" y1="284.3" x2="1097.6" y2="284.3"/><line x1="1086.1" y1="401.4" x2="1097.6" y2="401.4"/><line x1="1086.1" y1="518.5" x2="1097.6" y2="518.5"/><line x1="1086.1" y1="635.6" x2="1097.6" y2="635.6"/><line x1="1086.1" y1="752.7" x2="1097.6" y2="752.7"/><line x1="1086.1" y1="869.8" x2="1097.6" y2="869.8"/><line x1="1086.1" y1="986.9" x2="1097.6" y2="986.9"/><line x1="1086.1" y1="1104.0" x2="1097.6" y2="1104.0"/><line x1="1086.1" y1="1221.1" x2="1097.6" y2="1221.1"/><line x1="1086.1" y1="1338.2" x2="1097.6" y2="1338.2"/><line x1="1086.1" y1="1455.3" x2="1097.6" y2="1455.3"/><line x1="1086.1" y1="1572.4" x2="1097.6" y2="1572.4"/><line x1="1086.1" y1="1689.5" x2="1097.6" y2="1689.5"/><line x1="1086.1" y1="1806.6" x2="1097.6" y2="1806.6"/><line x1="1086.1" y1="1923.7" x2="1097.6" y2="1923.7"/><line x1="1086.1" y1="2040.8" x2="1097.6" y2="2040.8"/><line x1="1086.1" y1="2157.9" x2="1097.6" y2="2157.9"/></g>
<g stroke="#000" stroke-width="4.1" fill="none"><line x1="1097.2" y1="97.2" x2="1097.2" y2="2229.0"/><line x1="1097.2" y1="2229.0" x2="2338.4" y2="2229.0"/></g>
<g font-family="'Liberation Sans', sans-serif">
<text x="1097.6" y="63" font-size="55.3" fill="#000">Bifidobacterium_pseudocatenulatum [Species]</text>
<g font-size="36.67" fill="#4D4D4D" text-anchor="middle">
<text x="1153.4" y="2277.0">-8</text>
<text x="1435.4" y="2277.0">-6</text>
<text x="1717.4" y="2277.0">-4</text>
<text x="1999.4" y="2277.0">-2</text>
<text x="2281.4" y="2277.0">0</text>
</g>
<g id="yl" font-size="41.82" font-weight="bold" fill="#4D4D4D" text-anchor="end">
<text x="1076.4" y="184.0">Type_2_diabetes_[n=248].txt</text>
<text x="1076.4" y="301.1">Type_1_diabetes_[n=58].txt</text>
<text x="1076.4" y="418.2">Rheumatoid_arthritis_[n=97].txt</text>
<text x="1076.4" y="535.3">Pneumonia_[n=22].txt</text>
<text x="1076.4" y="652.4">Otitis_[n=107].txt</text>
<text x="1076.4" y="769.5">Metabolic_syndrome_[n=50].txt</text>
<text x="1076.4" y="886.6">Melanoma_[n=64].txt</text>
<text x="1076.4" y="1003.7">Inflammatory_bowel_disease_[n=151].txt</text>
<text x="1076.4" y="1120.8">Infectious_gastroenteritis_[n=20].txt</text>
<text x="1076.4" y="1237.9">Impaired_glucose_tolerance_[n=49].txt</text>
<text x="1076.4" y="1355.0">Hypertension_[n=261].txt</text>
<text x="1076.4" y="1472.1">Hepatitis_B_Virus_[n=99].txt</text>
<text x="1076.4" y="1589.2">Fatty_liver_[n=166].txt</text>
<text x="1076.4" y="1706.3">Colorectal_cancer_[n=352].txt</text>
<text x="1076.4" y="1823.4">Clostridium_difficile_infection_[n=33].txt</text>
<text x="1076.4" y="1940.5">Cirrhosis_[n=123].txt</text>
<text x="1076.4" y="2057.6">Binswanger_disease_[n=20].txt</text>
<text x="1076.4" y="2174.7">Atherosclerotic_cardiovascular_disease_[n=214].txt</text>
</g>
<text x="1718.0" y="2330.2" font-size="46.85" fill="#000" text-anchor="middle">log10 (Relative Abundance)</text>
</g>
<g fill="#4D4D4D"><rect x="603.4" y="188.4" width="23.3" height="3.5"/><rect x="649.9" y="188.4" width="23.3" height="3.5"/><rect x="842.8" y="188.4" width="23.3" height="3.5"/><rect x="626.7" y="305.5" width="23.3" height="3.5"/><rect x="673.2" y="305.5" width="23.3" height="3.5"/><rect x="866.1" y="305.5" width="23.3" height="3.5"/><rect x="687.2" y="422.6" width="23.3" height="3.5"/><rect x="866.1" y="422.6" width="23.3" height="3.5"/><rect x="866.1" y="539.7" width="23.3" height="3.5"/><rect x="842.8" y="656.8" width="23.3" height="3.5"/><rect x="643.0" y="773.9" width="23.3" height="3.5"/><rect x="866.1" y="773.9" width="23.3" height="3.5"/><rect x="866.1" y="891.0" width="23.3" height="3.5"/><rect x="524.4" y="1008.1" width="23.3" height="3.5"/><rect x="666.2" y="1008.1" width="23.3" height="3.5"/><rect x="842.8" y="1008.1" width="23.3" height="3.5"/><rect x="552.4" y="1125.2" width="23.3" height="3.5"/><rect x="866.1" y="1125.2" width="23.3" height="3.5"/><rect x="475.7" y="1242.3" width="23.3" height="3.5"/><rect x="656.9" y="1242.3" width="23.3" height="3.5"/><rect x="866.1" y="1242.3" width="23.3" height="3.5"/><rect x="842.9" y="1359.4" width="23.3" height="3.5"/><rect x="685.6" y="1476.5" width="23.3" height="3.5"/><rect x="739.0" y="1476.5" width="23.3" height="3.5"/><rect x="866.1" y="1476.5" width="23.3" height="3.5"/><rect x="733.6" y="1593.6" width="23.3" height="3.5"/><rect x="842.8" y="1593.6" width="23.3" height="3.5"/><rect x="684.8" y="1710.7" width="23.3" height="3.5"/><rect x="842.9" y="1710.7" width="23.3" height="3.5"/><rect x="499.0" y="1827.8" width="23.3" height="3.5"/><rect x="668.6" y="1827.8" width="23.3" height="3.5"/><rect x="866.1" y="1827.8" width="23.3" height="3.5"/><rect x="842.9" y="1944.9" width="23.3" height="3.5"/><rect x="689.4" y="2062.0" width="23.3" height="3.5"/><rect x="866.1" y="2062.0" width="23.3" height="3.5"/><rect x="347.7" y="2179.1" width="23.3" height="3.5"/><rect x="666.2" y="2179.1" width="23.3" height="3.5"/><rect x="842.9" y="2179.1" width="23.3" height="3.5"/></g>
</svg>
</body></html>
